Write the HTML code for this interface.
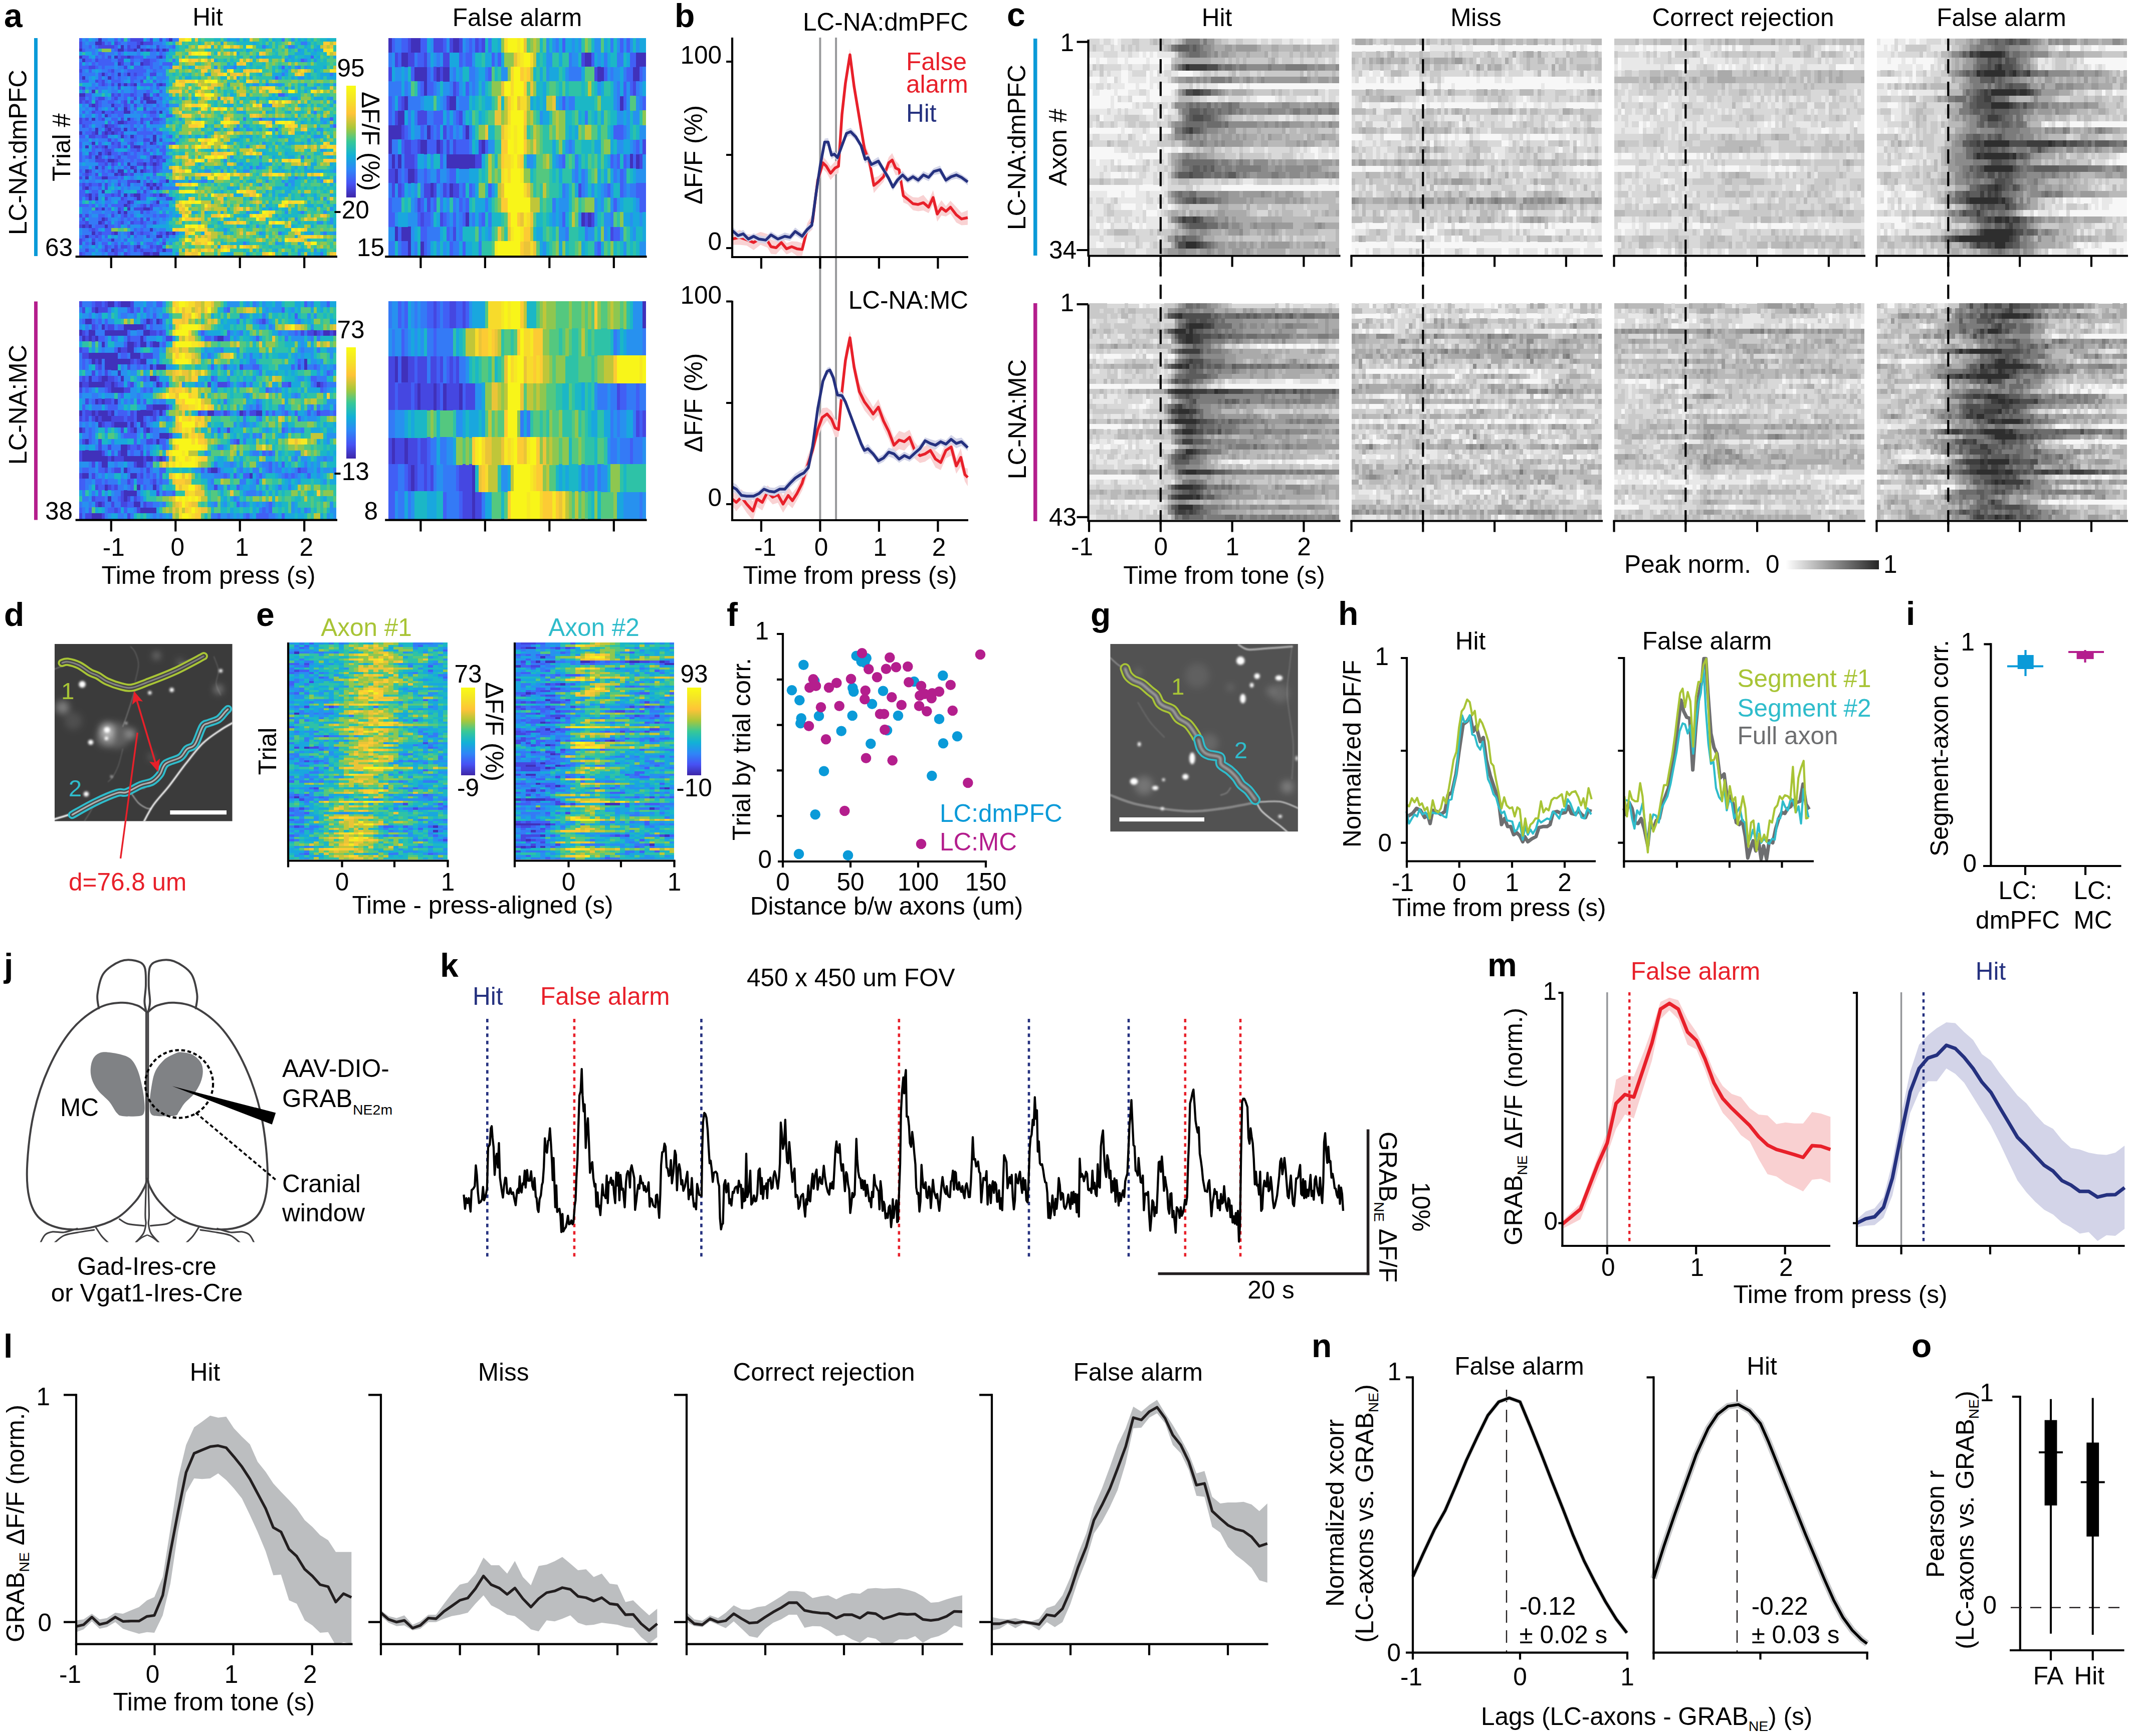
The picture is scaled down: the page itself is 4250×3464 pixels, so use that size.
<!DOCTYPE html><html><head><meta charset="utf-8"><style>html,body{margin:0;padding:0;background:#fff}svg{display:block;font-family:"Liberation Sans",sans-serif;font-size:49.5px}</style></head><body><svg width="4250" height="3464" viewBox="0 0 4250 3464"><rect width="4250" height="3464" fill="#fff"/><text x="8" y="54" font-weight="bold" font-size="66">a</text>
<text x="414.5" y="51" text-anchor="middle">Hit</text>
<text x="1032" y="52" text-anchor="middle">False alarm</text>
<rect x="68" y="76" width="7" height="435" fill="#0a9ad8"/>
<rect x="68" y="601.5" width="7" height="436" fill="#b41e8d"/>
<text text-anchor="middle" transform="translate(52.5,304) rotate(-90)">LC-NA:dmPFC</text>
<text text-anchor="middle" transform="translate(52.5,807.5) rotate(-90)">LC-NA:MC</text>
<text text-anchor="middle" transform="translate(140,294) rotate(-90)">Trial #</text>
<g transform="translate(157.6,79.44) scale(6.4175,6.8889)" shape-rendering="crispEdges" fill="none" stroke-width="1.03">
<rect x="0" y="-0.5" width="80" height="63" fill="#2ec2a7"/>
<path d="M6 0h1M28 0h1M5 1h2M19 1h1M13 2h1M18 2h1M0 3h1M12 3h2M17 3h1M19 3h1M21 3h1M24 3h1M26 3h1M0 5h1M11 5h1M15 5h1M25 5h1M1 6h1M12 7h1M19 7h1M7 10h1M12 10h1M15 10h1M1 11h1M9 11h1M12 13h1M14 13h1M17 13h1M25 13h1M4 15h1M0 16h2M20 16h1M20 17h2M21 18h3M4 19h1M10 19h1M14 20h1M7 21h1M14 21h2M25 21h1M8 22h1M4 23h1M15 23h1M12 24h2M8 25h1M5 26h1M9 26h1M14 26h1M0 27h1M5 27h1M8 27h1M10 27h1M13 28h1M16 28h1M23 28h1M23 29h1M4 30h1M22 30h1M2 31h1M8 31h1M17 31h2M6 33h1M9 33h1M5 34h1M23 34h1M9 35h2M15 36h1M20 36h1M23 36h1M5 37h1M16 37h1M2 38h1M12 38h2M17 38h1M19 38h1M11 39h1M13 39h1M2 40h1M7 40h2M18 41h1M27 41h1M21 42h1M23 42h1M2 43h1M22 43h1M24 43h1M7 44h1M3 45h1M14 45h1M17 45h2M25 45h1M3 46h1M5 46h1M18 46h1M15 47h1M24 47h1M14 48h1M7 49h1M15 49h1M20 49h2M12 50h1M14 50h1M7 52h1M6 53h1M1 54h1M3 54h1M8 54h1M22 55h1M4 56h1M11 56h1M16 56h1M27 56h1M29 56h1M2 57h1M24 57h2M10 58h1M4 59h1M18 60h1M10 61h1M26 61h1M20 62h2M23 62h2" stroke="#4031bb"/>
<path d="M16 0h4M22 0h1M25 0h1M0 1h1M7 1h1M11 1h1M18 1h1M20 1h3M0 2h1M6 2h5M15 2h1M24 2h1M15 3h2M20 3h1M22 3h1M27 3h1M9 5h1M13 5h2M16 5h1M24 5h1M5 6h1M12 6h2M20 6h2M13 7h1M16 7h1M20 7h2M3 8h2M14 8h1M0 9h1M10 9h1M17 10h1M22 10h2M5 12h1M7 12h1M19 12h1M7 13h1M10 13h1M16 13h1M24 13h1M26 13h1M1 14h1M12 14h1M10 16h1M12 16h1M16 16h1M21 16h1M24 16h1M0 17h2M6 17h2M11 17h1M17 17h1M22 17h1M0 18h1M2 18h1M5 18h1M14 18h1M16 18h1M19 18h1M3 19h1M5 19h1M14 19h1M17 19h1M5 20h1M11 20h1M20 20h1M4 21h1M10 21h1M22 21h2M0 23h1M2 23h1M7 23h1M13 23h1M19 23h1M23 23h2M0 24h1M14 24h1M19 24h1M22 24h1M1 25h1M9 25h2M8 26h1M11 26h2M17 26h1M4 27h1M7 27h1M9 27h1M11 27h1M13 27h1M3 28h2M7 28h2M9 29h1M20 29h2M25 29h1M10 30h1M12 30h1M16 30h1M23 30h1M5 31h1M7 31h1M12 31h1M14 31h1M16 31h1M8 32h2M18 32h1M20 32h1M3 33h1M8 33h1M14 33h1M3 34h1M6 34h1M12 34h1M22 34h1M24 34h2M5 35h3M11 35h1M22 35h1M24 35h1M26 35h1M8 36h1M10 36h1M18 36h2M22 36h1M24 36h1M7 37h1M17 37h1M20 37h1M23 37h1M3 38h1M10 38h1M20 38h1M23 38h1M2 39h1M5 39h1M12 39h1M14 39h1M16 39h1M0 40h1M15 41h3M1 42h1M3 42h1M6 42h1M8 42h1M12 42h1M15 42h1M22 42h1M25 42h1M1 43h1M8 43h1M12 44h1M20 44h1M2 45h1M5 45h1M10 45h1M12 45h1M16 45h1M23 45h1M26 45h1M8 46h1M13 46h1M27 46h2M16 47h1M15 48h1M20 48h1M22 48h1M5 49h1M12 49h1M17 49h3M22 49h1M19 50h1M0 51h1M2 51h1M10 51h1M14 51h1M1 52h1M8 52h1M19 52h1M21 52h1M2 53h1M7 53h1M13 53h1M16 53h1M19 53h1M23 53h1M0 54h1M2 54h1M4 55h1M6 56h1M10 56h1M19 56h1M25 56h1M28 56h1M5 57h1M21 57h1M27 57h1M0 58h1M4 58h1M0 59h1M26 59h1M8 60h1M11 60h1M13 60h2M17 60h1M22 60h1M24 60h2M2 61h1M8 61h1M11 61h1M17 61h1M19 61h1M24 61h1M0 62h1M11 62h1M14 62h1M22 62h1" stroke="#4547e1"/>
<path d="M0 0h1M11 0h1M13 0h1M27 0h1M9 1h1M12 1h1M15 1h3M3 2h1M5 2h1M11 2h1M16 2h2M29 2h1M1 3h1M11 3h1M14 3h1M23 3h1M25 3h1M6 4h2M12 4h1M25 4h1M1 5h2M5 5h1M7 5h1M12 5h1M17 5h3M26 5h1M72 5h1M2 6h2M6 6h4M16 6h1M19 6h1M22 6h2M69 6h1M0 7h1M4 7h1M6 7h5M22 7h1M26 7h3M0 8h3M5 8h1M7 8h1M17 8h3M22 8h1M25 8h1M63 8h1M3 9h1M9 9h1M15 9h6M23 9h1M0 10h1M6 10h1M8 10h1M10 10h1M14 10h1M16 10h1M18 10h2M0 11h1M6 11h1M10 11h1M12 11h1M16 11h2M20 11h1M61 11h1M1 12h2M6 12h1M10 12h3M16 12h1M23 12h1M6 13h1M8 13h1M13 13h1M15 13h1M19 13h4M0 14h1M5 14h1M17 14h1M24 14h1M17 15h1M21 15h1M25 15h1M2 16h2M11 16h1M14 16h2M17 16h1M23 16h1M62 16h2M3 17h1M5 17h1M10 17h1M14 17h1M19 17h1M25 17h1M1 18h1M3 18h1M6 18h1M9 18h2M13 18h1M6 19h1M11 19h2M15 19h1M20 19h1M24 19h1M27 19h1M15 20h1M17 20h1M23 20h1M1 21h1M5 21h2M8 21h2M11 21h3M20 21h2M6 22h1M9 22h1M12 22h2M22 22h2M27 22h2M1 23h1M6 23h1M10 23h2M16 23h1M20 23h2M25 23h1M56 23h1M78 23h1M1 24h3M9 24h1M11 24h1M15 24h3M23 24h2M2 25h1M7 25h1M11 25h1M16 25h1M20 25h1M79 25h1M3 26h1M10 26h1M16 26h1M20 26h1M23 26h1M2 27h2M12 27h1M18 27h5M24 27h2M0 28h2M5 28h2M14 28h1M17 28h1M20 28h1M28 28h1M11 29h1M16 29h2M0 30h1M6 30h1M11 30h1M15 30h1M20 30h1M28 30h2M0 31h1M4 31h1M6 31h1M10 31h2M19 31h2M24 31h1M26 31h1M4 32h1M7 32h1M10 32h1M16 32h2M22 32h1M25 32h2M0 33h1M4 33h1M7 33h1M10 33h2M13 33h1M15 33h1M17 33h1M20 33h2M26 33h1M0 34h1M2 34h1M9 34h1M11 34h1M15 34h3M0 35h1M8 35h1M12 35h2M16 35h1M18 35h2M23 35h1M25 35h1M6 36h2M11 36h1M13 36h1M21 36h1M25 36h1M10 37h1M14 37h1M24 37h2M0 38h1M7 38h1M9 38h1M15 38h1M21 38h1M24 38h1M1 39h1M3 39h1M7 39h2M15 39h1M23 39h1M5 40h2M9 40h3M13 40h1M21 40h1M12 41h1M20 41h1M22 41h1M25 41h2M0 42h1M2 42h1M4 42h2M20 42h1M24 42h1M3 43h1M6 43h1M19 43h1M21 43h1M23 43h1M25 43h1M0 44h2M4 44h2M18 44h1M0 45h2M4 45h1M8 45h2M11 45h1M19 45h2M22 45h1M24 45h1M0 46h1M2 46h1M4 46h1M14 46h1M17 46h1M19 46h2M12 47h3M23 47h1M0 48h3M4 48h1M8 48h1M10 48h4M19 48h1M23 48h2M27 48h1M6 49h1M9 49h1M13 49h1M10 50h1M13 50h1M21 50h1M6 51h2M13 51h1M16 51h1M23 51h1M25 51h2M6 52h1M13 52h1M15 52h1M17 52h1M0 53h2M9 53h1M12 53h1M17 53h2M20 53h1M5 54h3M9 54h2M12 54h1M15 54h1M20 54h1M3 55h1M5 55h1M8 55h2M17 55h1M19 55h1M5 56h1M7 56h3M15 56h1M18 56h1M20 56h2M24 56h1M26 56h1M1 57h1M3 57h2M6 57h1M8 57h1M15 57h1M17 57h1M1 58h1M6 58h1M9 58h1M14 58h1M23 58h1M26 58h1M2 59h1M7 59h2M11 59h1M13 59h1M18 59h1M21 59h2M9 60h1M15 60h1M23 60h1M7 61h1M12 61h2M15 61h1M18 61h1M20 61h3M25 61h1M27 61h2M1 62h1M9 62h2M15 62h1M19 62h1" stroke="#415ff5"/>
<path d="M2 0h1M5 0h1M7 0h2M15 0h1M21 0h1M29 0h2M63 0h1M1 1h1M3 1h2M8 1h1M13 1h2M23 1h3M69 1h2M1 2h2M14 2h1M19 2h2M22 2h1M25 2h2M28 2h1M57 2h1M65 2h2M2 3h3M10 3h1M18 3h1M4 4h1M8 4h3M13 4h1M18 4h1M22 4h2M26 4h1M6 5h1M8 5h1M21 5h3M0 6h1M4 6h1M10 6h2M17 6h2M24 6h1M29 6h1M70 6h1M2 7h1M5 7h1M14 7h2M23 7h2M6 8h1M8 8h3M12 8h2M20 8h2M23 8h2M28 8h1M48 8h1M68 8h1M1 9h1M7 9h2M11 9h2M14 9h1M22 9h1M24 9h3M1 10h4M9 10h1M11 10h1M13 10h1M20 10h1M26 10h1M63 10h1M78 10h1M2 11h1M8 11h1M11 11h1M13 11h2M18 11h2M22 11h1M24 11h3M0 12h1M8 12h1M13 12h1M17 12h2M25 12h1M4 13h1M9 13h1M11 13h1M58 13h1M3 14h2M6 14h3M10 14h1M16 14h1M22 14h1M1 15h1M6 15h1M10 15h2M13 15h1M16 15h1M18 15h3M22 15h1M13 16h1M18 16h2M2 17h1M8 17h1M12 17h2M16 17h1M23 17h2M7 18h2M11 18h1M20 18h1M24 18h2M1 19h1M7 19h3M13 19h1M18 19h1M21 19h2M25 19h1M2 20h1M4 20h1M6 20h1M9 20h1M13 20h1M22 20h1M24 20h3M3 21h1M16 21h1M18 21h2M24 21h1M27 21h1M73 21h1M0 22h1M2 22h2M5 22h1M10 22h2M19 22h1M21 22h1M24 22h1M3 23h1M5 23h1M17 23h1M22 23h1M26 23h1M51 23h1M60 23h1M4 24h4M18 24h1M20 24h1M25 24h2M0 25h1M3 25h1M5 25h2M12 25h1M14 25h2M18 25h1M0 26h3M4 26h1M6 26h1M13 26h1M15 26h1M19 26h1M21 26h1M48 26h1M61 26h1M1 27h1M23 27h1M12 28h1M15 28h1M18 28h2M21 28h2M25 28h1M27 28h1M0 29h3M4 29h1M6 29h3M10 29h1M14 29h2M18 29h2M22 29h1M3 30h1M17 30h1M21 30h1M26 30h2M9 31h1M13 31h1M21 31h3M25 31h1M0 32h1M5 32h2M15 32h1M19 32h1M23 32h1M5 33h1M12 33h1M16 33h1M18 33h2M23 33h1M1 34h1M4 34h1M7 34h1M10 34h1M13 34h2M18 34h1M21 34h1M26 34h2M69 34h1M1 35h1M3 35h2M14 35h2M17 35h1M20 35h2M9 36h1M16 36h2M0 37h3M4 37h1M6 37h1M8 37h1M12 37h1M15 37h1M22 37h1M53 37h1M55 37h1M1 38h1M4 38h1M6 38h1M8 38h1M11 38h1M18 38h1M22 38h1M25 38h1M0 39h1M4 39h1M9 39h2M19 39h1M1 40h1M4 40h1M12 40h1M16 40h1M23 40h1M25 40h2M67 40h1M1 41h1M3 41h2M7 41h1M9 41h1M13 41h2M29 41h1M34 41h1M38 41h2M9 42h1M11 42h1M14 42h1M17 42h2M64 42h1M0 43h1M4 43h2M13 43h1M15 43h1M26 43h5M3 44h1M11 44h1M13 44h1M21 44h1M15 45h1M21 45h1M27 45h1M9 46h1M15 46h2M24 46h3M0 47h1M5 47h1M8 47h2M22 47h1M3 48h1M6 48h1M16 48h1M18 48h1M21 48h1M25 48h2M1 49h3M8 49h1M25 49h1M1 50h2M4 50h3M8 50h2M11 50h1M15 50h2M20 50h1M22 50h2M26 50h1M69 50h1M1 51h1M3 51h1M8 51h1M11 51h1M15 51h1M20 51h3M24 51h1M27 51h1M0 52h1M3 52h3M9 52h1M12 52h1M14 52h1M16 52h1M18 52h1M23 52h2M26 52h1M3 53h3M8 53h1M11 53h1M14 53h1M21 53h2M24 53h1M4 54h1M11 54h1M19 54h1M1 55h2M18 55h1M20 55h2M23 55h1M25 55h2M1 56h3M12 56h1M14 56h1M17 56h1M22 56h1M30 56h1M62 56h1M76 56h1M0 57h1M12 57h1M18 57h2M22 57h2M26 57h1M29 57h1M2 58h1M5 58h1M7 58h2M11 58h2M17 58h3M24 58h1M3 59h1M5 59h1M10 59h1M15 59h1M20 59h1M23 59h1M25 59h1M51 59h1M1 60h2M5 60h1M7 60h1M10 60h1M12 60h1M16 60h1M19 60h1M21 60h1M0 61h2M3 61h2M6 61h1M9 61h1M16 61h1M23 61h1M2 62h2M7 62h1M12 62h1M16 62h3M75 62h1" stroke="#347af6"/>
<path d="M1 0h1M4 0h1M9 0h2M12 0h1M24 0h1M26 0h1M46 0h1M49 0h1M66 0h1M2 1h1M26 1h1M4 2h1M12 2h1M21 2h1M23 2h1M27 2h1M5 3h1M29 3h1M68 3h1M73 3h1M5 4h1M11 4h1M15 4h3M24 4h1M3 5h1M10 5h1M55 5h1M65 5h1M25 6h2M64 6h1M73 6h1M3 7h1M11 7h1M17 7h2M25 7h1M11 8h1M15 8h1M26 8h2M42 8h1M45 8h1M47 8h1M65 8h1M67 8h1M70 8h1M2 9h1M4 9h1M6 9h1M13 9h1M21 9h1M64 9h1M5 10h1M21 10h1M24 10h2M3 11h1M5 11h1M7 11h1M15 11h1M27 11h1M62 11h1M68 11h2M3 12h2M9 12h1M14 12h1M21 12h1M24 12h1M26 12h1M5 13h1M18 13h1M23 13h1M54 13h2M61 13h2M70 13h1M79 13h1M2 14h1M9 14h1M11 14h1M14 14h2M20 14h1M23 14h1M25 14h2M73 14h1M3 15h1M9 15h1M14 15h2M26 15h1M4 16h1M25 16h3M64 16h1M4 17h1M9 17h1M18 17h1M26 17h1M28 17h1M32 17h1M43 17h1M66 17h2M78 17h1M12 18h1M17 18h2M27 18h1M79 18h1M2 19h1M16 19h1M19 19h1M23 19h1M26 19h1M28 19h3M57 19h1M59 19h1M0 20h2M3 20h1M7 20h1M10 20h1M12 20h1M16 20h1M21 20h1M27 20h1M0 21h1M2 21h1M17 21h1M26 21h1M7 22h1M14 22h5M8 23h2M12 23h1M14 23h1M18 23h1M31 23h1M57 23h1M59 23h1M75 23h1M10 24h1M76 24h1M13 25h1M17 25h1M19 25h1M22 25h4M49 25h1M51 25h1M78 25h1M7 26h1M18 26h1M22 26h1M24 26h1M42 26h1M49 26h1M52 26h1M59 26h1M74 26h2M6 27h1M14 27h4M26 27h2M2 28h1M9 28h2M24 28h1M31 28h1M39 28h1M62 28h1M73 28h2M5 29h1M12 29h1M24 29h1M26 29h1M30 29h1M71 29h1M1 30h2M7 30h1M9 30h1M13 30h2M18 30h1M24 30h1M57 30h1M1 31h1M52 31h1M2 32h2M11 32h1M21 32h1M27 32h1M75 32h1M1 33h1M25 33h1M8 34h1M28 34h1M47 34h1M56 34h1M2 35h1M45 35h1M0 36h1M2 36h4M14 36h1M50 36h1M56 36h1M11 37h1M13 37h1M18 37h2M21 37h1M27 37h1M56 37h1M70 37h1M5 38h1M16 38h1M26 38h3M39 38h2M44 38h1M51 38h2M79 38h1M17 39h2M3 40h1M15 40h1M17 40h1M19 40h1M22 40h1M24 40h1M74 40h1M0 41h1M2 41h1M5 41h2M10 41h2M19 41h1M21 41h1M24 41h1M30 41h1M37 41h1M41 41h1M58 41h1M63 41h1M65 41h2M75 41h1M79 41h1M7 42h1M13 42h1M16 42h1M19 42h1M26 42h1M28 42h1M56 42h1M66 42h1M11 43h1M14 43h1M16 43h3M20 43h1M6 44h1M10 44h1M19 44h1M22 44h1M24 44h1M6 45h2M13 45h1M69 45h1M1 46h1M6 46h1M10 46h3M29 46h1M53 46h1M76 46h1M3 47h1M6 47h1M10 47h1M17 47h1M19 47h2M26 47h2M7 48h1M9 48h1M17 48h1M11 49h1M16 49h1M23 49h2M26 49h2M59 49h1M78 49h1M3 50h1M7 50h1M17 50h2M24 50h1M28 50h1M52 50h1M55 50h1M64 50h1M76 50h1M4 51h2M9 51h1M12 51h1M17 51h1M19 51h1M28 51h1M30 51h1M10 52h2M20 52h1M22 52h1M25 52h1M27 52h1M67 52h1M78 52h1M15 53h1M25 53h2M74 53h2M78 53h1M14 54h1M16 54h3M21 54h2M55 54h1M0 55h1M6 55h1M16 55h1M24 55h1M45 55h1M0 56h1M13 56h1M23 56h1M56 56h1M72 56h1M79 56h1M7 57h1M10 57h1M13 57h2M20 57h1M28 57h1M3 58h1M13 58h1M16 58h1M20 58h3M27 58h1M1 59h1M6 59h1M12 59h1M14 59h1M17 59h1M28 59h1M61 59h1M3 60h1M20 60h1M14 61h1M73 61h1M5 62h2M8 62h1M13 62h1M25 62h4M30 62h1M68 62h1" stroke="#2791ef"/>
<path d="M3 0h1M20 0h1M23 0h1M47 0h2M51 0h1M58 0h1M60 0h1M68 0h1M70 0h1M77 0h1M10 1h1M29 1h1M44 1h1M54 1h1M71 1h1M58 2h1M67 2h1M70 2h1M74 2h1M28 3h1M47 3h1M52 3h1M69 3h1M71 3h1M74 3h2M0 4h1M2 4h2M14 4h1M19 4h1M27 4h1M49 4h1M67 4h3M72 4h2M4 5h1M20 5h1M28 5h1M40 5h1M53 5h1M57 5h1M66 5h1M70 5h2M74 5h1M79 5h1M14 6h2M42 6h1M66 6h1M68 6h1M71 6h1M1 7h1M30 7h1M46 7h1M48 7h1M53 7h1M34 8h1M46 8h1M50 8h2M62 8h1M71 8h1M76 8h1M5 9h1M63 9h1M73 9h1M40 10h1M56 10h1M60 10h3M64 10h1M71 10h1M75 10h3M79 10h1M4 11h1M23 11h1M33 11h2M49 11h1M53 11h1M60 11h1M66 11h1M71 11h1M75 11h1M77 11h3M15 12h1M27 12h1M1 13h3M27 13h1M46 13h1M52 13h1M59 13h2M63 13h1M74 13h1M76 13h2M13 14h1M19 14h1M21 14h1M64 14h1M66 14h1M72 14h1M0 15h1M7 15h2M12 15h1M23 15h2M70 15h1M5 16h2M8 16h1M22 16h1M47 16h1M60 16h1M15 17h1M27 17h1M35 17h1M55 17h1M59 17h1M61 17h1M73 17h3M77 17h1M15 18h1M26 18h1M0 19h1M46 19h2M58 19h1M69 19h1M78 19h1M8 20h1M49 21h3M58 21h1M65 21h1M72 21h1M1 22h1M4 22h1M20 22h1M26 22h1M29 22h1M37 23h1M54 23h2M58 23h1M61 23h2M64 23h1M67 23h1M72 23h1M76 23h2M21 24h1M28 24h1M60 24h1M69 24h1M75 24h1M4 25h1M21 25h1M26 25h1M39 25h1M52 25h1M53 26h1M56 26h1M69 27h1M71 27h1M75 27h1M11 28h1M26 28h1M34 28h1M36 28h2M50 28h1M52 28h2M63 28h1M75 28h1M3 29h1M27 29h2M48 29h2M53 29h1M65 29h1M5 30h1M8 30h1M19 30h1M25 30h1M46 30h1M61 30h1M65 30h2M69 30h1M71 30h1M3 31h1M15 31h1M58 31h1M1 32h1M12 32h3M24 32h1M28 32h1M41 32h1M43 32h1M46 32h1M76 32h1M2 33h1M22 33h1M24 33h1M57 33h1M64 33h1M19 34h2M53 34h1M60 34h1M65 34h2M71 34h1M78 34h1M27 35h1M48 35h1M1 36h1M12 36h1M26 36h1M28 36h1M37 36h1M49 36h1M52 36h1M58 36h2M63 36h1M72 36h2M78 36h1M3 37h1M9 37h1M26 37h1M42 37h2M46 37h1M48 37h1M51 37h1M57 37h1M62 37h1M67 37h1M72 37h1M79 37h1M14 38h1M37 38h1M46 38h1M49 38h1M61 38h1M63 38h1M66 38h1M70 38h3M74 38h2M78 38h1M6 39h1M20 39h3M14 40h1M18 40h1M20 40h1M35 40h1M38 40h1M65 40h2M68 40h1M70 40h1M72 40h1M79 40h1M8 41h1M23 41h1M28 41h1M31 41h2M35 41h2M53 41h1M10 42h1M27 42h1M29 42h1M78 42h1M7 43h1M9 43h1M12 43h1M36 43h1M46 43h2M49 43h1M61 43h2M65 43h2M2 44h1M14 44h2M44 44h1M58 44h1M60 44h1M64 44h2M48 45h3M57 45h1M60 45h1M62 45h3M73 45h1M78 45h1M21 46h1M23 46h1M73 46h1M7 47h1M11 47h1M18 47h1M21 47h1M25 47h1M29 47h1M77 47h1M5 48h1M58 48h1M71 48h2M75 48h1M79 48h1M0 49h1M28 49h2M57 49h1M61 49h1M64 49h1M0 50h1M29 50h1M35 50h2M39 50h1M44 50h1M54 50h1M68 50h1M18 51h1M29 51h1M31 51h1M51 51h1M61 51h1M2 52h1M28 52h1M46 52h1M62 52h1M64 52h1M10 53h1M27 53h1M37 53h1M43 53h1M68 53h1M77 53h1M13 54h1M23 54h5M49 54h1M52 54h1M60 54h1M66 54h1M72 54h1M79 54h1M7 55h1M27 55h2M31 56h2M38 56h1M45 56h1M57 56h1M63 56h1M70 56h2M75 56h1M78 56h1M11 57h1M16 57h1M30 57h1M67 57h1M15 58h1M25 58h1M28 58h3M71 58h1M79 58h1M9 59h1M24 59h1M52 59h1M62 59h2M68 59h1M0 60h1M4 60h1M6 60h1M26 60h1M43 60h1M5 61h1M56 61h1M61 61h1M68 61h2M75 61h1M4 62h1M46 62h2M52 62h1M64 62h1M71 62h1M73 62h2" stroke="#19a7de"/>
<path d="M42 0h2M45 0h1M52 0h1M57 0h1M61 0h2M69 0h1M72 0h1M75 0h2M78 0h2M27 1h1M37 1h1M49 1h5M55 1h1M57 1h1M59 1h1M61 1h1M67 1h2M73 1h1M30 2h1M33 2h1M41 2h1M51 2h1M55 2h2M59 2h1M61 2h1M64 2h1M71 2h1M73 2h1M30 3h1M40 3h1M48 3h1M50 3h1M53 3h1M60 3h1M65 3h1M72 3h1M20 4h2M28 4h2M42 4h1M55 4h1M61 4h1M74 4h1M76 4h1M27 5h1M32 5h1M49 5h2M56 5h1M58 5h5M64 5h1M68 5h2M73 5h1M77 5h1M27 6h1M30 6h1M45 6h1M47 6h1M54 6h1M65 6h1M67 6h1M74 6h1M76 6h1M29 7h1M57 7h1M74 7h3M16 8h1M32 8h1M35 8h1M49 8h1M53 8h1M55 8h2M60 8h1M64 8h1M72 8h4M45 9h1M50 9h1M60 9h1M74 9h1M29 10h1M32 10h1M34 10h1M39 10h1M55 10h1M70 10h1M74 10h1M21 11h1M31 11h1M37 11h1M44 11h2M51 11h1M64 11h1M67 11h1M70 11h1M72 11h1M74 11h1M20 12h1M22 12h1M29 12h1M48 12h1M51 12h1M58 12h1M28 13h1M53 13h1M57 13h1M68 13h2M73 13h1M18 14h1M43 14h1M68 14h1M70 14h2M76 14h2M45 15h1M47 15h1M68 15h1M9 16h1M45 16h1M48 16h1M52 16h1M65 16h4M72 16h1M29 17h2M36 17h1M50 17h2M53 17h2M58 17h1M60 17h1M63 17h1M65 17h1M68 17h1M4 18h1M42 18h1M49 18h1M55 18h1M71 18h1M42 19h1M45 19h1M50 19h1M68 19h1M70 19h1M72 19h1M74 19h1M18 20h2M36 20h1M60 20h1M76 20h1M28 21h1M59 21h2M64 21h1M68 21h2M75 21h1M25 22h1M44 22h1M68 22h1M79 22h1M28 23h2M36 23h1M63 23h1M65 23h2M70 23h1M79 23h1M8 24h1M27 24h1M32 24h1M42 24h1M70 24h1M72 24h2M77 24h1M79 24h1M31 25h1M41 25h1M55 25h1M62 25h1M74 25h1M26 26h2M30 26h1M38 26h1M43 26h1M45 26h1M50 26h1M55 26h1M60 26h1M72 26h1M77 26h1M28 27h2M40 27h2M60 27h1M62 27h1M67 27h2M73 27h1M29 28h1M32 28h1M51 28h1M55 28h1M60 28h2M64 28h3M72 28h1M78 28h1M13 29h1M47 29h1M50 29h1M66 29h1M73 29h1M76 29h1M30 30h1M47 30h1M50 30h1M55 30h1M58 30h2M62 30h1M64 30h1M67 30h2M74 30h1M78 30h1M27 31h1M50 31h1M60 31h1M63 31h1M39 32h2M56 32h3M60 32h1M64 32h2M71 32h1M78 32h1M27 33h1M29 33h1M31 33h2M49 33h1M58 33h4M65 33h3M73 33h2M51 34h2M54 34h1M61 34h2M64 34h1M77 34h1M28 35h1M47 35h1M50 35h2M56 35h1M69 35h1M73 35h1M27 36h1M29 36h1M31 36h1M45 36h1M51 36h1M53 36h1M57 36h1M79 36h1M36 37h1M39 37h1M49 37h1M52 37h1M54 37h1M66 37h1M78 37h1M35 38h1M38 38h1M50 38h1M60 38h1M62 38h1M64 38h1M68 38h1M73 38h1M76 38h2M26 39h1M55 39h1M33 40h1M57 40h2M69 40h1M73 40h1M76 40h2M33 41h1M40 41h1M50 41h1M52 41h1M54 41h1M64 41h1M67 41h2M71 41h1M74 41h1M42 42h1M55 42h1M65 42h1M67 42h2M76 42h1M10 43h1M48 43h1M60 43h1M63 43h2M68 43h1M70 43h1M73 43h1M75 43h1M77 43h1M79 43h1M8 44h2M16 44h2M23 44h1M25 44h1M28 44h1M42 44h1M76 44h1M28 45h1M30 45h1M33 45h2M58 45h1M66 45h1M70 45h1M72 45h1M79 45h1M7 46h1M22 46h1M30 46h1M33 46h1M45 46h1M51 46h1M60 46h1M62 46h1M66 46h1M70 46h1M74 46h1M1 47h1M4 47h1M28 47h1M41 47h1M59 47h1M71 47h1M28 48h1M45 48h1M50 48h1M53 48h1M56 48h1M59 48h1M61 48h1M67 48h1M70 48h1M74 48h1M10 49h1M14 49h1M46 49h1M58 49h1M60 49h1M63 49h1M66 49h2M73 49h1M79 49h1M25 50h1M27 50h1M30 50h1M40 50h1M53 50h1M66 50h2M70 50h1M77 50h1M48 51h3M52 51h1M63 51h5M79 51h1M41 52h1M45 52h1M48 52h1M58 52h1M79 52h1M32 53h1M44 53h1M53 53h1M58 53h1M70 53h3M79 53h1M28 54h1M40 54h2M44 54h1M50 54h1M57 54h1M61 54h2M67 54h1M43 55h2M46 55h1M64 55h2M47 56h1M64 56h1M77 56h1M9 57h1M31 57h1M57 57h1M76 58h1M16 59h1M19 59h1M27 59h1M44 59h2M47 59h4M57 59h1M59 60h1M63 60h1M65 60h1M69 60h1M29 61h2M32 61h1M51 61h1M54 61h1M60 61h1M66 61h1M70 61h1M76 61h1M29 62h1M45 62h1M63 62h1M76 62h1" stroke="#1bb7c6"/>
<path d="M38 0h1M44 0h1M59 0h1M64 0h1M73 0h1M33 1h1M36 1h1M42 1h1M46 1h2M58 1h1M60 1h1M63 1h1M66 1h1M36 2h1M60 2h1M62 2h1M72 2h1M35 3h2M54 3h2M62 3h1M67 3h1M32 4h1M41 4h1M44 4h1M50 4h2M54 4h1M59 4h1M62 4h2M29 5h1M37 5h3M42 5h5M48 5h1M51 5h2M63 5h1M75 5h1M78 5h1M46 6h1M62 6h1M77 6h3M32 7h1M38 7h1M41 7h1M44 7h2M59 7h1M61 7h1M63 7h2M66 7h1M68 7h3M78 7h1M41 8h1M59 8h1M77 8h1M32 9h1M35 9h1M37 9h1M40 9h1M44 9h1M59 9h1M61 9h1M72 9h1M31 10h1M35 10h1M37 10h1M46 10h1M57 10h1M30 11h1M32 11h1M38 11h2M41 11h1M43 11h1M50 11h1M54 11h1M44 12h1M62 12h4M68 12h1M70 12h2M73 12h1M76 12h2M79 12h1M33 13h1M35 13h1M45 13h1M51 13h1M64 13h1M67 13h1M71 13h2M28 14h1M33 14h1M35 14h1M37 14h1M42 14h1M45 14h1M47 14h1M55 14h1M61 14h1M63 14h1M65 14h1M67 14h1M69 14h1M74 14h1M79 14h1M27 15h1M32 15h1M35 15h1M44 15h1M48 15h1M52 15h1M55 15h1M58 15h1M63 15h2M78 15h1M32 16h2M44 16h1M46 16h1M54 16h3M69 16h1M71 16h1M74 16h1M78 16h2M31 17h1M37 17h1M49 17h1M79 17h1M29 18h1M35 18h1M43 18h1M46 18h1M48 18h1M57 18h1M67 18h1M69 18h1M72 18h3M31 19h1M43 19h1M48 19h1M51 19h1M53 19h1M64 19h1M66 19h1M71 19h1M73 19h1M76 19h1M79 19h1M31 20h1M37 20h1M40 20h1M46 20h1M51 20h1M57 20h3M62 20h1M64 20h1M66 20h1M70 20h1M75 20h1M78 20h1M33 21h3M38 21h2M47 21h1M52 21h4M62 21h2M66 21h1M79 21h1M30 22h1M36 22h2M42 22h1M48 22h3M58 22h1M60 22h1M64 22h2M69 22h1M72 22h1M77 22h1M35 23h1M40 23h2M43 23h1M48 23h1M50 23h1M68 23h1M71 23h1M74 23h1M30 24h1M40 24h2M52 24h1M67 24h1M28 25h1M48 25h1M50 25h1M57 25h1M60 25h2M63 25h1M71 25h2M75 25h3M36 26h1M40 26h1M44 26h1M46 26h1M57 26h1M67 26h2M79 26h1M35 27h3M44 27h1M51 27h1M54 27h1M56 27h1M64 27h1M74 27h1M77 27h1M30 28h1M47 28h2M59 28h1M69 28h1M71 28h1M33 29h1M36 29h1M44 29h1M58 29h1M62 29h2M67 29h2M72 29h1M77 29h1M32 30h4M37 30h1M45 30h1M56 30h1M60 30h1M63 30h1M73 30h1M34 31h1M41 31h1M49 31h1M53 31h1M66 31h1M74 31h1M30 32h1M33 32h2M37 32h1M45 32h1M47 32h2M59 32h1M61 32h1M34 33h2M40 33h1M50 33h1M69 33h1M71 33h2M29 34h1M34 34h1M46 34h1M50 34h1M55 34h1M57 34h2M68 34h1M70 34h1M72 34h1M74 34h1M29 35h2M46 35h1M57 35h2M72 35h1M74 35h2M30 36h1M44 36h1M60 36h1M62 36h1M64 36h2M74 36h1M32 37h1M34 37h1M64 37h2M73 37h4M43 38h1M45 38h1M54 38h1M57 38h2M27 39h1M56 39h1M68 39h1M76 39h1M28 40h1M52 40h1M55 40h1M61 40h1M64 40h1M78 40h1M45 41h2M48 41h2M51 41h1M60 41h1M73 41h1M37 42h1M39 42h1M41 42h1M43 42h1M48 42h1M52 42h1M57 42h1M59 42h2M69 42h1M72 42h3M77 42h1M33 43h3M37 43h2M41 43h2M44 43h1M51 43h1M53 43h2M57 43h1M26 44h1M30 44h1M39 44h1M41 44h1M46 44h1M57 44h1M63 44h1M74 44h1M32 45h1M38 45h1M59 45h1M65 45h1M75 45h3M41 46h1M46 46h1M54 46h1M56 46h1M61 46h1M65 46h1M71 46h2M77 46h1M79 46h1M45 47h1M47 47h2M52 47h1M60 47h3M72 47h1M74 47h2M78 47h2M36 48h2M44 48h1M52 48h1M65 48h1M69 48h1M76 48h1M34 49h1M37 49h1M47 49h1M54 49h1M69 49h1M56 50h1M61 50h2M65 50h1M71 50h1M74 50h1M37 51h1M70 51h1M29 52h1M43 52h1M50 52h1M52 52h3M59 52h1M65 52h1M74 52h2M33 53h1M35 53h2M40 53h1M52 53h1M56 53h2M32 54h1M42 54h1M48 54h1M54 54h1M58 54h1M74 54h3M78 54h1M12 55h2M47 55h2M51 55h1M56 55h1M59 55h3M72 55h3M76 55h2M79 55h1M36 56h2M48 56h1M51 56h1M58 56h1M61 56h1M73 56h2M35 57h1M43 57h1M48 57h1M51 57h1M53 57h1M55 57h1M60 57h1M62 57h1M79 57h1M31 58h1M42 58h2M45 58h1M53 58h2M59 58h1M77 58h2M30 59h1M33 59h2M42 59h1M46 59h1M60 59h1M64 59h1M74 59h1M77 59h1M28 60h1M31 60h1M33 60h1M38 60h1M41 60h1M56 60h1M67 60h2M70 60h1M72 60h1M76 60h1M79 60h1M42 61h1M55 61h1M57 61h1M59 61h1M62 61h1M64 61h2M67 61h1M77 61h2M51 62h1M54 62h1M62 62h1M65 62h1" stroke="#54c87f"/>
<path d="M54 0h2M30 1h1M40 1h1M43 1h1M64 1h1M34 2h1M44 2h1M50 2h1M54 2h1M63 2h1M7 3h3M33 3h2M37 3h2M44 3h1M58 3h2M64 3h1M30 4h2M47 4h1M53 4h1M58 4h1M64 4h1M31 5h1M33 5h1M40 6h1M51 6h1M55 6h1M60 6h2M31 7h1M33 7h1M39 7h1M42 7h2M58 7h1M60 7h1M72 7h1M43 8h1M58 8h1M28 9h2M31 9h1M33 9h1M67 9h1M76 9h2M36 10h1M51 10h1M58 10h2M42 11h1M47 11h1M52 11h1M43 12h1M45 12h1M49 12h1M57 12h1M59 12h1M61 12h1M66 12h2M69 12h1M72 12h1M74 12h2M78 12h1M36 13h1M40 13h1M47 13h3M65 13h1M29 14h2M32 14h1M44 14h1M51 14h1M53 14h1M39 15h2M42 15h1M54 15h1M67 15h1M76 15h1M43 16h1M49 16h1M53 16h1M57 16h2M70 16h1M73 16h1M34 17h1M41 17h1M69 17h3M32 18h1M39 18h1M53 18h1M56 18h1M66 18h1M75 18h1M52 19h1M67 19h1M29 20h1M33 20h1M53 20h3M61 20h1M65 20h1M71 20h1M74 20h1M36 21h1M41 21h1M44 21h1M46 21h1M61 21h1M76 21h1M31 22h1M35 22h1M39 22h1M41 22h1M45 22h1M57 22h1M59 22h1M62 22h1M70 22h1M74 22h1M33 23h2M47 23h1M39 24h1M54 24h2M78 24h1M27 25h1M29 25h1M32 25h2M42 25h2M47 25h1M29 26h1M32 26h4M37 26h1M47 26h1M63 26h2M31 27h3M38 27h1M43 27h1M45 27h1M48 27h1M50 27h1M52 27h1M55 27h1M57 27h1M61 27h1M63 27h1M76 27h1M79 27h1M41 28h1M46 28h1M79 28h1M52 29h1M64 29h1M75 29h1M78 29h1M36 30h1M48 30h1M31 31h2M43 31h1M47 31h1M54 31h1M61 31h1M71 31h1M42 32h1M54 32h1M68 32h1M36 33h1M38 33h2M48 33h1M62 33h1M38 34h1M32 35h1M42 35h2M52 35h1M61 35h1M70 35h2M32 36h1M39 36h3M43 36h1M48 36h1M69 36h1M71 36h1M76 36h1M33 37h1M38 37h1M59 37h1M48 38h1M30 39h1M32 39h4M53 39h1M64 39h1M67 39h1M69 39h1M34 40h1M36 40h2M42 40h1M59 40h1M63 40h1M42 41h3M55 41h2M70 41h1M50 42h1M58 42h1M39 43h2M50 43h1M55 43h2M58 43h1M27 44h1M37 44h1M40 44h1M68 44h1M37 45h1M46 45h1M37 46h1M42 46h1M47 46h4M55 46h1M64 46h1M75 46h1M30 47h1M42 47h2M46 47h1M49 47h2M53 47h1M58 47h1M70 47h1M38 48h1M43 48h1M46 48h1M48 48h1M55 48h1M57 48h1M66 48h1M68 48h1M30 49h1M35 49h2M38 49h1M41 49h1M51 49h1M53 49h1M55 49h1M65 49h1M68 49h1M70 49h1M74 49h1M77 49h1M45 50h1M49 50h1M34 51h1M36 51h1M47 51h1M73 51h2M77 51h1M66 52h1M69 52h1M76 52h1M30 53h1M38 53h2M64 53h1M59 54h1M71 54h1M10 55h2M14 55h1M40 55h2M49 55h1M54 55h2M58 55h1M75 55h1M78 55h1M43 56h2M49 56h1M60 56h1M65 56h2M37 57h1M44 57h2M47 57h1M49 57h2M52 57h1M61 57h1M64 57h3M76 57h1M78 57h1M32 58h1M35 58h1M41 58h1M46 58h2M57 58h1M60 58h1M62 58h1M70 58h1M59 59h1M66 59h2M75 59h2M79 59h1M27 60h1M32 60h1M36 60h2M74 60h1M77 60h1M34 61h1M72 61h1M31 62h2M39 62h3M48 62h3M77 62h1" stroke="#8ec750"/>
<path d="M39 1h1M45 1h1M78 1h1M35 2h1M42 2h1M47 2h1M75 2h1M77 2h1M45 4h1M78 4h1M37 6h1M53 6h1M63 6h1M34 7h2M40 7h1M65 7h1M67 7h1M31 8h1M37 8h2M79 8h1M34 9h1M41 9h1M66 9h1M71 9h1M38 10h1M41 10h2M40 11h1M37 12h2M54 12h2M60 12h1M29 13h1M38 13h2M43 13h2M50 13h1M31 14h1M48 14h1M50 14h1M54 14h1M56 14h1M33 15h1M36 15h1M38 15h1M49 15h3M57 15h1M74 15h1M77 15h1M79 15h1M29 16h1M31 16h1M34 16h1M42 16h1M38 17h1M42 17h1M45 17h1M33 18h2M37 18h2M50 18h1M54 18h1M62 18h1M70 18h1M77 18h1M32 19h1M40 19h1M62 19h2M30 20h1M32 20h1M34 20h1M47 20h1M49 20h1M52 20h1M56 20h1M68 20h1M73 20h1M29 21h2M57 21h1M71 21h1M77 21h1M40 22h1M46 22h2M56 22h1M61 22h1M63 22h1M67 22h1M76 22h1M33 24h2M46 25h1M69 25h2M73 25h1M65 26h1M42 27h1M49 27h1M53 27h1M43 28h1M45 28h1M57 28h1M77 28h1M34 29h2M43 29h1M45 29h2M39 30h1M42 30h3M28 31h1M35 31h1M42 31h1M46 31h1M56 31h2M67 31h3M72 31h1M50 32h3M67 32h1M69 32h1M72 32h2M33 33h1M37 33h1M51 33h1M55 33h1M79 33h1M31 34h1M36 34h1M33 35h1M35 35h1M41 35h1M42 36h1M66 36h2M75 36h1M77 36h1M28 37h1M31 37h1M59 38h1M29 39h1M31 39h1M41 39h1M47 39h1M50 39h2M58 39h1M65 39h1M72 39h1M29 40h1M32 40h1M50 40h1M47 42h1M53 42h1M52 43h1M59 43h1M36 44h1M38 44h1M70 44h2M78 44h1M39 45h1M43 45h2M51 45h2M56 45h1M38 47h3M54 47h1M56 47h1M33 48h2M41 48h2M49 48h1M40 49h1M42 49h4M48 49h1M31 50h1M33 50h1M38 50h1M43 50h1M48 50h1M38 51h1M71 51h1M31 52h1M38 52h1M40 52h1M44 52h1M49 52h1M71 52h2M31 53h1M45 53h1M39 54h1M64 54h1M70 54h1M34 55h2M50 55h1M41 56h2M53 56h2M33 57h1M39 57h1M41 57h2M46 57h1M58 57h1M68 57h1M77 57h1M48 58h1M55 58h1M43 59h1M39 60h2M42 60h1M47 60h1M53 60h1M55 60h1M75 60h1M31 61h1M37 61h1M43 61h1M53 61h1M63 61h1M43 62h1M70 62h1" stroke="#c0c639"/>
<path d="M36 0h1M53 0h1M31 1h1M41 1h1M65 1h1M39 2h1M49 2h1M76 2h1M78 2h1M34 4h1M46 4h1M57 4h1M79 4h1M34 6h1M57 6h2M50 7h1M29 8h2M36 8h1M39 8h2M42 9h2M51 9h1M53 9h1M55 9h1M68 9h1M70 9h1M47 10h2M50 10h1M67 10h1M69 10h1M31 12h2M37 13h1M41 13h2M40 14h2M78 14h1M28 15h3M62 15h1M50 16h2M46 17h1M45 18h1M47 18h1M60 18h1M68 18h1M55 19h1M60 19h2M43 20h1M50 20h1M67 20h1M37 21h1M38 22h1M53 22h1M55 22h1M45 23h1M59 24h1M58 25h1M66 26h1M69 26h1M34 27h1M66 27h1M38 30h1M77 30h1M33 31h1M40 31h1M55 31h1M73 31h1M76 31h1M36 32h1M41 33h1M43 33h2M53 33h1M56 33h1M76 33h2M30 34h1M32 34h1M40 35h1M65 35h1M79 35h1M33 36h3M46 36h2M68 36h1M29 38h1M32 38h1M36 39h2M57 39h1M31 40h1M76 41h1M78 41h1M31 42h1M54 44h1M42 45h1M45 45h1M47 45h1M54 45h1M35 46h1M43 46h2M78 46h1M44 47h1M55 47h1M31 48h1M40 48h1M64 48h1M32 49h1M39 49h1M49 49h1M32 50h1M41 51h2M59 51h1M76 51h1M35 52h1M37 52h1M56 52h2M46 53h1M49 53h1M65 54h1M70 55h1M33 56h1M50 56h1M52 56h1M67 56h1M38 57h1M40 57h1M74 57h1M40 58h1M56 58h1M69 58h1M32 59h1M36 59h2M71 59h1M44 60h1M46 60h1M52 60h1M71 60h1M33 61h1M36 61h1M40 61h1M35 62h2M57 62h1M78 62h1" stroke="#eac438"/>
<path d="M76 1h2M79 1h1M48 2h1M40 4h1M43 4h1M56 4h1M31 6h1M35 6h2M39 6h1M41 6h1M50 6h1M52 6h1M56 6h1M49 7h1M51 7h1M38 9h2M46 9h1M52 9h1M54 9h1M43 10h2M49 10h1M48 11h1M35 12h1M53 12h1M32 13h1M34 14h1M57 14h1M31 15h1M37 15h1M56 15h1M59 15h1M38 16h1M39 17h1M44 17h1M47 17h1M65 18h1M35 19h2M39 20h1M41 20h1M31 21h1M32 22h3M54 22h1M46 23h1M48 24h2M58 24h1M34 25h3M45 25h1M65 25h1M67 25h1M70 26h1M46 27h1M42 28h1M39 29h1M30 31h1M38 31h1M70 31h1M75 31h1M79 31h1M53 32h1M42 33h1M45 33h1M78 33h1M33 34h1M45 34h1M34 35h1M59 35h1M76 35h3M70 36h1M29 37h1M31 38h1M38 39h3M45 39h1M49 39h1M52 39h1M59 39h1M62 39h1M71 39h1M73 39h2M43 40h2M30 42h1M34 42h1M52 44h2M53 45h1M34 46h1M65 47h1M30 48h1M31 49h1M50 49h1M52 49h1M34 50h1M32 51h1M43 51h1M45 51h1M53 51h1M75 51h1M33 52h2M36 52h1M70 52h1M73 52h1M47 53h1M51 53h1M60 53h1M65 53h1M30 55h1M33 55h1M39 55h1M39 56h2M68 56h1M36 57h1M69 57h1M72 57h1M36 58h1M65 58h2M68 58h1M39 59h1M48 60h1M51 60h1M38 61h1M41 61h1M33 62h2M58 62h1M60 62h1M79 62h1" stroke="#fccb34"/>
<path d="M31 0h2M37 2h2M40 2h1M45 2h2M76 3h2M48 4h1M77 4h1M69 9h1M79 9h1M52 10h1M68 10h1M46 11h1M30 12h1M33 12h2M52 12h1M30 13h2M58 14h3M60 15h2M73 15h1M40 17h1M64 18h1M33 19h1M37 19h1M56 19h1M44 20h1M36 24h2M47 24h1M61 24h1M66 24h1M37 25h1M59 25h1M64 25h1M66 25h1M47 27h1M65 27h1M44 28h1M40 29h1M76 30h1M39 31h1M44 31h1M77 31h2M79 32h1M46 33h2M52 33h1M42 34h1M38 35h1M63 35h2M66 35h3M30 37h1M30 38h1M44 39h1M48 39h1M63 39h1M30 40h1M46 40h1M32 42h2M50 44h1M31 47h1M66 47h3M32 48h1M62 48h1M59 50h2M55 51h1M57 51h1M48 53h1M50 53h1M63 53h1M37 54h1M29 55h1M31 55h2M37 55h2M67 55h1M69 55h1M34 56h1M70 57h2M73 57h1M75 57h1M34 58h1M37 58h3M67 58h1M35 59h1M38 59h1M41 59h1M70 59h1M45 60h1M54 60h1M35 61h1M39 61h1M44 61h1M46 61h1" stroke="#f7db2b"/>
<path d="M34 0h1M52 2h2M78 3h1M35 4h1M37 4h1M33 6h1M38 6h1M56 9h1M78 9h1M45 10h1M40 12h1M38 14h1M72 15h1M75 15h1M37 16h1M61 18h1M34 19h1M38 19h1M54 19h1M38 20h1M35 24h1M44 24h1M56 24h2M64 24h1M38 25h1M58 27h2M38 29h1M41 30h1M29 31h1M36 31h1M54 33h1M39 34h2M34 38h1M43 39h1M60 39h2M40 40h2M45 40h1M77 41h1M36 42h1M31 44h2M51 44h1M33 47h1M35 47h1M63 47h1M69 47h1M39 48h1M33 49h1M58 50h1M33 51h1M56 51h1M58 51h1M59 53h1M62 53h1M34 54h1M36 55h1M66 55h1M35 56h1M64 58h1M50 60h1M37 62h1" stroke="#f6e923"/>
<path d="M33 0h1M36 4h1M38 4h2M32 6h1M47 9h1M36 12h1M39 12h1M41 12h2M39 14h1M65 15h2M36 16h1M39 16h3M59 18h1M63 18h1M39 19h1M42 20h1M45 20h1M38 24h1M45 24h2M62 24h2M65 24h1M37 29h1M41 29h2M40 30h1M37 31h1M45 31h1M41 34h1M43 34h2M36 35h2M33 38h1M42 39h1M46 39h1M75 39h1M35 42h1M33 44h3M49 44h1M41 45h1M55 45h1M32 47h1M34 47h1M36 47h2M64 47h1M63 48h1M57 50h1M44 51h1M46 51h1M54 51h1M32 52h1M55 52h1M61 53h1M33 54h1M35 54h2M38 54h1M68 55h1M33 58h1M40 59h1M72 59h2M45 61h1M59 62h1" stroke="#f8f519"/>
</g>
<g transform="translate(775.2,90.47) scale(6.4175,28.9333)" shape-rendering="crispEdges" fill="none" stroke-width="1.03">
<rect x="0" y="-0.5" width="80" height="15" fill="#2791ef"/>
<path d="M0 0h1M7 0h3M20 0h2M4 1h2M61 1h2M77 1h3M8 2h4M15 2h1M17 2h2M65 2h2M76 2h2M11 3h1M5 4h1M19 4h2M72 4h1M3 5h2M0 6h4M12 6h1M24 6h1M0 7h1M10 7h2M15 7h1M29 7h1M1 8h1M3 8h1M18 8h9M75 8h1M77 8h1M2 9h1M6 9h2M13 10h1M19 10h1M24 12h1M60 12h1M62 12h1M2 13h1M4 13h3M6 14h1M10 14h1" stroke="#4031bb"/>
<path d="M6 0h1M14 0h3M19 0h1M22 0h1M27 0h1M29 0h1M2 1h1M6 1h2M11 1h1M17 1h2M60 1h1M0 2h1M14 2h1M16 2h1M64 2h1M20 3h1M76 3h1M4 4h1M18 4h1M2 5h1M9 5h3M22 5h1M4 6h1M17 6h1M5 7h2M9 7h1M16 7h1M18 7h1M20 7h1M28 7h1M79 7h1M5 8h3M27 8h2M78 8h1M0 9h2M8 9h1M1 10h1M3 10h1M11 10h2M14 10h1M17 10h1M20 10h2M59 10h1M9 11h1M12 11h1M10 12h1M16 12h1M61 12h1M63 12h1M20 13h1M69 13h1" stroke="#4547e1"/>
<path d="M1 0h1M4 0h2M10 0h2M17 0h1M25 0h1M28 0h1M54 0h1M72 0h1M74 0h1M3 1h1M9 1h2M22 1h1M24 1h2M32 1h1M34 1h1M63 1h1M75 1h2M7 2h1M12 2h1M31 2h1M67 2h1M74 2h2M78 2h1M10 3h1M12 3h2M21 3h1M24 3h1M73 3h1M75 3h1M0 4h1M3 4h1M54 4h1M73 4h1M79 4h1M0 5h1M14 5h3M21 5h1M5 6h1M10 6h1M13 6h1M15 6h1M19 6h1M23 6h1M70 6h3M4 7h1M7 7h2M12 7h3M21 7h4M30 7h1M77 7h1M0 8h1M2 8h1M8 8h1M16 8h1M54 8h1M69 8h1M71 8h1M73 8h1M76 8h1M3 9h1M5 9h1M11 9h1M15 9h1M19 9h2M72 9h1M4 10h1M18 10h1M23 10h1M25 10h1M31 10h1M68 10h1M72 10h1M77 10h3M0 11h1M10 11h1M14 11h1M22 11h1M24 11h1M70 11h1M78 11h2M0 12h2M9 12h1M11 12h2M17 12h1M20 12h1M23 12h1M29 12h1M54 12h1M3 13h1M10 13h2M18 13h1M70 13h2M4 14h2M11 14h1M19 14h1M23 14h1M65 14h1" stroke="#415ff5"/>
<path d="M2 0h2M24 0h1M26 0h1M31 0h1M52 0h1M69 0h1M0 1h1M8 1h1M12 1h1M15 1h1M23 1h1M56 1h1M67 1h1M71 1h2M13 2h1M20 2h1M25 2h2M30 2h1M56 2h4M69 2h1M73 2h1M79 2h1M0 3h4M5 3h1M9 3h1M14 3h1M19 3h1M26 3h1M71 3h1M77 3h1M1 4h1M6 4h4M17 4h1M22 4h3M56 4h2M71 4h1M78 4h1M1 5h1M6 5h1M8 5h1M12 5h2M18 5h1M20 5h1M61 5h1M6 6h1M11 6h1M14 6h1M18 6h1M21 6h1M25 6h1M73 6h1M1 7h2M17 7h1M19 7h1M25 7h1M56 7h1M76 7h1M4 8h1M53 8h1M58 8h1M70 8h1M74 8h1M4 9h1M9 9h2M12 9h1M18 9h1M58 9h1M60 9h1M70 9h1M73 9h1M0 10h1M10 10h1M16 10h1M22 10h1M26 10h1M54 10h1M60 10h1M67 10h1M73 10h1M75 10h2M1 11h3M8 11h1M13 11h1M16 11h1M20 11h1M23 11h1M30 11h1M51 11h1M13 12h1M18 12h1M22 12h1M26 12h1M28 12h1M31 12h1M69 12h1M12 13h4M19 13h1M22 13h1M55 13h1M61 13h1M0 14h2M3 14h1M8 14h1M12 14h1M20 14h2M28 14h1M64 14h1" stroke="#347af6"/>
<path d="M12 0h1M34 0h1M53 0h1M55 0h2M58 0h1M67 0h1M78 0h2M13 1h1M19 1h3M30 1h2M35 1h1M53 1h1M64 1h1M66 1h1M68 1h1M74 1h1M1 2h1M4 2h1M21 2h1M28 2h2M47 2h1M50 2h3M60 2h1M72 2h1M4 3h1M23 3h1M48 3h1M66 3h1M72 3h1M79 3h1M2 4h1M11 4h3M15 4h1M26 4h1M30 4h2M44 4h1M46 4h1M48 4h1M52 4h1M5 5h1M7 5h1M17 5h1M19 5h1M25 5h1M28 5h1M48 5h2M59 5h1M64 5h1M66 5h1M73 5h1M7 6h1M16 6h1M26 6h1M56 6h1M58 6h1M69 6h1M3 7h1M27 7h1M51 7h1M64 7h2M69 7h1M73 7h2M9 8h2M29 8h1M45 8h1M51 8h1M59 8h1M68 8h1M21 9h1M25 9h3M53 9h1M59 9h1M65 9h1M67 9h1M69 9h1M76 9h1M5 10h1M7 10h1M27 10h1M58 10h1M65 10h1M17 11h1M27 11h3M31 11h1M52 11h1M65 11h1M72 11h1M76 11h1M3 12h3M15 12h1M27 12h1M50 12h1M52 12h1M55 12h1M73 12h2M76 12h2M79 12h1M8 13h1M16 13h1M30 13h1M46 13h2M65 13h1M68 13h1M75 13h1M79 13h1M13 14h1M18 14h1M22 14h1M24 14h2M47 14h1M53 14h1M60 14h1M66 14h1" stroke="#19a7de"/>
<path d="M30 0h1M32 0h2M47 0h1M50 0h1M63 0h1M68 0h1M70 0h1M76 0h1M27 1h2M46 1h1M48 1h1M59 1h1M69 1h2M73 1h1M6 2h1M23 2h2M33 2h1M45 2h1M54 2h1M16 3h1M28 3h1M30 3h1M46 3h2M53 3h1M55 3h1M60 3h1M64 3h1M69 3h1M25 4h1M27 4h1M29 4h1M35 4h1M45 4h1M47 4h1M58 4h6M66 4h4M24 5h1M29 5h1M55 5h2M60 5h1M63 5h1M69 5h2M75 5h1M31 6h2M55 6h1M57 6h1M65 6h1M68 6h1M75 6h1M77 6h1M26 7h1M54 7h1M60 7h3M70 7h1M12 8h1M14 8h2M33 8h1M61 8h1M65 8h1M67 8h1M72 8h1M29 9h1M44 9h1M51 9h1M75 9h1M24 10h1M30 10h1M33 10h1M53 10h1M56 10h1M62 10h1M64 10h1M70 10h2M5 11h1M25 11h1M56 11h1M73 11h3M14 12h1M30 12h1M32 12h3M46 12h2M49 12h1M65 12h1M9 13h1M17 13h1M23 13h4M29 13h1M45 13h1M51 13h1M59 13h2M77 13h2M2 14h1M9 14h1M14 14h1M16 14h1M26 14h2M49 14h1M55 14h1M61 14h1M70 14h1M72 14h1M75 14h1M77 14h1" stroke="#1bb7c6"/>
<path d="M60 0h1M29 1h1M47 1h1M51 1h2M54 1h2M34 2h1M46 2h1M48 2h1M53 2h1M8 3h1M31 3h1M49 3h1M52 3h1M56 3h4M61 3h1M63 3h1M67 3h2M28 4h1M32 4h1M64 4h1M27 5h1M30 5h1M46 5h1M50 5h1M57 5h1M62 5h1M65 5h1M68 5h1M78 5h1M27 6h1M43 6h1M48 6h2M76 6h1M33 7h2M48 7h3M52 7h1M58 7h2M63 7h1M30 8h1M42 8h1M55 8h1M57 8h1M60 8h1M63 8h1M28 9h1M30 9h1M45 9h1M50 9h1M52 9h1M54 9h3M62 9h1M66 9h1M74 9h1M9 10h1M45 10h1M47 10h1M50 10h3M4 11h1M6 11h1M15 11h1M19 11h1M26 11h1M32 11h1M47 11h1M49 11h2M59 11h1M67 11h1M35 12h1M48 12h1M56 12h1M66 12h1M71 12h1M32 13h1M36 13h1M48 13h1M50 13h1M56 13h3M64 13h1M74 13h1M29 14h3M50 14h1M56 14h2M62 14h2M68 14h1M71 14h1M74 14h1M76 14h1" stroke="#2ec2a7"/>
<path d="M43 0h1M48 0h1M62 0h1M66 0h1M32 2h1M61 2h3M7 3h1M43 3h1M50 3h2M54 3h1M14 4h1M33 4h1M75 4h2M26 5h1M31 5h2M45 5h1M58 5h1M67 5h1M33 6h2M44 6h1M47 6h1M51 6h1M60 6h1M63 6h2M66 6h2M47 7h1M66 7h1M32 8h1M46 8h2M50 8h1M56 8h1M62 8h1M64 8h1M66 8h1M32 9h1M34 9h1M46 9h4M63 9h1M68 9h1M46 10h1M49 10h1M57 10h1M33 11h1M48 11h1M57 11h1M60 11h1M68 11h1M36 12h1M45 12h1M58 12h1M70 12h1M27 13h1M33 13h1M49 13h1M52 13h1M73 13h1M32 14h1M46 14h1M51 14h1M58 14h1M67 14h1" stroke="#54c87f"/>
<path d="M35 0h1M44 0h1M46 0h1M61 0h1M36 1h3M37 2h1M32 3h3M45 3h1M65 4h1M35 5h1M43 5h1M51 5h1M53 5h2M79 5h1M28 6h2M46 6h1M50 6h1M53 6h2M59 6h1M44 7h1M46 7h1M53 7h1M67 7h2M34 8h1M48 8h1M33 9h1M42 9h2M64 9h1M28 10h2M44 10h1M34 11h1M58 11h1M61 11h3M72 12h1M35 13h1M66 13h1M52 14h1M54 14h1M59 14h1M69 14h1" stroke="#8ec750"/>
<path d="M45 0h1M45 1h1M44 2h1M62 3h1M36 4h1M43 4h1M49 4h2M36 5h1M44 5h1M52 5h1M45 6h1M52 6h1M61 6h2M43 7h1M31 8h1M49 8h1M31 9h1M34 10h1M48 10h1M44 11h3M57 12h1M44 13h1" stroke="#c0c639"/>
<path d="M42 0h1M39 1h1M35 3h1M44 3h1M34 4h1M40 4h1M51 4h1M33 5h2M30 6h1M35 6h1M42 6h1M45 7h1M35 10h1M43 10h1M41 12h1M44 12h1M34 13h1M37 13h1M42 14h2M45 14h1" stroke="#eac438"/>
<path d="M41 2h1M43 2h1M42 3h1M37 4h1M42 5h1M35 7h2M42 7h1M35 8h1M41 8h1M35 11h2M37 12h1M40 12h1M42 13h2M41 14h1" stroke="#fccb34"/>
<path d="M36 0h1M40 1h1M44 1h1M38 2h1M42 2h1M38 3h1M41 4h2M37 5h1M36 6h1M36 8h2M40 8h1M35 9h1M37 9h1M42 10h1M43 12h1M44 14h1" stroke="#f7db2b"/>
<path d="M40 0h1M41 1h1M38 4h1M37 6h1M39 6h1M39 7h1M38 8h1M36 9h1M41 9h1M42 12h1M38 13h1M41 13h1M33 14h1" stroke="#f6e923"/>
<path d="M37 0h3M41 0h1M42 1h2M39 2h2M36 3h2M39 3h3M39 4h1M38 5h4M38 6h1M40 6h2M37 7h2M40 7h2M39 8h1M38 9h3M36 10h6M37 11h7M38 12h2M39 13h2M34 14h7" stroke="#f8f519"/>
</g>
<g transform="translate(157.6,607.21) scale(6.4175,11.4211)" shape-rendering="crispEdges" fill="none" stroke-width="1.03">
<rect x="0" y="-0.5" width="80" height="38" fill="#2791ef"/>
<path d="M9 0h2M13 0h3M5 1h1M2 3h2M21 3h1M24 3h1M7 4h1M14 4h6M0 5h1M3 5h2M8 5h7M20 5h2M73 5h1M76 5h2M79 5h1M1 6h1M3 6h1M5 6h1M19 6h1M43 6h2M7 7h1M15 7h2M19 7h2M23 7h2M12 8h1M15 8h2M3 9h9M16 9h3M4 10h1M6 10h1M8 10h8M19 10h2M70 10h1M8 11h4M22 11h1M24 11h3M70 11h1M12 12h1M3 13h1M7 13h2M13 13h1M22 13h2M0 14h1M3 14h5M10 14h1M24 14h1M74 14h1M10 15h4M5 17h1M7 17h1M11 17h1M23 18h4M0 19h1M4 19h1M6 19h3M10 19h1M18 19h5M25 19h1M40 19h2M50 19h1M55 19h2M5 20h1M7 20h3M18 20h2M6 21h1M11 21h4M16 21h1M19 21h1M0 22h1M17 22h1M21 22h1M25 23h3M2 24h1M24 24h1M13 25h2M1 26h6M13 26h2M1 27h8M10 27h1M14 27h6M21 27h2M25 27h1M7 28h2M18 28h2M14 29h1M41 29h2M1 30h2M16 30h2M53 30h1M8 32h1M18 32h1M23 32h1M14 33h4M9 34h1M14 34h1M6 35h1M17 35h2M19 36h5M4 37h3" stroke="#4031bb"/>
<path d="M0 0h1M5 0h2M8 0h1M12 0h1M16 0h1M1 1h1M4 1h1M6 1h3M16 1h1M22 3h1M25 3h1M57 3h1M4 4h1M9 4h2M20 4h1M1 5h1M22 5h2M25 5h1M69 5h1M71 5h2M74 5h1M78 5h1M2 6h1M4 6h1M15 6h1M27 6h2M42 6h1M17 7h1M22 7h1M0 8h1M13 8h2M1 9h2M20 9h3M5 10h1M16 10h1M18 10h1M6 11h1M15 11h1M50 11h1M68 11h1M4 12h1M8 12h1M1 13h1M6 13h1M9 13h2M1 14h2M8 14h2M11 14h1M16 14h1M25 14h1M40 14h1M43 14h3M65 14h1M75 14h1M0 15h1M9 15h1M14 15h2M2 17h1M6 17h1M8 17h2M21 18h2M27 18h1M2 19h2M5 19h1M9 19h1M16 19h1M23 19h1M37 19h1M45 19h1M51 19h1M53 19h2M74 19h1M0 20h1M2 20h1M4 20h1M6 20h1M10 20h4M15 20h2M23 20h1M7 21h1M10 21h1M20 21h1M1 22h1M13 22h1M16 22h1M20 22h1M46 22h1M28 23h1M1 24h1M6 24h1M21 24h2M49 24h1M6 25h1M9 25h1M15 25h1M18 25h1M0 26h1M7 26h1M12 26h1M19 26h1M0 27h1M9 27h1M11 27h3M20 27h1M24 27h1M26 27h1M4 28h1M17 28h1M20 28h1M8 29h1M11 29h2M21 29h1M40 29h1M68 29h1M0 30h1M4 30h1M19 30h1M15 31h1M23 31h1M5 32h1M9 32h1M11 32h1M42 32h1M13 33h1M24 33h1M4 34h1M13 34h1M15 34h1M17 34h1M5 35h1M7 35h1M10 35h1M13 35h2M20 35h1M11 36h1M18 36h1M0 37h1M2 37h2M7 37h1M15 37h1" stroke="#4547e1"/>
<path d="M4 0h1M7 0h1M11 0h1M24 0h2M70 0h1M77 0h1M15 1h1M18 1h1M20 1h1M46 1h1M63 1h1M23 2h1M67 2h1M1 3h1M4 3h1M6 3h1M8 3h1M20 3h1M56 3h1M5 4h1M8 4h1M12 4h2M22 4h1M2 5h1M15 5h1M24 5h1M26 5h1M38 5h1M46 5h1M67 5h1M75 5h1M0 6h1M6 6h2M10 6h1M16 6h3M20 6h1M39 6h2M45 6h2M55 6h1M14 7h1M18 7h1M26 7h1M1 8h2M11 8h1M13 9h2M19 9h1M1 10h1M3 10h1M17 10h1M68 10h1M1 11h1M5 11h1M18 11h1M20 11h1M23 11h1M41 11h1M45 11h1M54 11h2M66 11h1M73 11h1M6 12h1M77 12h1M0 13h1M2 13h1M4 13h2M11 13h1M20 13h1M24 13h1M41 13h1M72 13h2M12 14h2M15 14h1M27 14h1M46 14h1M51 14h1M63 14h2M73 14h1M76 14h1M2 15h1M8 15h1M20 15h1M22 15h1M58 15h1M75 15h1M13 16h1M4 17h1M10 17h1M18 17h1M20 17h1M1 18h1M9 18h3M55 18h1M1 19h1M12 19h3M17 19h1M24 19h1M26 19h1M38 19h1M42 19h2M46 19h1M58 19h1M60 19h1M64 19h1M67 19h1M71 19h1M75 19h3M79 19h1M1 20h1M14 20h1M17 20h1M20 20h1M22 20h1M68 20h1M8 21h2M15 21h1M17 21h1M3 22h1M15 22h1M22 22h1M43 22h1M63 22h1M3 23h1M14 23h4M20 23h1M3 24h1M17 24h1M23 24h1M25 24h2M48 24h1M16 25h2M19 25h1M26 25h1M10 26h1M16 26h1M21 26h1M57 26h1M59 26h1M23 27h1M6 28h1M22 28h1M59 28h1M63 28h1M1 29h2M6 29h2M10 29h1M15 29h1M19 29h1M25 29h2M38 29h1M43 29h1M59 29h1M69 29h2M18 30h1M21 30h1M23 30h1M25 30h1M45 30h1M48 30h1M51 30h2M56 30h1M64 30h1M66 30h1M71 30h1M0 31h2M5 31h2M8 31h1M16 31h1M18 31h2M22 31h1M25 31h1M55 31h1M0 32h2M6 32h2M10 32h1M16 32h1M20 32h1M24 32h1M49 32h1M6 33h1M26 33h1M29 33h1M5 34h3M12 34h1M18 34h1M15 35h2M21 35h2M49 35h1M59 35h1M0 36h1M3 36h1M9 36h2M12 36h1M14 36h1M57 36h1M59 36h1M43 37h1M52 37h1M55 37h4M63 37h1" stroke="#415ff5"/>
<path d="M1 0h3M21 0h2M54 0h1M72 0h1M0 1h1M9 1h1M17 1h1M21 1h1M23 1h1M45 1h1M3 2h1M6 2h1M13 2h2M17 2h1M21 2h1M26 2h2M50 2h1M57 2h1M0 3h1M5 3h1M19 3h1M23 3h1M49 3h1M55 3h1M58 3h1M68 3h1M2 4h1M6 4h1M11 4h1M23 4h3M59 4h1M5 5h3M18 5h2M50 5h1M62 5h1M65 5h2M68 5h1M70 5h1M8 6h1M11 6h1M14 6h1M26 6h1M41 6h1M64 6h1M72 6h1M74 6h1M8 7h1M21 7h1M25 7h1M7 8h1M17 8h1M23 8h2M44 8h1M69 8h1M74 8h1M0 9h1M12 9h1M15 9h1M23 9h2M40 9h1M53 9h1M0 10h1M2 10h1M7 10h1M24 10h1M53 10h2M69 10h1M0 11h1M2 11h1M7 11h1M13 11h1M16 11h2M19 11h1M21 11h1M51 11h3M69 11h1M71 11h2M74 11h1M79 11h1M7 12h1M9 12h1M56 12h1M78 12h1M12 13h1M19 13h1M21 13h1M42 13h1M74 13h3M23 14h1M50 14h1M53 14h1M72 14h1M77 14h3M1 15h1M3 15h1M6 15h2M19 15h1M21 15h1M59 15h1M61 15h1M76 15h1M0 16h1M4 16h2M12 16h1M18 16h1M67 16h1M3 17h1M12 17h1M14 17h1M16 17h1M23 17h1M25 17h2M45 17h1M55 17h1M4 18h3M8 18h1M28 18h1M53 18h1M56 18h1M63 18h1M72 18h1M74 18h1M79 18h1M11 19h1M15 19h1M39 19h1M44 19h1M49 19h1M52 19h1M63 19h1M73 19h1M78 19h1M3 20h1M21 20h1M24 20h1M27 20h1M51 20h1M56 20h1M0 21h1M2 21h1M4 21h1M21 21h1M51 21h1M2 22h1M4 22h1M8 22h1M18 22h1M23 22h2M64 22h1M66 22h1M69 22h1M1 23h2M4 23h1M13 23h1M23 23h2M54 23h1M56 23h1M0 24h1M4 24h1M10 24h1M19 24h2M47 24h1M51 24h1M5 25h1M7 25h2M10 25h3M21 25h1M27 25h1M43 25h2M8 26h1M15 26h1M17 26h2M54 26h2M58 26h1M60 26h1M67 27h1M76 27h1M3 28h1M11 28h1M15 28h2M21 28h1M42 28h1M47 28h1M57 28h2M61 28h1M70 28h1M0 29h1M3 29h2M9 29h1M16 29h3M20 29h1M22 29h1M50 29h1M54 29h2M58 29h1M61 29h2M67 29h1M74 29h1M79 29h1M3 30h1M5 30h1M7 30h1M15 30h1M20 30h1M22 30h1M42 30h3M46 30h1M55 30h1M63 30h1M65 30h1M67 30h1M2 31h2M7 31h1M9 31h3M13 31h2M20 31h2M24 31h1M26 31h2M41 31h1M50 31h2M2 32h1M12 32h2M15 32h1M21 32h2M46 32h1M62 32h1M65 32h1M1 33h1M4 33h1M11 33h2M18 33h1M27 33h2M52 33h3M56 33h1M1 34h2M8 34h1M10 34h2M16 34h1M19 34h1M48 34h1M0 35h1M3 35h1M8 35h2M11 35h2M19 35h1M23 35h2M26 35h1M42 35h1M51 35h1M58 35h1M1 36h1M8 36h1M17 36h1M56 36h1M58 36h1M70 36h1M1 37h1M8 37h1M12 37h2M16 37h1M23 37h1M25 37h1M41 37h2M46 37h1M51 37h1M59 37h2" stroke="#347af6"/>
<path d="M20 0h1M51 0h1M58 0h2M67 0h2M78 0h2M2 1h1M10 1h1M19 1h1M57 1h1M59 1h1M65 1h1M68 1h1M72 1h1M75 1h1M0 2h1M4 2h1M20 2h1M25 2h1M41 2h1M52 2h1M54 2h2M58 2h1M65 2h1M17 3h1M44 3h1M46 3h3M51 3h1M59 3h1M69 3h1M71 3h1M78 3h1M1 4h1M45 4h2M40 5h4M48 5h1M52 5h1M60 5h2M9 6h1M12 6h2M24 6h2M38 6h1M49 6h1M53 6h1M56 6h1M0 7h1M27 7h1M68 7h1M70 7h1M72 7h1M22 8h1M25 8h1M40 8h2M79 8h1M39 9h1M49 9h1M52 9h1M54 9h2M58 9h1M62 9h3M66 9h1M68 9h1M70 9h2M50 10h1M52 10h1M74 10h1M3 11h1M29 11h1M40 11h1M42 11h1M47 11h1M62 11h4M75 11h1M77 11h1M15 12h1M20 12h1M55 12h1M58 12h2M61 12h1M64 12h1M66 12h1M25 13h3M39 13h1M51 13h1M67 13h1M71 13h1M14 14h1M22 14h1M37 14h1M41 14h1M52 14h1M57 14h1M60 14h2M66 14h3M18 15h1M23 15h2M41 15h1M64 15h1M69 15h1M71 15h4M78 15h1M7 16h1M14 16h2M20 16h3M51 16h1M64 16h1M0 17h1M13 17h1M22 17h1M43 17h1M52 17h1M54 17h1M64 17h1M0 18h1M3 18h1M7 18h1M15 18h1M18 18h1M51 18h1M36 19h1M48 19h1M57 19h1M66 19h1M68 19h2M25 20h1M70 20h1M74 20h1M23 21h2M40 21h1M44 21h1M53 21h1M63 21h1M76 21h1M79 21h1M11 22h1M27 22h1M42 22h1M44 22h1M47 22h1M57 22h1M59 22h1M65 22h1M72 22h3M77 22h2M0 23h1M8 23h1M12 23h1M30 23h1M41 23h1M43 23h1M48 23h1M62 23h1M9 24h1M11 24h4M18 24h1M54 24h1M58 24h1M74 24h1M76 24h1M0 25h2M3 25h2M23 25h1M45 25h1M9 26h1M20 26h1M22 26h1M40 26h1M49 26h1M56 26h1M62 26h1M77 26h1M79 26h1M43 27h2M50 27h1M58 27h2M71 27h1M14 28h1M43 28h2M55 28h1M62 28h1M65 28h1M69 28h1M71 28h1M73 28h1M35 29h1M45 29h3M51 29h1M63 29h1M65 29h1M73 29h1M75 29h1M78 29h1M8 30h1M14 30h1M54 30h1M61 30h1M69 30h1M72 30h2M75 30h1M79 30h1M12 31h1M17 31h1M53 31h1M64 31h1M67 31h1M75 31h1M78 31h2M51 32h2M56 32h1M61 32h1M63 32h2M66 32h1M0 33h1M3 33h1M5 33h1M19 33h1M22 33h2M44 33h1M57 33h1M59 33h1M61 33h1M20 34h1M45 34h1M47 34h1M76 34h1M40 35h1M44 35h1M54 35h1M56 35h1M62 35h1M67 35h1M5 36h1M7 36h1M13 36h1M24 36h1M47 36h1M54 36h1M67 36h1M10 37h2M21 37h1M27 37h1M48 37h1M50 37h1M54 37h1M62 37h1M64 37h3M68 37h2M75 37h1M78 37h1" stroke="#19a7de"/>
<path d="M45 0h1M53 0h1M56 0h1M60 0h1M63 0h1M69 0h1M73 0h2M11 1h1M26 1h1M43 1h2M64 1h1M67 1h1M74 1h1M77 1h1M7 2h2M11 2h1M18 2h1M28 2h1M43 2h1M45 2h1M56 2h1M60 2h2M63 2h1M66 2h1M68 2h1M76 2h1M78 2h1M11 3h2M18 3h1M28 3h1M45 3h1M53 3h1M60 3h1M62 3h1M65 3h2M70 3h1M72 3h1M79 3h1M27 4h1M43 4h2M48 4h1M51 4h1M54 4h2M58 4h1M27 5h1M44 5h1M51 5h1M47 6h1M51 6h2M62 6h1M65 6h1M70 6h1M75 6h4M9 7h2M28 7h1M54 7h1M64 7h3M3 8h1M19 8h1M38 8h1M45 8h4M52 8h4M60 8h1M65 8h1M73 8h1M75 8h2M25 9h2M42 9h1M60 9h2M73 9h1M23 10h1M25 10h1M41 10h1M47 10h1M51 10h1M55 10h1M65 10h2M71 10h1M78 10h1M4 11h1M12 11h1M30 11h1M36 11h2M49 11h1M57 11h2M0 12h1M21 12h1M23 12h1M41 12h2M45 12h1M48 12h1M50 12h1M54 12h1M60 12h1M62 12h2M65 12h1M67 12h1M72 12h2M75 12h1M79 12h1M17 13h1M37 13h2M40 13h1M43 13h3M49 13h1M52 13h2M64 13h3M70 13h1M77 13h2M18 14h1M34 14h2M48 14h1M54 14h2M71 14h1M5 15h1M25 15h1M45 15h1M47 15h1M49 15h1M56 15h2M63 15h1M66 15h2M79 15h1M38 16h1M47 16h1M53 16h1M63 16h1M65 16h1M70 16h1M76 16h1M17 17h1M21 17h1M27 17h3M46 17h1M53 17h1M57 17h1M59 17h1M14 18h1M44 18h1M46 18h1M49 18h1M57 18h1M59 18h1M64 18h2M69 18h1M75 18h1M78 18h1M35 19h1M29 20h1M49 20h1M52 20h1M27 21h2M42 21h2M49 21h1M55 21h1M65 21h2M74 21h1M77 21h2M6 22h2M9 22h1M14 22h1M38 22h2M48 22h3M53 22h1M61 22h1M75 22h1M79 22h1M5 23h1M19 23h1M21 23h1M31 23h1M44 23h1M47 23h1M50 23h1M53 23h1M61 23h1M64 23h1M69 23h1M76 23h1M7 24h2M15 24h2M46 24h1M50 24h1M52 24h2M61 24h1M24 25h1M28 25h1M42 25h1M46 25h1M60 25h1M76 25h1M78 25h2M23 26h1M26 26h1M51 26h2M63 26h1M65 26h2M75 26h2M78 26h1M42 27h1M45 27h1M48 27h1M55 27h1M60 27h1M62 27h1M64 27h1M73 27h1M79 27h1M41 28h1M49 28h1M64 28h1M68 28h1M77 28h3M27 29h1M29 29h2M32 29h2M53 29h1M11 30h2M27 30h1M36 30h1M47 30h1M50 30h1M58 30h3M76 30h1M38 31h2M52 31h1M56 31h1M63 31h1M66 31h1M69 31h3M73 31h2M4 32h1M27 32h2M47 32h2M60 32h1M67 32h1M7 33h1M9 33h1M20 33h1M50 33h1M63 33h1M71 33h2M44 34h1M51 34h1M60 34h1M67 34h2M75 34h1M46 35h1M48 35h1M53 35h1M61 35h1M63 35h2M6 36h1M41 36h1M44 36h2M48 36h2M51 36h2M55 36h1M62 36h1M64 36h1M69 36h1M73 36h1M77 36h1M17 37h1M19 37h1M39 37h1M67 37h1M70 37h1" stroke="#1bb7c6"/>
<path d="M27 0h1M50 0h1M64 0h3M48 1h1M55 1h1M76 1h1M79 1h1M10 2h1M42 2h1M47 2h3M53 2h1M62 2h1M64 2h1M69 2h2M72 2h1M74 2h2M77 2h1M79 2h1M13 3h1M27 3h1M38 3h1M50 3h1M52 3h1M64 3h1M75 3h1M42 4h1M47 4h1M49 4h2M71 4h1M73 4h3M45 5h1M55 5h1M59 5h1M30 6h1M50 6h1M57 6h1M59 6h1M63 6h1M73 6h1M1 7h2M43 7h1M52 7h1M57 7h1M62 7h2M5 8h1M20 8h2M51 8h1M58 8h1M61 8h4M67 8h1M50 9h1M57 9h1M59 9h1M65 9h1M74 9h1M77 9h1M79 9h1M26 10h2M38 10h1M48 10h2M56 10h4M63 10h1M77 10h1M79 10h1M33 11h2M38 11h2M43 11h1M59 11h2M1 12h1M18 12h1M25 12h1M44 12h1M49 12h1M52 12h1M57 12h1M68 12h2M16 13h1M47 13h2M50 13h1M55 13h2M59 13h1M63 13h1M28 14h1M33 14h1M39 14h1M70 14h1M26 15h1M43 15h2M46 15h1M65 15h1M68 15h1M11 16h1M40 16h1M46 16h1M48 16h3M61 16h1M69 16h1M71 16h3M78 16h1M41 17h2M44 17h1M47 17h1M58 17h1M69 17h1M76 17h1M16 18h2M29 18h1M42 18h1M58 18h1M60 18h2M27 19h1M33 19h1M41 20h3M47 20h2M50 20h1M53 20h2M57 20h1M59 20h1M61 20h1M64 20h1M66 20h1M75 20h2M41 21h1M56 21h1M58 21h1M61 21h1M75 21h1M10 22h1M52 22h1M56 22h1M60 22h1M70 22h2M76 22h1M7 23h1M11 23h1M39 23h2M49 23h1M58 23h2M66 23h1M70 23h2M44 24h2M56 24h1M59 24h2M75 24h1M78 24h1M41 25h1M53 25h2M61 25h1M63 25h1M72 25h1M74 25h2M77 25h1M24 26h1M37 26h2M64 26h1M49 27h1M51 27h1M53 27h2M63 27h1M68 27h1M72 27h1M24 28h1M52 28h1M66 28h1M75 28h1M28 29h1M31 29h1M34 29h1M48 29h1M56 29h1M26 30h1M37 30h1M28 31h1M35 31h3M42 31h2M47 31h1M60 31h2M72 31h1M77 31h1M17 32h1M26 32h1M29 32h1M39 32h1M45 32h1M55 32h1M57 32h1M59 32h1M72 32h1M75 32h2M78 32h2M2 33h1M21 33h1M30 33h3M40 33h1M43 33h1M45 33h1M58 33h1M60 33h1M62 33h1M64 33h2M68 33h1M73 33h1M79 33h1M0 34h1M21 34h3M40 34h1M46 34h1M50 34h1M53 34h1M63 34h1M66 34h1M69 34h1M71 34h1M73 34h2M77 34h2M27 35h1M38 35h1M47 35h1M68 35h4M73 35h1M75 35h1M79 35h1M25 36h1M46 36h1M50 36h1M53 36h1M60 36h2M63 36h1M72 36h1M75 36h1M18 37h1M20 37h1M72 37h1M76 37h1" stroke="#2ec2a7"/>
<path d="M28 0h1M44 0h1M27 1h1M47 1h1M69 1h3M78 1h1M29 2h3M38 2h1M44 2h1M59 2h1M15 3h1M36 3h1M43 3h1M63 3h1M76 3h2M29 4h1M41 4h1M77 4h1M28 5h1M36 5h1M53 5h1M57 5h2M37 6h1M58 6h1M61 6h1M79 6h1M3 7h1M5 7h1M41 7h2M44 7h3M50 7h2M55 7h1M61 7h1M73 7h1M78 7h1M36 8h2M50 8h1M43 9h1M48 9h1M75 9h2M28 10h1M39 10h1M44 10h2M60 10h3M76 10h1M32 11h1M35 11h1M61 11h1M24 12h1M26 12h1M40 12h1M43 12h1M51 12h1M53 12h1M70 12h2M28 13h1M57 13h1M19 14h1M29 14h1M56 14h1M58 14h1M62 14h1M69 14h1M48 15h1M50 15h2M54 15h2M70 15h1M23 16h1M41 16h1M43 16h1M55 16h1M59 16h1M79 16h1M48 17h3M60 17h3M65 17h1M67 17h2M74 17h2M45 18h1M47 18h1M50 18h1M66 18h2M70 18h1M73 18h1M44 20h3M60 20h1M67 20h1M29 21h1M45 21h3M57 21h1M67 21h4M73 21h1M28 22h1M36 22h1M54 22h2M62 22h1M6 23h1M9 23h2M42 23h1M46 23h1M67 23h2M43 24h1M57 24h1M63 24h1M40 25h1M49 25h1M51 25h2M62 25h1M64 25h1M70 25h2M73 25h1M41 26h3M45 26h2M61 26h1M72 26h1M74 26h1M40 27h2M46 27h1M52 27h1M61 27h1M65 27h1M23 28h1M40 28h1M51 28h1M67 28h1M76 28h1M77 30h1M48 31h2M58 31h2M62 31h1M69 32h1M77 32h1M39 33h1M41 33h2M46 33h1M48 33h2M70 33h1M75 33h1M24 34h2M41 34h2M52 34h1M56 34h1M58 34h1M62 34h1M64 34h2M72 34h1M79 34h1M28 35h1M37 35h1M39 35h1M43 35h1M65 35h1M72 35h1M74 35h1M77 35h1M4 36h1M42 36h2M65 36h1M74 36h1M76 36h1M38 37h1M40 37h1M71 37h1" stroke="#54c87f"/>
<path d="M42 0h2M28 1h1M42 1h1M49 1h2M56 1h1M73 1h1M40 2h1M46 2h1M34 3h1M37 3h1M39 3h1M61 3h1M73 3h2M52 4h2M61 4h1M63 4h1M70 4h1M76 4h1M35 5h1M54 5h1M56 5h1M36 6h1M39 7h1M48 7h1M53 7h1M58 7h3M67 7h1M71 7h1M75 7h1M79 7h1M27 8h1M34 8h2M56 8h2M66 8h1M27 9h2M37 9h1M40 10h1M43 10h1M46 10h1M64 10h1M31 11h1M19 12h1M46 12h1M31 13h2M58 13h1M79 13h1M30 14h1M27 15h1M34 15h1M37 15h1M39 15h2M52 15h1M24 16h1M37 16h1M42 16h1M44 16h2M54 16h1M56 16h2M60 16h1M62 16h1M74 16h2M51 17h1M66 17h1M71 17h1M30 18h1M43 18h1M48 18h1M68 18h1M28 19h2M31 19h1M34 19h1M39 20h1M58 20h1M65 20h1M77 20h1M79 20h1M26 21h1M59 21h2M62 21h1M71 21h2M37 22h1M40 22h1M51 22h1M45 23h1M57 23h1M60 23h1M65 23h1M28 24h1M40 24h1M42 24h1M55 24h1M62 24h1M64 24h1M71 24h1M73 24h1M79 24h1M47 25h1M50 25h1M58 25h1M65 25h2M68 25h2M25 26h1M44 26h1M48 26h1M50 26h1M69 26h1M71 26h1M73 26h1M29 27h1M47 27h1M57 27h1M38 28h2M53 28h2M35 30h1M45 31h2M38 32h1M71 32h1M73 32h2M66 33h2M69 33h1M76 33h3M26 34h2M43 34h1M54 34h2M76 35h1M26 36h1M28 36h1M40 36h1M30 37h1" stroke="#8ec750"/>
<path d="M38 0h1M35 1h1M38 1h1M41 1h1M51 1h1M54 1h1M39 2h1M14 3h1M16 3h1M35 3h1M41 3h1M39 4h2M62 4h1M69 4h1M78 4h1M32 6h1M40 7h1M47 7h1M76 7h1M28 8h1M31 8h1M59 8h1M36 9h1M44 9h1M35 10h1M37 10h1M42 10h1M22 12h1M27 12h2M34 12h1M37 12h1M39 12h1M30 13h1M34 13h1M61 13h2M59 14h1M38 15h1M53 15h1M25 16h1M39 16h1M39 17h2M63 17h1M70 17h1M72 17h2M30 19h1M40 20h1M63 20h1M78 20h1M25 21h1M39 21h1M29 22h1M33 23h1M72 23h4M41 24h1M72 24h1M29 25h1M48 25h1M55 25h2M59 25h1M67 25h1M34 26h3M47 26h1M56 27h1M25 28h1M27 28h1M37 28h1M78 30h1M44 31h1M57 31h1M68 32h1M70 32h1M28 34h1M38 34h2M57 34h1M59 34h1M61 34h1M70 34h1M29 35h1M27 36h1M30 36h1M32 36h1M29 37h1M73 37h2" stroke="#c0c639"/>
<path d="M36 0h2M41 0h1M32 1h1M36 1h1M52 1h2M32 2h1M34 2h1M37 2h1M32 3h1M40 3h1M42 3h1M38 4h1M67 4h2M79 4h1M31 6h1M34 6h2M60 6h1M49 7h1M56 7h1M74 7h1M77 7h1M29 8h1M32 8h2M35 9h1M45 9h2M36 10h1M29 12h1M32 12h2M36 12h1M29 13h1M33 13h1M60 13h1M31 14h1M29 15h1M33 15h1M30 16h1M58 16h1M38 17h1M31 18h1M41 18h1M32 19h1M37 20h1M62 20h1M30 21h1M36 21h1M30 22h1M35 22h1M32 23h1M37 23h2M39 24h1M67 24h1M27 26h1M70 26h1M28 27h1M28 30h1M32 30h1M29 31h1M33 31h2M31 32h1M37 32h1M36 33h3M47 33h1M29 34h1M30 35h1M35 35h2M29 36h1M38 36h2" stroke="#eac438"/>
<path d="M29 0h1M30 1h1M37 1h1M39 1h1M33 2h1M29 3h3M33 3h1M30 4h1M64 4h1M34 5h1M29 7h1M38 7h1M30 8h1M30 9h1M30 12h1M35 13h2M28 15h1M30 15h2M26 16h1M34 16h1M77 16h1M30 17h1M32 17h1M32 18h2M38 18h1M40 18h1M30 20h1M34 20h1M36 20h1M38 20h1M31 21h1M38 21h1M31 22h1M35 23h1M37 24h2M30 25h1M38 27h2M26 28h1M34 30h1M30 31h3M36 32h1M33 33h1M74 33h1M31 35h1M34 35h1M33 36h1M37 36h1M36 37h2" stroke="#fccb34"/>
<path d="M30 0h1M34 0h2M39 0h2M33 1h2M36 2h1M65 4h1M29 5h1M33 6h1M37 7h1M33 9h2M47 9h1M29 10h1M31 12h1M35 12h1M38 12h1M32 15h1M35 15h2M28 16h2M35 16h2M31 17h1M34 18h2M32 20h2M37 21h1M33 22h1M34 23h1M36 23h1M35 24h1M65 24h2M68 24h1M39 25h1M57 25h1M33 27h1M37 27h1M29 28h1M29 30h1M30 32h1M32 32h2M34 33h2M37 34h1M33 35h1M31 36h1M34 36h1M36 36h1M31 37h1M35 37h1" stroke="#f7db2b"/>
<path d="M33 0h1M29 1h1M31 1h1M31 4h1M37 4h1M35 7h2M29 9h1M31 9h1M34 10h1M36 17h1M36 18h1M39 18h1M35 20h1M32 22h1M34 22h1M29 24h1M69 24h2M38 25h1M28 26h1M32 26h1M30 27h1M34 27h1M36 27h1M28 28h1M31 28h1M36 28h1M31 30h1M33 30h1M31 34h1M33 34h1M35 34h1M34 37h1" stroke="#f6e923"/>
<path d="M31 0h2M40 1h1M35 2h1M32 4h5M66 4h1M30 5h4M30 7h5M32 9h1M30 10h4M27 16h1M31 16h3M33 17h3M37 17h1M37 18h1M31 20h1M32 21h4M30 24h5M36 24h1M31 25h7M29 26h3M33 26h1M31 27h2M35 27h1M30 28h1M32 28h4M30 30h1M34 32h2M30 34h1M32 34h1M34 34h1M36 34h1M32 35h1M35 36h1M32 37h2" stroke="#f8f519"/>
</g>
<g transform="translate(775.2,628.62) scale(6.4175,54.2500)" shape-rendering="crispEdges" fill="none" stroke-width="1.03">
<rect x="0" y="-0.5" width="80" height="8" fill="#54c87f"/>
<path d="M79 0h1M2 2h1M4 2h2M9 3h1M14 3h1M17 3h1M22 3h1M1 5h1M5 5h1M7 6h1M26 6h1M26 7h1" stroke="#4031bb"/>
<path d="M14 0h1M19 0h2M23 0h1M0 2h2M6 2h2M9 2h3M13 2h2M16 2h1M19 2h1M21 2h1M0 3h2M3 3h4M8 3h1M10 3h4M15 3h1M18 3h4M24 3h3M71 3h1M77 4h1M79 4h1M0 5h1M2 5h3M6 5h3M10 5h2M6 6h1M8 6h1M11 6h1M13 6h1M22 6h4M23 7h3M27 7h2" stroke="#4547e1"/>
<path d="M3 0h1M5 0h1M12 0h2M15 0h1M17 0h2M21 0h2M24 0h1M4 1h1M14 1h1M3 2h1M8 2h1M15 2h1M18 2h1M20 2h1M2 3h1M7 3h1M16 3h1M23 3h1M72 3h2M77 3h1M78 4h1M9 5h1M12 5h1M75 5h1M0 6h3M5 6h1M9 6h2M12 6h1M21 6h1M0 7h2M17 7h1M22 7h1" stroke="#415ff5"/>
<path d="M0 0h1M4 0h1M8 0h1M10 0h2M16 0h1M1 1h1M5 1h1M12 1h2M15 1h5M70 1h1M79 1h1M12 2h1M17 2h1M22 2h2M65 3h3M69 3h2M74 3h3M78 3h2M0 4h2M41 4h1M43 4h1M69 4h1M71 4h1M76 4h1M13 5h2M16 5h2M69 5h2M72 5h3M76 5h3M3 6h2M14 6h1M17 6h4M60 6h1M62 6h2M65 6h1M3 7h2M6 7h1M18 7h4M29 7h1M78 7h1" stroke="#347af6"/>
<path d="M1 0h2M7 0h1M9 0h1M25 0h1M76 0h3M0 1h1M2 1h2M6 1h1M8 1h1M10 1h1M71 1h1M74 1h5M24 2h1M27 3h2M64 3h1M68 3h1M2 4h3M21 4h2M70 4h1M72 4h2M18 5h2M68 5h1M71 5h1M79 5h1M15 6h2M35 6h2M61 6h1M66 6h2M2 7h1M7 7h1M73 7h5M79 7h1" stroke="#2791ef"/>
<path d="M6 0h1M26 0h4M7 1h1M9 1h1M21 1h1M73 1h1M29 3h1M60 3h1M5 4h1M7 4h1M23 4h1M25 4h3M29 4h1M42 4h1M63 4h2M67 4h2M74 4h2M15 5h1M20 5h1M37 6h1M53 6h1M55 6h1M59 6h1M64 6h1M5 7h1M12 7h3M30 7h2M71 7h2" stroke="#19a7de"/>
<path d="M43 0h3M75 0h1M11 1h1M22 1h1M69 1h1M72 1h1M25 2h1M27 2h1M33 2h1M54 3h2M58 3h2M62 3h1M6 4h1M8 4h4M15 4h1M24 4h1M28 4h1M62 4h1M56 5h1M64 5h1M27 6h1M52 6h1M54 6h1M56 6h3M68 6h1M73 6h1M8 7h4M15 7h2M35 7h1M63 7h1M65 7h1" stroke="#1bb7c6"/>
<path d="M74 0h1M20 1h1M23 1h1M35 1h1M38 1h1M53 1h1M57 1h2M62 1h1M64 1h5M26 2h1M28 2h1M31 2h1M34 2h1M55 2h4M63 2h1M52 3h2M57 3h1M61 3h1M63 3h1M20 4h1M44 4h1M47 4h1M49 4h1M54 4h3M59 4h1M61 4h1M65 4h2M61 5h3M67 5h1M34 6h1M72 6h1M74 6h6M62 7h1" stroke="#2ec2a7"/>
<path d="M47 0h1M49 0h3M56 0h1M60 0h1M62 0h1M65 0h1M68 0h1M70 0h2M73 0h1M48 1h2M55 1h1M32 2h1M50 2h1M52 2h3M65 2h2M30 3h2M35 3h1M45 3h1M47 3h2M13 4h1M33 4h1M40 4h1M50 4h1M53 4h1M58 4h1M21 5h2M24 5h1M47 5h1M49 5h1M51 5h2M54 5h2M59 5h1M48 6h1M69 6h3M56 7h1M60 7h1M64 7h1M70 7h1" stroke="#8ec750"/>
<path d="M42 0h1M48 0h1M69 0h1M24 1h3M34 1h1M60 1h1M48 2h2M67 2h3M34 3h1M36 3h1M43 3h2M46 3h1M31 4h1M32 5h3M50 5h1M31 6h3M38 6h1M49 6h1M55 7h1M58 7h1" stroke="#c0c639"/>
<path d="M28 1h1M33 1h1M36 2h1M42 2h1M32 3h2M41 3h1M30 5h2M35 5h1M42 5h1M48 5h1M28 6h1M53 7h1" stroke="#eac438"/>
<path d="M41 0h1M64 0h1M29 1h2M32 1h1M40 1h1M45 1h3M45 2h1M47 2h1M70 2h1M36 4h1M26 5h1M40 5h2M46 5h1M29 6h1M46 6h2M37 7h1M48 7h3M52 7h1" stroke="#fccb34"/>
<path d="M31 0h4M27 1h1M31 1h1M42 1h2M38 2h1M43 2h2M46 2h1M29 5h1M37 5h1M30 6h1M45 6h1M47 7h1M54 7h1" stroke="#f7db2b"/>
<path d="M35 0h1M37 0h1M44 1h1M39 2h1M78 2h1M27 5h1M36 5h1M38 5h1M43 5h1M44 6h1M43 7h1M51 7h1" stroke="#f6e923"/>
<path d="M36 0h1M38 0h3M41 1h1M37 2h1M40 2h2M71 2h7M79 2h1M37 3h4M37 4h3M28 5h1M39 5h1M44 5h2M39 6h5M38 7h5M44 7h3" stroke="#f8f519"/>
</g>
<path d="M150.6 512.1H673" stroke="#000" stroke-width="4.2"/>
<path d="M221.8 512.1v23M350.3 512.1v23M478.7 512.1v23M607.2 512.1v23" stroke="#000" stroke-width="4.2"/>
<path d="M150.6 1037.6H673" stroke="#000" stroke-width="4.2"/>
<path d="M221.8 1037.6v23M350.3 1037.6v23M478.7 1037.6v23M607.2 1037.6v23" stroke="#000" stroke-width="4.2"/>
<path d="M768.2 512.1H1290.6" stroke="#000" stroke-width="4.2"/>
<path d="M839.4 512.1v23M967.9 512.1v23M1096.3 512.1v23M1224.8 512.1v23" stroke="#000" stroke-width="4.2"/>
<path d="M768.2 1037.6H1290.6" stroke="#000" stroke-width="4.2"/>
<path d="M839.4 1037.6v23M967.9 1037.6v23M1096.3 1037.6v23M1224.8 1037.6v23" stroke="#000" stroke-width="4.2"/>
<text x="145" y="511" text-anchor="end">63</text>
<text x="767" y="511" text-anchor="end">15</text>
<text x="145" y="1037" text-anchor="end">38</text>
<text x="754" y="1037" text-anchor="end">8</text>
<text x="226.8" y="1108.5" text-anchor="middle">-1</text>
<text x="354.3" y="1108.5" text-anchor="middle">0</text>
<text x="482.7" y="1108.5" text-anchor="middle">1</text>
<text x="611.2" y="1108.5" text-anchor="middle">2</text>
<text x="416" y="1165" text-anchor="middle">Time from press (s)</text>
<linearGradient id="g97" x1="0" y1="1" x2="0" y2="0"><stop offset="0.000" stop-color="#3e26a8"/><stop offset="0.042" stop-color="#4135c2"/><stop offset="0.083" stop-color="#4444db"/><stop offset="0.125" stop-color="#4752f4"/><stop offset="0.167" stop-color="#3f64f5"/><stop offset="0.208" stop-color="#3675f6"/><stop offset="0.250" stop-color="#2e87f7"/><stop offset="0.292" stop-color="#2495ec"/><stop offset="0.333" stop-color="#1ba3e1"/><stop offset="0.375" stop-color="#12b1d6"/><stop offset="0.417" stop-color="#1eb9c1"/><stop offset="0.458" stop-color="#2bc0ac"/><stop offset="0.500" stop-color="#37c897"/><stop offset="0.542" stop-color="#5ec878"/><stop offset="0.583" stop-color="#85c758"/><stop offset="0.625" stop-color="#abc739"/><stop offset="0.667" stop-color="#c7c639"/><stop offset="0.708" stop-color="#e3c438"/><stop offset="0.750" stop-color="#fec338"/><stop offset="0.792" stop-color="#fbce32"/><stop offset="0.833" stop-color="#f8d82d"/><stop offset="0.875" stop-color="#f5e327"/><stop offset="0.917" stop-color="#f6eb21"/><stop offset="0.958" stop-color="#f8f31b"/><stop offset="1.000" stop-color="#f9fb15"/></linearGradient>
<rect x="691" y="171" width="19" height="223" fill="url(#g97)"/>
<linearGradient id="g99" x1="0" y1="1" x2="0" y2="0"><stop offset="0.000" stop-color="#3e26a8"/><stop offset="0.042" stop-color="#4135c2"/><stop offset="0.083" stop-color="#4444db"/><stop offset="0.125" stop-color="#4752f4"/><stop offset="0.167" stop-color="#3f64f5"/><stop offset="0.208" stop-color="#3675f6"/><stop offset="0.250" stop-color="#2e87f7"/><stop offset="0.292" stop-color="#2495ec"/><stop offset="0.333" stop-color="#1ba3e1"/><stop offset="0.375" stop-color="#12b1d6"/><stop offset="0.417" stop-color="#1eb9c1"/><stop offset="0.458" stop-color="#2bc0ac"/><stop offset="0.500" stop-color="#37c897"/><stop offset="0.542" stop-color="#5ec878"/><stop offset="0.583" stop-color="#85c758"/><stop offset="0.625" stop-color="#abc739"/><stop offset="0.667" stop-color="#c7c639"/><stop offset="0.708" stop-color="#e3c438"/><stop offset="0.750" stop-color="#fec338"/><stop offset="0.792" stop-color="#fbce32"/><stop offset="0.833" stop-color="#f8d82d"/><stop offset="0.875" stop-color="#f5e327"/><stop offset="0.917" stop-color="#f6eb21"/><stop offset="0.958" stop-color="#f8f31b"/><stop offset="1.000" stop-color="#f9fb15"/></linearGradient>
<rect x="691" y="693" width="19" height="222" fill="url(#g99)"/>
<text x="700" y="153" text-anchor="middle">95</text>
<text x="701" y="436" text-anchor="middle">-20</text>
<text x="700" y="675" text-anchor="middle">73</text>
<text x="701" y="958" text-anchor="middle">-13</text>
<text text-anchor="middle" transform="translate(722,282) rotate(90)">&#916;F/F (%)</text>
<text x="1346" y="54" font-weight="bold" font-size="66">b</text>
<path d="M1636.4 75V1038" stroke="#98999b" stroke-width="4"/>
<path d="M1668.1 75V1038" stroke="#98999b" stroke-width="4"/>
<path d="M1460.8 465.5L1476 458.6L1489.9 466.9L1503.7 468.7L1517.5 462.7L1531.4 466.9L1538.3 477.8L1548.6 481.2L1559 472L1569.4 485L1579.7 481.4L1590.1 482.1L1600.5 485.1L1610.9 445.1L1621.2 427.5L1631.6 347.7L1642 312.4L1648.9 319.9L1657.2 332L1666.2 321.9L1673.1 318.3L1680 216.4L1686.9 154L1695.9 97.5L1704.2 160.7L1714.6 223.9L1724.9 286L1735.3 309.5L1743.6 354.5L1752.6 351.6L1762.9 342L1773.3 313.5L1780.2 305.4L1787.1 320.8L1794.1 328.2L1802.4 377.2L1811.3 387.1L1821.7 393.4L1832.1 394.2L1842.4 388.9L1852.8 401.7L1861.8 379.5L1870.1 412.3L1878.4 399.6L1887.4 411.3L1896.4 400.6L1908.1 413.1L1918.5 424.4L1930.9 419.5L1930.9 448.8L1918.5 449.4L1908.1 444.1L1896.4 426.3L1887.4 432.1L1878.4 430L1870.1 442.2L1861.8 408.6L1852.8 425.2L1842.4 419.9L1832.1 421.6L1821.7 419.6L1811.3 407.9L1802.4 404L1794.1 349.3L1787.1 349.7L1780.2 333.4L1773.3 336.4L1762.9 363.1L1752.6 374.3L1743.6 385.3L1735.3 340.3L1724.9 308.5L1714.6 246.2L1704.2 184.9L1695.9 120.9L1686.9 177.8L1680 239.9L1673.1 345.4L1666.2 348.7L1657.2 359.3L1648.9 343.8L1642 337.5L1631.6 371.3L1621.2 457.4L1610.9 467.5L1600.5 510.4L1590.1 510.6L1579.7 503L1569.4 507.7L1559 495.9L1548.6 507.4L1538.3 506.6L1531.4 494.1L1517.5 488.6L1503.7 499.1L1489.9 489.9L1476 488.5L1460.8 488.6Z" fill="#f9d2d3"/>
<path d="M1460.8 477L1476 473.6L1489.9 478.4L1503.7 483.9L1517.5 475.6L1531.4 480.5L1538.3 492.2L1548.6 494.3L1559 483.9L1569.4 496.4L1579.7 492.2L1590.1 496.4L1600.5 497.8L1610.9 456.3L1621.2 442.4L1631.6 359.5L1642 324.9L1648.9 331.8L1657.2 345.7L1666.2 335.3L1673.1 331.8L1680 228.1L1686.9 165.9L1695.9 109.2L1704.2 172.8L1714.6 235.1L1724.9 297.3L1735.3 324.9L1743.6 369.9L1752.6 362.9L1762.9 352.6L1773.3 324.9L1780.2 319.4L1787.1 335.3L1794.1 338.7L1802.4 390.6L1811.3 397.5L1821.7 406.5L1832.1 407.9L1842.4 404.4L1852.8 413.4L1861.8 394.1L1870.1 427.2L1878.4 414.8L1887.4 421.7L1896.4 413.4L1908.1 428.6L1918.5 436.9L1930.9 434.2" fill="none" stroke="#e8202a" stroke-width="5.5" stroke-linejoin="round"/>
<path d="M1460.8 451.6L1472.6 463.6L1483 458.7L1493.3 471.3L1503.7 465.6L1514.1 469.7L1527.9 472L1538.3 461.9L1552.1 470.5L1565.9 464.1L1576.3 466.7L1586.7 454.1L1600.5 464.4L1610.9 450.4L1619.8 442L1628.1 378.8L1636.4 323.9L1645.4 276.7L1652.3 275.4L1659.2 301.8L1664.8 301.9L1671 306.9L1680 282.5L1689 258.5L1697.3 255.1L1707.6 266L1718 284.4L1726.3 309.7L1731.8 307.8L1738.7 322.2L1745.7 317.3L1752.6 313.1L1762.9 332.4L1773.3 348.6L1781.6 366L1790.6 351.9L1801 340.9L1811.3 352.9L1821.7 346.3L1832.1 352.8L1842.4 341.4L1852.8 346.3L1863.2 335.5L1875.6 330.4L1887.4 352.6L1897.8 345.9L1908.1 341.5L1918.5 348.1L1930.9 356.2L1930.9 369.7L1918.5 359.8L1908.1 356.7L1897.8 359.2L1887.4 366.3L1875.6 347.1L1863.2 348.9L1852.8 361.6L1842.4 356.8L1832.1 366.2L1821.7 358.9L1811.3 366.1L1801 357.3L1790.6 367.1L1781.6 380.6L1773.3 363.5L1762.9 345.1L1752.6 329.8L1745.7 332.5L1738.7 334.6L1731.8 321.3L1726.3 326.3L1718 296.3L1707.6 280.2L1697.3 270.3L1689 273.8L1680 298.2L1671 322.2L1664.8 313.4L1659.2 317.6L1652.3 291.5L1645.4 290.2L1636.4 339.7L1628.1 395.5L1619.8 456.8L1610.9 464.9L1600.5 478.5L1586.7 469.5L1576.3 480.4L1565.9 478.8L1552.1 483.6L1538.3 475.5L1527.9 486.2L1514.1 484.3L1503.7 477.4L1493.3 482.7L1483 474.5L1472.6 476.6L1460.8 467.8Z" fill="#d2d4e8"/>
<path d="M1460.8 459.7L1472.6 470.1L1483 466.6L1493.3 477L1503.7 471.5L1514.1 477L1527.9 479.1L1538.3 468.7L1552.1 477L1565.9 471.5L1576.3 473.6L1586.7 461.8L1600.5 471.5L1610.9 457.7L1619.8 449.4L1628.1 387.1L1636.4 331.8L1645.4 283.4L1652.3 283.4L1659.2 309.7L1664.8 307.6L1671 314.6L1680 290.4L1689 266.2L1697.3 262.7L1707.6 273.1L1718 290.4L1726.3 318L1731.8 314.6L1738.7 328.4L1745.7 324.9L1752.6 321.5L1762.9 338.7L1773.3 356L1781.6 373.3L1790.6 359.5L1801 349.1L1811.3 359.5L1821.7 352.6L1832.1 359.5L1842.4 349.1L1852.8 354L1863.2 342.2L1875.6 338.7L1887.4 359.5L1897.8 352.6L1908.1 349.1L1918.5 354L1930.9 362.9" fill="none" stroke="#25317f" stroke-width="5.5" stroke-linejoin="round"/>
<path d="M1460.8 982.2L1469.1 984.6L1479.5 976.4L1489.9 988.4L1502.3 1000.6L1510.6 979.3L1521 986.4L1531.4 968.4L1541.7 977.5L1552.1 971.2L1562.5 988.7L1572.8 970.6L1581.1 983.7L1590.1 971.9L1600.5 949.8L1610.9 911.2L1621.2 884.6L1631.6 841.5L1640.6 814.3L1650.3 813.2L1659.2 819.9L1666.2 834.9L1673.1 843L1680 764.9L1686.9 700.4L1695.9 660.4L1704.2 716.7L1714.6 763.6L1724.9 784.9L1735.3 800L1742.2 812L1752.6 796.4L1762.9 824.8L1773.3 844.8L1783.7 873.2L1794.1 859.8L1804.4 863.7L1814.8 857.6L1825.2 882.3L1835.5 894.5L1845.9 889.9L1856.3 883.7L1866.6 899L1877 907.7L1887.4 883L1897.8 874.4L1908.1 914.4L1917.1 893.9L1925.4 933.2L1930.9 935.1L1930.9 970.2L1925.4 961.1L1917.1 931.1L1908.1 945.3L1897.8 909.2L1887.4 914.5L1877 938.1L1866.6 933L1856.3 913.8L1845.9 921.3L1835.5 923.7L1825.2 915.2L1814.8 887.3L1804.4 899.2L1794.1 896.1L1783.7 903.5L1773.3 876.6L1762.9 855.1L1752.6 828.2L1742.2 840.2L1735.3 831.6L1724.9 819L1714.6 798.8L1704.2 749L1695.9 687.7L1686.9 737.6L1680 797.5L1673.1 871.5L1666.2 872.7L1659.2 853.1L1650.3 839.1L1640.6 851.8L1631.6 872.9L1621.2 912.9L1610.9 948.5L1600.5 979L1590.1 998.4L1581.1 1014.2L1572.8 1006.5L1562.5 1023L1552.1 1003.2L1541.7 1006.6L1531.4 994.9L1521 1018.4L1510.6 1011.8L1502.3 1038.8L1489.9 1023.3L1479.5 1007.7L1469.1 1020.2L1460.8 1008.8Z" fill="#f9d2d3"/>
<path d="M1460.8 995.5L1469.1 1002.4L1479.5 992L1489.9 1005.9L1502.3 1019.7L1510.6 995.5L1521 1002.4L1531.4 981.7L1541.7 992L1552.1 987.2L1562.5 1005.9L1572.8 988.6L1581.1 999L1590.1 985.1L1600.5 964.4L1610.9 929.8L1621.2 898.7L1631.6 857.2L1640.6 833L1650.3 826.1L1659.2 836.5L1666.2 853.8L1673.1 857.2L1680 781.2L1686.9 719L1695.9 674L1704.2 732.8L1714.6 781.2L1724.9 801.9L1735.3 815.8L1742.2 826.1L1752.6 812.3L1762.9 840L1773.3 860.7L1783.7 888.4L1794.1 878L1804.4 881.4L1814.8 872.5L1825.2 898.7L1835.5 909.1L1845.9 905.6L1856.3 898.7L1866.6 916L1877 922.9L1887.4 898.7L1897.8 891.8L1908.1 929.8L1917.1 912.5L1925.4 947.1L1930.9 952.6" fill="none" stroke="#e8202a" stroke-width="5.5" stroke-linejoin="round"/>
<path d="M1460.8 962.1L1469.1 966.6L1479.5 979.4L1489.9 981.9L1503.7 982.8L1514.1 978.7L1524.4 968.4L1534.8 972.6L1545.2 973.6L1555.5 968.2L1565.9 968L1576.3 956.3L1586.7 945.2L1597 938.4L1603.9 935.3L1612.9 925.5L1621.2 884.5L1631.6 806.2L1642 753L1650.3 734L1655.8 731.7L1662.7 744L1671 781.3L1680 782.1L1686.9 795.3L1697.3 822.5L1707.6 849.6L1718 875.6L1724.9 891.2L1731.8 885.7L1742.2 899.1L1752.6 911.9L1762.9 906.3L1773.3 893.3L1783.7 896.2L1794.1 908.6L1804.4 901.3L1814.8 906.7L1825.2 895.3L1835.5 886.8L1845.9 872.7L1856.3 876.6L1866.6 879.4L1877 874.9L1887.4 878.4L1897.8 867.7L1908.1 875.3L1918.5 873.2L1930.9 886.7L1930.9 899.7L1918.5 889.7L1908.1 894.5L1897.8 885.5L1887.4 894.1L1877 887.9L1866.6 897.3L1856.3 893.2L1845.9 886L1835.5 903.7L1825.2 913.2L1814.8 921.2L1804.4 916.9L1794.1 923.4L1783.7 915L1773.3 911L1762.9 921.5L1752.6 927L1742.2 912.1L1731.8 904.8L1724.9 906.2L1718 894.2L1707.6 864.9L1697.3 836.7L1686.9 808.6L1680 796.9L1671 794.9L1662.7 763.1L1655.8 744.9L1650.3 748.2L1642 767.9L1631.6 825.3L1621.2 899.1L1612.9 941.1L1603.9 952L1597 955.8L1586.7 962.9L1576.3 972.5L1565.9 984.3L1555.5 984.1L1545.2 989.8L1534.8 988L1524.4 983.9L1514.1 991.6L1503.7 997.1L1489.9 998.1L1479.5 997.8L1469.1 985.6L1460.8 980.5Z" fill="#d2d4e8"/>
<path d="M1460.8 971.3L1469.1 976.1L1479.5 988.6L1489.9 990L1503.7 990L1514.1 985.1L1524.4 976.1L1534.8 980.3L1545.2 981.7L1555.5 976.1L1565.9 976.1L1576.3 964.4L1586.7 954L1597 947.1L1603.9 943.7L1612.9 933.3L1621.2 891.8L1631.6 815.8L1642 760.5L1650.3 741.1L1655.8 738.3L1662.7 753.5L1671 788.1L1680 789.5L1686.9 801.9L1697.3 829.6L1707.6 857.2L1718 884.9L1724.9 898.7L1731.8 895.3L1742.2 905.6L1752.6 919.5L1762.9 913.9L1773.3 902.2L1783.7 905.6L1794.1 916L1804.4 909.1L1814.8 913.9L1825.2 904.3L1835.5 895.3L1845.9 879.4L1856.3 884.9L1866.6 888.4L1877 881.4L1887.4 886.3L1897.8 876.6L1908.1 884.9L1918.5 881.4L1930.9 893.2" fill="none" stroke="#25317f" stroke-width="5.5" stroke-linejoin="round"/>
<path d="M1461 75V515.1" stroke="#000" stroke-width="4.2"/>
<path d="M1458.9 513H1932" stroke="#000" stroke-width="4.2"/>
<path d="M1461 123h-12M1461 309h-12M1461 495h-12" stroke="#000" stroke-width="4.2"/>
<path d="M1518.9 513v23M1636.4 513v23M1753.9 513v23M1871.4 513v23" stroke="#000" stroke-width="4.2"/>
<text x="1440" y="127" text-anchor="end">100</text>
<text x="1440" y="499" text-anchor="end">0</text>
<text text-anchor="middle" transform="translate(1401,309) rotate(-90)">&#916;F/F (%)</text>
<path d="M1461 600V1040.1" stroke="#000" stroke-width="4.2"/>
<path d="M1458.9 1038H1932" stroke="#000" stroke-width="4.2"/>
<path d="M1461 601.5h-12M1461 804h-12M1461 1006h-12" stroke="#000" stroke-width="4.2"/>
<path d="M1518.9 1038v23M1636.4 1038v23M1753.9 1038v23M1871.4 1038v23" stroke="#000" stroke-width="4.2"/>
<text x="1440" y="605.5" text-anchor="end">100</text>
<text x="1440" y="1010" text-anchor="end">0</text>
<text text-anchor="middle" transform="translate(1401,803.8) rotate(-90)">&#916;F/F (%)</text>
<text x="1526.9" y="1108.5" text-anchor="middle">-1</text>
<text x="1638.4" y="1108.5" text-anchor="middle">0</text>
<text x="1755.9" y="1108.5" text-anchor="middle">1</text>
<text x="1873.4" y="1108.5" text-anchor="middle">2</text>
<text x="1696" y="1165" text-anchor="middle">Time from press (s)</text>
<text x="1932" y="61" text-anchor="end">LC-NA:dmPFC</text>
<text x="1932" y="616" text-anchor="end">LC-NA:MC</text>
<text x="1808" y="140" fill="#e8202a">False</text>
<text x="1808" y="185" fill="#e8202a">alarm</text>
<text x="1808" y="243" fill="#25317f">Hit</text>
<text x="2009" y="52" font-weight="bold" font-size="66">c</text>
<rect x="2062" y="77" width="7.5" height="433" fill="#0a9ad8"/>
<rect x="2062" y="605" width="7.5" height="435" fill="#b41e8d"/>
<text text-anchor="middle" transform="translate(2046,294) rotate(-90)">LC-NA:dmPFC</text>
<text text-anchor="middle" transform="translate(2047,836.5) rotate(-90)">LC-NA:MC</text>
<text text-anchor="middle" transform="translate(2128,294) rotate(-90)">Axon #</text>
<text x="2428" y="52" text-anchor="middle">Hit</text>
<text x="2945" y="52" text-anchor="middle">Miss</text>
<text x="3478" y="52" text-anchor="middle">Correct rejection</text>
<text x="3993.5" y="52" text-anchor="middle">False alarm</text>
<g transform="translate(2173,83.34) scale(7.1357,12.6765)" shape-rendering="crispEdges" fill="none" stroke-width="1.03">
<rect x="0" y="-0.5" width="70" height="34" fill="#e8e8e8"/>
<path d="M7 0h1M60 0h1M62 0h3M14 2h1M16 2h1M18 2h1M0 3h2M3 3h2M8 3h2M11 3h5M17 3h6M20 4h1M9 5h2M16 5h1M18 5h1M25 5h4M0 6h3M5 6h2M9 6h2M16 6h1M10 7h3M14 7h3M18 7h1M20 7h5M36 7h6M43 7h1M45 7h25M0 8h1M3 8h4M8 8h3M17 8h6M0 9h6M7 9h1M12 9h4M17 9h3M47 9h5M61 9h1M0 10h6M7 10h5M15 11h3M21 11h1M3 12h1M0 14h9M10 14h2M17 14h6M15 15h1M0 17h7M19 17h1M21 17h2M25 17h1M62 17h2M0 18h11M13 18h1M15 18h5M63 18h1M67 18h1M2 19h1M7 19h1M9 19h4M6 21h3M10 21h1M12 21h1M0 23h13M14 23h6M37 23h33M5 24h4M10 24h3M9 26h4M15 26h1M19 26h1M22 26h1M16 27h3M2 29h1M4 29h2M12 29h2M15 29h1M2 32h2M9 32h1" stroke="#f7f7f7"/>
<path d="M0 0h3M4 0h2M9 0h3M14 0h3M23 0h1M39 0h2M43 0h4M48 0h2M51 0h3M56 0h1M68 0h2M0 1h1M2 1h2M6 1h1M10 1h1M12 1h1M14 1h6M4 2h4M11 2h1M69 2h1M53 3h1M57 3h2M60 3h3M64 3h2M67 3h1M2 4h1M4 4h5M11 4h1M15 4h2M0 5h1M5 5h1M12 5h4M19 5h1M21 5h2M31 5h1M34 5h1M36 5h3M41 5h1M45 5h2M48 5h1M60 5h1M7 6h1M22 6h1M2 7h2M5 7h1M25 7h3M30 7h1M32 7h1M14 8h2M56 8h1M64 8h2M67 8h3M8 9h1M11 9h1M24 9h1M31 9h2M36 9h2M39 9h4M44 9h1M53 9h1M55 9h3M65 9h1M67 9h2M13 10h1M15 10h3M19 10h3M5 11h1M8 11h1M10 11h1M18 11h1M24 11h1M0 12h2M7 12h3M14 12h2M18 12h1M21 12h1M23 12h2M43 12h1M46 12h1M49 12h4M55 12h1M57 12h1M59 12h4M68 12h1M0 13h1M2 13h1M4 13h2M7 13h1M10 13h1M13 13h1M17 13h2M20 13h2M15 14h1M69 14h1M1 15h2M8 15h1M12 15h1M20 15h1M1 16h4M7 16h1M11 16h3M15 16h1M17 16h2M9 17h2M12 17h7M26 17h3M37 17h1M40 17h2M43 17h2M46 17h3M50 17h6M57 17h2M60 17h1M65 17h2M68 17h1M41 18h1M49 18h1M51 18h3M57 18h1M59 18h1M6 19h1M15 19h1M18 19h3M4 20h1M6 20h2M9 20h2M12 20h3M16 20h1M19 20h2M22 20h1M3 21h1M14 21h2M18 21h1M20 21h1M6 22h1M11 22h4M18 22h3M22 22h1M32 22h3M36 22h1M39 22h2M42 22h1M46 22h1M50 22h1M54 22h2M57 22h2M60 22h2M63 22h1M67 22h1M69 22h1M22 23h5M30 23h1M16 24h1M21 24h1M0 25h1M2 25h2M6 25h1M16 25h2M19 25h2M4 26h1M6 26h1M24 26h1M50 26h1M60 26h1M0 27h1M4 27h1M7 27h5M15 27h1M20 27h1M47 27h3M61 27h1M2 28h2M5 28h1M7 28h2M10 28h1M13 28h1M15 28h1M6 29h1M11 29h1M22 29h2M0 30h3M4 30h1M13 30h4M18 30h1M3 31h1M7 31h6M14 31h5M20 31h1M54 31h1M57 31h1M63 31h1M65 31h1M10 32h1M14 32h1M17 32h1M19 32h4M0 33h5M10 33h3M16 33h4" stroke="#d8d8d8"/>
<path d="M12 0h2M17 0h1M19 0h1M21 0h2M24 0h1M37 0h2M41 0h2M1 1h1M9 1h1M11 1h1M13 1h1M20 1h1M66 1h1M69 1h1M24 2h1M50 2h1M53 2h3M57 2h2M60 2h1M63 2h1M65 2h4M23 3h1M38 3h1M40 3h1M42 3h1M44 3h6M52 3h1M54 3h3M59 3h1M63 3h1M68 3h1M1 4h1M3 4h1M3 5h1M32 5h2M35 5h1M39 5h1M42 5h3M47 5h1M49 5h10M62 5h1M64 5h4M69 5h1M28 7h1M24 8h1M46 8h5M52 8h1M54 8h2M57 8h6M29 9h2M2 12h1M10 12h4M22 12h1M40 12h3M44 12h2M47 12h2M58 12h1M63 12h1M3 13h1M6 13h1M11 13h2M14 13h3M19 13h1M55 14h1M58 14h1M64 14h4M11 15h1M21 15h1M60 15h1M0 16h1M6 16h1M8 16h3M19 16h4M24 16h2M65 16h2M29 17h1M31 17h1M35 17h2M38 17h2M42 17h1M56 17h1M22 18h1M38 18h3M43 18h6M50 18h1M54 18h3M16 19h1M22 19h1M8 20h1M11 20h1M15 20h1M21 20h1M22 21h1M0 22h3M4 22h2M7 22h4M23 22h2M28 22h4M35 22h1M37 22h2M41 22h1M47 22h3M51 22h3M56 22h1M59 22h1M62 22h1M27 23h2M60 24h2M64 24h1M7 25h1M69 25h1M5 26h1M25 26h1M28 26h8M43 26h1M45 26h2M51 26h3M55 26h5M61 26h6M5 27h2M21 27h1M27 27h1M45 27h2M51 27h1M53 27h1M57 27h4M64 27h1M63 28h7M5 30h2M11 30h2M17 30h1M20 30h3M54 30h1M64 30h5M13 31h1M21 31h1M39 31h1M41 31h1M43 31h5M50 31h1M52 31h1M55 31h1M58 31h5M64 31h1M66 31h3M13 32h1M18 32h1M5 33h5M55 33h1M63 33h1M66 33h1" stroke="#c9c9c9"/>
<path d="M18 0h1M20 0h1M25 0h1M35 0h2M21 1h1M48 1h3M53 1h4M59 1h2M62 1h4M67 1h2M41 2h3M45 2h4M51 2h2M56 2h1M59 2h1M61 2h2M64 2h1M24 3h2M34 3h4M39 3h1M41 3h1M43 3h1M50 3h1M40 5h1M59 5h1M61 5h1M63 5h1M68 5h1M23 6h1M39 8h1M44 8h2M51 8h1M53 8h1M63 8h1M25 9h4M23 10h1M25 12h1M39 12h1M22 13h1M23 14h1M41 14h2M44 14h3M48 14h6M56 14h2M59 14h5M68 14h1M22 15h1M47 15h1M49 15h1M54 15h1M56 15h4M62 15h1M69 15h1M5 16h1M23 16h1M46 16h2M50 16h5M63 16h2M67 16h2M30 17h1M32 17h2M35 18h3M42 18h1M23 20h1M67 20h3M3 22h1M25 22h3M62 24h2M65 24h4M22 25h1M62 25h1M64 25h5M26 26h2M39 26h4M47 26h3M54 26h1M67 26h3M22 27h1M25 27h1M29 27h1M31 27h2M34 27h1M44 27h1M50 27h1M52 27h1M54 27h3M62 27h2M65 27h1M67 27h2M22 28h1M47 28h1M54 28h9M24 29h1M57 29h3M7 30h4M19 30h1M23 30h1M25 30h1M37 30h1M45 30h2M48 30h1M53 30h1M55 30h4M60 30h4M69 30h1M35 31h4M40 31h1M42 31h1M48 31h2M51 31h1M53 31h1M56 31h1M69 31h1M47 32h1M57 32h1M59 32h1M66 32h4M20 33h1M46 33h1M56 33h7M64 33h2M67 33h2" stroke="#b9b9b9"/>
<path d="M22 1h1M35 1h3M40 1h1M47 1h1M51 1h2M57 1h2M61 1h1M36 2h1M39 2h2M44 2h1M49 2h1M26 3h8M51 3h1M23 4h1M24 6h1M42 6h1M46 6h1M62 6h2M67 6h1M38 8h1M40 8h4M49 10h1M59 10h1M38 12h1M60 13h2M63 13h2M66 13h1M38 14h1M43 14h1M47 14h1M54 14h1M23 15h1M33 15h1M36 15h1M40 15h1M42 15h1M44 15h3M48 15h1M51 15h3M55 15h1M61 15h1M63 15h2M66 15h3M26 16h1M43 16h3M48 16h2M55 16h3M59 16h1M61 16h2M69 16h1M34 17h1M23 18h2M33 18h2M23 19h1M45 19h1M50 19h1M52 19h1M54 19h1M58 19h2M64 19h1M68 19h1M65 20h2M22 24h1M42 24h1M51 24h1M53 24h2M57 24h3M69 24h1M23 25h1M44 25h1M46 25h6M56 25h1M58 25h1M60 25h2M63 25h1M36 26h3M44 26h1M23 27h2M26 27h1M28 27h1M30 27h1M33 27h1M35 27h1M38 27h6M66 27h1M69 27h1M39 28h1M41 28h6M48 28h6M43 29h2M60 29h3M66 29h4M24 30h1M26 30h1M34 30h3M38 30h1M43 30h2M47 30h1M49 30h2M52 30h1M59 30h1M32 31h3M23 32h1M38 32h1M41 32h1M44 32h1M46 32h1M49 32h1M56 32h1M58 32h1M60 32h3M64 32h1M21 33h1M30 33h1M35 33h1M38 33h2M43 33h1M45 33h1M47 33h8M69 33h1" stroke="#aaaaaa"/>
<path d="M26 0h1M31 0h1M33 0h2M34 1h1M38 1h2M41 1h6M25 2h1M34 2h1M37 2h2M63 4h1M66 4h3M25 6h2M29 6h1M31 6h1M33 6h1M40 6h2M43 6h1M45 6h1M47 6h1M49 6h10M61 6h1M64 6h3M68 6h2M25 8h1M37 8h1M42 10h7M50 10h4M56 10h3M60 10h3M64 10h3M68 10h2M25 11h1M44 11h1M55 11h1M37 12h1M23 13h1M47 13h2M50 13h2M53 13h1M56 13h4M62 13h1M65 13h1M68 13h2M36 14h2M39 14h2M29 15h1M31 15h1M34 15h2M37 15h3M41 15h1M43 15h1M50 15h1M65 15h1M27 16h1M33 16h2M36 16h1M38 16h5M58 16h1M60 16h1M25 18h1M29 18h1M31 18h2M24 19h1M40 19h1M51 19h1M53 19h1M55 19h3M60 19h4M65 19h3M69 19h1M24 20h1M50 20h2M54 20h1M60 20h1M64 20h1M23 21h1M45 21h2M55 21h1M59 21h2M62 21h4M67 21h1M69 21h1M35 24h1M39 24h3M43 24h5M49 24h2M52 24h1M55 24h2M39 25h5M45 25h1M52 25h4M57 25h1M59 25h1M36 27h2M36 28h2M40 28h1M25 29h1M39 29h1M42 29h1M45 29h1M47 29h4M52 29h5M63 29h1M65 29h1M27 30h1M30 30h1M33 30h1M39 30h3M51 30h1M22 31h2M36 32h2M39 32h2M42 32h2M45 32h1M48 32h1M50 32h6M63 32h1M65 32h1M22 33h3M27 33h3M31 33h2M34 33h1M36 33h2M40 33h3M44 33h1" stroke="#9a9a9a"/>
<path d="M32 1h2M26 2h1M33 2h1M35 2h1M24 4h1M41 4h1M44 4h6M51 4h4M61 4h2M64 4h2M69 4h1M27 6h2M30 6h1M32 6h1M38 6h1M44 6h1M48 6h1M59 6h2M36 8h1M24 10h3M34 10h1M36 10h1M54 10h2M63 10h1M67 10h1M41 11h1M43 11h1M45 11h5M51 11h4M56 11h1M59 11h2M62 11h2M65 11h2M69 11h1M26 12h1M36 12h1M24 13h2M39 13h8M49 13h1M52 13h1M54 13h2M67 13h1M33 14h3M24 15h2M27 15h1M30 15h1M32 15h1M28 16h3M32 16h1M35 16h1M37 16h1M26 18h1M28 18h1M30 18h1M25 19h1M36 19h1M39 19h1M41 19h1M43 19h2M46 19h4M25 20h1M37 20h1M40 20h1M48 20h2M52 20h2M55 20h5M61 20h3M42 21h1M44 21h1M47 21h4M53 21h2M56 21h3M61 21h1M66 21h1M68 21h1M23 24h1M30 24h5M36 24h3M48 24h1M24 25h1M37 25h2M23 28h1M35 28h1M38 28h1M36 29h1M40 29h2M46 29h1M51 29h1M64 29h1M28 30h2M31 30h2M42 30h1M31 31h1M35 32h1M25 33h2M33 33h1" stroke="#8b8b8b"/>
<path d="M27 0h4M32 0h1M23 1h1M31 1h1M27 2h1M31 2h2M37 4h1M40 4h1M42 4h2M50 4h1M55 4h6M34 6h4M39 6h1M26 8h1M34 8h2M27 10h1M29 10h1M31 10h2M35 10h1M37 10h2M40 10h2M26 11h2M35 11h1M37 11h2M40 11h1M42 11h1M50 11h1M57 11h2M61 11h1M64 11h1M67 11h2M35 12h1M26 13h1M32 13h1M37 13h1M24 14h2M32 14h1M26 15h1M28 15h1M31 16h1M27 18h1M35 19h1M37 19h2M42 19h1M26 20h2M35 20h2M38 20h2M41 20h7M24 21h1M34 21h1M37 21h1M41 21h1M43 21h1M51 21h2M24 24h1M26 24h2M25 25h1M35 25h2M24 28h1M32 28h3M26 29h1M37 29h2M25 31h1M30 31h1M24 32h1M34 32h1" stroke="#7b7b7b"/>
<path d="M24 1h1M28 1h1M30 1h1M28 2h3M25 4h1M36 4h1M38 4h2M28 10h1M30 10h1M33 10h1M39 10h1M31 11h1M33 11h2M36 11h1M39 11h1M27 12h1M34 12h1M27 13h5M33 13h4M38 13h1M31 14h1M26 19h9M28 20h1M31 20h1M33 20h1M32 21h2M35 21h2M38 21h1M25 24h1M28 24h2M26 25h1M30 25h1M33 25h2M27 29h1M33 29h3M24 31h1M27 31h3M33 32h1" stroke="#6c6c6c"/>
<path d="M25 1h3M29 1h1M32 8h2M28 11h3M32 11h1M28 12h1M32 12h2M26 14h1M29 14h2M29 20h2M32 20h1M34 20h1M25 21h3M29 21h3M39 21h2M27 25h2M31 25h2M25 28h1M31 28h1M28 29h5M26 31h1M32 32h1" stroke="#5c5c5c"/>
<path d="M26 4h1M33 4h3M27 8h2M31 8h1M29 12h3M27 14h1M28 21h1M29 25h1M27 28h2M30 28h1M25 32h2M31 32h1" stroke="#4d4d4d"/>
<path d="M28 4h5M29 8h2M28 14h1M26 28h1M29 28h1M30 32h1" stroke="#3d3d3d"/>
<path d="M27 4h1M27 32h3" stroke="#2e2e2e"/>
</g>
<path d="M2170.9 510.5H2674.5" stroke="#000" stroke-width="4.2"/>
<path d="M2173 510.5v22M2315.8 510.5v22M2458.6 510.5v22M2601.4 510.5v22" stroke="#000" stroke-width="4.2"/>
<g transform="translate(2696.5,83.34) scale(7.1357,12.6765)" shape-rendering="crispEdges" fill="none" stroke-width="1.03">
<rect x="0" y="-0.5" width="70" height="34" fill="#c9c9c9"/>
<path d="M0 1h11M12 1h2M15 1h7M31 1h1M34 1h7M43 1h16M60 1h2M63 1h1M66 1h2M69 1h1M5 5h1M8 5h1M2 6h2M7 6h1M9 6h1M12 6h1M14 6h5M26 6h9M36 6h4M42 6h1M45 6h15M61 6h1M67 6h1M0 7h19M21 7h3M25 7h3M29 7h24M54 7h16M19 9h1M48 9h1M3 10h2M8 10h5M14 10h3M18 10h3M22 10h3M26 10h12M39 10h2M46 10h2M49 10h2M53 10h1M60 10h8M69 10h1M45 12h1M13 13h1M30 13h1M59 13h1M0 15h3M9 15h5M25 15h1M27 15h2M30 15h3M36 15h6M48 15h1M50 15h4M55 15h3M60 15h1M22 16h1M42 16h2M63 16h1M58 17h1M40 18h1M65 18h1M0 20h3M4 20h5M47 20h1M62 20h6M69 20h1M53 23h1M44 27h2M1 29h3M5 29h5M20 29h1M23 29h1M26 29h2M29 29h4M37 29h2M40 29h4M45 29h1M47 29h3M51 29h1M53 29h1M55 29h1M57 29h10M0 30h1M18 30h3M22 30h2M54 30h3M65 30h1M67 30h1M25 31h1M28 31h1M30 31h1M0 32h10M12 32h9M22 32h44M68 32h2M0 33h1M2 33h2M5 33h1M20 33h2M25 33h1M33 33h2M42 33h2M47 33h1M52 33h2M55 33h1M64 33h1" stroke="#f7f7f7"/>
<path d="M11 1h1M14 1h1M22 1h6M29 1h2M32 1h2M41 1h2M59 1h1M62 1h1M65 1h1M68 1h1M41 2h1M35 3h1M45 3h1M12 4h1M30 4h1M46 4h1M3 5h2M6 5h2M16 5h3M33 5h1M43 5h1M48 5h3M53 5h2M62 5h1M65 5h1M0 6h1M4 6h3M10 6h1M13 6h1M20 6h2M25 6h1M35 6h1M40 6h2M43 6h2M60 6h1M62 6h4M68 6h1M19 7h2M28 7h1M53 7h1M62 8h1M0 9h1M18 9h1M20 9h1M23 9h1M27 9h1M29 9h5M46 9h2M49 9h1M0 10h1M5 10h3M13 10h1M17 10h1M21 10h1M25 10h1M38 10h1M43 10h1M45 10h1M48 10h1M51 10h2M54 10h1M56 10h4M68 10h1M7 11h2M1 12h2M4 12h1M12 12h2M24 12h1M26 12h5M32 12h1M36 12h1M41 12h1M43 12h2M46 12h1M48 12h1M55 12h2M61 12h1M63 12h1M3 13h1M6 13h4M11 13h2M33 13h2M43 13h2M54 13h1M57 13h2M60 13h1M64 13h1M67 13h3M38 14h1M3 15h1M6 15h2M18 15h1M20 15h3M24 15h1M26 15h1M29 15h1M34 15h2M42 15h2M45 15h2M49 15h1M54 15h1M58 15h2M61 15h4M66 15h1M69 15h1M1 16h1M3 16h3M7 16h1M14 16h1M17 16h1M20 16h1M25 16h1M27 16h1M29 16h3M44 16h1M47 16h1M54 16h1M61 16h1M64 16h1M66 16h1M69 16h1M6 17h1M8 17h2M39 17h4M57 17h1M61 17h1M3 18h1M6 18h1M8 18h1M10 18h2M16 18h1M22 18h1M24 18h1M27 18h1M30 18h1M36 18h1M38 18h1M41 18h2M54 18h2M63 18h2M66 18h2M69 18h1M3 20h1M10 20h1M12 20h1M16 20h1M18 20h1M26 20h1M30 20h2M33 20h1M35 20h3M41 20h1M44 20h1M48 20h3M54 20h1M59 20h3M68 20h1M37 21h1M48 21h1M52 21h1M63 21h1M65 21h1M67 21h1M45 22h1M1 23h1M4 23h1M6 23h1M11 23h1M21 23h1M23 23h1M26 23h1M30 23h1M35 23h2M49 23h2M52 23h1M58 23h1M63 23h1M67 23h1M6 24h1M42 24h1M61 24h1M8 27h1M11 27h2M15 27h1M31 27h1M48 27h1M57 27h2M63 27h1M66 27h1M69 27h1M45 28h1M62 28h1M0 29h1M4 29h1M11 29h2M15 29h5M24 29h2M33 29h4M39 29h1M44 29h1M46 29h1M50 29h1M52 29h1M56 29h1M67 29h3M1 30h3M11 30h1M15 30h3M21 30h1M33 30h1M35 30h1M45 30h1M47 30h1M50 30h4M57 30h3M61 30h3M66 30h1M68 30h2M10 31h2M23 31h2M29 31h1M48 31h1M10 32h2M21 32h1M66 32h2M1 33h1M4 33h1M8 33h3M12 33h4M17 33h1M19 33h1M22 33h3M26 33h3M31 33h2M37 33h5M44 33h2M48 33h4M56 33h1M58 33h1M62 33h2M65 33h5" stroke="#e8e8e8"/>
<path d="M7 0h1M20 0h1M24 0h1M57 0h2M28 1h1M64 1h1M3 2h1M9 2h1M12 2h1M15 2h1M22 2h4M27 2h1M29 2h1M31 2h3M36 2h1M42 2h2M46 2h1M55 2h1M57 2h3M2 3h1M16 3h1M18 3h1M42 3h1M46 3h1M54 3h3M60 3h1M67 3h1M1 4h2M11 4h1M15 4h3M22 4h1M29 4h1M32 4h1M37 4h1M43 4h1M45 4h1M47 4h1M55 4h1M57 4h1M60 4h1M0 5h2M9 5h2M21 5h1M25 5h7M34 5h1M36 5h1M38 5h2M42 5h1M44 5h4M51 5h1M55 5h1M61 5h1M63 5h1M66 5h4M1 6h1M8 6h1M11 6h1M19 6h1M23 6h1M66 6h1M69 6h1M24 7h1M22 8h1M25 8h1M32 8h1M45 8h2M51 8h1M54 8h3M60 8h2M63 8h1M65 8h1M1 9h1M15 9h3M21 9h2M24 9h3M28 9h1M34 9h1M37 9h1M44 9h2M50 9h2M53 9h4M58 9h3M62 9h1M64 9h2M68 9h1M1 10h2M41 10h2M44 10h1M55 10h1M14 11h2M17 11h1M25 11h1M27 11h1M46 11h1M49 11h1M53 11h1M58 11h1M0 12h1M3 12h1M5 12h4M10 12h2M14 12h3M18 12h1M23 12h1M25 12h1M33 12h2M37 12h4M42 12h1M47 12h1M49 12h1M51 12h2M54 12h1M57 12h1M59 12h2M62 12h1M69 12h1M0 13h1M14 13h3M19 13h1M24 13h1M29 13h1M31 13h2M35 13h1M37 13h2M40 13h3M46 13h1M51 13h2M55 13h2M61 13h3M65 13h1M10 14h1M28 14h1M30 14h1M34 14h1M36 14h2M49 14h1M55 14h1M59 14h3M64 14h1M4 15h2M8 15h1M14 15h2M17 15h1M19 15h1M23 15h1M33 15h1M44 15h1M47 15h1M65 15h1M67 15h2M0 16h1M2 16h1M6 16h1M8 16h2M11 16h3M15 16h2M18 16h2M24 16h1M26 16h1M28 16h1M32 16h1M38 16h4M46 16h1M48 16h1M50 16h4M65 16h1M67 16h2M2 17h1M4 17h2M7 17h1M10 17h3M18 17h1M27 17h3M31 17h2M43 17h1M46 17h1M51 17h1M54 17h3M59 17h2M63 17h3M67 17h1M69 17h1M0 18h2M4 18h2M7 18h1M9 18h1M12 18h1M14 18h2M17 18h1M20 18h1M23 18h1M25 18h2M28 18h2M31 18h1M37 18h1M39 18h1M43 18h3M47 18h1M50 18h1M52 18h2M56 18h1M60 18h2M68 18h1M41 19h1M44 19h1M9 20h1M11 20h1M13 20h1M15 20h1M17 20h1M19 20h1M22 20h2M27 20h3M32 20h1M34 20h1M38 20h1M40 20h1M42 20h2M45 20h2M51 20h1M53 20h1M56 20h3M15 21h2M20 21h1M24 21h1M28 21h2M35 21h1M38 21h1M40 21h1M44 21h1M49 21h3M53 21h3M60 21h3M64 21h1M66 21h1M68 21h1M4 22h1M9 22h1M18 22h1M20 22h1M43 22h2M47 22h3M57 22h1M60 22h1M64 22h4M2 23h1M5 23h1M13 23h2M16 23h1M18 23h1M24 23h2M27 23h2M31 23h2M37 23h5M45 23h3M51 23h1M54 23h2M57 23h1M59 23h3M64 23h1M66 23h1M68 23h2M0 24h2M3 24h1M7 24h2M14 24h2M18 24h2M22 24h1M33 24h2M36 24h3M46 24h3M59 24h2M62 24h5M68 24h1M2 26h1M26 26h1M42 26h1M59 26h1M62 26h2M66 26h2M0 27h1M2 27h1M4 27h2M10 27h1M13 27h2M16 27h1M19 27h2M22 27h1M24 27h1M28 27h1M33 27h3M41 27h1M43 27h1M46 27h1M49 27h2M52 27h5M60 27h1M65 27h1M67 27h2M10 28h1M12 28h2M16 28h1M19 28h3M24 28h1M26 28h1M34 28h1M41 28h1M57 28h1M10 29h1M13 29h2M21 29h2M28 29h1M4 30h1M10 30h1M12 30h2M24 30h2M34 30h1M42 30h3M49 30h1M64 30h1M0 31h1M7 31h1M15 31h1M17 31h1M20 31h2M26 31h2M37 31h4M42 31h2M45 31h3M56 31h1M59 31h3M64 31h1M66 31h3M6 33h2M11 33h1M16 33h1M30 33h1M35 33h2M46 33h1M54 33h1M57 33h1M59 33h3" stroke="#d8d8d8"/>
<path d="M4 0h1M9 0h1M12 0h6M21 0h1M25 0h1M27 0h1M31 0h2M35 0h4M41 0h1M43 0h2M46 0h2M49 0h2M54 0h1M56 0h1M59 0h1M61 0h1M67 0h3M7 2h1M10 2h1M19 2h1M28 2h1M38 2h1M48 2h1M60 2h1M63 2h3M68 2h1M0 3h1M3 3h1M6 3h1M9 3h1M11 3h3M15 3h1M22 3h1M27 3h1M31 3h1M33 3h1M39 3h1M49 3h1M52 3h2M57 3h1M59 3h1M61 3h1M69 3h1M5 4h1M8 4h1M18 4h1M20 4h2M23 4h2M26 4h1M36 4h1M39 4h1M49 4h1M58 4h2M63 4h4M68 4h2M11 5h3M52 5h1M56 5h1M64 5h1M5 8h1M7 8h2M23 8h2M28 8h1M35 8h2M39 8h2M42 8h1M47 8h4M52 8h1M66 8h1M69 8h1M3 9h1M5 9h3M9 9h1M12 9h2M41 9h1M0 11h4M6 11h1M11 11h3M21 11h2M24 11h1M26 11h1M28 11h1M30 11h1M32 11h1M41 11h3M47 11h2M50 11h2M61 11h1M64 11h1M17 12h1M31 12h1M66 12h1M18 13h1M20 13h2M23 13h1M27 13h1M48 13h1M2 14h1M4 14h3M8 14h1M14 14h3M18 14h1M21 14h1M23 14h3M27 14h1M33 14h1M51 14h1M53 14h1M56 14h1M62 14h1M66 14h2M33 16h1M58 16h1M0 17h1M13 17h1M15 17h1M17 17h1M24 17h2M34 17h2M47 17h1M49 17h1M52 17h1M62 17h1M68 17h1M35 18h1M51 18h1M57 18h1M1 19h1M4 19h2M7 19h1M10 19h2M15 19h1M24 19h1M27 19h1M33 19h1M35 19h2M42 19h1M47 19h2M51 19h1M53 19h3M57 19h1M59 19h1M61 19h2M64 19h1M67 19h2M39 20h1M5 21h3M9 21h2M12 21h1M14 21h1M21 21h1M23 21h1M26 21h1M30 21h3M56 21h2M0 22h1M5 22h1M13 22h4M24 22h1M27 22h1M34 22h1M37 22h1M41 22h1M53 22h4M61 22h1M17 23h1M22 23h1M65 23h1M11 24h1M13 24h1M16 24h1M23 24h1M26 24h1M31 24h1M39 24h2M44 24h2M52 24h2M56 24h2M67 24h1M4 25h2M9 25h1M23 25h1M30 25h2M46 25h2M62 25h2M0 26h1M3 26h1M10 26h3M16 26h2M20 26h1M27 26h1M34 26h1M36 26h1M38 26h3M43 26h1M45 26h2M48 26h1M52 26h1M54 26h3M61 26h1M64 26h1M3 27h1M6 27h1M17 27h2M36 27h2M39 27h1M0 28h3M6 28h3M17 28h2M22 28h1M31 28h1M36 28h2M39 28h1M42 28h1M47 28h1M54 28h1M59 28h1M61 28h1M68 28h1M7 30h1M28 30h1M30 30h1M3 31h1M18 31h2M34 31h1M49 31h1M52 31h4M58 31h1" stroke="#b9b9b9"/>
<path d="M1 0h3M5 0h1M19 0h1M34 0h1M39 0h1M42 0h1M51 0h1M11 2h1M45 2h1M49 2h2M52 2h1M5 3h1M7 3h1M10 3h1M14 3h1M19 3h3M23 3h4M28 3h1M43 3h1M38 4h1M40 4h2M56 4h1M4 8h1M18 8h3M27 8h1M37 8h1M67 8h1M8 9h1M10 9h1M29 11h1M39 11h2M44 11h1M59 11h2M3 14h1M20 14h1M22 14h1M26 14h1M32 14h1M16 17h1M19 17h1M21 17h1M23 17h1M0 19h1M6 19h1M8 19h2M12 19h1M14 19h1M16 19h2M19 19h1M21 19h3M25 19h2M32 19h1M34 19h1M52 19h1M56 19h1M66 19h1M4 21h1M13 21h1M43 21h1M23 22h1M25 22h2M31 22h3M36 22h1M51 22h1M27 24h1M30 24h1M51 24h1M54 24h2M2 25h2M6 25h3M10 25h2M13 25h3M18 25h1M25 25h2M29 25h1M34 25h1M37 25h1M56 25h1M60 25h2M65 25h3M69 25h1M32 26h1M41 26h1M49 26h3M53 26h1M27 28h1M30 28h1M35 28h1M38 28h1M48 28h2M51 28h1M53 28h1M67 28h1M2 31h1" stroke="#aaaaaa"/>
<path d="M8 3h1M29 3h2M35 4h1M11 9h1M20 17h1M2 19h2M13 19h1M18 19h1M20 19h1M28 22h3M38 22h1M1 25h1M12 25h1M17 25h1M20 25h3M24 25h1M27 25h2M32 25h1M38 25h1M42 25h4M49 25h1M51 25h1M54 25h1M57 25h1M64 25h1M68 25h1M47 26h1M50 28h1M52 28h1" stroke="#9a9a9a"/>
<path d="M0 25h1M16 25h1M19 25h1M35 25h2M39 25h1M41 25h1M48 25h1M50 25h1M52 25h2M55 25h1M59 25h1" stroke="#8b8b8b"/>
<path d="M33 25h1M40 25h1M58 25h1" stroke="#7b7b7b"/>
</g>
<path d="M2694.4 510.5H3198" stroke="#000" stroke-width="4.2"/>
<path d="M2696.5 510.5v22M2839.3 510.5v22M2982.1 510.5v22M3124.9 510.5v22" stroke="#000" stroke-width="4.2"/>
<g transform="translate(3220.5,83.34) scale(7.1357,12.6765)" shape-rendering="crispEdges" fill="none" stroke-width="1.03">
<rect x="0" y="-0.5" width="70" height="34" fill="#d8d8d8"/>
<path d="M3 1h1M6 1h2M9 1h2M12 1h4M19 1h1M21 1h1M30 1h1M32 1h1M34 1h2M59 1h1M62 1h1M65 1h1M1 3h1M25 3h1M1 4h1M17 4h4M29 4h1M31 4h1M33 4h1M39 4h1M41 4h1M62 4h5M7 9h1M14 10h1M2 11h1M12 11h1M7 13h1M9 13h1M42 13h1M44 13h1M67 13h1M7 14h1M58 14h2M0 18h1M2 18h3M13 18h1M15 18h2M19 18h4M24 18h1M26 18h1M35 18h1M44 18h2M48 18h1M53 18h1M55 18h1M0 20h6M19 20h1M21 20h1M29 20h1M31 20h4M37 20h1M43 20h1M45 20h3M49 20h2M14 22h1M51 23h1M11 25h1M16 25h1M27 26h1M1 29h4M6 29h1M10 29h3M14 29h1M22 29h2M25 29h2M38 29h1M40 29h3M44 29h6M52 29h2M56 29h1M59 29h1M2 30h1M12 33h1M16 33h1M31 33h1M43 33h2M53 33h1M56 33h1" stroke="#f7f7f7"/>
<path d="M0 1h3M4 1h2M8 1h1M11 1h1M16 1h3M20 1h1M22 1h3M27 1h2M31 1h1M38 1h8M49 1h3M58 1h1M60 1h2M63 1h1M67 1h2M7 2h1M12 2h1M16 2h1M24 2h3M56 2h1M66 2h1M2 3h7M10 3h1M21 3h3M26 3h5M32 3h1M35 3h2M38 3h1M41 3h2M44 3h1M47 3h6M58 3h1M60 3h1M65 3h1M67 3h2M0 4h1M2 4h11M14 4h3M21 4h2M28 4h1M30 4h1M32 4h1M34 4h2M38 4h1M40 4h1M42 4h3M46 4h2M50 4h2M54 4h6M67 4h3M1 5h1M1 7h1M4 7h1M3 8h1M16 8h1M67 8h1M2 9h2M5 9h2M8 9h3M15 9h3M19 9h2M23 9h2M39 9h2M42 9h1M44 9h1M46 9h1M49 9h2M52 9h1M58 9h1M60 9h1M68 9h1M1 10h1M12 10h2M15 10h1M26 10h1M28 10h1M36 10h2M43 10h1M45 10h2M54 10h2M59 10h1M0 11h1M5 11h1M8 11h1M15 11h2M19 11h1M29 11h1M31 11h1M33 11h1M54 11h1M56 11h1M59 11h1M64 11h1M1 12h1M4 12h4M10 12h1M13 12h1M15 12h2M19 12h1M24 12h1M27 12h1M44 12h1M49 12h1M69 12h1M0 13h3M4 13h1M8 13h1M10 13h2M18 13h1M20 13h2M23 13h3M40 13h2M43 13h1M46 13h1M51 13h4M57 13h1M64 13h2M68 13h2M0 14h2M3 14h4M9 14h2M15 14h1M18 14h4M23 14h2M26 14h9M37 14h1M39 14h1M41 14h3M54 14h4M60 14h1M62 14h4M68 14h2M15 15h1M17 15h1M8 17h1M12 17h1M14 17h1M1 18h1M5 18h1M7 18h3M11 18h2M17 18h2M23 18h1M28 18h1M30 18h2M33 18h2M36 18h1M38 18h4M43 18h1M46 18h2M49 18h4M54 18h1M56 18h2M60 18h1M65 18h2M68 18h1M0 19h1M11 19h1M25 19h1M7 20h4M13 20h4M18 20h1M20 20h1M23 20h1M25 20h4M30 20h1M35 20h2M38 20h5M44 20h1M48 20h1M51 20h1M53 20h1M67 20h2M8 21h1M10 21h3M19 21h5M43 21h2M49 21h1M56 21h1M3 22h2M7 22h1M13 22h1M15 22h2M0 23h1M2 23h2M5 23h1M8 23h1M17 23h1M20 23h1M47 23h1M4 24h1M15 24h2M19 24h1M22 24h1M62 24h2M66 24h1M68 24h1M0 25h1M2 25h1M5 25h1M8 25h2M12 25h1M17 25h1M19 25h3M37 25h1M40 25h2M45 25h1M69 25h1M7 26h1M24 26h2M28 26h4M33 26h2M66 26h1M2 28h3M6 28h1M16 28h3M21 28h1M57 28h1M5 29h1M7 29h1M9 29h1M13 29h1M15 29h3M19 29h3M24 29h1M28 29h1M34 29h4M39 29h1M43 29h1M50 29h2M54 29h2M57 29h2M60 29h10M0 30h2M3 30h3M7 30h1M9 30h1M24 30h1M30 30h3M52 30h1M58 30h1M60 30h2M63 30h1M0 32h2M0 33h1M6 33h2M10 33h2M13 33h2M22 33h2M25 33h1M27 33h2M30 33h1M37 33h1M40 33h3M45 33h2M54 33h2M59 33h1M64 33h1M66 33h3" stroke="#e8e8e8"/>
<path d="M0 0h6M8 0h3M12 0h1M16 0h2M19 0h4M25 0h2M28 0h1M30 0h1M34 0h1M45 0h1M47 0h1M50 0h1M52 0h5M59 0h2M62 0h1M67 0h1M53 1h1M55 1h1M0 2h1M9 2h1M11 2h1M15 2h1M17 2h5M23 2h1M28 2h1M30 2h1M32 2h4M37 2h3M41 2h3M52 2h1M55 2h1M59 2h1M62 2h2M67 2h1M69 2h1M15 3h1M57 3h1M66 3h1M25 4h1M45 4h1M3 5h2M7 5h3M13 5h1M18 5h1M20 5h4M28 5h1M33 5h3M37 5h1M44 5h1M46 5h1M49 5h1M51 5h1M55 5h1M7 6h1M9 6h1M16 6h1M20 6h1M24 6h2M48 6h1M51 6h1M55 6h1M59 6h1M7 7h3M12 7h2M16 7h1M18 7h3M22 7h2M25 7h5M32 7h1M35 7h2M39 7h1M42 7h3M46 7h1M48 7h5M54 7h1M56 7h9M0 8h1M7 8h1M9 8h3M15 8h1M17 8h1M23 8h6M30 8h1M32 8h3M37 8h2M40 8h1M42 8h2M45 8h2M48 8h2M51 8h4M62 8h1M68 8h1M26 9h2M29 9h1M33 9h3M37 9h1M41 9h1M45 9h1M47 9h1M54 9h1M61 9h1M63 9h2M66 9h1M2 10h1M7 10h1M11 10h1M20 10h2M40 10h1M49 10h1M51 10h3M56 10h3M60 10h3M67 10h1M10 11h2M22 11h3M36 11h3M45 11h1M48 11h1M50 11h1M60 11h1M65 11h1M68 11h2M17 12h1M30 12h3M35 12h1M37 12h1M39 12h3M47 12h1M53 12h2M56 12h1M60 12h2M63 12h2M34 13h1M47 13h1M58 13h1M13 14h1M25 14h1M50 14h2M67 14h1M8 15h5M21 15h3M27 15h1M29 15h1M31 15h1M33 15h1M36 15h1M41 15h3M51 15h3M55 15h1M57 15h2M60 15h3M67 15h3M0 16h1M3 16h4M8 16h3M12 16h2M18 16h1M20 16h2M24 16h7M41 16h1M46 16h5M52 16h1M56 16h3M61 16h2M64 16h3M0 17h2M3 17h1M13 17h1M18 17h2M21 17h6M28 17h1M38 17h1M40 17h1M42 17h2M46 17h6M55 17h3M60 17h1M64 17h1M66 17h2M27 18h1M7 19h2M15 19h2M18 19h1M20 19h1M28 19h1M30 19h1M41 19h2M44 19h2M47 19h4M52 19h3M56 19h7M67 19h3M56 20h1M62 20h1M65 20h1M1 21h1M3 21h2M6 21h1M14 21h1M25 21h2M29 21h1M31 21h1M45 21h1M48 21h1M50 21h1M57 21h6M64 21h1M1 22h1M22 22h6M30 22h1M33 22h4M42 22h2M45 22h2M52 22h1M56 22h3M60 22h2M66 22h4M9 23h1M12 23h1M14 23h1M16 23h1M29 23h2M33 23h2M38 23h1M54 23h1M56 23h4M61 23h1M64 23h1M66 23h2M69 23h1M1 24h3M9 24h4M23 24h1M26 24h2M29 24h2M34 24h1M38 24h1M40 24h2M43 24h1M45 24h1M47 24h2M50 24h3M55 24h1M57 24h1M59 24h2M69 24h1M28 25h1M34 25h1M43 25h1M46 25h2M51 25h1M57 25h2M62 25h1M64 25h1M3 26h2M6 26h1M11 26h4M16 26h2M19 26h2M22 26h2M38 26h1M40 26h3M44 26h4M49 26h2M55 26h1M58 26h2M62 26h2M3 27h6M10 27h1M12 27h3M18 27h4M23 27h1M25 27h1M28 27h1M30 27h2M35 27h9M45 27h1M47 27h4M56 27h2M59 27h2M64 27h1M67 27h3M20 28h1M25 28h1M27 28h1M29 28h2M36 28h3M44 28h2M47 28h1M49 28h1M52 28h2M61 28h1M64 28h5M15 30h3M22 30h1M25 30h2M28 30h1M35 30h2M40 30h1M45 30h1M47 30h1M49 30h1M53 30h1M56 30h1M66 30h3M0 31h1M2 31h1M5 31h2M11 31h3M15 31h2M18 31h3M24 31h3M28 31h1M31 31h2M36 31h1M38 31h2M41 31h4M46 31h2M49 31h1M51 31h1M58 31h1M62 31h1M64 31h2M68 31h2M2 32h1M4 32h1M9 32h2M14 32h2M17 32h1M19 32h2M24 32h2M28 32h4M34 32h2M37 32h3M50 32h1M53 32h3M57 32h1M59 32h3M64 32h2M69 32h1M1 33h1M18 33h1M61 33h2" stroke="#c9c9c9"/>
<path d="M6 0h1M11 0h1M13 0h3M18 0h1M27 0h1M29 0h1M32 0h2M35 0h3M39 0h5M46 0h1M48 0h2M57 0h2M61 0h1M63 0h4M68 0h2M54 1h1M22 2h1M31 2h1M36 2h1M40 2h1M44 2h1M50 2h2M53 2h2M58 2h1M60 2h2M10 5h3M14 5h4M24 5h4M36 5h1M38 5h1M40 5h2M43 5h1M45 5h1M47 5h2M52 5h3M56 5h1M58 5h2M61 5h2M64 5h6M0 6h7M8 6h1M13 6h1M15 6h1M17 6h1M19 6h1M21 6h1M23 6h1M28 6h1M34 6h12M47 6h1M49 6h2M52 6h1M54 6h1M56 6h1M58 6h1M61 6h1M64 6h5M11 7h1M30 7h1M53 7h1M55 7h1M35 8h2M47 8h1M50 8h1M60 8h2M19 10h1M33 10h1M49 11h1M38 12h1M62 12h1M30 15h1M32 15h1M40 15h1M44 15h1M46 15h3M59 15h1M65 15h1M1 16h2M11 16h1M31 16h10M59 16h2M63 16h1M67 16h3M29 17h6M36 17h2M39 17h1M41 17h1M52 17h3M58 17h2M61 17h3M65 17h1M68 17h2M19 19h1M51 19h1M64 19h1M66 19h1M30 21h1M32 21h2M35 21h3M54 21h1M63 21h1M31 22h2M37 22h5M59 22h1M55 23h1M68 23h1M31 24h3M35 24h3M44 24h1M49 24h1M54 24h1M56 24h1M53 25h1M65 25h1M21 26h1M39 26h1M43 26h1M60 26h2M0 27h3M9 27h1M11 27h1M15 27h1M24 27h1M32 27h3M51 27h1M53 27h3M58 27h1M61 27h2M65 27h2M24 28h1M26 28h1M28 28h1M39 28h1M41 28h3M46 28h1M44 30h1M1 31h1M7 31h4M17 31h1M27 31h1M29 31h2M45 31h1M48 31h1M50 31h1M52 31h6M59 31h3M63 31h1M66 31h1M7 32h2M18 32h1M26 32h2M32 32h1M40 32h3M44 32h4M49 32h1M51 32h2M56 32h1M58 32h1M62 32h2M66 32h1M68 32h1" stroke="#b9b9b9"/>
<path d="M31 0h1M38 0h1M44 0h1M51 0h1M29 5h4M39 5h1M42 5h1M57 5h1M60 5h1M63 5h1M10 6h3M14 6h1M18 6h1M22 6h1M26 6h2M29 6h5M46 6h1M57 6h1M60 6h1M62 6h2M69 6h1M45 15h1M35 17h1M65 19h1M34 21h1M52 27h1M63 27h1M48 32h1M67 32h1" stroke="#aaaaaa"/>
</g>
<path d="M3218.4 510.5H3722" stroke="#000" stroke-width="4.2"/>
<path d="M3220.5 510.5v22M3363.3 510.5v22M3506.1 510.5v22M3648.9 510.5v22" stroke="#000" stroke-width="4.2"/>
<g transform="translate(3744.5,83.34) scale(7.1357,12.6765)" shape-rendering="crispEdges" fill="none" stroke-width="1.03">
<rect x="0" y="-0.5" width="70" height="34" fill="#d8d8d8"/>
<path d="M1 0h4M8 0h1M11 0h1M0 1h2M3 1h1M6 1h1M51 1h1M54 1h3M60 1h2M64 1h6M0 3h3M4 3h3M8 3h2M11 3h5M58 3h12M0 4h6M10 4h1M13 4h2M60 4h1M64 4h6M10 5h1M0 6h6M7 6h2M10 6h1M3 8h1M6 8h1M9 8h1M63 8h1M66 8h1M3 10h3M4 12h1M47 13h1M50 13h2M54 13h4M60 13h10M0 14h1M2 14h1M5 14h1M9 17h1M68 18h2M7 19h1M65 19h1M67 19h3M4 20h2M0 23h2M7 23h1M2 24h2M8 24h3M2 25h1M52 25h1M55 25h1M57 25h3M62 25h1M66 25h4M0 26h3M5 26h1M7 26h1M10 26h1M15 26h1M60 26h1M62 26h1M65 26h5M44 27h1M51 27h2M54 27h16M0 28h7M9 28h1M11 28h5M5 29h3M1 30h1M3 30h1M56 32h2M59 32h1M63 32h7M48 33h1M58 33h7M67 33h1M69 33h1" stroke="#f7f7f7"/>
<path d="M0 0h1M6 0h2M9 0h2M12 0h2M18 0h1M2 1h1M4 1h1M7 1h1M15 1h6M50 1h1M58 1h2M62 1h2M0 2h4M5 2h1M13 2h1M3 3h1M7 3h1M10 3h1M16 3h1M45 3h2M48 3h1M56 3h1M6 4h4M11 4h2M16 4h1M18 4h1M45 4h1M47 4h2M56 4h2M59 4h1M61 4h1M63 4h1M7 5h1M14 5h1M6 6h1M9 6h1M11 6h2M2 7h1M0 8h3M4 8h2M7 8h2M10 8h6M17 8h2M59 8h2M67 8h3M11 9h1M0 10h3M6 10h1M8 10h1M4 11h3M8 11h1M0 12h2M5 12h2M17 12h1M0 13h3M9 13h1M46 13h1M48 13h1M52 13h1M59 13h1M1 14h1M3 14h2M6 14h1M8 14h1M18 14h1M7 15h1M10 15h1M2 16h1M0 17h2M8 17h1M10 17h2M13 17h1M2 18h1M4 18h1M13 18h1M67 18h1M8 19h3M12 19h1M14 19h1M60 19h1M64 19h1M66 19h1M0 20h4M6 20h1M0 22h1M2 23h1M5 23h2M63 23h1M0 24h2M4 24h1M6 24h2M11 24h2M0 25h1M5 25h1M7 25h4M14 25h2M50 25h1M53 25h2M56 25h1M60 25h2M63 25h3M3 26h1M9 26h1M13 26h2M16 26h3M49 26h1M52 26h1M59 26h1M61 26h1M63 26h2M4 27h1M41 27h2M45 27h3M49 27h2M8 28h1M10 28h1M16 28h1M18 28h1M0 29h1M2 29h2M8 29h2M18 29h1M61 29h3M65 29h1M69 29h1M0 30h1M4 30h1M6 30h2M9 30h6M56 30h1M58 30h1M60 30h1M55 32h1M58 32h1M60 32h1M62 32h1M1 33h1M5 33h1M7 33h1M11 33h2M16 33h1M49 33h4M57 33h1M65 33h1M68 33h1" stroke="#e8e8e8"/>
<path d="M20 0h2M8 1h6M21 1h2M12 2h1M16 2h1M63 2h6M19 3h2M44 3h1M50 3h3M55 3h1M20 4h1M50 4h3M54 4h1M1 5h2M4 5h1M13 5h1M18 5h2M66 5h1M16 6h2M67 6h1M3 7h1M6 7h1M9 7h1M11 7h1M14 7h1M20 7h3M66 7h2M56 8h2M1 9h3M7 9h2M13 9h3M50 9h1M54 9h4M59 9h2M63 9h2M66 9h2M11 10h2M64 10h3M68 10h1M1 11h3M9 11h2M13 11h3M19 11h1M59 11h1M65 11h2M68 11h2M10 12h1M12 12h1M50 12h1M53 12h1M57 12h1M60 12h2M64 12h1M66 12h2M7 13h2M12 13h2M15 13h2M19 13h1M11 14h1M13 14h1M15 14h2M19 14h3M0 15h5M9 15h1M11 15h1M13 15h3M19 15h1M55 15h2M62 15h2M66 15h3M5 16h1M7 16h1M9 16h1M11 16h1M13 16h3M2 17h1M5 17h1M14 17h2M17 17h1M3 18h1M6 18h1M9 18h1M50 18h1M54 18h2M58 18h1M60 18h1M62 18h3M3 19h1M13 19h1M46 19h1M48 19h1M50 19h1M56 19h3M10 20h2M13 20h3M18 20h2M0 21h2M4 21h3M8 21h3M13 21h1M17 21h1M1 22h1M3 22h2M9 22h1M13 22h2M16 22h1M57 22h1M59 22h2M62 22h1M64 22h1M69 22h1M4 23h1M10 23h3M15 23h2M19 23h3M59 23h1M61 23h1M68 23h2M13 24h1M15 24h2M18 24h1M6 25h1M16 25h1M45 25h2M49 25h1M19 26h2M45 26h1M53 26h3M58 26h1M2 27h1M7 27h2M11 27h4M16 27h1M40 27h1M20 28h1M64 28h2M67 28h1M69 28h1M11 29h2M14 29h1M17 29h1M20 29h1M22 29h1M46 29h5M55 29h2M58 29h2M66 29h1M8 30h1M18 30h1M55 30h1M57 30h1M61 30h2M66 30h1M0 31h1M3 31h1M5 31h2M62 31h2M67 31h2M0 32h2M5 32h3M9 32h1M11 32h1M13 32h1M16 32h3M54 32h1M4 33h1M13 33h1M17 33h3M24 33h1M45 33h1M47 33h1M56 33h1" stroke="#c9c9c9"/>
<path d="M22 0h3M47 0h1M56 0h1M62 0h1M23 1h1M45 1h3M18 2h2M49 2h2M58 2h5M69 2h1M21 3h1M23 3h1M43 3h1M19 4h1M21 4h1M23 4h1M44 4h1M3 5h1M65 5h1M67 5h1M69 5h1M22 6h2M44 6h1M46 6h1M50 6h1M52 6h1M55 6h1M57 6h1M59 6h1M62 6h2M65 6h1M68 6h1M5 7h1M8 7h1M10 7h1M12 7h1M15 7h5M69 7h1M20 8h4M54 8h1M9 9h2M16 9h1M39 9h4M49 9h1M58 9h1M61 9h2M68 9h1M13 10h1M20 10h2M62 10h2M67 10h1M11 11h2M56 11h3M60 11h2M64 11h1M11 12h1M13 12h1M20 12h1M45 12h2M49 12h1M51 12h2M56 12h1M58 12h2M69 12h1M11 13h1M18 13h1M20 13h4M43 13h3M54 14h1M57 14h1M68 14h2M5 15h1M48 15h5M59 15h3M4 16h1M8 16h1M12 16h1M19 16h2M18 17h1M65 17h1M18 18h1M52 18h1M56 18h2M16 19h1M18 19h1M47 19h1M49 19h1M51 19h2M54 19h2M59 19h1M16 20h1M2 21h2M11 21h1M14 21h1M18 21h3M57 21h4M2 22h1M5 22h1M15 22h1M17 22h1M48 22h3M52 22h1M55 22h2M58 22h1M54 23h1M56 23h3M66 23h1M17 24h1M65 24h5M17 25h1M22 26h2M46 26h1M10 27h1M15 27h1M17 27h2M39 27h1M54 28h1M56 28h2M63 28h1M25 29h2M45 29h1M51 29h4M19 30h2M51 30h1M53 30h2M64 30h2M1 31h2M7 31h3M11 31h1M13 31h1M44 31h1M50 31h3M54 31h1M56 31h1M58 31h1M60 31h2M64 31h3M3 32h2M10 32h1M12 32h1M15 32h1M21 32h2M50 32h1M52 32h2M20 33h1M23 33h1M25 33h2M28 33h1M44 33h1" stroke="#b9b9b9"/>
<path d="M25 0h1M27 0h1M46 0h1M57 0h1M59 0h3M63 0h3M69 0h1M24 1h2M44 1h1M20 2h1M48 2h1M51 2h2M54 2h4M22 3h1M24 3h1M22 4h1M43 4h1M20 5h1M63 5h2M21 6h1M24 6h1M42 6h1M45 6h1M49 6h1M51 6h1M53 6h2M56 6h1M60 6h2M64 6h1M66 6h1M69 6h1M13 7h1M23 7h1M45 7h1M47 7h3M58 7h2M62 7h4M68 7h1M51 8h3M18 9h1M37 9h2M43 9h1M45 9h4M22 10h2M20 11h3M44 11h1M49 11h1M54 11h2M62 11h2M21 12h1M23 12h1M41 12h1M43 12h2M47 12h2M24 13h1M42 13h1M22 14h2M46 14h1M55 14h2M58 14h1M60 14h1M66 14h2M20 15h2M44 15h1M46 15h2M57 15h2M6 16h1M19 17h2M52 17h1M55 17h1M60 17h1M63 17h2M69 17h1M19 18h2M46 18h4M51 18h1M19 19h1M43 19h3M53 19h1M21 21h1M54 21h1M56 21h1M61 21h3M66 21h2M18 22h4M47 22h1M51 22h1M53 22h2M22 23h3M45 23h2M49 23h2M52 23h2M55 23h1M19 24h1M41 24h1M55 24h2M61 24h4M18 25h1M41 25h1M43 25h2M24 26h1M43 26h2M19 27h1M21 28h1M47 28h1M50 28h1M52 28h2M55 28h1M58 28h5M27 29h1M44 29h1M21 30h1M23 30h1M52 30h1M10 31h1M12 31h1M14 31h1M17 31h1M46 31h3M53 31h1M55 31h1M57 31h1M59 31h1M19 32h2M23 32h1M45 32h5M51 32h1M21 33h2M27 33h1M40 33h1" stroke="#aaaaaa"/>
<path d="M26 0h1M28 0h1M45 0h1M49 0h1M51 0h1M54 0h2M58 0h1M68 0h1M40 1h4M53 2h1M25 3h2M42 3h1M24 4h3M41 4h1M21 5h1M54 5h2M58 5h3M62 5h1M25 6h1M40 6h2M43 6h1M47 6h2M58 6h1M24 7h2M43 7h2M52 7h1M55 7h3M60 7h2M46 8h5M17 9h1M19 9h1M48 10h1M51 10h1M53 10h1M55 10h3M59 10h3M45 11h4M51 11h3M22 12h1M25 12h1M42 12h1M25 13h1M24 14h2M28 14h1M43 14h3M48 14h1M50 14h2M59 14h1M64 14h2M22 15h1M45 15h1M21 16h1M21 17h3M50 17h2M56 17h2M59 17h1M62 17h1M66 17h3M21 18h1M44 18h2M20 19h2M20 20h3M64 20h2M69 20h1M51 21h2M55 21h1M64 21h2M68 21h2M41 22h1M45 22h2M25 23h1M42 23h1M47 23h2M51 23h1M21 24h1M42 24h1M52 24h3M57 24h4M19 25h1M39 25h1M42 26h1M38 27h1M22 28h4M46 28h1M48 28h2M51 28h1M28 29h1M43 29h1M22 30h1M24 30h2M45 30h1M49 30h2M15 31h2M43 31h1M49 31h1M25 32h1M44 32h1M29 33h2M37 33h1M42 33h2" stroke="#9a9a9a"/>
<path d="M43 0h2M48 0h1M50 0h1M52 0h2M66 0h2M26 1h2M30 1h2M37 1h3M21 2h2M42 2h1M44 2h4M27 3h1M40 3h2M42 4h1M22 5h1M48 5h6M56 5h2M61 5h1M38 6h2M26 7h1M30 7h1M32 7h1M46 7h1M50 7h2M53 7h2M24 8h1M25 9h1M44 9h1M45 10h1M49 10h2M52 10h1M54 10h1M58 10h1M42 11h2M50 11h1M24 12h1M26 12h2M38 12h1M26 13h2M26 14h2M29 14h4M40 14h3M47 14h1M49 14h1M53 14h1M61 14h1M63 14h1M23 15h2M39 15h1M41 15h3M22 16h2M24 17h1M38 17h1M42 17h1M48 17h2M53 17h2M58 17h1M61 17h1M22 18h3M43 18h1M22 19h5M39 19h2M42 19h1M23 20h1M63 20h1M66 20h1M68 20h1M22 21h2M42 21h4M47 21h2M50 21h1M53 21h1M22 22h3M26 22h1M29 22h1M39 22h2M42 22h2M41 23h1M43 23h2M20 24h1M39 24h2M43 24h3M49 24h1M20 25h1M42 25h1M25 26h1M41 26h1M20 27h1M22 27h1M37 27h1M44 28h2M42 29h1M46 30h1M48 30h1M18 31h1M40 31h1M42 31h1M45 31h1M24 32h1M42 32h2M31 33h1M36 33h1M38 33h2M41 33h1" stroke="#8b8b8b"/>
<path d="M29 0h2M28 1h2M32 1h1M36 1h1M23 2h1M37 2h1M40 2h2M43 2h1M39 3h1M27 4h1M40 4h1M23 5h1M45 5h2M26 6h3M36 6h2M27 7h3M42 7h1M26 8h1M45 8h1M20 9h2M36 9h1M24 10h2M44 10h1M46 10h2M23 11h3M40 11h2M28 12h1M40 12h1M30 13h1M38 13h1M41 13h1M33 14h2M36 14h4M52 14h1M62 14h1M30 15h1M36 15h3M40 15h1M60 16h1M67 16h2M37 17h1M39 17h3M47 17h1M27 19h4M41 19h1M24 20h2M41 20h1M59 20h4M67 20h1M24 21h1M26 21h1M40 21h2M46 21h1M49 21h1M25 22h1M27 22h2M30 22h2M38 22h1M44 22h1M40 23h1M37 24h2M46 24h1M48 24h1M50 24h2M21 25h1M38 25h1M40 25h1M26 26h1M39 26h2M21 27h1M31 27h1M33 27h1M36 27h1M26 28h2M42 28h1M29 29h1M32 29h1M26 30h2M47 30h1M41 31h1M40 32h2M32 33h2M35 33h1" stroke="#7b7b7b"/>
<path d="M31 0h2M34 0h2M39 0h1M42 0h1M33 1h3M25 2h1M38 2h2M28 3h3M35 3h1M28 4h1M39 4h1M24 5h1M26 5h1M43 5h2M47 5h1M33 6h1M35 6h1M31 7h1M33 7h1M35 7h1M25 8h1M27 8h1M44 8h1M22 9h3M26 9h1M33 9h3M40 10h1M42 10h2M26 11h1M29 11h1M37 11h3M36 12h2M39 12h1M28 13h1M34 13h1M37 13h1M39 13h2M35 14h1M25 15h2M29 15h1M32 15h1M35 15h1M58 16h1M65 16h2M69 16h1M25 17h2M34 17h1M36 17h1M43 17h2M46 17h1M25 18h2M42 18h1M31 19h1M37 19h2M27 20h1M40 20h1M42 20h2M51 20h8M25 21h1M27 21h1M30 21h1M33 21h1M38 21h2M32 22h1M26 23h2M37 23h1M22 24h2M35 24h2M47 24h1M22 25h1M28 26h1M23 27h1M30 27h1M32 27h1M34 27h2M43 28h1M30 29h2M35 29h1M40 29h2M41 30h1M44 30h1M19 31h1M26 32h1M34 33h1" stroke="#6c6c6c"/>
<path d="M33 0h1M36 0h1M38 0h1M40 0h2M24 2h1M36 2h1M32 3h2M37 3h2M29 4h2M32 4h1M38 4h1M25 5h1M27 5h1M40 5h1M29 6h3M34 6h1M34 7h1M36 7h1M38 7h4M28 8h1M27 9h1M32 9h1M26 10h2M39 10h1M27 11h2M30 11h2M33 11h4M29 12h2M35 12h1M29 13h1M31 13h3M35 13h2M27 15h2M31 15h1M33 15h1M24 16h2M53 16h1M56 16h2M59 16h1M61 16h4M27 17h2M30 17h1M32 17h2M35 17h1M39 18h1M41 18h1M35 19h2M26 20h1M28 20h1M39 20h1M44 20h7M28 21h2M35 21h1M37 21h1M36 22h2M28 23h1M36 23h1M39 23h1M24 24h1M26 24h3M30 24h1M23 25h2M37 25h1M27 26h1M30 26h1M33 26h3M37 26h2M25 27h3M29 27h1M28 28h2M40 28h2M33 29h2M38 29h2M28 30h1M42 30h2M20 31h1M39 31h1M27 32h1M38 32h2" stroke="#5c5c5c"/>
<path d="M37 0h1M27 2h1M31 3h1M34 3h1M36 3h1M31 4h1M35 4h3M36 5h1M39 5h1M41 5h1M32 6h1M37 7h1M29 8h1M31 8h1M43 8h1M28 9h2M28 10h4M38 10h1M41 10h1M32 11h1M34 12h1M34 15h1M26 16h2M29 16h1M37 16h5M50 16h2M54 16h2M29 17h1M31 17h1M45 17h1M27 18h1M40 18h1M32 19h3M29 20h1M38 20h1M31 21h2M34 21h1M36 21h1M33 22h3M29 23h2M35 23h1M38 23h1M25 24h1M32 24h1M34 24h1M36 25h1M29 26h1M31 26h2M24 27h1M30 28h1M32 28h1M37 28h1M36 29h1M39 30h2M21 31h1M38 31h1M29 32h2M32 32h1M36 32h2" stroke="#4d4d4d"/>
<path d="M26 2h1M28 2h1M35 2h1M33 4h1M29 5h1M37 5h1M42 5h1M30 8h1M39 8h1M42 8h1M30 9h2M37 10h1M31 12h3M28 16h1M42 16h6M49 16h1M52 16h1M29 18h1M37 18h1M31 23h2M34 23h1M29 24h1M31 24h1M33 24h1M25 25h1M34 25h1M36 26h1M28 27h1M31 28h1M35 28h1M38 28h2M37 29h1M29 30h1M38 30h1M22 31h1M37 31h1M28 32h1M31 32h1" stroke="#3d3d3d"/>
<path d="M29 2h6M34 4h1M28 5h1M30 5h6M38 5h1M32 8h7M40 8h2M32 10h5M30 16h7M48 16h1M28 18h1M30 18h7M38 18h1M30 20h8M33 23h1M26 25h8M35 25h1M33 28h2M36 28h1M30 30h8M23 31h14M33 32h3" stroke="#2e2e2e"/>
</g>
<path d="M3742.4 510.5H4246" stroke="#000" stroke-width="4.2"/>
<path d="M3744.5 510.5v22M3887.3 510.5v22M4030.1 510.5v22M4172.9 510.5v22" stroke="#000" stroke-width="4.2"/>
<path d="M2171.5 79V512" stroke="#000" stroke-width="4.2"/>
<g transform="translate(2173,610.52) scale(7.1357,10.0349)" shape-rendering="crispEdges" fill="none" stroke-width="1.03">
<rect x="0" y="-0.5" width="70" height="43" fill="#d8d8d8"/>
<path d="M14 0h1M47 8h1M50 8h2M53 8h1M55 8h2M58 8h4M63 8h1M69 8h1M0 10h1M2 10h1M4 10h5M12 10h1M16 10h2M22 10h2M55 15h2M65 15h2M69 15h1M0 16h9M10 16h12M38 16h32M16 19h1M12 20h1M14 20h2M0 24h9M11 24h1M14 24h1M7 27h3M16 27h1M0 28h3M4 28h2M10 28h1M12 28h1M15 31h1M39 31h1M42 31h3M50 31h1M53 31h1M58 31h2M61 31h7M0 34h13M6 39h1M10 39h3M14 39h3" stroke="#f7f7f7"/>
<path d="M15 0h1M17 0h3M53 0h2M56 0h1M60 0h2M69 0h1M1 3h1M8 3h2M4 6h1M8 6h2M5 7h1M18 7h1M22 7h1M42 8h1M45 8h2M48 8h2M52 8h1M54 8h1M57 8h1M62 8h1M64 8h2M67 8h2M13 9h1M15 9h1M1 10h1M3 10h1M9 10h3M14 10h1M18 10h4M2 11h2M5 11h2M20 11h1M1 13h2M8 13h1M20 13h1M22 13h1M8 14h1M19 14h2M38 15h1M45 15h2M51 15h4M57 15h2M64 15h1M67 15h2M9 16h1M22 16h1M34 16h2M37 16h1M0 18h1M3 18h1M5 18h3M15 18h1M1 19h6M8 19h1M15 19h1M17 19h1M22 19h1M11 20h1M13 20h1M16 20h1M14 21h1M0 22h1M4 22h1M6 22h3M10 22h2M14 22h3M18 22h1M9 24h2M12 24h2M17 24h1M19 24h3M1 27h1M3 27h2M6 27h1M10 27h1M12 27h1M14 27h2M18 27h2M3 28h1M6 28h2M9 28h1M14 28h4M20 28h4M9 29h1M0 30h1M2 30h1M4 30h1M8 30h1M17 30h1M2 31h2M5 31h3M10 31h5M17 31h1M19 31h2M37 31h2M40 31h2M46 31h4M51 31h2M55 31h3M60 31h1M68 31h2M7 32h1M18 32h1M13 34h1M17 34h3M0 35h2M4 35h2M8 35h3M12 35h1M14 35h1M18 35h1M23 35h1M58 35h1M60 35h1M15 36h1M0 39h3M4 39h1M7 39h3M13 39h1M17 39h4M8 40h1M10 40h1M14 40h1M17 40h2M8 41h1M17 41h1M19 41h1M0 42h2" stroke="#e8e8e8"/>
<path d="M0 0h5M10 0h1M21 0h3M39 0h1M52 0h1M55 0h1M67 0h1M0 1h3M4 1h3M8 1h1M10 1h1M13 1h6M20 1h2M65 1h1M0 2h5M6 2h2M12 2h1M15 2h1M18 2h1M20 2h1M4 3h1M11 3h2M16 3h1M19 3h1M3 4h3M7 4h5M17 4h3M21 4h3M0 5h1M2 5h2M6 5h1M8 5h4M13 5h2M18 5h1M0 6h1M3 6h1M5 6h1M10 6h2M13 6h1M16 6h5M8 7h1M11 7h1M13 7h4M62 7h2M67 7h1M69 7h1M0 8h2M12 8h1M14 8h1M18 8h1M23 8h1M40 8h1M2 9h2M5 9h1M60 9h1M15 10h1M24 10h1M54 10h1M65 10h2M69 10h1M1 11h1M10 11h2M13 11h4M18 11h2M23 11h1M44 11h1M52 11h1M62 11h1M64 11h1M67 11h1M69 11h1M1 12h1M3 12h1M18 12h1M20 12h1M5 13h1M7 13h1M10 13h2M14 13h2M18 13h1M23 13h1M5 14h3M12 14h1M15 14h1M17 14h1M22 14h1M0 15h2M7 15h3M11 15h1M14 15h5M20 15h1M35 15h1M37 15h1M40 15h1M0 17h3M4 17h1M6 17h1M8 17h1M10 17h1M1 18h1M4 18h1M11 18h1M16 18h1M0 20h2M4 20h1M20 20h1M65 20h1M1 21h9M16 21h5M42 21h1M46 21h3M50 21h6M58 21h1M60 21h6M67 21h1M12 22h1M21 22h1M51 22h1M0 23h1M2 23h3M6 23h1M8 23h1M14 23h1M0 25h1M2 25h2M5 25h1M9 25h1M11 25h1M13 25h1M15 25h1M20 25h2M0 26h1M2 26h1M7 26h1M11 26h2M16 26h2M21 26h2M68 27h1M2 29h1M6 29h2M14 29h1M20 29h1M50 29h2M53 29h1M56 29h1M59 29h2M66 29h1M68 29h1M5 30h2M10 30h1M13 30h1M20 30h1M61 30h2M64 30h3M68 30h1M21 31h1M34 31h1M1 32h1M12 32h3M16 32h1M36 32h1M38 32h1M40 32h1M44 32h1M47 32h4M52 32h4M57 32h2M60 32h3M65 32h2M68 32h2M8 33h1M20 33h1M23 34h1M49 34h1M51 34h1M54 34h1M56 34h1M61 34h1M63 34h1M65 34h1M68 34h1M7 35h1M20 35h1M41 35h1M44 35h1M46 35h4M51 35h1M53 35h2M63 35h2M67 35h3M2 36h1M7 36h2M5 37h1M9 37h1M0 38h2M3 38h3M8 38h2M13 38h2M16 38h3M65 38h1M40 39h1M42 39h1M44 39h2M47 39h3M52 39h2M56 39h2M59 39h6M66 39h1M3 40h1M6 40h1M11 40h1M20 40h1M2 41h6M9 41h1M14 41h1M18 41h1M21 41h1M50 41h1M56 41h1M61 41h1M68 41h1M5 42h1M7 42h1M9 42h2M14 42h1M16 42h6" stroke="#c9c9c9"/>
<path d="M24 0h1M37 0h2M9 1h1M11 1h2M41 1h2M47 1h1M52 1h2M56 1h1M59 1h1M61 1h4M66 1h1M68 1h2M9 2h2M63 3h1M4 5h2M12 5h1M15 5h2M20 5h1M58 5h3M21 6h2M12 7h1M58 7h4M68 7h1M2 8h1M4 8h2M8 8h3M13 8h1M16 8h2M20 8h3M24 8h1M37 8h1M22 9h1M48 9h2M51 9h1M54 9h1M56 9h4M66 9h4M52 10h2M55 10h10M12 11h1M21 11h1M43 11h1M45 11h1M47 11h1M51 11h1M53 11h2M59 11h1M61 11h1M63 11h1M65 11h1M68 11h1M0 12h1M2 12h1M4 12h2M7 12h3M11 12h1M16 12h1M13 13h1M52 13h1M54 13h1M63 13h2M66 13h2M69 13h1M52 14h2M59 14h7M68 14h1M4 15h1M6 15h1M10 15h1M19 15h1M21 15h1M36 15h1M24 16h1M29 16h1M31 16h2M3 17h1M12 17h1M14 17h2M17 17h1M22 18h1M47 20h2M57 20h1M59 20h1M61 20h2M66 20h1M68 20h1M37 21h4M43 21h1M57 21h1M59 21h1M49 22h1M67 22h3M1 23h1M7 23h1M9 23h1M12 23h2M16 23h5M59 24h1M66 24h4M1 25h1M8 25h1M10 25h1M12 25h1M14 25h1M16 25h4M22 25h1M8 26h3M13 26h2M18 26h3M35 26h1M40 26h2M50 26h1M59 26h1M61 26h4M66 26h4M52 27h1M23 29h1M39 29h1M42 29h1M45 29h5M52 29h1M54 29h2M57 29h2M61 29h5M21 30h1M36 30h1M38 30h1M42 30h1M44 30h3M48 30h1M50 30h1M52 30h2M55 30h1M57 30h4M67 30h1M35 31h1M21 32h1M35 32h1M37 32h1M39 32h1M41 32h2M51 32h1M56 32h1M0 33h4M5 33h3M10 33h2M19 33h1M22 33h1M35 34h2M38 34h2M41 34h8M50 34h1M52 34h2M55 34h1M57 34h4M62 34h1M66 34h2M24 35h1M35 35h2M38 35h1M40 35h1M42 35h2M45 35h1M50 35h1M52 35h1M65 35h2M21 36h1M50 36h1M64 36h1M0 37h3M4 37h1M6 37h3M10 37h1M12 37h1M14 37h1M16 37h3M47 37h1M53 37h1M67 37h2M6 38h2M10 38h3M15 38h1M19 38h3M48 38h1M63 38h2M67 38h2M22 39h1M31 39h1M33 39h1M38 39h2M43 39h1M58 39h1M21 40h1M68 40h1M44 41h1M46 41h4M52 41h4M57 41h4M62 41h1M64 41h3M69 41h1" stroke="#b9b9b9"/>
<path d="M36 0h1M35 1h3M39 1h2M44 1h1M46 1h1M48 1h3M54 1h2M57 1h2M60 1h1M67 1h1M50 3h2M53 3h5M59 3h4M64 3h2M67 3h3M64 4h2M67 4h3M1 5h1M17 5h1M19 5h1M48 5h1M51 5h1M61 5h5M67 5h1M45 7h1M48 7h1M50 7h1M53 7h1M55 7h3M64 7h3M3 8h1M6 8h1M11 8h1M15 8h1M19 8h1M25 8h1M35 8h1M40 9h2M43 9h5M50 9h1M52 9h2M55 9h1M61 9h1M63 9h1M41 10h8M50 10h2M41 11h2M46 11h1M48 11h3M55 11h1M58 11h1M60 11h1M6 12h1M10 12h1M12 12h4M17 12h1M24 13h1M44 13h1M47 13h2M50 13h2M53 13h1M55 13h8M65 13h1M68 13h1M23 14h1M40 14h5M46 14h3M50 14h2M54 14h5M66 14h1M69 14h1M34 15h1M25 16h1M30 16h1M11 17h1M13 17h1M16 17h1M18 17h3M23 19h2M69 19h1M41 20h1M44 20h3M49 20h2M52 20h3M56 20h1M58 20h1M60 20h1M63 20h2M67 20h1M69 20h1M41 21h1M44 21h2M22 22h1M48 22h1M50 22h1M52 22h1M57 22h1M60 22h3M64 22h1M5 23h1M10 23h2M15 23h1M24 24h1M47 24h2M50 24h1M52 24h7M60 24h6M65 25h1M67 25h1M23 26h1M33 26h1M36 26h2M39 26h1M42 26h4M49 26h1M51 26h1M54 26h1M56 26h3M65 26h1M23 27h1M48 27h4M53 27h1M56 27h2M59 27h2M64 27h4M69 27h1M25 28h2M65 28h1M40 29h2M43 29h2M33 30h3M37 30h1M39 30h1M41 30h1M43 30h1M47 30h1M49 30h1M51 30h1M54 30h1M56 30h1M69 30h1M33 31h1M33 32h2M4 33h1M9 33h1M12 33h2M16 33h3M21 33h1M23 33h1M24 34h1M26 34h1M31 34h2M34 34h1M37 34h1M40 34h1M25 35h1M33 35h2M39 35h1M47 36h3M51 36h1M54 36h1M60 36h2M63 36h1M66 36h4M3 37h1M11 37h1M13 37h1M15 37h1M19 37h4M43 37h3M48 37h5M54 37h3M63 37h2M66 37h1M69 37h1M47 38h1M50 38h1M52 38h1M55 38h8M66 38h1M69 38h1M23 39h1M28 39h3M32 39h1M34 39h4M41 39h1M66 40h2M69 40h1M37 41h7M45 41h1M51 41h1M63 41h1M67 41h1M23 42h1" stroke="#aaaaaa"/>
<path d="M25 0h1M34 0h2M22 1h2M31 1h1M38 1h1M43 1h1M45 1h1M51 1h1M21 2h1M24 3h1M43 3h7M52 3h1M58 3h1M66 3h1M24 4h1M44 4h1M47 4h1M49 4h3M53 4h1M61 4h3M66 4h1M43 5h5M49 5h2M52 5h1M54 5h4M66 5h1M68 5h2M57 6h1M60 6h1M23 7h1M39 7h1M43 7h2M46 7h2M49 7h1M51 7h2M7 8h1M34 8h1M36 8h1M39 9h1M42 9h1M62 9h1M64 9h2M25 10h1M38 10h3M49 10h1M38 11h3M56 11h1M42 13h2M45 13h2M49 13h1M36 14h4M45 14h1M49 14h1M67 14h1M22 15h1M32 15h2M26 16h1M28 16h1M50 18h1M52 18h2M55 18h4M62 18h1M67 18h1M69 18h1M66 19h3M21 20h1M34 20h2M37 20h1M40 20h1M42 20h2M51 20h1M55 20h1M21 21h1M34 21h3M35 22h1M38 22h6M45 22h1M47 22h1M53 22h4M58 22h2M63 22h1M65 22h2M21 23h1M50 23h5M68 23h1M42 24h5M51 24h1M61 25h1M64 25h1M66 25h1M68 25h1M24 26h1M32 26h1M34 26h1M38 26h1M47 26h2M52 26h2M55 26h1M41 27h1M44 27h4M54 27h2M58 27h1M61 27h3M27 28h1M32 28h1M35 28h1M37 28h1M50 28h2M53 28h1M57 28h1M61 28h4M66 28h4M37 29h2M22 30h1M40 30h1M22 31h1M32 31h1M22 32h2M31 32h2M14 33h2M25 34h1M27 34h4M33 34h1M37 35h1M45 36h2M53 36h1M59 36h1M62 36h1M65 36h1M34 37h1M37 37h2M40 37h1M42 37h1M46 37h1M57 37h1M59 37h4M65 37h1M39 38h8M49 38h1M51 38h1M53 38h2M24 39h1M27 39h1M40 40h1M42 40h3M47 40h1M49 40h4M56 40h5M63 40h3M36 41h1M63 42h1M65 42h1" stroke="#9a9a9a"/>
<path d="M26 0h1M33 0h1M24 1h1M27 1h1M29 1h2M32 1h3M58 2h1M67 2h1M38 3h5M40 4h2M43 4h1M45 4h2M48 4h1M52 4h1M54 4h1M57 4h4M21 5h1M37 5h1M39 5h1M41 5h2M53 5h1M23 6h1M56 6h1M58 6h2M61 6h3M67 6h3M38 7h1M40 7h1M42 7h1M54 7h1M26 8h1M23 9h1M37 9h2M26 10h1M32 10h6M24 11h1M57 11h1M21 12h1M56 12h3M60 12h1M64 12h3M68 12h2M25 13h1M32 13h1M35 13h1M37 13h3M41 13h1M27 16h1M21 17h1M23 18h1M38 18h10M49 18h1M51 18h1M54 18h1M60 18h2M63 18h4M68 18h1M25 19h1M42 19h1M45 19h3M49 19h2M52 19h3M56 19h1M58 19h1M62 19h4M31 20h3M36 20h1M38 20h2M32 21h2M32 22h3M36 22h2M44 22h1M46 22h1M46 23h2M49 23h1M55 23h1M57 23h1M59 23h2M63 23h1M65 23h3M69 23h1M25 24h1M41 24h1M49 24h1M42 25h3M46 25h3M51 25h4M56 25h5M62 25h2M69 25h1M25 26h1M46 26h1M34 27h2M37 27h4M42 27h2M28 28h1M30 28h2M33 28h2M36 28h1M38 28h1M40 28h1M45 28h1M47 28h1M49 28h1M52 28h1M54 28h1M56 28h1M58 28h3M31 30h2M31 31h1M27 32h4M44 33h1M46 33h1M55 33h1M57 33h1M60 33h1M62 33h1M66 33h4M32 35h1M22 36h1M40 36h1M42 36h3M52 36h1M55 36h4M23 37h1M32 37h1M35 37h2M39 37h1M41 37h1M58 37h1M37 38h2M25 39h2M22 40h1M36 40h1M38 40h2M41 40h1M45 40h2M48 40h1M53 40h3M61 40h2M22 41h1M34 41h2M32 42h1M41 42h1M43 42h2M47 42h1M49 42h1M55 42h1M57 42h1M59 42h1M61 42h2M64 42h1M66 42h2M69 42h1" stroke="#8b8b8b"/>
<path d="M29 0h1M31 0h2M25 1h2M28 1h1M37 2h1M48 2h1M51 2h1M54 2h1M57 2h1M59 2h1M63 2h4M68 2h2M25 3h2M36 3h1M42 4h1M55 4h2M34 5h1M36 5h1M38 5h1M40 5h1M43 6h1M47 6h4M52 6h4M64 6h3M24 7h1M34 7h4M41 7h1M27 8h2M32 8h2M32 9h1M34 9h3M27 10h1M31 10h1M34 11h4M38 12h2M44 12h1M46 12h1M48 12h2M51 12h3M55 12h1M59 12h1M62 12h2M67 12h1M26 13h1M33 13h2M36 13h1M40 13h1M24 14h1M34 14h2M30 15h2M69 17h1M31 18h7M48 18h1M59 18h1M26 19h1M30 19h6M37 19h1M43 19h1M48 19h1M51 19h1M55 19h1M57 19h1M59 19h3M22 20h1M30 20h1M23 22h1M30 22h1M36 23h1M38 23h1M42 23h1M44 23h2M48 23h1M56 23h1M58 23h1M61 23h2M64 23h1M35 24h1M37 24h4M23 25h1M37 25h1M40 25h2M45 25h1M49 25h2M55 25h1M26 26h1M29 26h3M24 27h1M36 27h1M29 28h1M39 28h1M41 28h4M48 28h1M55 28h1M24 29h1M34 29h3M30 30h1M23 31h1M28 31h3M24 32h3M24 33h1M40 33h4M45 33h1M47 33h8M56 33h1M58 33h2M61 33h1M63 33h3M26 35h2M30 35h2M33 36h2M36 36h1M38 36h1M41 36h1M24 37h1M33 37h1M22 38h1M35 38h2M32 40h4M37 40h1M23 41h1M33 41h1M25 42h1M33 42h5M45 42h2M48 42h1M50 42h4M56 42h1M58 42h1M60 42h1M68 42h1" stroke="#7b7b7b"/>
<path d="M27 0h2M30 0h1M34 2h1M36 2h1M38 2h3M42 2h2M45 2h1M47 2h1M49 2h2M53 2h1M55 2h1M60 2h3M35 3h1M37 3h1M25 4h1M35 4h5M32 5h2M35 5h1M38 6h1M40 6h3M44 6h3M51 6h1M32 7h2M30 8h2M24 9h1M33 9h1M28 10h3M25 11h1M32 11h2M22 12h1M32 12h1M34 12h1M37 12h1M41 12h3M45 12h1M47 12h1M50 12h1M54 12h1M61 12h1M27 13h1M30 13h2M25 14h2M33 14h1M23 15h1M29 15h1M46 17h3M51 17h1M55 17h2M58 17h1M60 17h1M62 17h6M24 18h1M29 18h2M27 19h1M36 19h1M39 19h1M41 19h1M44 19h1M23 20h1M27 20h1M29 20h1M22 21h1M31 21h1M24 22h1M29 22h1M31 22h1M22 23h1M35 23h1M37 23h1M40 23h2M43 23h1M26 24h1M30 24h1M32 24h3M36 24h1M32 25h1M35 25h1M38 25h2M27 26h2M25 27h1M32 27h2M46 28h1M25 29h1M33 29h1M23 30h1M29 30h1M38 33h2M28 35h2M35 36h1M37 36h1M39 36h1M25 37h1M31 37h1M32 38h1M31 41h2M24 42h1M28 42h4M38 42h3M42 42h1M54 42h1" stroke="#6c6c6c"/>
<path d="M22 2h1M35 2h1M41 2h1M44 2h1M46 2h1M52 2h1M56 2h1M27 3h1M30 3h1M33 3h2M26 4h1M22 5h1M30 5h2M24 6h1M34 6h2M37 6h1M39 6h1M29 8h1M31 9h1M26 11h1M28 12h1M30 12h1M33 12h1M35 12h2M40 12h1M28 13h2M27 14h6M25 15h1M28 15h1M43 17h3M49 17h2M53 17h2M59 17h1M61 17h1M68 17h1M25 18h2M28 18h1M28 19h1M38 19h1M40 19h1M26 20h1M28 20h1M30 21h1M27 22h1M33 23h2M39 23h1M31 24h1M33 25h2M29 27h3M26 29h1M31 29h2M24 30h1M28 30h1M24 31h4M35 33h3M23 36h1M32 36h1M26 37h2M30 37h1M33 38h2M23 40h1M31 40h1M30 41h1M26 42h2" stroke="#5c5c5c"/>
<path d="M23 2h1M26 2h8M28 3h2M31 3h2M34 4h1M23 5h1M27 5h1M29 5h1M31 6h3M36 6h1M25 7h1M31 7h1M25 9h1M27 11h1M29 11h3M23 12h1M29 12h1M31 12h1M24 15h1M26 15h2M22 17h1M33 17h2M39 17h4M52 17h1M57 17h1M27 18h1M29 19h1M24 20h1M25 22h2M28 22h1M23 23h1M31 23h2M27 24h3M24 25h2M30 25h2M36 25h1M30 29h1M25 30h1M27 30h1M25 33h1M34 33h1M31 36h1M28 37h2M23 38h1M31 38h1M24 40h1M29 40h2M24 41h1M27 41h1M29 41h1" stroke="#4d4d4d"/>
<path d="M24 2h1M27 4h1M32 4h2M25 6h2M29 6h2M26 7h1M29 7h2M26 9h5M28 11h1M24 12h1M26 12h1M23 17h1M29 17h4M36 17h3M25 20h1M23 21h2M28 21h2M30 23h1M29 25h1M26 27h3M29 29h1M26 30h1M26 33h1M30 33h4M24 36h1M29 36h2M24 38h1M29 38h1M25 41h2M28 41h1" stroke="#3d3d3d"/>
<path d="M25 2h1M28 4h4M24 5h3M28 5h1M27 6h2M27 7h2M25 12h1M27 12h1M24 17h5M35 17h1M25 21h3M24 23h6M26 25h3M27 29h2M27 33h3M25 36h4M25 38h4M30 38h1M25 40h4" stroke="#2e2e2e"/>
</g>
<path d="M2170.9 1039.5H2674.5" stroke="#000" stroke-width="4.2"/>
<path d="M2173 1039.5v22M2315.8 1039.5v22M2458.6 1039.5v22M2601.4 1039.5v22" stroke="#000" stroke-width="4.2"/>
<g transform="translate(2696.5,610.52) scale(7.1357,10.0349)" shape-rendering="crispEdges" fill="none" stroke-width="1.03">
<rect x="0" y="-0.5" width="70" height="43" fill="#c9c9c9"/>
<path d="M5 0h1M37 0h2M40 0h1M13 1h1M59 1h1M1 2h7M9 2h2M21 2h1M24 2h1M32 2h3M36 2h1M39 2h6M46 2h1M49 2h4M58 2h1M62 2h1M64 2h4M69 2h1M61 3h1M3 5h1M5 5h1M8 5h3M40 5h2M43 5h1M56 5h1M59 5h1M61 5h2M69 5h1M68 10h1M4 13h14M19 13h1M21 13h1M23 13h1M27 13h2M32 13h1M35 13h1M37 13h1M40 13h1M44 13h3M49 13h2M52 13h1M67 13h1M29 14h1M52 14h1M57 14h1M28 15h1M40 15h1M48 15h5M8 18h5M14 18h1M27 18h1M32 18h1M51 18h2M1 20h1M3 20h1M5 20h4M15 20h1M17 20h2M24 20h1M26 20h5M33 20h1M36 20h2M40 20h1M42 20h1M53 20h2M57 20h1M56 22h1M1 23h1M5 23h1M8 23h1M13 23h3M17 23h1M25 23h1M29 23h1M31 23h1M35 23h2M38 23h1M40 23h3M46 23h2M49 23h1M51 23h1M53 23h4M58 23h2M63 23h4M52 25h1M6 26h1M28 26h2M40 26h1M3 27h2M6 27h4M32 27h1M34 27h1M57 27h1M65 27h1M3 30h1M7 30h1M11 30h1M27 30h1M38 30h1M49 30h1M59 30h3M63 30h1M66 30h1M20 31h1M37 33h1M6 37h1M16 37h1M31 37h1M33 37h3M37 37h2M42 37h1M63 37h2M63 38h1M23 39h1M41 42h2" stroke="#f7f7f7"/>
<path d="M7 0h2M18 0h2M23 0h1M25 0h1M29 0h3M33 0h4M39 0h1M42 0h1M46 0h3M55 0h2M60 0h1M62 0h2M14 1h1M17 1h1M19 1h1M33 1h1M41 1h2M54 1h1M56 1h3M60 1h1M0 2h1M8 2h1M11 2h1M13 2h1M15 2h1M22 2h1M26 2h1M30 2h1M37 2h2M45 2h1M47 2h2M53 2h5M59 2h1M61 2h1M63 2h1M68 2h1M9 3h1M12 3h1M18 3h1M21 3h1M51 3h1M54 3h1M57 3h2M60 3h1M62 3h1M2 4h1M12 4h1M15 4h1M18 4h1M50 4h1M1 5h2M6 5h2M11 5h2M17 5h1M26 5h3M51 5h5M57 5h2M60 5h1M64 5h5M21 7h1M25 7h1M27 8h1M3 11h1M12 11h1M16 11h1M57 11h1M9 12h1M32 12h1M62 12h1M1 13h1M18 13h1M22 13h1M24 13h3M30 13h2M34 13h1M36 13h1M38 13h2M42 13h1M47 13h2M54 13h1M30 14h1M50 14h2M2 15h1M5 15h1M8 15h2M20 15h1M24 15h2M27 15h1M29 15h1M38 15h2M41 15h1M45 15h1M47 15h1M53 15h2M34 17h2M4 18h1M6 18h2M22 18h1M25 18h1M28 18h1M30 18h1M34 18h1M46 18h4M54 18h1M59 18h1M65 18h3M0 20h1M2 20h1M13 20h1M19 20h1M21 20h3M25 20h1M31 20h2M35 20h1M38 20h2M41 20h1M43 20h1M45 20h1M49 20h1M52 20h1M55 20h1M62 20h6M12 21h1M20 21h1M22 21h1M25 21h1M29 21h1M44 22h1M68 22h1M0 23h1M2 23h3M6 23h2M9 23h1M11 23h2M16 23h1M18 23h1M20 23h1M22 23h1M24 23h1M26 23h3M30 23h1M33 23h2M37 23h1M43 23h3M48 23h1M50 23h1M52 23h1M57 23h1M60 23h3M9 24h1M22 24h1M37 24h1M4 25h1M10 25h1M12 25h1M25 25h1M30 25h1M36 25h1M39 25h1M54 25h1M56 25h1M2 26h1M5 26h1M24 26h1M41 26h2M44 26h2M47 26h1M50 26h2M59 26h1M1 27h1M10 27h1M12 27h1M23 27h1M31 27h1M53 27h3M58 27h2M16 29h2M20 29h4M30 29h1M40 29h1M43 29h1M48 29h2M51 29h2M56 29h1M69 29h1M4 30h3M8 30h2M16 30h1M19 30h2M22 30h2M26 30h1M31 30h2M37 30h1M40 30h1M47 30h1M50 30h1M54 30h1M64 30h2M67 30h1M4 31h1M21 31h1M33 31h1M45 31h1M36 32h1M55 32h2M58 32h1M36 33h1M67 33h2M2 35h1M21 36h2M26 36h1M32 36h2M39 36h2M50 36h1M52 36h4M63 36h1M2 37h4M8 37h1M12 37h2M21 37h1M23 37h1M28 37h1M32 37h1M50 37h1M56 37h3M0 38h1M5 38h2M8 38h3M21 38h1M26 38h1M28 38h1M30 38h1M36 38h1M41 38h1M43 38h1M60 38h2M64 38h1M67 38h3M10 39h1M24 39h3M29 39h1M41 39h1M48 39h1M65 39h1M3 42h4M8 42h2M23 42h1M39 42h1M46 42h2M68 42h1" stroke="#e8e8e8"/>
<path d="M0 0h1M2 0h3M10 0h1M12 0h1M14 0h1M16 0h2M21 0h2M26 0h1M32 0h1M44 0h1M57 0h1M59 0h1M66 0h1M68 0h1M3 1h4M8 1h1M15 1h1M18 1h1M20 1h2M24 1h2M28 1h1M37 1h2M43 1h1M47 1h2M52 1h2M55 1h1M61 1h1M69 1h1M12 2h1M14 2h1M16 2h2M20 2h1M23 2h1M25 2h1M27 2h3M31 2h1M35 2h1M60 2h1M3 3h1M6 3h1M13 3h4M19 3h1M22 3h1M29 3h1M49 3h2M53 3h1M55 3h2M59 3h1M64 3h1M69 3h1M7 4h1M9 4h2M13 4h2M19 4h1M37 4h1M39 4h3M44 4h1M46 4h2M49 4h1M0 5h1M4 5h1M13 5h2M16 5h1M18 5h1M21 5h3M25 5h1M29 5h2M32 5h1M34 5h1M36 5h4M42 5h1M44 5h7M63 5h1M14 6h1M56 6h1M23 7h2M27 7h3M14 8h3M19 8h1M26 8h1M30 8h2M33 8h1M43 8h1M52 8h1M65 8h1M24 10h1M63 10h1M4 11h1M8 11h1M14 11h2M31 11h1M38 11h1M44 11h1M4 12h1M7 12h1M10 12h1M12 12h1M24 12h2M27 12h3M31 12h1M33 12h1M39 12h2M43 12h2M47 12h1M63 12h2M66 12h1M0 13h1M2 13h1M20 13h1M29 13h1M41 13h1M43 13h1M51 13h1M53 13h1M55 13h6M63 13h2M66 13h1M68 13h2M4 14h1M8 14h1M11 14h1M13 14h1M19 14h1M53 14h4M67 14h3M3 15h2M7 15h1M17 15h1M23 15h1M26 15h1M30 15h2M35 15h3M42 15h1M44 15h1M55 15h1M57 15h1M64 15h2M68 15h1M24 16h1M32 16h1M35 16h1M43 16h1M52 16h1M55 16h1M33 17h1M2 18h1M5 18h1M13 18h1M16 18h2M24 18h1M26 18h1M29 18h1M31 18h1M33 18h1M35 18h1M37 18h4M43 18h1M45 18h1M53 18h1M55 18h1M69 18h1M12 19h1M14 19h1M40 19h1M42 19h1M4 20h1M9 20h1M11 20h2M14 20h1M20 20h1M34 20h1M46 20h1M51 20h1M56 20h1M59 20h3M4 21h3M9 21h2M14 21h1M17 21h1M19 21h1M27 21h2M30 21h2M34 21h1M44 21h2M47 21h1M54 21h1M66 21h4M17 22h2M43 22h1M53 22h1M55 22h1M57 22h4M10 23h1M19 23h1M21 23h1M32 23h1M39 23h1M67 23h1M69 23h1M1 24h1M12 24h1M19 24h1M23 24h1M26 24h1M28 24h1M52 24h1M54 24h1M64 24h1M0 25h4M5 25h2M8 25h1M11 25h1M13 25h1M15 25h1M17 25h1M23 25h1M31 25h1M33 25h1M37 25h2M40 25h1M43 25h1M53 25h1M57 25h2M63 25h3M67 25h3M4 26h1M7 26h1M9 26h1M15 26h1M18 26h1M20 26h3M25 26h3M30 26h2M33 26h1M36 26h1M39 26h1M43 26h1M46 26h1M54 26h1M58 26h1M60 26h1M63 26h1M0 27h1M2 27h1M5 27h1M14 27h1M22 27h1M29 27h1M33 27h1M39 27h1M46 27h4M52 27h1M56 27h1M60 27h3M66 27h1M47 28h1M0 29h2M5 29h1M7 29h6M14 29h2M18 29h2M24 29h3M29 29h1M32 29h1M34 29h1M39 29h1M44 29h1M50 29h1M53 29h3M57 29h1M62 29h4M67 29h1M0 30h3M10 30h1M12 30h1M14 30h1M17 30h2M21 30h1M24 30h2M28 30h1M36 30h1M39 30h1M41 30h1M46 30h1M48 30h1M51 30h3M55 30h1M57 30h1M68 30h1M1 31h1M3 31h1M5 31h2M9 31h4M15 31h1M17 31h2M23 31h1M25 31h2M29 31h3M34 31h2M42 31h2M64 31h1M68 31h2M6 32h1M33 32h1M35 32h1M38 32h1M45 32h2M52 32h3M60 32h4M18 33h1M20 33h1M34 33h2M38 33h1M40 33h1M0 34h1M12 34h1M50 34h1M25 35h3M53 35h1M63 35h1M3 36h1M7 36h1M11 36h2M15 36h1M20 36h1M25 36h1M27 36h1M29 36h2M35 36h1M37 36h1M41 36h2M45 36h1M49 36h1M51 36h1M56 36h1M60 36h1M64 36h4M0 37h2M7 37h1M9 37h2M14 37h1M17 37h4M24 37h4M30 37h1M36 37h1M41 37h1M43 37h1M45 37h5M52 37h1M55 37h1M59 37h4M65 37h1M67 37h1M1 38h4M7 38h1M12 38h1M19 38h1M22 38h1M25 38h1M27 38h1M29 38h1M38 38h2M49 38h3M54 38h3M58 38h1M62 38h1M65 38h2M6 39h1M9 39h1M12 39h1M15 39h1M17 39h1M27 39h2M30 39h2M37 39h1M39 39h2M44 39h2M53 39h1M57 39h1M62 39h3M69 39h1M18 40h1M27 40h1M34 40h1M36 40h1M38 40h2M46 40h2M58 40h1M60 40h3M1 42h2M7 42h1M11 42h2M16 42h1M19 42h3M24 42h3M28 42h1M31 42h1M43 42h1M45 42h1M50 42h1M58 42h1M66 42h1" stroke="#d8d8d8"/>
<path d="M11 0h1M27 0h1M61 0h1M64 0h2M67 0h1M69 0h1M0 1h3M10 1h1M27 1h1M30 1h1M46 1h1M64 1h2M67 1h1M5 3h1M24 3h1M33 3h3M41 3h2M44 3h2M66 3h2M3 4h2M8 4h1M20 4h3M24 4h1M27 4h3M33 4h1M36 4h1M45 4h1M48 4h1M52 4h1M55 4h5M63 4h3M15 5h1M5 6h2M16 6h3M22 6h1M27 6h1M46 6h1M59 6h3M63 6h2M68 6h1M4 7h4M9 7h3M16 7h1M20 7h1M22 7h1M33 7h1M45 7h2M48 7h1M51 7h1M53 7h4M64 7h3M68 7h1M0 8h2M3 8h1M5 8h1M8 8h2M13 8h1M18 8h1M22 8h1M25 8h1M37 8h1M39 8h1M46 8h3M51 8h1M53 8h1M55 8h2M58 8h1M60 8h2M67 8h1M4 9h1M6 9h1M8 9h1M11 9h1M15 9h1M21 9h1M32 9h1M45 9h1M64 9h5M2 10h1M6 10h2M14 10h1M16 10h1M18 10h1M20 10h2M23 10h1M26 10h1M38 10h1M54 10h1M6 11h1M9 11h2M13 11h1M19 11h1M25 11h1M28 11h1M33 11h1M42 11h2M48 11h1M52 11h4M64 11h6M13 12h1M19 12h1M21 12h1M37 12h1M45 12h1M48 12h4M53 12h1M56 12h2M59 12h1M68 12h1M61 13h2M10 14h1M12 14h1M14 14h1M16 14h1M22 14h6M32 14h1M35 14h2M38 14h1M40 14h2M43 14h1M47 14h2M60 14h1M64 14h3M11 15h1M21 15h1M34 15h1M56 15h1M0 16h2M3 16h1M10 16h1M14 16h1M21 16h1M23 16h1M26 16h2M29 16h1M31 16h1M33 16h1M36 16h1M44 16h2M48 16h1M54 16h1M59 16h3M64 16h1M66 16h4M3 17h1M9 17h3M13 17h1M23 17h1M27 17h1M29 17h1M31 17h2M36 17h2M40 17h1M43 17h1M47 17h1M62 17h1M65 17h1M15 18h1M19 18h1M21 18h1M50 18h1M58 18h1M61 18h1M63 18h1M0 19h5M9 19h1M11 19h1M15 19h1M19 19h1M22 19h4M28 19h1M30 19h1M32 19h1M36 19h2M39 19h1M47 19h1M49 19h5M55 19h1M59 19h1M62 19h3M66 19h2M11 21h1M13 21h1M15 21h1M32 21h1M37 21h2M41 21h1M43 21h1M52 21h1M55 21h1M60 21h1M63 21h2M0 22h2M4 22h4M11 22h2M19 22h1M25 22h3M29 22h1M36 22h2M41 22h1M48 22h1M50 22h2M54 22h1M61 22h1M63 22h1M68 23h1M0 24h1M2 24h1M4 24h1M6 24h1M8 24h1M10 24h2M15 24h3M20 24h1M31 24h3M36 24h1M39 24h1M41 24h1M43 24h1M50 24h1M55 24h1M61 24h1M66 24h2M16 25h1M21 25h1M34 25h1M44 25h1M49 25h1M60 25h1M62 25h1M0 26h1M3 26h1M10 26h2M35 26h1M37 26h1M52 26h1M61 26h2M67 26h2M13 27h1M17 27h1M25 27h1M30 27h1M37 27h2M42 27h3M50 27h1M67 27h1M2 28h1M7 28h1M9 28h2M13 28h1M17 28h1M19 28h1M23 28h1M27 28h5M44 28h1M46 28h1M49 28h1M54 28h1M60 28h1M28 29h1M33 29h1M38 29h1M42 29h1M47 29h1M59 29h3M29 30h1M0 31h1M27 31h1M36 31h1M39 31h1M46 31h1M48 31h2M51 31h1M55 31h1M58 31h2M61 31h2M65 31h1M67 31h1M0 32h1M5 32h1M13 32h1M18 32h1M22 32h2M26 32h1M28 32h1M31 32h2M34 32h1M39 32h2M42 32h1M48 32h2M59 32h1M68 32h1M4 33h1M6 33h6M14 33h2M21 33h1M25 33h1M32 33h2M39 33h1M43 33h2M49 33h2M55 33h2M60 33h1M62 33h2M65 33h1M2 34h1M9 34h1M11 34h1M13 34h2M16 34h1M18 34h1M21 34h1M23 34h1M31 34h2M37 34h1M39 34h2M44 34h1M47 34h3M54 34h1M57 34h1M63 34h7M5 35h4M10 35h1M14 35h1M16 35h2M21 35h1M23 35h1M28 35h1M31 35h2M35 35h1M37 35h1M41 35h1M43 35h1M46 35h1M48 35h2M67 35h2M2 36h1M9 36h1M23 36h1M48 36h1M61 36h1M68 36h2M29 37h1M51 37h1M54 37h1M11 38h1M14 38h1M16 38h1M18 38h1M35 38h1M37 38h1M42 38h1M44 38h1M46 38h1M48 38h1M53 38h1M32 39h1M34 39h1M43 39h1M46 39h1M51 39h2M58 39h3M68 39h1M1 40h1M4 40h1M8 40h2M11 40h1M13 40h1M17 40h1M19 40h4M24 40h1M26 40h1M30 40h1M33 40h1M35 40h1M40 40h1M52 40h1M54 40h2M57 40h1M66 40h3M14 41h1M16 41h1M18 41h1M26 41h1M35 41h1M58 41h1M63 41h2M66 41h1M10 42h1M14 42h1M17 42h1M27 42h1M29 42h1M33 42h2M38 42h1M51 42h2M59 42h1M62 42h4" stroke="#b9b9b9"/>
<path d="M50 0h1M52 0h2M4 3h1M25 3h1M27 3h1M30 3h1M36 3h2M0 4h2M16 4h1M23 4h1M32 4h1M61 4h1M67 4h1M1 6h1M4 6h1M21 6h1M26 6h1M28 6h4M34 6h2M37 6h1M48 6h1M66 6h1M1 7h3M15 7h1M17 7h1M34 7h1M36 7h2M39 7h5M57 7h1M61 7h3M67 7h1M23 8h1M29 8h1M35 8h2M41 8h1M44 8h1M57 8h1M59 8h1M63 8h2M69 8h1M1 9h3M5 9h1M10 9h1M12 9h2M16 9h1M20 9h1M23 9h1M27 9h1M30 9h1M36 9h2M41 9h1M44 9h1M55 9h1M58 9h1M61 9h3M69 9h1M1 10h1M3 10h1M9 10h1M11 10h1M13 10h1M15 10h1M25 10h1M27 10h5M36 10h1M39 10h3M45 10h3M51 10h1M53 10h1M55 10h1M57 10h1M61 10h1M0 11h1M17 11h1M20 11h1M39 11h3M61 11h1M63 11h1M16 12h3M22 12h1M41 12h1M46 12h1M52 12h1M67 12h1M69 12h1M0 14h1M3 14h1M6 14h2M45 14h2M61 14h3M58 15h1M60 15h1M5 16h5M11 16h3M15 16h3M19 16h1M38 16h1M40 16h3M46 16h1M49 16h1M65 16h1M1 17h2M4 17h5M14 17h3M20 17h1M24 17h1M30 17h1M42 17h1M45 17h2M52 17h1M55 17h2M63 17h2M66 17h1M68 17h2M57 18h1M5 19h4M18 19h1M20 19h2M26 19h2M29 19h1M31 19h1M33 19h1M44 19h2M56 19h1M69 19h1M16 21h1M33 21h1M35 21h1M3 22h1M10 22h1M20 22h1M22 22h3M30 22h2M33 22h3M45 22h1M47 22h1M7 24h1M13 24h1M29 24h2M38 24h1M44 24h2M47 24h1M49 24h1M57 24h2M65 24h1M19 25h1M22 25h1M32 25h1M48 25h1M12 26h2M69 26h1M18 27h1M21 27h1M26 27h2M1 28h1M3 28h1M6 28h1M21 28h2M24 28h2M35 28h1M38 28h4M50 28h3M56 28h1M59 28h1M61 28h2M66 28h1M3 29h1M16 31h1M50 31h1M52 31h1M1 32h1M3 32h2M7 32h2M17 32h1M20 32h2M24 32h2M27 32h1M29 32h1M47 32h1M64 32h1M66 32h2M69 32h1M1 33h1M3 33h1M13 33h1M28 33h3M42 33h1M45 33h2M48 33h1M51 33h4M57 33h1M59 33h1M64 33h1M3 34h1M8 34h1M17 34h1M22 34h1M25 34h3M29 34h1M33 34h1M36 34h1M38 34h1M41 34h2M46 34h1M51 34h2M0 35h2M22 35h1M34 35h1M39 35h1M44 35h2M47 35h1M50 35h1M54 35h2M66 35h1M69 35h1M16 36h1M46 36h1M58 36h1M7 39h1M42 39h1M50 39h1M0 40h1M2 40h1M5 40h2M10 40h1M14 40h1M29 40h1M41 40h4M50 40h1M3 41h1M5 41h1M7 41h1M9 41h1M11 41h1M22 41h2M28 41h1M31 41h4M38 41h3M42 41h1M48 41h1M57 41h1M60 41h1M62 41h1M67 41h2M36 42h1M53 42h1M56 42h1" stroke="#aaaaaa"/>
<path d="M23 3h1M25 4h1M30 4h2M53 4h1M0 6h1M2 6h2M10 6h2M19 6h2M24 6h2M33 6h1M36 6h1M40 6h2M45 6h1M47 6h1M49 6h6M62 6h1M65 6h1M67 6h1M0 7h1M13 7h1M18 7h1M38 7h1M47 7h1M58 7h1M60 7h1M40 8h1M45 8h1M49 8h1M7 9h1M14 9h1M22 9h1M24 9h1M28 9h1M31 9h1M33 9h3M38 9h3M43 9h1M46 9h3M50 9h1M52 9h1M54 9h1M56 9h2M59 9h2M0 10h1M4 10h2M8 10h1M12 10h1M32 10h3M42 10h1M48 10h1M50 10h1M52 10h1M56 10h1M2 11h1M23 11h1M62 11h1M2 12h1M20 12h1M38 12h1M58 12h1M37 14h1M39 14h1M44 14h1M2 16h1M4 16h1M18 16h1M22 16h1M39 16h1M47 16h1M57 16h1M17 17h3M21 17h2M25 17h1M28 17h1M39 17h1M41 17h1M44 17h1M57 17h1M60 17h1M35 19h1M36 21h1M9 22h1M14 24h1M48 24h1M56 24h1M59 24h1M4 28h1M18 28h1M26 28h1M32 28h1M34 28h1M37 28h1M45 28h1M53 28h1M57 28h1M63 28h3M67 28h2M15 32h1M5 33h1M31 33h1M61 33h1M4 34h1M7 34h1M28 34h1M30 34h1M43 34h1M53 34h1M55 34h2M36 35h1M52 35h1M56 35h1M65 35h1M47 38h1M3 40h1M15 40h1M2 41h1M8 41h1M10 41h1M15 41h1M17 41h1M19 41h1M24 41h1M27 41h1M29 41h1M36 41h1M43 41h3M47 41h1M52 41h1M54 41h1M56 41h1M59 41h1M61 41h1M65 41h1M69 41h1" stroke="#9a9a9a"/>
<path d="M62 4h1M7 6h3M32 6h1M39 6h1M42 6h1M44 6h1M69 6h1M14 7h1M49 7h2M59 7h1M38 8h1M17 9h3M25 9h1M29 9h1M42 9h1M49 9h1M51 9h1M53 9h1M35 10h1M43 10h2M59 10h1M50 11h1M34 12h1M20 16h1M0 17h1M49 17h3M53 17h1M58 17h2M61 17h1M34 26h1M33 28h1M43 28h1M12 33h1M5 34h2M0 41h2M4 41h1M6 41h1M12 41h2M25 41h1M41 41h1M49 41h3M53 41h1M55 41h1" stroke="#8b8b8b"/>
<path d="M23 6h1M38 6h1M43 6h1M26 9h1M49 10h1M60 10h1M54 17h1M5 28h1M36 28h1M47 33h1M46 41h1" stroke="#7b7b7b"/>
</g>
<path d="M2694.4 1039.5H3198" stroke="#000" stroke-width="4.2"/>
<path d="M2696.5 1039.5v22M2839.3 1039.5v22M2982.1 1039.5v22M3124.9 1039.5v22" stroke="#000" stroke-width="4.2"/>
<g transform="translate(3220.5,610.52) scale(7.1357,10.0349)" shape-rendering="crispEdges" fill="none" stroke-width="1.03">
<rect x="0" y="-0.5" width="70" height="43" fill="#c9c9c9"/>
<path d="M16 2h1M60 2h1M1 3h2M6 3h1M20 3h1M22 3h1M50 3h1M52 3h1M60 3h1M66 3h1M16 4h2M34 4h1M54 4h1M66 4h1M69 4h1M6 10h1M3 15h3M7 15h3M15 15h1M17 15h2M47 15h1M58 15h1M69 15h1M9 16h1M13 16h1M65 16h1M18 17h1M50 17h1M18 19h1M53 20h1M2 21h1M18 21h1M29 21h1M20 27h1M42 27h1M1 33h1M4 34h1M7 34h1M9 34h2M13 34h1M21 34h1M29 34h2M37 34h1M40 34h1M44 34h1M52 34h1M56 34h3M60 34h1M63 34h7M0 35h1M2 35h1M8 35h2M11 35h1M15 35h5M37 35h1M47 35h1M62 35h3M67 35h1M20 36h2M23 36h1M3 38h1M15 38h1M66 38h1M0 40h7M32 40h2M41 40h1M59 40h1M62 40h1" stroke="#f7f7f7"/>
<path d="M33 0h1M2 1h1M4 2h4M14 2h1M17 2h1M21 2h2M27 2h2M36 2h5M57 2h1M59 2h1M61 2h2M65 2h3M69 2h1M0 3h1M7 3h2M10 3h1M19 3h1M21 3h1M36 3h6M47 3h1M51 3h1M53 3h4M58 3h1M62 3h1M67 3h3M1 4h1M6 4h1M18 4h3M24 4h1M32 4h1M35 4h4M44 4h1M46 4h2M50 4h1M56 4h4M67 4h2M10 6h1M12 6h1M21 6h1M42 6h1M7 10h1M15 10h3M20 10h1M33 10h1M43 10h2M67 10h1M2 12h1M21 12h1M0 15h1M2 15h1M6 15h1M10 15h2M13 15h2M16 15h1M19 15h2M31 15h1M48 15h1M50 15h2M53 15h1M55 15h2M59 15h1M61 15h1M65 15h3M4 16h1M6 16h1M10 16h2M20 16h1M22 16h2M46 16h1M64 16h1M68 16h1M4 17h1M17 17h1M19 17h1M21 17h2M28 17h1M45 17h2M48 17h2M61 17h1M64 17h1M69 17h1M4 18h1M6 18h2M3 20h1M6 20h1M9 20h1M13 20h1M15 20h1M34 20h1M36 20h1M42 20h1M52 20h1M54 20h1M19 21h2M22 21h1M25 21h1M27 21h1M30 21h2M33 21h1M35 21h1M42 21h1M45 21h2M49 21h1M68 21h1M14 22h1M16 22h1M19 22h1M45 22h1M54 22h1M1 23h2M20 23h1M55 23h1M66 23h1M15 25h1M0 27h2M8 27h1M13 27h1M15 27h2M19 27h1M21 27h3M31 27h4M36 27h2M39 27h3M44 27h1M46 27h4M57 27h1M59 27h1M63 27h2M69 27h1M11 28h2M41 28h1M0 29h1M12 30h1M14 31h1M18 32h1M57 32h1M3 33h2M7 33h2M12 33h1M20 33h2M44 33h3M48 33h2M0 34h4M5 34h1M8 34h1M12 34h1M14 34h2M22 34h2M28 34h1M31 34h1M33 34h1M38 34h2M41 34h3M45 34h1M55 34h1M59 34h1M61 34h2M1 35h1M3 35h5M10 35h1M12 35h1M14 35h1M21 35h5M27 35h10M38 35h1M43 35h3M48 35h2M51 35h2M54 35h1M58 35h1M60 35h2M65 35h1M68 35h1M12 36h1M17 36h1M19 36h1M22 36h1M28 36h1M31 36h1M57 36h2M22 37h1M60 37h1M5 38h1M14 38h1M16 38h1M21 38h1M33 38h1M35 38h1M44 38h1M59 38h1M62 38h1M64 38h2M67 38h2M1 39h1M3 39h2M7 39h3M60 39h1M67 39h1M10 40h5M16 40h1M28 40h1M31 40h1M34 40h5M44 40h4M54 40h1M57 40h1M60 40h2M63 40h7M12 41h1M60 42h1" stroke="#e8e8e8"/>
<path d="M16 0h1M35 0h2M69 0h1M0 1h1M3 1h1M5 1h1M7 1h1M12 1h1M17 1h2M20 1h1M28 1h1M41 1h1M43 1h1M65 1h1M67 1h1M69 1h1M0 2h4M8 2h3M12 2h1M15 2h1M19 2h2M23 2h3M29 2h2M32 2h2M35 2h1M42 2h2M49 2h1M51 2h1M53 2h1M63 2h2M68 2h1M3 3h3M9 3h1M11 3h2M15 3h1M18 3h1M23 3h1M28 3h1M33 3h3M42 3h4M48 3h2M59 3h1M61 3h1M63 3h3M0 4h1M2 4h3M8 4h1M10 4h1M15 4h1M21 4h3M25 4h2M28 4h2M33 4h1M39 4h2M42 4h2M45 4h1M48 4h1M51 4h2M55 4h1M60 4h4M65 4h1M4 6h4M9 6h1M14 6h1M40 6h1M50 6h3M27 7h1M51 7h1M4 8h1M6 8h1M10 8h1M12 8h3M22 8h1M45 8h1M68 8h2M15 9h1M2 10h4M8 10h3M12 10h3M18 10h2M21 10h1M24 10h1M28 10h2M36 10h1M39 10h4M45 10h2M49 10h1M56 10h1M59 10h1M65 10h2M68 10h2M46 11h1M4 12h1M7 12h1M13 12h3M18 12h1M20 12h1M29 12h1M41 12h1M43 12h3M52 12h1M69 12h1M3 13h1M5 13h1M7 13h1M47 14h1M57 14h1M61 14h1M69 14h1M1 15h1M21 15h4M28 15h1M32 15h2M43 15h4M49 15h1M52 15h1M57 15h1M62 15h1M64 15h1M68 15h1M1 16h3M5 16h1M7 16h2M12 16h1M18 16h2M21 16h1M24 16h1M26 16h2M38 16h1M41 16h1M43 16h3M47 16h2M50 16h1M56 16h2M61 16h1M63 16h1M66 16h2M69 16h1M0 17h2M3 17h1M5 17h2M11 17h1M13 17h1M15 17h1M20 17h1M24 17h1M29 17h2M35 17h1M37 17h7M47 17h1M51 17h5M58 17h1M60 17h1M62 17h2M65 17h1M67 17h1M0 18h1M3 18h1M5 18h1M8 18h2M18 18h1M31 18h1M38 18h1M50 18h1M52 18h1M54 18h3M65 18h1M68 18h2M3 19h4M8 19h2M14 19h2M17 19h1M19 19h4M28 19h2M36 19h1M41 19h1M45 19h4M52 19h1M56 19h1M60 19h5M67 19h1M69 19h1M0 20h3M5 20h1M8 20h1M10 20h3M14 20h1M19 20h1M25 20h3M31 20h2M35 20h1M37 20h1M39 20h1M41 20h1M47 20h1M49 20h3M55 20h2M58 20h1M60 20h2M63 20h1M65 20h2M0 21h2M3 21h2M6 21h6M16 21h2M21 21h1M23 21h1M26 21h1M28 21h1M32 21h1M34 21h1M36 21h1M38 21h4M44 21h1M47 21h2M50 21h1M55 21h1M57 21h3M64 21h4M69 21h1M0 22h2M3 22h1M8 22h3M12 22h2M15 22h1M17 22h2M44 22h1M52 22h2M68 22h2M3 23h1M6 23h1M11 23h1M19 23h1M22 23h1M26 23h2M29 23h2M35 23h3M39 23h4M44 23h2M49 23h1M53 23h2M57 23h1M62 23h1M6 24h1M13 25h1M17 25h6M39 25h1M42 25h1M48 25h1M50 25h1M66 25h4M5 27h2M9 27h3M14 27h1M17 27h2M24 27h1M28 27h1M30 27h1M35 27h1M43 27h1M45 27h1M50 27h4M55 27h1M58 27h1M61 27h1M65 27h1M67 27h2M7 28h1M9 28h2M15 28h1M40 28h1M44 28h2M57 28h1M1 29h2M5 29h1M8 29h3M14 29h1M38 29h1M11 30h1M13 30h1M67 30h1M8 31h1M10 31h1M13 31h1M15 31h3M15 32h1M17 32h1M19 32h1M22 32h1M31 32h1M54 32h1M59 32h1M0 33h1M2 33h1M5 33h2M9 33h3M13 33h1M16 33h3M22 33h1M31 33h2M35 33h4M42 33h1M47 33h1M50 33h3M55 33h2M59 33h1M61 33h2M65 33h5M6 34h1M11 34h1M16 34h1M18 34h3M24 34h3M34 34h3M46 34h6M53 34h2M13 35h1M26 35h1M39 35h2M46 35h1M50 35h1M53 35h1M55 35h3M59 35h1M66 35h1M0 36h2M4 36h1M6 36h2M9 36h2M13 36h4M18 36h1M24 36h1M26 36h2M29 36h1M35 36h1M37 36h1M43 36h1M46 36h1M55 36h2M60 36h1M62 36h1M65 36h3M69 36h1M4 37h1M9 37h1M11 37h1M51 37h1M58 37h2M69 37h1M0 38h1M2 38h1M4 38h1M6 38h2M9 38h4M17 38h2M20 38h1M22 38h2M27 38h1M30 38h2M37 38h2M41 38h1M43 38h1M46 38h1M48 38h2M51 38h3M56 38h2M60 38h1M63 38h1M69 38h1M5 39h2M10 39h1M12 39h1M20 39h2M41 39h1M45 39h2M50 39h1M62 39h2M66 39h1M7 40h3M15 40h1M17 40h1M19 40h4M26 40h1M29 40h2M39 40h2M43 40h1M48 40h4M53 40h1M56 40h1M58 40h1M2 41h2M8 41h2M11 41h1M17 41h1M19 41h2M41 41h1M50 41h1M54 41h1M58 41h1M64 41h1M5 42h1M8 42h2M25 42h1M27 42h1M58 42h2" stroke="#d8d8d8"/>
<path d="M0 0h3M4 0h10M22 0h3M26 0h3M30 0h1M40 0h2M47 0h1M51 0h1M53 0h2M62 0h2M66 0h1M68 0h1M9 1h1M11 1h1M13 1h1M15 1h1M23 1h1M31 1h3M36 1h2M40 1h1M45 1h4M51 1h1M56 1h1M61 1h1M63 1h1M66 1h1M44 2h1M14 3h1M25 3h2M12 4h1M28 5h1M31 5h1M65 5h1M0 6h2M3 6h1M11 6h1M23 6h2M27 6h1M29 6h1M31 6h3M43 6h1M46 6h1M48 6h1M53 6h5M59 6h4M67 6h1M0 7h4M12 7h5M18 7h1M21 7h2M29 7h2M34 7h1M41 7h2M44 7h1M46 7h2M49 7h2M52 7h1M55 7h1M58 7h1M65 7h1M68 7h1M1 8h1M5 8h1M7 8h1M15 8h3M19 8h1M25 8h3M30 8h2M34 8h1M40 8h1M43 8h1M50 8h1M52 8h1M54 8h1M58 8h1M60 8h2M64 8h2M0 9h1M3 9h1M5 9h7M13 9h2M16 9h2M21 9h4M29 9h2M34 9h1M42 9h1M45 9h1M47 9h1M51 9h2M54 9h3M60 9h1M62 9h2M65 9h3M69 9h1M1 10h1M26 10h2M30 10h2M34 10h1M50 10h4M62 10h1M0 11h1M2 11h2M5 11h3M9 11h6M16 11h1M19 11h1M21 11h1M28 11h1M35 11h1M42 11h1M44 11h1M47 11h3M53 11h1M55 11h4M61 11h1M65 11h1M68 11h1M8 12h1M12 12h1M26 12h1M28 12h1M31 12h2M34 12h4M40 12h1M47 12h1M49 12h2M55 12h1M58 12h2M63 12h1M1 13h2M11 13h3M15 13h1M17 13h1M20 13h2M23 13h1M29 13h2M34 13h1M36 13h1M41 13h4M46 13h6M53 13h2M57 13h1M59 13h1M65 13h3M4 14h2M8 14h1M10 14h1M12 14h1M15 14h1M18 14h1M21 14h2M24 14h1M27 14h1M29 14h6M36 14h3M40 14h1M42 14h3M46 14h1M48 14h2M51 14h1M53 14h2M59 14h2M62 14h4M68 14h1M37 15h1M40 15h1M16 16h2M31 16h2M35 16h1M39 16h1M49 16h1M53 16h1M60 16h1M14 17h1M32 17h1M57 17h1M12 18h2M15 18h1M29 18h2M36 18h2M40 18h1M43 18h1M45 18h1M53 18h1M58 18h1M61 18h2M64 18h1M66 18h2M11 19h2M23 19h1M25 19h1M37 19h1M43 19h2M58 19h2M66 19h1M68 19h1M20 20h1M29 20h1M12 21h1M14 21h1M20 22h1M22 22h1M24 22h1M26 22h1M28 22h1M30 22h1M32 22h1M34 22h1M37 22h1M39 22h1M42 22h1M57 22h3M62 22h1M64 22h2M67 22h1M9 23h1M12 23h1M15 23h1M24 23h1M33 23h2M47 23h1M58 23h1M1 24h1M7 24h1M9 24h1M12 24h3M16 24h1M21 24h2M24 24h1M38 24h4M47 24h1M60 24h2M64 24h1M68 24h2M1 25h4M7 25h3M11 25h1M23 25h2M27 25h1M30 25h1M32 25h1M41 25h1M51 25h2M54 25h1M56 25h1M58 25h3M62 25h2M1 26h2M4 26h1M8 26h1M10 26h1M15 26h1M19 26h1M21 26h1M29 26h2M32 26h3M39 26h1M53 26h1M56 26h1M60 26h1M3 27h2M25 27h3M62 27h1M18 28h1M25 28h1M27 28h2M31 28h1M35 28h3M42 28h2M52 28h1M54 28h3M62 28h3M66 28h2M7 29h1M19 29h1M21 29h1M24 29h1M27 29h1M40 29h2M44 29h2M47 29h1M50 29h3M54 29h2M59 29h1M61 29h1M68 29h2M6 30h1M10 30h1M17 30h6M24 30h1M31 30h1M36 30h2M41 30h2M48 30h1M50 30h8M59 30h1M64 30h1M2 31h1M6 31h1M18 31h1M20 31h1M23 31h1M34 31h1M41 31h2M50 31h1M60 31h4M65 31h3M3 32h1M6 32h2M9 32h1M11 32h3M16 32h1M20 32h1M27 32h2M30 32h1M35 32h2M39 32h3M45 32h1M49 32h5M55 32h1M61 32h4M66 32h4M14 33h1M25 33h4M5 36h1M25 36h1M30 36h1M38 36h1M40 36h3M48 36h1M51 36h1M54 36h1M64 36h1M0 37h1M3 37h1M10 37h1M15 37h4M20 37h1M24 37h2M30 37h3M38 37h5M44 37h7M52 37h2M62 37h1M65 37h3M25 38h1M14 39h1M18 39h1M24 39h1M29 39h3M36 39h2M40 39h1M51 39h1M57 39h1M69 39h1M6 41h2M14 41h1M21 41h1M24 41h1M31 41h2M34 41h1M38 41h1M45 41h1M48 41h1M57 41h1M60 41h2M66 41h1M0 42h1M4 42h1M11 42h3M15 42h1M20 42h1M22 42h2M26 42h1M30 42h1M35 42h1M39 42h1M42 42h1M44 42h1M46 42h1M50 42h1M64 42h4" stroke="#b9b9b9"/>
<path d="M3 0h1M21 0h1M25 0h1M29 0h1M42 0h1M48 0h2M55 0h1M24 1h4M34 1h1M52 1h1M54 1h1M1 5h1M12 5h1M14 5h1M21 5h2M30 5h1M32 5h2M42 5h1M45 5h1M52 5h1M54 5h1M56 5h1M58 5h1M60 5h1M64 5h1M66 5h3M25 6h1M28 6h1M30 6h1M34 6h2M45 6h1M47 6h1M64 6h1M69 6h1M4 7h1M6 7h4M11 7h1M17 7h1M31 7h3M45 7h1M53 7h1M56 7h2M61 7h1M66 7h2M69 7h1M0 8h1M32 8h2M35 8h1M37 8h3M41 8h1M49 8h1M51 8h1M53 8h1M55 8h1M57 8h1M62 8h1M2 9h1M12 9h1M20 9h1M26 9h1M28 9h1M36 9h1M38 9h1M41 9h1M43 9h1M46 9h1M48 9h2M53 9h1M61 9h1M64 9h1M68 9h1M38 10h1M1 11h1M15 11h1M18 11h1M22 11h1M24 11h4M29 11h1M34 11h1M36 11h1M38 11h3M45 11h1M50 11h2M54 11h1M60 11h1M69 11h1M33 12h1M39 12h1M42 12h1M60 12h1M14 13h1M19 13h1M22 13h1M25 13h1M27 13h2M35 13h1M37 13h4M45 13h1M55 13h2M60 13h1M62 13h2M7 14h1M9 14h1M19 14h1M23 14h1M25 14h2M28 14h1M35 14h1M41 14h1M45 14h1M52 14h1M66 14h2M26 15h1M54 16h2M22 18h2M28 18h1M32 18h1M47 18h1M21 20h1M23 22h1M25 22h1M33 22h1M35 22h2M56 22h1M25 23h1M50 23h1M60 23h1M0 24h1M10 24h2M15 24h1M23 24h1M30 24h2M34 24h4M43 24h1M45 24h2M50 24h2M54 24h3M58 24h1M63 24h1M65 24h3M25 25h1M28 25h2M33 25h1M35 25h2M55 25h1M5 26h3M12 26h3M16 26h1M18 26h1M22 26h3M28 26h1M31 26h1M35 26h4M40 26h3M48 26h4M54 26h2M57 26h3M64 26h1M67 26h1M69 26h1M20 28h1M22 28h3M26 28h1M29 28h2M51 28h1M18 29h1M20 29h1M22 29h1M26 29h1M30 29h1M33 29h1M35 29h1M42 29h1M46 29h1M56 29h3M60 29h1M62 29h1M66 29h2M0 30h3M4 30h2M8 30h1M23 30h1M27 30h1M29 30h2M38 30h1M43 30h1M46 30h1M49 30h1M58 30h1M60 30h1M62 30h1M65 30h2M68 30h2M1 31h1M21 31h1M24 31h1M26 31h1M30 31h1M33 31h1M37 31h4M43 31h1M48 31h2M51 31h9M68 31h1M24 32h2M34 32h1M37 32h2M42 32h3M46 32h1M48 32h1M19 37h1M26 37h1M28 37h2M35 37h1M43 37h1M25 39h1M27 39h2M38 39h2M23 41h1M28 41h2M35 41h1M37 41h1M65 41h1M2 42h1M33 42h1M36 42h3M40 42h2M43 42h1M45 42h1M47 42h3M51 42h4M63 42h1" stroke="#aaaaaa"/>
<path d="M43 0h4M52 0h1M10 1h1M49 1h2M53 1h1M0 5h1M3 5h1M5 5h1M7 5h4M13 5h1M20 5h1M23 5h3M27 5h1M29 5h1M34 5h4M44 5h1M46 5h2M50 5h2M53 5h1M55 5h1M59 5h1M61 5h3M69 5h1M26 6h1M5 7h1M59 7h2M36 8h1M48 8h1M25 9h1M27 9h1M37 9h1M39 9h2M44 9h1M20 11h1M23 11h1M30 11h1M41 11h1M52 11h1M30 12h1M24 13h1M26 13h1M52 13h1M58 13h1M61 13h1M24 18h1M27 18h1M25 24h5M32 24h2M42 24h1M44 24h1M48 24h2M52 24h2M57 24h1M59 24h1M62 24h1M26 25h1M31 25h1M34 25h1M17 26h1M26 26h1M47 26h1M52 26h1M66 26h1M68 26h1M19 28h1M21 28h1M28 29h2M3 30h1M26 30h1M28 30h1M32 30h2M35 30h1M44 30h2M47 30h1M27 31h1M29 31h1M31 31h2M35 31h2M64 31h1M26 32h1M47 32h1M26 39h1M25 41h3" stroke="#9a9a9a"/>
<path d="M2 5h1M4 5h1M6 5h1M11 5h1M15 5h5M39 5h2M43 5h1M49 5h1M57 5h1M25 18h2M25 26h1M27 26h1M43 26h2M46 26h1M31 29h2M25 30h1M34 30h1M25 31h1M28 31h1" stroke="#8b8b8b"/>
<path d="M26 5h1M38 5h1M41 5h1M48 5h1M45 26h1" stroke="#7b7b7b"/>
</g>
<path d="M3218.4 1039.5H3722" stroke="#000" stroke-width="4.2"/>
<path d="M3220.5 1039.5v22M3363.3 1039.5v22M3506.1 1039.5v22M3648.9 1039.5v22" stroke="#000" stroke-width="4.2"/>
<g transform="translate(3744.5,610.52) scale(7.1357,10.0349)" shape-rendering="crispEdges" fill="none" stroke-width="1.03">
<rect x="0" y="-0.5" width="70" height="43" fill="#b9b9b9"/>
<path d="M3 0h2M13 4h1M64 4h1M49 6h2M58 6h12M1 11h2M7 11h4M12 11h1M9 16h1M11 16h1M15 16h1M54 16h1M59 16h1M61 16h1M66 16h1M69 16h1M54 17h1M57 17h2M60 17h3M65 17h5M52 21h1M59 21h1M3 24h1M50 24h4M62 24h8M52 27h6M61 27h1M63 27h7M7 30h4M15 30h1M18 30h1M0 34h1M2 34h1M60 34h1M63 34h2M1 36h1M14 36h2M18 36h4M12 37h3M16 37h1M48 39h3M52 39h1M54 39h1M56 39h14" stroke="#f7f7f7"/>
<path d="M8 0h1M17 0h2M1 1h1M14 1h1M12 4h1M15 4h1M57 4h1M61 4h1M63 4h1M65 4h1M0 5h1M51 6h2M54 6h1M57 6h1M5 7h1M12 7h1M64 9h3M16 10h1M3 11h1M6 11h1M11 11h1M13 11h2M56 11h1M7 12h1M10 16h1M12 16h2M16 16h2M52 16h1M55 16h2M58 16h1M60 16h1M62 16h2M67 16h1M50 17h1M52 17h1M55 17h1M63 17h2M4 18h1M17 19h1M49 21h1M53 21h1M55 21h1M57 21h1M60 21h2M63 21h1M67 21h3M13 22h1M1 23h1M9 23h2M0 24h3M4 24h4M16 24h1M18 24h2M54 24h1M56 24h1M60 24h2M1 27h1M50 27h1M58 27h3M62 27h1M55 28h2M58 28h1M66 28h1M6 29h1M8 29h2M14 29h1M5 30h2M11 30h4M16 30h1M0 31h1M7 31h2M1 34h1M3 34h1M5 34h1M10 34h1M17 34h2M50 34h1M53 34h1M55 34h1M57 34h2M61 34h2M65 34h1M68 34h2M2 36h5M16 36h1M52 36h1M54 36h1M56 36h1M67 36h1M69 36h1M11 37h1M15 37h1M0 38h1M46 39h1M51 39h1M53 39h1M55 39h1M66 40h3M2 42h1" stroke="#e8e8e8"/>
<path d="M2 0h1M5 0h1M7 0h1M12 0h2M16 0h1M19 0h1M0 1h1M3 1h3M12 1h1M15 1h1M17 1h1M56 1h2M60 1h2M0 2h3M3 3h1M53 3h1M69 3h1M1 4h2M11 4h1M14 4h1M50 4h1M53 4h1M58 4h1M62 4h1M66 4h2M69 4h1M1 5h1M3 5h1M47 5h1M49 5h1M61 5h1M63 5h2M67 5h1M69 5h1M7 6h2M48 6h1M56 6h1M0 7h3M4 7h1M6 7h3M13 7h1M15 7h2M19 7h1M14 8h1M17 8h1M7 9h1M62 9h2M67 9h1M1 10h1M3 10h1M8 10h1M14 10h1M19 10h1M0 11h1M4 11h2M16 11h2M20 11h1M58 11h1M65 11h1M67 11h1M8 13h1M0 14h1M6 14h1M8 14h2M55 14h1M67 14h2M15 15h3M52 15h1M55 15h1M0 16h3M5 16h4M14 16h1M18 16h1M50 16h2M53 16h1M64 16h2M68 16h1M7 17h1M9 17h2M16 17h1M48 17h1M51 17h1M53 17h1M56 17h1M59 17h1M5 18h1M7 18h1M15 18h1M0 19h4M11 19h1M14 19h3M8 20h1M10 20h2M3 21h1M5 21h1M8 21h2M45 21h2M48 21h1M51 21h1M58 21h1M66 21h1M10 22h3M0 23h1M2 23h1M4 23h2M7 23h2M66 23h1M8 24h1M14 24h2M17 24h1M49 24h1M55 24h1M58 24h2M0 25h1M2 25h1M62 26h1M10 27h1M47 27h1M49 27h1M51 27h1M53 28h1M57 28h1M0 29h1M4 29h1M7 29h1M10 29h1M12 29h2M0 30h1M4 30h1M17 30h1M19 30h1M57 30h1M61 30h1M63 30h2M3 31h1M6 31h1M15 31h1M18 31h1M0 32h1M2 32h1M4 34h1M6 34h2M11 34h1M14 34h1M16 34h1M19 34h1M49 34h1M51 34h2M54 34h1M56 34h1M59 34h1M66 34h2M0 36h1M8 36h1M11 36h2M22 36h1M53 36h1M57 36h1M60 36h1M66 36h1M68 36h1M2 37h1M4 37h1M6 37h1M9 37h1M18 37h1M1 38h1M15 38h1M56 38h1M1 39h1M11 39h1M47 39h1M1 40h1M4 40h1M56 40h1M58 40h1M64 40h2M69 40h1M3 42h1M66 42h1" stroke="#d8d8d8"/>
<path d="M1 0h1M6 0h1M9 0h1M11 0h1M15 0h1M20 0h3M61 0h1M2 1h1M7 1h2M10 1h2M13 1h1M58 1h2M62 1h1M65 1h2M3 2h1M17 2h4M62 2h1M2 3h1M5 3h1M10 3h2M13 3h1M48 3h3M52 3h1M55 3h1M57 3h1M65 3h1M68 3h1M0 4h1M3 4h3M7 4h3M16 4h1M51 4h2M54 4h1M56 4h1M59 4h1M68 4h1M2 5h1M7 5h1M9 5h3M48 5h1M50 5h1M53 5h1M55 5h2M60 5h1M65 5h2M68 5h1M5 6h1M46 6h2M53 6h1M55 6h1M3 7h1M14 7h1M17 7h1M20 7h3M1 8h5M7 8h1M9 8h1M15 8h1M24 8h1M27 8h1M5 9h2M8 9h2M59 9h2M69 9h1M0 10h1M2 10h1M4 10h1M10 10h3M15 10h1M17 10h1M20 10h1M53 10h2M15 11h1M53 11h1M55 11h1M57 11h1M60 11h1M63 11h2M66 11h1M68 11h2M5 12h1M8 12h5M1 13h2M7 13h1M9 13h2M12 13h1M57 13h1M69 13h1M1 14h2M5 14h1M7 14h1M58 14h1M62 14h1M66 14h1M69 14h1M1 15h1M4 15h1M10 15h1M12 15h3M48 15h1M50 15h2M56 15h5M62 15h4M19 16h1M49 16h1M57 16h1M3 17h1M8 17h1M14 17h2M18 17h1M45 17h1M0 18h4M6 18h1M8 18h1M13 18h2M65 18h4M4 19h2M9 19h1M13 19h1M18 19h1M0 20h3M4 20h2M9 20h1M12 20h3M16 20h3M56 20h1M58 20h1M64 20h1M66 20h4M0 21h1M4 21h1M6 21h1M10 21h1M47 21h1M50 21h1M54 21h1M56 21h1M62 21h1M64 21h2M0 22h1M8 22h1M3 23h1M6 23h1M11 23h1M14 23h1M59 23h1M63 23h2M67 23h1M69 23h1M9 24h5M20 24h1M47 24h1M57 24h1M1 25h1M0 26h1M5 26h2M8 26h1M10 26h1M15 26h1M17 26h1M19 26h1M0 27h1M2 27h4M7 27h1M9 27h1M48 27h1M10 28h2M49 28h2M59 28h1M61 28h1M63 28h1M65 28h1M67 28h1M2 29h1M5 29h1M65 29h1M1 30h2M20 30h1M22 30h1M56 30h1M59 30h1M65 30h3M1 31h2M5 31h1M10 31h2M13 31h1M16 31h2M68 31h2M1 32h1M3 32h2M57 32h2M60 32h1M64 32h3M68 32h1M12 34h1M15 34h1M20 34h1M47 34h2M4 35h4M18 35h1M20 35h2M7 36h1M9 36h2M17 36h1M23 36h2M49 36h1M51 36h1M55 36h1M58 36h2M62 36h1M64 36h2M0 37h2M3 37h1M5 37h1M7 37h2M10 37h1M17 37h1M68 37h1M2 38h1M6 38h1M12 38h3M41 38h1M51 38h2M55 38h1M59 38h1M67 38h2M0 39h1M9 39h2M16 39h1M18 39h1M45 39h1M2 40h1M5 40h3M10 40h3M17 40h1M50 40h1M53 40h3M57 40h1M62 40h2M2 41h2M11 41h1M14 41h2M57 41h1M59 41h2M62 41h3M68 41h1M1 42h1M4 42h2M7 42h1M57 42h1M67 42h1" stroke="#c9c9c9"/>
<path d="M58 0h1M60 0h1M66 0h2M69 0h1M19 1h1M48 1h1M52 1h1M64 1h1M68 1h2M9 2h2M12 2h3M16 2h1M48 2h1M53 2h1M59 2h2M63 2h3M68 2h2M14 3h1M20 3h1M44 3h2M47 3h1M59 3h1M6 4h1M47 4h1M14 5h1M18 5h1M58 5h1M2 6h1M9 6h3M19 6h1M23 6h1M43 6h3M18 7h1M24 7h3M47 7h2M65 7h1M67 7h1M8 8h1M10 8h1M12 8h1M19 8h2M22 8h1M25 8h2M28 8h1M50 8h1M53 8h2M58 8h3M67 8h1M69 8h1M1 9h2M11 9h3M47 9h3M55 9h4M5 10h1M24 10h2M27 10h1M55 10h1M57 10h1M64 10h1M23 11h1M45 11h2M49 11h2M52 11h1M1 12h2M4 12h1M15 12h2M21 12h3M67 12h1M4 13h2M14 13h2M58 13h1M61 13h1M64 13h2M67 13h1M3 14h1M11 14h1M48 14h1M50 14h1M60 14h1M65 14h1M5 15h1M19 15h1M66 15h1M68 15h1M21 16h1M23 16h1M25 16h1M28 16h1M1 17h2M4 17h1M19 17h2M17 18h2M62 18h1M69 18h1M8 19h1M19 19h4M61 19h1M63 19h3M67 19h1M69 19h1M19 20h1M50 20h1M53 20h3M57 20h1M59 20h1M13 21h1M16 21h1M2 22h2M6 22h1M16 22h1M48 22h2M53 22h2M58 22h2M61 22h2M64 22h3M18 23h1M20 23h1M22 23h1M51 23h1M53 23h1M55 23h1M58 23h1M60 23h2M65 23h1M21 24h1M44 24h2M6 25h1M8 25h3M58 26h1M60 26h1M63 26h3M69 26h1M12 27h2M16 27h1M3 28h1M6 28h1M9 28h1M13 28h1M15 28h1M17 28h1M46 28h1M60 28h1M62 28h1M15 29h1M17 29h1M50 29h3M54 29h1M57 29h1M60 29h1M63 29h1M66 29h3M55 30h1M20 31h1M51 31h1M54 31h1M56 31h1M59 31h2M65 31h1M13 32h1M16 32h1M18 32h2M47 32h2M52 32h1M55 32h1M59 32h1M0 33h3M7 33h3M13 33h2M22 34h1M45 34h2M1 35h1M8 35h2M11 35h1M13 35h2M16 35h1M22 35h1M48 35h2M56 35h1M59 35h1M67 35h2M26 36h1M50 36h1M61 36h1M19 37h1M64 37h1M66 37h2M5 38h1M18 38h1M37 38h2M42 38h4M50 38h1M53 38h1M57 38h2M3 39h1M5 39h1M7 39h2M14 39h2M26 39h1M37 39h2M0 40h1M3 40h1M8 40h1M18 40h2M21 40h1M24 40h1M45 40h4M51 40h1M6 41h1M8 41h1M17 41h3M54 41h2M67 41h1M8 42h1M12 42h3M17 42h1M19 42h1M49 42h1M62 42h2M65 42h1" stroke="#aaaaaa"/>
<path d="M51 0h1M54 0h1M59 0h1M25 1h1M46 1h1M51 1h1M53 1h1M6 2h1M15 2h1M21 2h1M49 2h1M51 2h1M54 2h2M57 2h2M66 2h1M4 3h1M21 3h1M42 3h2M19 4h1M44 4h1M46 4h1M17 5h1M19 5h1M44 5h3M14 6h1M18 6h1M20 6h1M25 6h1M37 6h1M27 7h1M44 7h2M54 7h3M58 7h2M61 7h2M66 7h1M68 7h1M21 8h1M31 8h1M49 8h1M51 8h2M56 8h1M62 8h1M65 8h1M14 9h2M22 10h1M26 10h1M28 10h1M48 10h1M59 10h2M62 10h1M66 10h3M24 11h3M47 11h2M51 11h1M0 12h1M19 12h2M24 12h1M50 12h3M55 12h4M68 12h2M16 13h3M51 13h1M54 13h2M59 13h2M63 13h1M66 13h1M68 13h1M15 14h2M47 14h1M49 14h1M21 15h1M23 15h1M46 15h1M24 16h1M27 16h1M31 16h1M44 16h2M23 17h1M41 17h2M19 18h1M46 18h1M20 20h1M46 20h2M49 20h1M51 20h2M61 20h1M17 21h2M22 21h1M42 21h1M5 22h1M45 22h2M50 22h2M55 22h3M63 22h1M19 23h1M21 23h1M25 23h1M50 23h1M22 24h2M25 24h1M27 24h1M37 24h1M42 24h1M12 25h2M15 25h1M69 25h1M16 26h1M22 26h1M53 26h4M59 26h1M66 26h2M14 27h2M17 27h1M44 27h2M2 28h1M5 28h1M43 28h1M48 29h2M53 29h1M58 29h2M52 30h1M54 30h1M53 31h1M61 31h4M6 32h2M9 32h1M11 32h2M14 32h1M17 32h1M20 32h1M44 32h2M49 32h2M53 32h1M56 32h1M5 33h1M10 33h2M15 33h1M23 34h1M42 34h2M12 35h1M23 35h1M25 35h1M51 35h3M60 35h1M62 35h1M65 35h2M69 35h1M25 36h1M27 36h1M46 36h3M21 37h1M44 37h1M61 37h3M34 38h1M39 38h2M47 38h1M49 38h1M61 38h2M4 39h1M20 39h1M22 39h1M24 39h1M39 39h1M41 39h2M25 40h1M9 41h1M48 41h1M51 41h1M53 41h1M9 42h3M21 42h1M23 42h2M50 42h4M59 42h3" stroke="#9a9a9a"/>
<path d="M23 0h2M55 0h3M20 1h1M22 1h1M24 1h1M44 1h2M7 2h2M11 2h1M46 2h1M50 2h1M52 2h1M22 3h1M24 3h2M37 3h1M41 3h1M20 4h3M45 4h1M20 5h3M26 5h1M43 5h1M13 6h1M16 6h2M21 6h1M24 6h1M31 6h1M36 6h1M38 6h5M28 7h1M30 7h1M43 7h1M46 7h1M50 7h1M53 7h1M57 7h1M60 7h1M64 7h1M69 7h1M29 8h2M32 8h1M45 8h1M48 8h1M55 8h1M57 8h1M63 8h1M17 9h1M45 9h2M54 9h1M47 10h1M58 10h1M69 10h1M27 11h1M42 11h1M44 11h1M17 12h2M46 12h1M48 12h1M53 12h1M59 12h3M66 12h1M19 13h1M52 13h1M41 14h3M46 14h1M22 15h1M24 15h2M36 15h3M40 15h1M43 15h3M30 16h1M32 16h2M36 16h1M41 16h1M43 16h1M21 17h2M24 17h1M32 17h1M35 17h2M39 17h1M20 18h1M47 18h2M50 18h1M53 18h2M57 18h1M59 18h3M63 18h1M23 19h2M27 19h1M50 19h3M55 19h1M57 19h1M59 19h2M62 19h1M21 20h2M44 20h2M48 20h1M15 21h1M19 21h3M41 21h1M4 22h1M17 22h1M19 22h1M21 22h1M44 22h1M52 22h1M23 23h2M26 23h1M48 23h2M24 24h1M26 24h1M31 24h2M36 24h1M38 24h4M43 24h1M16 25h1M63 25h1M66 25h2M24 26h1M52 26h1M68 26h1M18 27h3M42 27h1M16 28h1M18 28h2M22 28h1M18 29h1M20 29h2M46 29h2M55 29h2M24 30h1M26 30h1M43 30h1M45 30h1M49 30h1M53 30h1M21 31h1M45 31h1M49 31h2M52 31h1M8 32h1M10 32h1M21 32h2M24 32h1M51 32h1M12 33h1M16 33h1M68 33h1M24 34h2M40 34h2M44 34h1M24 35h1M44 35h2M47 35h1M50 35h1M54 35h2M57 35h2M61 35h1M44 36h2M22 37h1M38 37h2M41 37h1M43 37h1M45 37h1M47 37h1M49 37h1M53 37h2M56 37h2M60 37h1M21 38h2M33 38h1M36 38h1M46 38h1M63 38h1M21 39h1M25 39h1M27 39h1M36 39h1M40 39h1M23 40h1M21 41h1M42 41h1M46 41h2M50 41h1M22 42h1M25 42h1M46 42h2" stroke="#8b8b8b"/>
<path d="M25 0h1M27 0h2M45 0h1M48 0h3M52 0h2M23 1h1M26 1h2M29 1h1M31 1h1M40 1h3M22 2h1M24 2h1M28 2h1M47 2h1M56 2h1M26 3h2M33 3h1M38 3h3M25 4h5M31 4h1M39 4h1M43 4h1M25 5h1M38 5h2M26 6h1M28 6h1M30 6h1M32 6h1M34 6h2M29 7h1M32 7h1M40 7h3M49 7h1M52 7h1M63 7h1M34 8h4M41 8h1M46 8h1M18 9h2M43 9h2M30 10h1M40 10h1M43 10h2M61 10h1M28 11h1M41 11h1M43 11h1M25 12h1M49 12h1M54 12h1M62 12h4M20 13h4M47 13h4M53 13h1M18 14h1M40 14h1M44 14h2M29 16h1M42 16h1M25 17h1M30 17h1M33 17h2M38 17h1M40 17h1M21 18h1M41 18h2M45 18h1M49 18h1M52 18h1M55 18h2M58 18h1M28 19h2M47 19h3M53 19h2M56 19h1M58 19h1M42 20h2M23 21h1M40 21h1M18 22h1M22 22h1M41 22h2M47 22h1M44 23h1M46 23h2M28 24h1M30 24h1M17 25h1M58 25h1M61 25h2M64 25h1M68 25h1M25 26h5M48 26h1M50 26h2M21 27h1M30 27h2M43 27h1M20 28h2M38 28h2M41 28h2M44 28h1M19 29h1M22 29h1M24 29h1M35 29h4M41 29h3M25 30h1M27 30h2M41 30h2M44 30h1M46 30h1M48 30h1M50 30h1M46 31h3M23 32h1M38 32h1M41 32h1M54 32h1M17 33h1M19 33h1M21 33h1M62 33h1M65 33h1M67 33h1M69 33h1M26 34h1M26 35h1M43 35h1M46 35h1M28 36h2M31 36h1M40 36h1M43 36h1M40 37h1M42 37h1M46 37h1M48 37h1M50 37h3M55 37h1M58 37h2M19 38h2M23 38h1M25 38h4M31 38h2M35 38h1M23 39h1M30 39h1M35 39h1M26 40h2M42 40h3M20 41h1M22 41h1M31 41h1M33 41h1M35 41h1M44 41h1M49 41h1M45 42h1M48 42h1" stroke="#7b7b7b"/>
<path d="M29 0h1M35 0h2M43 0h2M46 0h2M28 1h1M32 1h3M38 1h2M43 1h1M23 2h1M25 2h1M27 2h1M44 2h1M34 3h1M36 3h1M23 4h2M30 4h1M35 4h1M40 4h3M23 5h1M27 5h1M37 5h1M40 5h3M33 6h1M31 7h1M33 7h1M35 7h1M51 7h1M33 8h1M38 8h1M40 8h1M42 8h1M44 8h1M20 9h2M41 9h1M29 10h1M31 10h1M33 10h1M38 10h2M41 10h2M45 10h2M29 11h3M40 11h1M28 12h1M47 12h1M24 13h2M40 13h1M42 13h2M45 13h1M17 14h1M19 14h1M39 14h1M26 15h2M29 15h1M35 15h1M39 15h1M41 15h2M34 16h2M37 16h4M26 17h4M31 17h1M37 17h1M22 18h2M40 18h1M43 18h2M51 18h1M25 19h2M45 19h2M23 20h1M37 21h1M20 22h1M23 22h1M34 22h1M36 22h1M38 22h3M43 22h1M27 23h1M29 23h1M43 23h1M45 23h1M29 24h1M33 24h3M18 25h1M40 25h4M45 25h5M51 25h1M53 25h4M59 25h2M65 25h1M30 26h1M44 26h1M46 26h2M49 26h1M28 27h2M32 27h2M39 27h1M41 27h1M24 28h2M34 28h1M36 28h1M40 28h1M25 29h1M33 29h1M39 29h2M45 29h1M31 30h1M37 30h1M40 30h1M47 30h1M51 30h1M22 31h1M25 32h1M36 32h1M39 32h2M42 32h1M18 33h1M20 33h1M22 33h1M43 33h1M52 33h2M64 33h1M66 33h1M27 34h2M39 34h1M29 35h1M30 36h1M32 36h1M34 36h2M38 36h1M41 36h2M23 37h5M30 37h2M36 37h2M24 38h1M30 38h1M28 39h2M28 40h1M31 40h1M41 40h1M26 41h1M29 41h1M32 41h1M34 41h1M36 41h1M38 41h2M41 41h1M43 41h1M45 41h1M26 42h1M39 42h1M44 42h1" stroke="#6c6c6c"/>
<path d="M31 0h2M40 0h3M30 1h1M35 1h1M26 2h1M31 2h1M45 2h1M23 3h1M28 3h3M32 3h1M35 3h1M32 4h1M36 4h3M24 5h1M28 5h1M30 5h1M35 5h1M29 6h1M34 7h1M36 7h2M39 7h1M39 8h1M43 8h1M47 8h1M40 9h1M42 9h1M32 10h1M34 10h2M37 10h1M32 11h1M37 11h1M26 12h2M45 12h1M26 13h1M28 13h1M32 13h1M39 13h1M41 13h1M44 13h1M46 13h1M38 14h1M28 15h1M30 15h1M24 18h1M37 18h3M30 19h2M24 20h1M29 20h1M38 20h4M24 21h2M35 21h1M39 21h1M24 22h1M33 22h1M35 22h1M37 22h1M28 23h1M30 23h1M41 23h1M20 25h1M24 25h1M27 25h1M39 25h1M44 25h1M50 25h1M52 25h1M31 26h1M42 26h1M45 26h1M22 27h2M34 27h1M36 27h3M40 27h1M23 28h1M26 28h3M31 28h3M35 28h1M37 28h1M23 29h1M32 29h1M34 29h1M44 29h1M29 30h1M32 30h4M38 30h2M23 31h1M37 31h1M40 31h3M31 32h1M37 32h1M43 32h1M23 33h1M40 33h1M42 33h1M61 33h1M63 33h1M29 34h3M35 34h1M37 34h1M27 35h2M41 35h1M33 36h1M36 36h2M28 37h2M32 37h1M34 37h1M29 38h1M31 39h1M33 39h2M29 40h2M32 40h1M35 40h1M40 40h1M23 41h1M25 41h1M27 41h1M30 41h1M37 41h1M40 41h1M30 42h1M40 42h2M43 42h1" stroke="#5c5c5c"/>
<path d="M26 0h1M33 0h2M38 0h2M36 1h1M29 2h2M33 2h1M43 2h1M31 3h1M33 4h1M36 5h1M27 6h1M38 7h1M22 9h1M24 9h1M35 9h5M36 10h1M36 11h1M39 11h1M30 12h1M43 12h2M27 13h1M31 13h1M33 13h1M36 13h2M20 14h2M24 14h1M37 14h1M32 15h3M25 18h2M29 18h1M36 18h1M40 19h4M25 20h4M30 20h5M37 20h1M27 21h3M36 21h1M38 21h1M27 22h1M30 22h3M42 23h1M19 25h1M23 25h1M25 25h2M28 25h1M38 25h1M57 25h1M32 26h1M39 26h1M41 26h1M43 26h1M25 27h2M26 29h5M30 30h1M36 30h1M24 31h1M38 31h2M43 31h2M26 32h3M34 32h2M24 33h2M38 33h2M41 33h1M44 33h2M48 33h2M51 33h1M58 33h3M32 34h3M36 34h1M38 34h1M30 35h2M42 35h1M39 36h1M33 37h1M35 37h1M33 40h2M36 40h4M24 41h1M28 41h1M27 42h1M31 42h2M35 42h1M38 42h1M42 42h1" stroke="#4d4d4d"/>
<path d="M30 0h1M37 0h1M37 1h1M32 2h1M34 2h1M40 2h1M42 2h1M34 4h1M29 5h1M34 5h1M25 9h1M33 11h1M38 11h1M31 12h2M41 12h2M29 13h2M35 13h1M38 13h1M22 14h1M26 14h2M27 18h2M30 18h1M34 18h2M32 19h2M36 19h1M38 19h2M44 19h1M35 20h2M26 21h1M30 21h4M25 22h2M31 23h1M33 23h2M40 23h1M21 25h2M29 25h1M36 25h1M40 26h1M24 27h1M27 27h1M35 27h1M29 28h2M31 29h1M25 31h4M30 31h1M29 32h2M32 32h2M26 33h2M34 33h2M46 33h2M50 33h1M54 33h4M32 35h1M34 35h1M36 35h5M32 39h1M28 42h2M34 42h1M37 42h1" stroke="#3d3d3d"/>
<path d="M35 2h5M41 2h1M31 5h3M23 9h1M26 9h9M34 11h2M29 12h1M33 12h8M34 13h1M23 14h1M25 14h1M28 14h9M31 15h1M31 18h3M34 19h2M37 19h1M34 21h1M28 22h2M32 23h1M35 23h5M30 25h6M37 25h1M33 26h6M29 31h1M31 31h6M28 33h6M36 33h2M33 35h1M35 35h1M33 42h1M36 42h1" stroke="#2e2e2e"/>
</g>
<path d="M3742.4 1039.5H4246" stroke="#000" stroke-width="4.2"/>
<path d="M3744.5 1039.5v22M3887.3 1039.5v22M4030.1 1039.5v22M4172.9 1039.5v22" stroke="#000" stroke-width="4.2"/>
<path d="M2171.5 607.5V1041" stroke="#000" stroke-width="4.2"/>
<path d="M2315.8 77V1060" stroke="#000" stroke-width="4.2" stroke-dasharray="28.5 16.5" stroke-dashoffset="4"/>
<path d="M2839.3 77V1060" stroke="#000" stroke-width="4.2" stroke-dasharray="28.5 16.5" stroke-dashoffset="4"/>
<path d="M3363.3 77V1060" stroke="#000" stroke-width="4.2" stroke-dasharray="28.5 16.5" stroke-dashoffset="4"/>
<path d="M3887.3 77V1060" stroke="#000" stroke-width="4.2" stroke-dasharray="28.5 16.5" stroke-dashoffset="4"/>
<path d="M2171.5 83.7h-23M2171.5 499h-23M2171.5 607.2h-23M2171.5 1031.8h-23" stroke="#000" stroke-width="4.2"/>
<text x="2143" y="101.5" text-anchor="end">1</text>
<text x="2148" y="516" text-anchor="end">34</text>
<text x="2143" y="621" text-anchor="end">1</text>
<text x="2148" y="1049" text-anchor="end">43</text>
<text x="2159" y="1108" text-anchor="middle">-1</text>
<text x="2316.3" y="1108" text-anchor="middle">0</text>
<text x="2459.1" y="1108" text-anchor="middle">1</text>
<text x="2601.9" y="1108" text-anchor="middle">2</text>
<text x="2442.5" y="1165" text-anchor="middle">Time from tone (s)</text>
<text x="3241" y="1143">Peak norm.</text>
<text x="3523" y="1143">0</text>
<linearGradient id="g290" x1="0" y1="0" x2="1" y2="0"><stop offset="0.000" stop-color="#ffffff"/><stop offset="0.125" stop-color="#e4e4e4"/><stop offset="0.250" stop-color="#c9c9c9"/><stop offset="0.375" stop-color="#aeaeae"/><stop offset="0.500" stop-color="#929292"/><stop offset="0.625" stop-color="#777777"/><stop offset="0.750" stop-color="#5c5c5c"/><stop offset="0.875" stop-color="#414141"/><stop offset="1.000" stop-color="#262626"/></linearGradient>
<rect x="3563" y="1118" width="186" height="18" fill="url(#g290)"/>
<text x="3758" y="1143">1</text>
<text x="8" y="1249" font-weight="bold" font-size="66">d</text>
<defs><filter id="bl3" x="-100%" y="-100%" width="300%" height="300%"><feGaussianBlur stdDeviation="2.2"/></filter><filter id="bl1" x="-50%" y="-50%" width="200%" height="200%"><feGaussianBlur stdDeviation="1.1"/></filter><filter id="bl8" x="-200%" y="-200%" width="500%" height="500%"><feGaussianBlur stdDeviation="7"/></filter><clipPath id="cpd"><rect x="109" y="1285" width="354.5" height="353.5"/></clipPath><clipPath id="cpg"><rect x="2215.4" y="1285" width="374.4" height="374.2"/></clipPath></defs>
<rect x="109" y="1285" width="354.5" height="353.5" fill="#3b3b3b"/>
<g clip-path="url(#cpd)">
<circle cx="124.8" cy="1411.5" r="13.1" fill="#fff" fill-opacity="0.35" filter="url(#bl8)"/>
<circle cx="213.5" cy="1456.4" r="14.6" fill="#fff" fill-opacity="0.5" filter="url(#bl8)"/>
<circle cx="211.3" cy="1472.1" r="17.5" fill="#fff" fill-opacity="0.3" filter="url(#bl8)"/>
<circle cx="260.7" cy="1464.3" r="10.2" fill="#fff" fill-opacity="0.4" filter="url(#bl8)"/>
<circle cx="233.7" cy="1467.6" r="26.3" fill="#fff" fill-opacity="0.18" filter="url(#bl8)"/>
<circle cx="435.9" cy="1375.6" r="8.8" fill="#fff" fill-opacity="0.35" filter="url(#bl8)"/>
<circle cx="312.3" cy="1308.2" r="6.4" fill="#fff" fill-opacity="0.4" filter="url(#bl8)"/>
<circle cx="359.5" cy="1321.7" r="7.3" fill="#fff" fill-opacity="0.2" filter="url(#bl8)"/>
<circle cx="302.2" cy="1510.3" r="5.3" fill="#fff" fill-opacity="0.3" filter="url(#bl8)"/>
<circle cx="146.1" cy="1438.4" r="17.5" fill="#fff" fill-opacity="0.1" filter="url(#bl8)"/>
<path d="M269.7 1375.6C268.2 1380.4 263.7 1395.4 260.7 1404.8C257.7 1414.1 254.3 1424.2 251.7 1431.7C249.1 1439.2 246.1 1446.7 245 1449.7" fill="none" stroke="#fff" stroke-width="1.6" stroke-linecap="round" stroke-linejoin="round" stroke-opacity="0.35" filter="url(#bl1)"/>
<path d="M260.7 1290.2C262.2 1292.1 267.1 1295.5 269.7 1301.4C272.3 1307.4 276.4 1316.4 276.4 1326.1C276.4 1335.9 270.8 1354.2 269.7 1359.8" fill="none" stroke="#fff" stroke-width="1.6" stroke-linecap="round" stroke-linejoin="round" stroke-opacity="0.2" filter="url(#bl1)"/>
<path d="M245 1494.6C243.5 1500.2 239.4 1518.9 236 1528.3C232.6 1537.6 228.1 1545.5 224.8 1550.7C221.4 1556 217.3 1558.2 215.8 1559.7" fill="none" stroke="#fff" stroke-width="1.6" stroke-linecap="round" stroke-linejoin="round" stroke-opacity="0.2" filter="url(#bl1)"/>
<path d="M262.9 1584.4C265.2 1587.4 271.5 1597.7 276.4 1602.4C281.3 1607.1 288 1610.6 292.1 1612.5C296.3 1614.4 299.6 1613.4 301.1 1613.6" fill="none" stroke="#fff" stroke-width="2.2" stroke-linecap="round" stroke-linejoin="round" stroke-opacity="0.55" filter="url(#bl1)"/>
<path d="M426.9 1310.4C428.4 1314.9 435.1 1328.4 435.9 1337.4C436.6 1346.4 430.6 1356.1 431.4 1364.3C432.1 1372.6 438.9 1383 440.4 1386.8" fill="none" stroke="#fff" stroke-width="2" stroke-linecap="round" stroke-linejoin="round" stroke-opacity="0.15" filter="url(#bl1)"/>
<path d="M357.3 1323.9C361.4 1322.4 374.1 1317.2 382 1314.9C389.8 1312.7 400.7 1311.2 404.4 1310.4" fill="none" stroke="#fff" stroke-width="2" stroke-linecap="round" stroke-linejoin="round" stroke-opacity="0.18" filter="url(#bl1)"/>
<path d="M109.1 1335.1L125.9 1328.4" fill="none" stroke="#fff" stroke-width="2" stroke-linecap="round" stroke-linejoin="round" stroke-opacity="0.3" filter="url(#bl1)"/>
<path d="M168.6 1638.3C170.5 1635.3 176.5 1626.4 179.8 1620.4C183.2 1614.4 187.3 1605.4 188.8 1602.4" fill="none" stroke="#fff" stroke-width="1.6" stroke-linecap="round" stroke-linejoin="round" stroke-opacity="0.25" filter="url(#bl1)"/>
<path d="M285.4 1642.8C288.8 1636.8 297 1619.2 305.6 1606.9C314.2 1594.5 326.2 1582.6 337.1 1568.7C347.9 1554.9 359.5 1538 370.7 1523.8C382 1509.6 392.8 1494.6 404.4 1483.4C416 1472.1 429.9 1463.5 440.4 1456.4C450.8 1449.3 462.8 1443.3 467.3 1440.7" fill="none" stroke="#fff" stroke-width="3.2" stroke-linecap="round" stroke-linejoin="round" filter="url(#bl1)"/>
<path d="M103.5 1636.1C107.2 1635 119.2 1631.4 125.9 1629.3C132.7 1627.3 140.9 1624.7 143.9 1623.7" fill="none" stroke="#fff" stroke-width="3.4" stroke-linecap="round" stroke-linejoin="round" filter="url(#bl1)"/>
<circle cx="164.1" cy="1365.5" r="6.7" fill="#fff" filter="url(#bl3)"/>
<circle cx="342.7" cy="1376.7" r="4.4" fill="#fff" filter="url(#bl3)"/>
<circle cx="298.9" cy="1382.3" r="3.6" fill="#fff" filter="url(#bl3)"/>
<circle cx="440.4" cy="1338.5" r="3.6" fill="#fff" filter="url(#bl3)"/>
<circle cx="181" cy="1481.1" r="5.2" fill="#fff" filter="url(#bl3)"/>
<circle cx="172" cy="1584.4" r="5.2" fill="#fff" filter="url(#bl3)"/>
<circle cx="285.4" cy="1568.7" r="3.6" fill="#fff" filter="url(#bl3)"/>
<circle cx="251.7" cy="1442.9" r="2.1" fill="#fff" filter="url(#bl3)"/>
<circle cx="213.5" cy="1456.4" r="5.7" fill="#fff" filter="url(#bl3)"/>
<circle cx="222.5" cy="1549.6" r="2.1" fill="#fff" filter="url(#bl3)"/>
<circle cx="212.4" cy="1473.3" r="3.6" fill="#fff" filter="url(#bl3)"/>
</g>
<path d="M123.7 1322.8C125.6 1322.4 129.3 1319.8 134.9 1320.5C140.5 1321.3 149.9 1323.7 157.4 1327.3C164.9 1330.8 173.5 1338.3 179.8 1341.9C186.2 1345.4 189.9 1345.6 195.6 1348.6C201.2 1351.6 205.7 1356.3 213.5 1359.8C221.4 1363.4 234.5 1367.9 242.7 1369.9C251 1372 254.7 1373.5 262.9 1372.2C271.2 1370.9 277.9 1367.5 292.1 1362.1C306.4 1356.7 329.2 1348.4 348.3 1339.6C367.4 1330.8 396.9 1314.4 406.7 1309.3" fill="none" stroke="#a8c436" stroke-width="16.5" stroke-linecap="round" stroke-linejoin="round"/>
<path d="M123.7 1322.8C125.6 1322.4 129.3 1319.8 134.9 1320.5C140.5 1321.3 149.9 1323.7 157.4 1327.3C164.9 1330.8 173.5 1338.3 179.8 1341.9C186.2 1345.4 189.9 1345.6 195.6 1348.6C201.2 1351.6 205.7 1356.3 213.5 1359.8C221.4 1363.4 234.5 1367.9 242.7 1369.9C251 1372 254.7 1373.5 262.9 1372.2C271.2 1370.9 277.9 1367.5 292.1 1362.1C306.4 1356.7 329.2 1348.4 348.3 1339.6C367.4 1330.8 396.9 1314.4 406.7 1309.3" fill="none" stroke="#3d3d3d" stroke-width="8.5" stroke-linecap="round" stroke-linejoin="round"/>
<path d="M123.7 1322.8C125.6 1322.4 129.3 1319.8 134.9 1320.5C140.5 1321.3 149.9 1323.7 157.4 1327.3C164.9 1330.8 173.5 1338.3 179.8 1341.9C186.2 1345.4 189.9 1345.6 195.6 1348.6C201.2 1351.6 205.7 1356.3 213.5 1359.8C221.4 1363.4 234.5 1367.9 242.7 1369.9C251 1372 254.7 1373.5 262.9 1372.2C271.2 1370.9 277.9 1367.5 292.1 1362.1C306.4 1356.7 329.2 1348.4 348.3 1339.6C367.4 1330.8 396.9 1314.4 406.7 1309.3" fill="none" stroke="#fff" stroke-width="2.2" stroke-linecap="round" stroke-linejoin="round" stroke-opacity="0.6" filter="url(#bl1)"/>
<path d="M143.9 1626C151.4 1621.9 173.8 1608.6 188.8 1601.3C203.8 1594 223.3 1585.6 233.7 1582.2C244.2 1578.8 243.8 1583.7 251.7 1581.1C259.6 1578.4 272.3 1570 280.9 1566.5C289.5 1562.9 297 1563.3 303.4 1559.7C309.7 1556.2 314.6 1551.1 319.1 1545.1C323.6 1539.1 323.6 1529.4 330.3 1523.8C337.1 1518.2 352.4 1516.3 359.5 1511.4C366.6 1506.6 368.1 1498.9 373 1494.6C377.9 1490.3 383.5 1493.1 388.7 1485.6C393.9 1478.1 399.9 1456.8 404.4 1449.7C408.9 1442.6 410.4 1445.4 415.7 1442.9C420.9 1440.5 430.3 1438.8 435.9 1435.1C441.5 1431.3 446.2 1423.8 449.3 1420.5C452.5 1417.1 454 1415.8 455 1414.9" fill="none" stroke="#2fbccb" stroke-width="16.5" stroke-linecap="round" stroke-linejoin="round"/>
<path d="M143.9 1626C151.4 1621.9 173.8 1608.6 188.8 1601.3C203.8 1594 223.3 1585.6 233.7 1582.2C244.2 1578.8 243.8 1583.7 251.7 1581.1C259.6 1578.4 272.3 1570 280.9 1566.5C289.5 1562.9 297 1563.3 303.4 1559.7C309.7 1556.2 314.6 1551.1 319.1 1545.1C323.6 1539.1 323.6 1529.4 330.3 1523.8C337.1 1518.2 352.4 1516.3 359.5 1511.4C366.6 1506.6 368.1 1498.9 373 1494.6C377.9 1490.3 383.5 1493.1 388.7 1485.6C393.9 1478.1 399.9 1456.8 404.4 1449.7C408.9 1442.6 410.4 1445.4 415.7 1442.9C420.9 1440.5 430.3 1438.8 435.9 1435.1C441.5 1431.3 446.2 1423.8 449.3 1420.5C452.5 1417.1 454 1415.8 455 1414.9" fill="none" stroke="#3d3d3d" stroke-width="8.5" stroke-linecap="round" stroke-linejoin="round"/>
<path d="M143.9 1626C151.4 1621.9 173.8 1608.6 188.8 1601.3C203.8 1594 223.3 1585.6 233.7 1582.2C244.2 1578.8 243.8 1583.7 251.7 1581.1C259.6 1578.4 272.3 1570 280.9 1566.5C289.5 1562.9 297 1563.3 303.4 1559.7C309.7 1556.2 314.6 1551.1 319.1 1545.1C323.6 1539.1 323.6 1529.4 330.3 1523.8C337.1 1518.2 352.4 1516.3 359.5 1511.4C366.6 1506.6 368.1 1498.9 373 1494.6C377.9 1490.3 383.5 1493.1 388.7 1485.6C393.9 1478.1 399.9 1456.8 404.4 1449.7C408.9 1442.6 410.4 1445.4 415.7 1442.9C420.9 1440.5 430.3 1438.8 435.9 1435.1C441.5 1431.3 446.2 1423.8 449.3 1420.5C452.5 1417.1 454 1415.8 455 1414.9" fill="none" stroke="#fff" stroke-width="2.2" stroke-linecap="round" stroke-linejoin="round" stroke-opacity="1" filter="url(#bl1)"/>
<rect x="339.3" y="1617" width="112.7" height="8.3" fill="#fff"/>
<text x="122" y="1394.6" fill="#a8c436" font-size="47">1</text>
<text x="137" y="1589" fill="#2fbccb" font-size="47">2</text>
<path d="M271.7 1393.3L311.4 1526.3" stroke="#e8202a" stroke-width="3.6"/>
<path d="M267.4 1378.9L285.1 1399.7L273.2 1398.1L264 1406Z" fill="#e8202a"/>
<path d="M315.7 1540.6L298 1519.8L310 1521.5L319.1 1513.5Z" fill="#e8202a"/>
<path d="M274.2 1462L240.5 1713" stroke="#e8202a" stroke-width="3.4"/>
<text x="137" y="1777" fill="#e8202a">d=76.8 um</text>
<text x="511" y="1249" font-weight="bold" font-size="66">e</text>
<text x="731" y="1269" text-anchor="middle" fill="#a8c436">Axon #1</text>
<text x="1185" y="1269" text-anchor="middle" fill="#2fbccb">Axon #2</text>
<g transform="translate(577,1284.26) scale(9.8906,4.5104)" shape-rendering="crispEdges" fill="none" stroke-width="1.03">
<rect x="0" y="-0.5" width="32" height="96" fill="#1bb7c6"/>
<path d="M1 4h1M1 31h1M3 46h1M1 68h1M29 81h1M29 83h1" stroke="#4031bb"/>
<path d="M3 9h1M1 12h1M4 17h1M3 28h1M8 28h1M7 41h1M27 44h1M1 46h1M4 46h2M3 52h1M5 64h1M2 69h1M23 71h1M2 73h1M25 73h1M1 81h1M31 87h1" stroke="#4547e1"/>
<path d="M4 0h1M3 1h1M26 1h1M2 2h1M31 3h1M0 9h2M3 10h1M28 10h1M2 12h2M28 12h1M0 13h1M4 13h1M6 15h1M31 15h1M0 17h1M0 18h1M1 22h1M27 25h1M25 34h1M0 37h1M28 46h1M6 47h1M5 52h1M27 56h1M0 61h1M4 64h1M25 64h1M1 67h1M3 67h1M27 67h1M0 68h1M6 68h1M30 71h1M31 72h1M0 73h1M30 73h1M0 74h1M3 75h1M0 76h1M0 78h1M2 81h1M19 81h2M23 81h1M28 81h1M26 82h1M0 85h1M29 85h1M0 87h1M3 93h1M28 93h1" stroke="#415ff5"/>
<path d="M2 0h1M8 0h1M10 0h1M25 0h4M1 1h1M25 1h1M3 2h1M1 3h1M0 4h1M2 4h2M5 4h2M9 4h1M2 7h1M3 8h2M29 9h1M1 10h2M24 10h1M0 11h1M0 12h1M1 13h1M6 13h1M25 13h1M30 14h2M7 15h1M1 16h1M4 16h1M1 17h1M3 18h1M0 19h1M2 20h1M2 21h1M0 22h1M3 22h1M29 25h1M4 26h1M1 28h1M7 28h1M9 28h1M17 28h1M28 28h1M2 30h1M2 31h2M5 31h1M7 31h2M12 32h1M0 33h1M6 33h1M3 34h1M1 35h1M1 39h1M5 39h1M26 39h1M27 40h1M29 40h1M5 41h2M8 41h2M28 41h2M3 42h1M3 43h1M0 44h1M29 44h1M25 45h1M28 45h1M6 46h2M9 46h1M29 46h1M0 49h2M23 49h2M1 50h1M4 50h1M30 50h1M0 51h1M2 51h1M30 51h1M2 52h1M4 52h1M6 52h1M22 52h1M24 52h2M1 53h1M5 53h1M7 53h1M27 53h1M2 54h2M5 55h1M7 55h1M4 57h2M22 57h1M3 58h1M0 59h1M3 59h1M4 60h1M2 61h2M6 61h1M22 61h1M27 61h3M23 64h1M31 64h1M5 65h1M0 67h1M24 67h1M28 67h1M2 68h1M4 68h2M7 68h1M27 68h2M3 69h2M7 69h1M17 69h1M28 69h1M31 69h1M3 70h1M1 73h1M3 73h1M21 73h1M23 73h2M26 73h4M31 73h1M1 74h1M1 75h2M1 76h2M2 78h1M26 78h1M31 78h1M1 79h2M0 81h1M4 81h2M30 81h1M3 82h2M19 82h1M24 82h1M31 82h1M2 83h1M20 83h1M23 83h1M30 83h1M28 84h1M1 85h1M19 85h1M21 85h1M31 86h1M1 87h1M25 87h1M27 87h1M30 87h1M3 90h1M26 90h1M28 90h1M3 92h1M2 93h1M20 93h2M29 93h1" stroke="#347af6"/>
<path d="M0 0h1M6 0h1M11 0h1M29 0h2M5 1h1M22 1h1M28 1h2M1 2h1M25 2h1M31 2h1M0 3h1M3 3h2M29 3h1M4 4h1M7 4h2M23 4h1M27 4h1M6 5h1M30 5h1M28 6h1M31 7h1M1 8h1M29 8h1M2 9h1M4 9h1M8 9h1M22 9h1M24 9h1M28 9h1M30 9h1M6 10h1M11 11h1M26 11h1M5 12h1M2 13h2M7 13h1M24 13h1M28 13h1M1 14h1M3 14h1M5 14h1M9 14h1M3 15h2M2 16h1M7 16h2M27 16h1M31 16h1M11 19h1M0 20h2M9 20h1M23 20h1M28 20h3M1 21h1M7 21h1M24 21h2M6 22h1M28 22h2M1 23h2M26 23h1M28 23h1M1 24h2M5 25h4M0 26h1M3 26h1M7 26h1M22 26h1M0 28h1M2 28h1M29 28h1M1 29h1M6 29h1M26 29h1M29 29h1M4 30h1M6 30h1M8 30h1M0 31h1M4 31h1M6 31h1M4 32h1M6 32h2M2 33h1M1 34h1M21 34h1M23 34h1M1 37h1M25 37h1M26 38h2M3 39h2M1 40h1M4 40h1M26 40h1M10 41h2M13 41h1M0 42h1M30 42h1M7 43h1M9 43h1M11 43h1M27 43h1M19 44h1M28 44h1M30 44h2M1 45h1M6 45h1M26 45h1M27 46h1M7 47h1M30 47h1M2 48h1M4 48h1M8 48h1M27 48h1M8 49h1M22 49h1M31 49h1M0 50h1M9 50h1M3 51h1M5 51h1M7 51h1M7 52h1M23 52h1M26 52h2M29 52h3M2 53h1M20 53h2M29 53h1M31 54h1M1 56h1M5 56h1M6 57h1M26 57h1M30 57h2M20 58h1M28 58h2M2 59h1M4 59h2M7 59h1M9 59h2M24 59h1M0 60h3M6 60h1M4 61h2M8 61h1M20 61h1M23 61h1M26 63h1M0 64h1M2 64h2M19 64h1M22 64h1M24 64h1M26 64h2M30 64h1M3 65h1M24 65h1M0 66h1M4 66h1M2 67h1M4 67h1M20 67h1M25 67h2M29 67h1M3 68h1M8 68h1M11 68h1M21 68h1M26 68h1M30 68h2M0 69h1M6 69h1M13 69h1M22 69h6M30 69h1M5 70h1M3 71h1M21 71h2M29 71h1M28 72h1M30 72h1M19 73h1M2 74h1M24 74h1M0 75h1M10 75h2M2 77h1M5 77h1M1 78h1M3 78h1M5 78h1M27 78h1M29 78h2M0 79h1M28 79h1M31 79h1M28 80h2M6 81h1M18 81h1M21 81h1M24 81h1M26 81h2M31 81h1M1 82h2M29 82h2M0 83h1M4 83h1M21 83h1M28 83h1M1 84h2M24 84h1M24 85h1M28 85h1M30 85h1M0 86h1M5 86h1M25 86h1M29 86h1M29 87h1M31 88h1M26 89h1M1 90h1M4 90h1M25 90h1M22 91h1M31 91h1M23 92h3M28 92h1M27 93h1M30 93h2M1 94h1M5 94h1M3 95h1M30 95h1" stroke="#2791ef"/>
<path d="M1 0h1M3 0h1M5 0h1M7 0h1M16 0h1M4 1h1M10 1h1M27 1h1M5 2h1M10 2h1M20 2h1M30 2h1M2 3h1M5 3h1M19 3h1M21 3h1M27 3h1M30 3h1M12 4h1M24 4h1M31 4h1M1 6h1M3 6h1M23 6h1M0 7h1M7 7h1M2 8h1M7 8h1M9 8h1M28 8h1M5 9h1M7 9h1M10 9h1M15 9h1M23 9h1M25 9h3M0 10h1M4 10h2M27 10h1M30 10h1M2 11h1M4 11h1M10 11h1M31 11h1M4 12h1M9 12h1M27 12h1M29 12h2M13 13h1M23 13h1M27 13h1M31 13h1M10 14h1M24 14h1M29 14h1M0 15h2M5 15h1M11 15h1M30 15h1M0 16h1M6 16h1M26 16h1M28 16h1M2 17h1M5 17h2M9 17h2M2 18h1M28 18h4M6 19h2M10 19h1M5 20h1M22 20h1M25 20h2M31 20h1M0 21h1M3 21h1M6 21h1M8 21h1M23 21h1M31 21h1M5 22h1M8 22h1M25 22h1M0 23h1M6 23h1M8 23h1M27 23h1M30 23h1M0 24h1M8 24h1M31 24h1M0 25h1M3 25h1M25 25h1M28 25h1M1 26h2M5 26h2M24 26h1M28 26h2M2 27h2M29 27h1M4 28h2M31 28h1M0 29h1M3 29h1M5 29h1M14 29h1M24 29h2M27 29h2M31 29h1M1 30h1M3 30h1M5 30h1M7 30h1M30 30h1M9 31h1M22 31h2M28 31h1M30 31h1M5 32h1M9 32h2M23 32h1M30 32h1M1 33h1M8 33h1M22 33h1M26 33h1M4 34h1M26 34h1M30 34h1M7 35h3M31 35h1M0 36h1M6 36h1M21 37h1M23 37h1M28 37h1M30 37h2M4 38h1M6 38h1M24 38h1M28 38h2M0 39h1M2 39h1M29 39h1M31 39h1M0 40h1M2 40h1M8 40h1M28 40h1M30 40h1M4 41h1M22 41h1M27 41h1M4 42h1M27 42h1M29 42h1M5 43h1M10 43h1M29 43h1M2 44h2M6 44h1M21 44h1M26 44h1M2 45h2M22 45h3M27 45h1M29 45h1M31 45h1M2 46h1M8 46h1M21 46h1M23 46h2M26 46h1M30 46h2M0 47h1M4 47h2M8 47h2M27 47h1M1 48h1M3 48h1M22 48h2M25 48h1M28 48h1M6 49h1M9 49h3M30 49h1M2 50h2M7 50h1M25 50h1M1 51h1M4 51h1M31 51h1M0 52h1M21 52h1M0 53h1M3 53h2M6 53h1M22 53h1M25 53h2M30 53h2M8 54h1M25 54h1M30 54h1M9 55h1M2 56h2M6 56h1M25 56h2M28 56h1M30 56h2M0 57h4M24 57h2M2 58h1M27 58h1M31 58h1M29 59h1M27 60h2M30 60h1M7 61h1M9 61h1M21 61h1M26 61h1M24 62h1M26 62h1M3 63h4M27 63h2M31 63h1M1 64h1M14 64h1M4 65h1M6 65h1M30 65h1M8 67h4M22 67h2M30 67h1M22 68h1M1 69h1M16 69h1M18 69h1M20 69h2M29 69h1M0 70h1M2 70h1M27 70h1M4 71h1M16 71h1M31 71h1M2 72h1M4 72h1M21 72h1M25 72h1M27 72h1M4 73h1M6 73h2M22 73h1M26 74h1M31 74h1M4 75h1M7 75h1M9 75h1M12 75h1M14 75h3M28 75h2M31 75h1M3 76h3M26 76h4M24 77h1M4 78h1M21 78h1M25 78h1M3 79h1M30 79h1M4 80h2M26 80h2M22 81h1M0 82h1M5 82h1M18 82h1M21 82h1M23 82h1M25 82h1M28 82h1M6 83h1M8 83h1M22 83h1M24 83h1M26 83h1M31 83h1M4 84h1M29 84h1M2 85h2M17 85h2M20 85h1M22 85h2M25 85h1M31 85h1M4 86h1M30 86h1M3 87h3M26 87h1M29 88h2M2 90h1M6 90h1M21 90h1M24 90h1M27 90h1M29 90h2M0 91h1M24 91h1M28 91h1M0 92h3M18 92h1M20 92h1M26 92h1M31 92h1M1 93h1M15 93h1M17 93h1M2 94h1M4 94h1M6 94h1M20 94h1M22 94h1M2 95h1M27 95h1M29 95h1" stroke="#19a7de"/>
<path d="M12 0h1M14 0h1M0 1h1M6 1h2M9 1h1M21 1h1M30 1h1M4 2h1M7 2h1M12 2h1M28 2h2M11 3h1M13 3h1M11 4h1M21 4h1M25 4h1M29 4h1M4 5h2M7 5h1M22 5h1M25 5h2M29 5h1M2 6h1M5 6h2M8 6h2M24 6h1M30 6h1M4 7h2M23 7h3M28 7h3M8 8h1M11 8h1M24 8h2M31 8h1M14 9h1M16 9h1M8 10h2M22 10h2M25 10h2M31 10h1M3 11h1M8 11h1M25 11h1M8 12h1M11 12h1M22 12h1M26 12h1M16 13h1M18 13h1M30 13h1M6 14h1M8 14h1M11 14h1M20 14h1M26 14h2M8 15h1M12 15h1M18 15h1M25 15h2M23 16h1M7 17h1M13 17h1M6 18h4M16 18h1M21 18h1M23 18h1M25 18h2M4 19h1M8 19h1M13 19h1M21 19h2M26 19h1M29 19h1M31 19h1M3 20h1M10 20h1M21 20h1M4 21h2M9 21h1M22 21h1M26 21h2M30 21h1M2 22h1M7 22h1M9 23h1M13 23h1M20 23h3M3 24h1M7 24h1M9 24h1M25 24h2M30 24h1M12 25h1M24 25h1M10 26h1M16 26h1M19 26h1M23 26h1M25 26h2M1 27h1M28 27h1M31 27h1M12 28h1M16 28h1M18 28h1M21 28h1M2 29h1M9 29h1M11 29h3M16 29h1M22 29h1M0 30h1M25 30h1M27 30h1M31 30h1M25 31h3M29 31h1M31 31h1M1 32h1M21 32h1M28 32h2M7 33h1M9 33h1M23 33h1M25 33h1M28 33h1M31 33h1M8 34h1M14 34h2M19 34h1M29 34h1M3 35h2M10 35h1M23 35h1M26 35h1M29 35h1M1 36h2M4 36h2M12 36h2M30 36h2M4 37h2M9 37h2M15 37h2M22 37h1M24 37h1M29 37h1M3 38h1M5 38h1M8 38h1M23 38h1M6 39h1M8 39h2M12 39h1M22 39h1M5 40h1M7 40h1M20 40h1M22 40h1M25 40h1M31 40h1M15 41h1M23 41h2M30 41h1M2 42h1M10 42h1M24 42h1M0 43h2M4 43h1M12 43h1M24 43h2M31 43h1M4 44h2M7 44h1M11 44h1M7 45h1M10 46h2M19 46h1M25 46h1M1 47h1M11 47h1M25 47h1M6 48h1M17 48h1M20 48h2M2 49h2M7 49h1M26 49h1M29 49h1M10 50h1M22 50h1M28 50h1M8 51h1M23 51h1M27 51h1M8 52h1M9 53h1M23 53h2M0 54h1M5 54h2M9 54h1M11 54h1M20 54h1M26 54h2M0 55h1M2 55h2M27 55h1M22 56h1M24 56h1M12 57h2M19 57h1M21 57h1M29 57h1M7 58h1M10 58h1M18 58h1M23 58h1M25 58h1M1 59h1M6 59h1M8 59h1M11 59h2M23 59h1M27 59h2M31 59h1M3 60h1M26 60h1M1 61h1M10 61h2M19 61h1M24 61h1M30 61h2M0 62h2M7 62h1M21 63h2M24 63h1M7 64h1M10 64h1M15 64h1M17 64h1M1 65h1M21 65h1M23 65h1M29 65h1M1 66h1M5 66h2M18 66h1M23 66h1M29 66h1M5 67h1M13 67h1M10 68h1M20 68h1M23 68h1M25 68h1M29 68h1M8 69h2M11 69h1M14 69h1M19 69h1M1 70h1M4 70h1M25 70h1M29 70h1M0 71h1M5 71h1M10 71h1M14 71h1M19 71h2M24 71h1M0 72h2M3 72h1M6 72h1M8 72h1M22 72h2M26 72h1M29 72h1M14 73h1M16 73h1M20 73h1M3 74h1M6 74h1M25 74h1M28 74h2M6 75h1M17 75h1M19 75h1M22 75h2M26 75h1M30 75h1M15 76h1M22 76h4M31 76h1M1 77h1M7 77h1M18 77h1M21 77h1M23 77h1M28 77h1M30 77h2M10 78h1M16 78h1M19 78h2M22 78h2M4 79h1M7 79h1M0 80h1M9 80h1M21 80h2M30 80h2M8 81h1M6 82h2M14 82h1M22 82h1M7 83h1M9 83h1M18 83h1M25 83h1M27 83h1M6 84h1M19 84h1M25 84h2M5 85h1M7 85h1M27 85h1M2 86h1M24 86h1M26 86h1M28 86h1M6 87h1M9 87h1M23 87h1M2 88h1M6 88h1M23 88h1M0 89h1M17 89h1M20 89h1M23 89h3M27 89h2M7 90h2M15 90h1M17 90h1M26 91h2M29 91h2M4 92h2M22 92h1M14 93h1M19 93h1M22 93h1M24 93h1M0 94h1M3 94h1M7 94h1M27 94h2M31 94h1M1 95h1M7 95h3M17 95h1M26 95h1M28 95h1" stroke="#2ec2a7"/>
<path d="M13 0h1M18 0h1M8 1h1M11 1h1M14 1h1M9 2h1M11 2h1M19 2h1M23 2h2M7 3h1M12 3h1M28 3h1M16 4h1M22 4h1M30 4h1M2 5h2M9 5h1M11 5h1M23 5h2M28 5h1M7 6h1M12 6h2M25 6h3M31 6h1M10 7h1M0 8h1M13 8h1M23 8h1M27 8h1M30 8h1M11 9h1M13 9h1M20 9h1M11 10h3M21 10h1M5 11h1M7 11h1M9 11h1M12 11h1M12 12h1M16 12h1M18 12h1M10 13h1M17 13h1M19 13h1M21 13h1M12 14h1M19 14h1M23 14h1M13 15h1M24 15h1M11 17h1M24 17h1M26 17h1M11 18h1M2 19h1M18 19h1M25 19h1M28 19h1M8 20h1M11 20h2M12 21h1M28 21h2M9 22h1M24 22h1M26 22h2M11 23h1M23 23h2M5 24h2M12 24h1M22 24h2M29 24h1M11 25h1M23 25h1M9 26h1M17 26h1M27 26h1M4 27h1M20 27h2M24 27h3M30 27h1M13 28h1M15 28h1M20 28h1M22 28h1M27 28h1M15 29h1M18 29h1M20 29h1M23 29h1M20 30h1M26 30h1M3 32h1M13 32h2M24 32h1M26 32h1M31 32h1M11 33h3M27 33h1M0 34h1M2 34h1M7 34h1M9 34h1M20 34h1M31 34h1M2 35h1M25 35h1M27 35h1M7 36h1M28 36h2M6 37h3M11 37h1M17 37h1M22 38h1M10 39h1M23 39h1M17 40h1M1 41h1M12 41h1M16 41h1M19 41h1M25 41h1M31 41h1M1 42h1M5 42h1M8 42h2M14 42h1M20 42h1M25 42h1M13 43h1M23 43h1M26 43h1M28 43h1M30 43h1M22 44h1M4 45h1M12 45h1M18 46h1M10 47h1M12 47h2M22 47h1M26 47h1M28 47h1M0 48h1M15 48h1M18 48h2M24 48h1M30 48h1M4 49h2M18 49h1M28 49h1M6 50h1M11 50h3M16 50h1M24 50h1M27 50h1M29 50h1M14 51h1M17 51h1M21 51h1M25 51h1M29 51h1M10 53h1M16 53h1M19 53h1M7 54h1M10 54h1M12 54h1M17 54h1M19 54h1M28 54h2M4 55h1M8 55h1M28 55h1M8 56h1M12 56h1M23 56h1M15 57h1M27 57h1M6 58h1M8 58h1M18 59h1M20 59h1M25 59h2M7 60h3M18 60h1M22 60h3M5 62h1M9 62h1M13 62h1M20 62h3M31 62h1M11 63h1M14 63h1M16 63h2M29 63h1M6 64h1M8 64h1M16 64h1M18 64h1M7 65h1M9 65h2M20 65h1M22 65h1M25 65h2M3 66h1M7 66h2M13 66h1M19 66h1M22 66h1M24 66h1M26 66h1M28 66h1M30 66h1M7 67h1M16 67h2M13 68h2M16 68h1M19 68h1M12 69h1M24 70h1M30 70h1M1 71h1M7 71h1M9 71h1M13 71h1M27 71h1M7 72h1M17 72h2M8 73h1M12 73h2M15 73h1M17 73h1M4 74h1M7 74h1M10 74h1M17 74h3M20 75h1M25 75h1M8 76h1M12 76h1M20 76h1M30 76h1M3 77h2M19 77h1M22 77h1M26 77h1M14 78h1M17 78h1M6 79h1M8 79h2M20 79h1M24 79h2M27 79h1M3 80h1M23 80h2M7 81h1M9 81h2M17 81h1M12 82h1M12 83h1M5 84h1M8 84h1M18 84h1M22 84h2M4 85h1M6 85h1M9 85h1M15 85h2M1 86h1M17 86h1M19 86h1M23 86h1M19 87h1M1 88h1M20 88h1M27 88h1M1 89h1M3 89h1M6 89h1M9 89h1M18 89h1M13 90h1M18 90h2M22 90h2M2 91h1M5 91h1M15 91h2M25 91h1M7 92h1M12 92h1M16 92h2M8 93h1M11 93h1M18 94h1M24 94h2" stroke="#54c87f"/>
<path d="M17 0h1M21 0h1M13 1h1M18 1h1M8 2h1M16 2h1M21 2h2M6 3h1M14 3h2M18 3h1M22 3h3M15 4h1M20 4h1M8 5h1M16 5h3M21 5h1M14 6h2M17 6h1M21 6h1M11 7h1M15 7h1M19 7h1M21 7h2M26 7h1M6 8h1M15 8h2M20 8h1M26 8h1M15 10h1M17 10h1M19 10h2M13 11h1M24 11h1M13 12h1M21 12h1M31 12h1M15 13h1M14 14h1M25 14h1M9 15h1M15 15h1M17 15h1M21 15h1M23 15h1M9 16h1M11 16h1M14 16h2M24 16h1M12 17h1M14 17h1M16 17h1M25 17h1M12 18h2M15 18h1M19 18h1M22 18h1M12 19h1M15 19h1M20 19h1M14 20h1M20 20h1M11 21h1M13 21h1M20 21h1M11 22h1M13 22h1M19 22h3M4 23h1M10 23h1M15 23h1M4 24h1M11 24h1M16 24h1M24 24h1M13 25h1M21 25h2M11 26h1M13 26h2M5 27h1M11 27h1M19 27h1M23 27h1M27 27h1M11 28h1M14 28h1M23 28h1M7 29h1M21 29h1M19 30h1M22 30h1M24 30h1M10 31h1M14 31h1M20 31h1M0 32h1M15 32h1M17 32h2M10 33h1M14 33h1M20 33h2M6 34h1M10 34h2M18 34h1M11 35h2M22 35h1M10 36h2M14 36h1M25 36h3M3 37h1M0 38h1M9 38h1M16 38h1M21 38h1M11 39h1M18 39h1M20 39h2M10 40h2M16 40h1M19 40h1M21 40h1M23 40h1M18 41h1M20 41h2M26 41h1M6 42h2M11 42h1M21 42h1M23 42h1M17 43h1M20 43h1M22 43h1M10 44h1M12 44h2M18 44h1M9 45h3M13 45h1M21 45h1M16 46h2M21 47h1M7 48h1M11 48h2M14 48h1M19 49h3M15 50h1M21 50h1M13 51h1M15 51h1M19 51h1M28 51h1M10 52h3M11 53h1M14 53h2M17 53h2M18 54h1M26 55h1M30 55h2M11 56h1M15 56h1M19 56h2M11 57h1M16 57h3M28 57h1M9 58h1M19 58h1M19 59h1M22 59h1M17 60h1M19 60h3M15 61h1M3 62h1M6 62h1M14 62h1M17 62h1M10 63h1M15 63h1M20 63h1M23 63h1M20 64h1M8 65h1M12 65h2M28 65h1M14 66h1M20 66h2M27 66h1M24 68h1M10 69h1M8 70h2M19 70h2M23 70h1M11 71h1M15 71h1M17 71h1M9 72h1M11 72h1M16 72h1M11 73h1M16 74h1M13 76h2M16 76h1M17 77h1M27 77h1M7 78h2M15 78h1M18 78h1M24 78h1M17 79h1M23 79h1M10 80h1M19 80h1M13 81h1M10 82h1M10 83h1M17 83h1M20 84h2M8 85h1M10 85h1M13 85h1M6 86h1M20 86h3M7 87h1M10 87h1M18 87h1M21 87h1M8 88h1M15 88h1M17 88h1M19 88h1M21 88h1M25 88h1M2 89h1M5 89h1M16 89h1M21 89h1M9 90h1M14 90h1M19 91h2M15 92h1M5 93h1M9 93h2M12 93h1M18 93h1M8 94h1M14 94h1M16 94h1M30 94h1M11 95h1M15 95h1M18 95h1M24 95h2" stroke="#8ec750"/>
<path d="M19 0h2M12 1h1M16 1h1M19 1h1M13 2h1M17 3h1M17 4h1M10 5h1M12 5h1M20 5h1M27 5h1M19 6h1M22 6h1M20 7h1M14 8h1M12 9h1M18 9h2M21 11h3M20 12h1M11 13h1M13 14h1M14 15h1M16 15h1M20 15h1M10 16h1M16 16h3M20 16h3M15 17h1M20 17h1M22 17h2M14 18h1M18 18h1M20 18h1M17 19h1M27 19h1M13 20h1M19 20h1M19 21h1M16 22h1M14 23h1M13 24h1M27 24h2M14 25h2M12 26h1M15 26h1M7 27h2M10 27h1M18 27h1M17 29h1M19 29h1M11 30h1M15 30h1M17 30h1M21 30h1M11 31h1M13 31h1M15 31h1M18 31h2M16 32h1M19 32h2M25 32h1M27 32h1M15 33h1M13 34h1M16 34h1M13 35h1M8 36h1M15 36h1M17 36h1M21 36h1M23 36h2M13 37h2M10 38h1M15 38h1M20 38h1M13 39h1M12 40h1M15 40h1M24 40h1M17 41h1M12 42h2M15 42h1M17 42h2M22 42h1M14 43h2M19 43h1M17 45h2M12 46h1M14 46h1M14 47h1M20 47h1M16 48h1M12 49h1M14 49h2M17 49h1M14 50h1M17 50h1M11 51h2M16 51h1M18 51h1M20 52h1M21 54h1M10 55h1M21 55h3M13 56h1M16 56h1M17 58h1M13 59h4M10 60h2M13 60h1M16 60h1M12 61h1M16 61h2M4 62h1M11 62h2M18 62h1M12 63h1M18 63h1M11 65h1M9 66h2M18 67h1M18 68h1M6 70h1M14 72h1M8 74h2M11 74h3M7 76h1M9 76h2M13 78h1M5 79h1M11 79h1M13 79h1M15 79h2M21 79h2M8 80h1M11 80h1M11 81h1M14 81h3M8 82h1M11 82h1M15 82h1M13 83h1M15 83h2M7 84h1M17 84h1M12 85h1M14 85h1M7 86h1M16 86h1M8 87h1M5 88h1M9 88h2M12 88h1M16 88h1M26 88h1M8 89h1M14 89h2M10 90h3M3 91h1M14 91h1M6 92h1M8 92h1M10 92h2M13 92h1M10 94h1M15 94h1M19 94h1M5 95h1M10 95h1M12 95h1M16 95h1" stroke="#c0c639"/>
<path d="M14 2h2M17 2h2M16 3h1M18 4h2M13 5h1M16 6h1M18 6h1M12 7h1M27 7h1M19 8h1M21 8h1M17 9h1M14 10h1M16 10h1M18 10h1M14 11h6M14 12h1M17 12h1M19 12h1M16 14h1M18 14h1M21 14h1M12 16h1M18 17h1M17 18h1M24 18h1M16 19h1M19 19h1M15 20h1M18 20h1M21 21h1M12 22h1M16 23h1M18 24h4M17 25h1M12 30h1M14 30h1M16 30h1M16 31h1M17 33h1M15 35h3M9 36h1M22 36h1M12 37h1M13 38h1M19 38h1M14 39h1M19 39h1M13 40h1M19 42h1M16 43h1M18 43h1M21 43h1M14 44h2M17 44h1M16 45h1M20 45h1M15 46h1M19 47h1M13 48h1M18 50h1M20 50h1M20 51h1M13 52h3M18 52h2M12 53h2M13 54h4M13 55h2M24 55h1M29 55h1M14 56h1M11 58h1M12 60h1M14 60h2M13 61h1M10 62h1M15 62h2M19 62h1M14 65h1M17 65h1M19 65h1M11 66h1M17 66h1M25 66h1M15 68h1M17 68h1M14 70h1M21 70h2M10 72h1M13 72h1M10 73h1M15 74h1M21 75h1M11 76h1M8 77h2M13 77h4M11 78h2M10 79h1M12 79h1M18 79h1M12 80h1M14 80h1M17 80h2M12 81h1M9 82h1M13 82h1M14 83h1M9 84h1M11 85h1M8 86h2M11 86h1M11 87h1M15 87h1M17 87h1M11 88h1M13 88h2M4 89h1M10 89h1M22 89h1M16 90h1M20 90h1M4 91h1M6 91h1M13 91h1M9 92h1M14 92h1M7 93h1M9 94h1M11 94h1M17 94h1M13 95h2" stroke="#eac438"/>
<path d="M15 1h1M17 1h1M20 6h1M13 7h1M17 8h1M22 8h1M20 11h1M15 12h1M20 13h1M15 14h1M17 14h1M19 16h1M17 17h1M19 17h1M16 20h2M14 21h1M17 21h2M15 22h1M18 22h1M17 23h2M14 24h2M17 24h1M18 25h3M9 27h1M12 27h2M16 27h1M18 30h1M12 31h1M17 31h1M16 33h1M12 34h1M17 34h1M19 35h1M21 35h1M20 36h1M11 38h1M14 38h1M17 38h2M16 39h1M14 40h1M18 40h1M16 42h1M16 44h1M14 45h2M13 46h1M15 47h1M17 47h2M13 49h1M16 49h1M16 52h1M11 55h2M17 56h2M14 58h3M14 61h1M15 65h2M12 66h1M15 66h1M7 70h1M11 70h1M12 72h1M15 72h1M9 73h1M14 74h1M12 77h1M13 84h1M15 84h2M16 87h1M11 89h1M13 89h1M7 91h1M10 91h3M13 94h1" stroke="#fccb34"/>
<path d="M14 5h2M19 5h1M14 7h1M16 7h2M18 8h1M13 16h1M21 17h1M15 21h1M14 22h1M16 25h1M14 27h2M17 27h1M13 30h1M18 33h2M14 35h1M18 35h1M20 35h1M16 36h1M18 36h2M12 38h1M19 45h1M19 50h1M19 55h1M13 58h1M16 66h1M10 70h1M13 70h1M17 70h2M10 77h2M13 80h1M10 84h2M12 86h1M14 86h1M14 87h1M8 91h2M12 94h1" stroke="#f7db2b"/>
<path d="M18 7h1M17 22h1M15 39h1M17 39h1M16 47h1M17 52h1M18 55h1M20 55h1M12 58h1M18 65h1M12 70h1M16 70h1M14 79h1M15 80h1M12 84h1M10 86h1M15 86h1M12 87h2M12 89h1" stroke="#f6e923"/>
<path d="M16 21h1M15 55h3M15 70h1M16 80h1M14 84h1M13 86h1" stroke="#f8f519"/>
</g>
<g transform="translate(1029,1284.26) scale(9.8906,4.5104)" shape-rendering="crispEdges" fill="none" stroke-width="1.03">
<rect x="0" y="-0.5" width="32" height="96" fill="#19a7de"/>
<path d="M2 2h2M5 6h1M4 8h1M6 8h2M13 8h2M23 8h2M29 8h1M30 9h2M0 10h1M9 18h1M2 22h1M6 25h1M8 33h1M5 35h1M6 38h1M19 43h1M6 45h1M7 49h1M5 53h1M2 54h2M8 54h1M6 55h1M2 58h2M4 62h1M8 63h1M30 64h1M3 65h1M0 69h1M2 69h4M18 71h3M27 73h1M0 80h5M6 80h1M3 83h1M5 85h1M30 85h1M2 87h1M27 89h1M1 90h1M3 90h1M5 90h1" stroke="#4031bb"/>
<path d="M1 0h3M1 2h1M8 2h1M10 2h1M1 8h1M15 8h1M22 8h1M25 8h2M30 8h1M3 10h2M0 16h1M6 18h1M8 18h1M7 20h2M5 21h2M3 22h1M1 23h1M6 23h2M10 25h1M1 26h1M3 26h1M7 26h2M26 26h1M0 28h1M6 28h1M11 28h1M23 28h1M26 28h1M29 28h1M1 29h1M7 29h1M8 30h1M20 30h2M4 31h1M7 32h3M24 32h1M28 32h1M6 35h1M28 35h1M8 38h1M27 38h2M0 39h1M2 39h3M7 39h1M21 39h1M26 39h1M0 40h2M1 42h1M0 43h2M8 43h1M18 43h1M0 44h1M2 44h1M3 45h1M7 45h1M9 47h1M3 48h1M6 48h2M8 49h1M0 53h4M0 54h2M9 54h1M1 55h4M7 55h1M1 56h4M0 58h1M8 59h1M6 63h1M29 64h1M2 65h1M5 65h1M2 67h1M27 68h1M1 69h1M6 69h2M8 70h1M8 71h2M11 71h1M4 73h1M10 75h1M0 79h1M2 79h1M5 80h1M7 80h1M1 81h2M5 82h1M1 85h4M20 85h1M22 85h1M29 85h1M1 86h1M1 87h1M3 87h1M5 88h1M3 89h1M8 89h1M0 90h1M2 90h1M0 92h1" stroke="#4547e1"/>
<path d="M0 0h1M4 0h2M11 0h1M0 1h3M0 2h1M7 2h1M11 2h1M9 4h1M23 4h1M0 5h1M2 5h1M4 5h1M6 5h1M2 7h1M3 8h1M16 8h1M18 8h1M21 8h1M27 8h2M1 9h1M5 9h1M13 9h1M15 9h1M23 9h1M29 9h1M1 10h2M3 11h1M20 11h1M6 12h1M28 12h1M1 13h2M5 14h1M8 14h1M10 14h3M7 18h1M11 18h1M23 19h1M4 20h2M2 21h1M4 21h1M0 22h2M25 22h2M31 22h1M2 23h1M5 23h1M7 25h1M0 26h1M2 26h1M4 26h2M9 26h1M1 28h1M3 28h2M7 28h1M25 28h1M27 28h1M0 29h1M4 29h3M5 30h1M9 30h2M19 30h1M23 30h1M25 30h1M2 31h2M6 32h1M25 32h1M5 33h3M10 33h1M23 33h1M27 33h1M1 34h1M3 34h3M2 35h3M7 35h2M26 35h1M30 35h1M5 37h1M0 38h1M4 38h2M9 38h2M1 39h1M5 39h2M9 39h1M18 39h1M23 39h1M2 40h1M5 40h2M2 42h2M22 42h1M27 42h1M29 42h2M4 43h2M10 43h1M16 43h1M20 43h1M27 43h1M4 44h1M4 45h1M17 47h1M25 47h1M4 48h1M9 48h1M1 50h1M6 50h1M29 50h1M7 51h1M3 52h1M6 52h1M4 53h1M6 53h2M4 54h2M10 54h1M28 54h1M5 55h1M26 55h1M0 56h1M24 57h2M22 58h1M24 58h1M3 59h1M10 59h1M13 59h1M25 59h2M4 60h2M0 62h2M5 62h3M29 62h1M7 63h1M9 63h1M3 64h1M7 64h1M16 64h1M19 64h1M0 66h1M19 66h3M4 67h1M6 68h1M24 68h1M29 68h1M31 68h1M2 70h1M4 70h1M0 71h3M22 71h1M26 71h3M22 72h1M28 73h1M6 75h1M1 79h1M3 79h4M26 79h1M26 80h1M0 81h1M3 81h1M6 81h1M1 82h1M4 83h2M7 85h1M19 85h1M21 85h1M31 85h1M2 86h1M0 87h1M4 87h2M25 87h1M2 88h1M26 89h1M7 90h1M24 90h1M27 90h1M25 92h1M28 92h1M2 94h1M6 95h1M18 95h1" stroke="#415ff5"/>
<path d="M31 0h1M5 1h1M4 2h3M9 2h1M24 2h1M31 2h1M1 3h1M10 4h1M1 5h1M5 5h1M0 6h1M4 6h1M6 6h2M0 8h1M5 8h1M8 8h2M11 8h1M17 8h1M19 8h2M31 8h1M3 9h2M6 9h1M11 9h1M14 9h1M16 9h3M6 10h2M5 11h1M25 11h1M5 12h1M0 13h1M29 13h1M0 14h1M7 14h1M7 15h1M6 16h1M1 18h2M5 18h1M10 18h1M1 19h1M7 19h1M20 19h1M22 19h1M24 19h3M9 20h1M11 20h2M3 21h1M7 21h4M4 22h1M24 22h1M0 23h1M8 23h1M7 24h1M0 25h1M8 25h2M6 26h1M10 26h1M25 26h1M28 26h1M2 28h1M5 28h1M8 28h2M12 28h2M17 28h1M22 28h1M24 28h1M28 28h1M30 28h2M2 29h2M27 29h1M6 30h1M11 30h1M18 30h1M22 30h1M27 30h3M0 31h2M5 31h2M8 31h1M1 32h1M10 32h1M12 32h1M22 32h2M26 32h2M30 32h1M2 33h1M17 33h1M25 33h2M28 33h1M0 34h1M2 34h1M7 34h1M10 34h1M0 35h1M9 35h2M19 35h1M27 35h1M29 35h1M31 35h1M3 36h1M6 37h2M1 38h1M21 38h2M29 38h2M8 39h1M17 39h1M22 39h1M24 39h2M7 40h1M4 41h3M8 41h3M0 42h1M8 42h1M19 42h1M25 42h2M31 42h1M2 43h1M6 43h2M13 43h1M17 43h1M21 43h1M25 43h1M28 43h1M6 44h2M2 45h1M5 45h1M8 45h1M7 46h1M10 47h1M12 47h1M18 47h1M30 47h2M0 48h3M1 49h1M3 49h4M10 49h1M0 50h1M7 50h2M20 50h2M24 50h1M31 50h1M0 51h1M3 51h2M8 51h2M5 52h1M7 52h3M26 52h2M8 53h1M11 53h1M20 53h1M27 53h3M11 54h1M16 54h2M25 54h1M0 55h1M31 55h1M5 56h2M1 58h1M6 58h1M10 58h2M23 58h1M31 58h1M1 59h2M5 59h1M11 59h1M23 59h2M29 59h1M1 61h1M13 61h1M16 61h1M18 61h2M2 62h2M1 63h2M5 63h1M20 63h1M0 64h1M4 64h1M15 64h1M27 64h1M31 64h1M4 65h1M7 65h3M2 66h2M7 66h1M28 66h1M30 66h1M4 68h2M19 68h2M22 68h2M26 68h1M30 68h1M8 69h1M1 70h1M3 70h1M7 70h1M3 71h1M5 71h3M10 71h1M24 71h1M29 71h3M29 72h1M0 73h2M3 73h1M5 73h1M25 73h2M30 73h1M1 75h4M8 75h1M24 75h1M29 75h1M3 76h1M6 76h1M23 76h2M3 77h1M30 77h1M4 78h1M19 79h1M23 79h1M13 80h1M29 80h1M31 80h1M4 81h1M9 81h1M27 81h1M3 82h2M6 82h1M1 83h2M0 84h2M3 84h2M17 85h2M26 85h3M3 86h2M15 87h1M4 88h1M23 88h1M0 89h2M4 89h3M14 89h4M24 89h2M4 90h1M25 90h1M2 92h4M22 92h2M22 93h1M0 95h1M3 95h2M8 95h1M19 95h2" stroke="#347af6"/>
<path d="M6 0h3M26 0h2M29 0h1M3 1h1M6 1h1M8 1h1M29 2h1M2 3h2M5 3h1M7 3h1M10 3h1M25 3h1M2 4h3M7 4h2M21 4h2M3 5h1M7 5h1M10 5h1M12 5h1M26 5h1M3 6h1M1 7h1M3 7h2M7 7h1M9 7h1M31 7h1M10 8h1M12 8h1M0 9h1M12 9h1M21 9h1M28 9h1M5 10h1M29 10h1M2 11h1M6 11h1M26 11h1M1 12h1M22 12h1M29 12h1M8 13h1M26 13h1M1 14h4M6 14h1M9 14h1M13 14h1M24 14h1M31 14h1M5 15h1M8 17h1M12 17h1M22 17h1M24 17h2M27 17h1M4 18h1M3 19h2M6 19h1M1 20h1M6 20h1M10 20h1M0 21h1M25 21h1M5 22h1M23 22h1M4 23h1M6 24h1M8 24h1M13 24h1M21 24h1M30 24h2M1 25h1M4 25h1M12 25h2M25 25h1M20 26h1M27 26h1M5 27h1M15 27h1M17 27h1M21 27h3M10 28h1M19 28h3M8 29h1M26 29h1M29 29h3M7 30h1M12 30h2M24 30h1M27 31h2M0 32h1M11 32h1M18 32h1M29 32h1M31 32h1M0 33h1M3 33h2M9 33h1M15 33h1M18 33h1M20 33h2M29 33h1M8 34h1M27 34h1M29 34h1M1 35h1M16 35h1M21 35h1M1 36h1M24 36h3M4 37h1M2 38h1M7 38h1M11 38h2M20 38h1M19 39h2M27 39h2M4 40h1M8 40h2M2 41h1M21 41h1M29 41h1M9 42h2M17 42h2M21 42h1M23 42h2M28 42h1M9 43h1M14 43h1M29 43h1M1 44h1M8 44h1M27 44h1M1 45h1M1 47h1M3 47h1M7 47h1M11 47h1M14 47h2M23 47h1M26 47h2M29 47h1M5 48h1M11 48h1M9 49h1M11 49h1M21 49h1M4 50h1M19 50h1M23 50h1M26 50h3M2 51h1M6 51h1M10 51h2M14 51h1M18 51h1M22 51h3M26 51h1M0 52h3M4 52h1M10 52h1M24 52h1M31 52h1M12 53h2M18 53h1M22 53h1M7 54h1M18 54h1M24 54h1M26 54h2M29 54h1M31 54h1M9 55h2M25 55h1M30 55h1M29 56h1M0 57h1M2 57h3M21 57h1M4 58h2M8 58h2M12 58h1M27 58h4M0 59h1M4 59h1M6 59h2M15 59h1M18 59h1M27 59h2M30 59h1M2 60h2M25 60h2M0 61h1M3 61h1M6 61h3M11 61h1M17 61h1M8 62h1M26 62h1M0 63h1M4 63h1M10 63h1M22 63h2M26 63h1M31 63h1M1 64h2M6 64h1M8 64h1M10 64h1M18 64h1M20 64h1M23 64h3M6 65h1M21 65h1M1 66h1M5 66h1M10 66h1M14 66h2M18 66h1M27 66h1M29 66h1M0 67h2M3 67h1M5 67h1M24 67h1M31 67h1M1 68h1M10 68h1M25 68h1M28 68h1M9 70h1M4 71h1M12 71h1M17 71h1M21 71h1M25 71h1M1 72h1M3 72h1M5 72h1M31 72h1M2 73h1M6 73h1M20 73h1M24 73h1M29 73h1M1 74h1M5 74h1M18 74h1M20 74h1M5 75h1M20 75h1M22 75h2M27 75h1M0 76h3M4 76h2M25 76h1M1 77h1M7 77h1M3 78h1M8 79h1M11 79h1M17 79h1M21 79h1M24 79h2M29 79h1M8 80h1M10 80h1M18 80h1M27 80h2M30 80h1M23 81h1M26 81h1M0 82h1M2 82h1M7 82h1M9 82h1M28 82h1M0 83h1M23 83h1M13 84h1M16 84h1M19 84h2M22 84h1M26 84h1M6 85h1M8 85h1M15 85h1M0 86h1M21 86h2M30 86h2M6 87h2M22 87h2M22 88h1M24 88h1M31 88h1M2 89h1M7 89h1M13 89h1M19 89h3M6 90h1M8 90h1M21 90h1M23 90h1M28 90h2M1 92h1M6 92h1M5 93h1M7 93h1M21 93h1M0 94h2M5 94h1M26 94h1M30 94h1M5 95h1M7 95h1M11 95h1M17 95h1M25 95h3" stroke="#2791ef"/>
<path d="M9 0h2M21 0h2M25 0h1M28 0h1M30 0h1M4 1h1M21 1h1M24 1h1M26 1h1M31 1h1M16 2h1M27 2h2M4 3h1M6 3h1M9 3h1M13 3h1M26 3h1M29 3h1M0 4h1M11 4h2M24 4h1M26 4h2M30 4h1M20 5h1M23 5h1M25 5h1M27 5h1M30 5h2M23 6h2M5 7h1M10 7h2M29 7h1M2 9h1M7 9h1M9 9h2M20 9h1M25 9h1M27 9h1M9 10h2M12 10h1M1 11h1M18 11h1M24 11h1M2 12h1M4 12h1M9 12h1M18 12h3M26 12h1M30 12h1M3 13h1M5 13h2M28 13h1M14 14h1M21 14h1M28 14h1M30 14h1M0 15h5M9 15h2M18 16h1M20 16h1M23 16h1M25 16h1M28 16h1M2 17h2M5 17h1M11 17h1M16 17h1M18 17h1M26 17h1M29 17h1M13 18h2M21 18h1M23 18h2M2 19h1M29 19h1M13 20h1M26 20h1M29 20h3M11 21h2M24 21h1M27 21h2M18 22h1M30 22h1M11 23h1M26 23h3M2 24h1M5 24h1M11 24h2M17 24h1M20 24h1M23 24h1M28 24h1M3 25h1M21 25h1M24 25h1M27 25h1M11 26h1M15 26h1M22 26h1M29 26h1M0 27h1M2 27h2M6 27h1M18 27h3M30 27h2M15 28h1M11 29h1M19 29h3M24 29h1M0 30h1M4 30h1M15 30h1M26 30h1M12 31h2M29 31h1M4 32h1M13 32h1M15 32h1M21 32h1M12 33h1M22 33h1M9 34h1M11 34h1M30 34h1M2 36h1M4 36h2M10 36h1M12 36h2M30 36h2M1 37h1M29 37h3M3 38h1M16 38h1M19 38h1M24 38h1M26 38h1M31 38h1M11 39h1M10 40h1M29 40h1M31 40h1M25 41h1M27 41h1M31 41h1M14 42h1M16 42h1M3 43h1M22 43h2M31 43h1M25 44h2M21 45h1M23 45h1M25 45h1M0 46h1M4 46h1M6 46h1M8 46h2M28 46h1M30 46h1M2 47h1M4 47h1M8 47h1M13 47h1M16 47h1M21 47h2M20 48h1M23 48h1M25 48h1M30 48h1M0 49h1M12 49h1M20 49h1M24 49h1M31 49h1M14 50h1M18 50h1M25 50h1M5 51h1M12 51h2M17 51h1M20 51h2M27 51h2M20 52h1M22 52h2M25 52h1M9 53h1M19 53h1M23 53h1M25 53h1M20 54h2M11 55h1M22 55h1M28 55h2M10 56h2M22 56h1M24 56h2M28 56h1M30 56h2M17 57h3M27 57h1M29 57h1M7 58h1M13 58h1M16 58h3M21 58h1M26 58h1M16 59h2M21 59h2M31 59h1M0 60h1M7 60h1M19 60h1M22 60h1M24 60h1M9 61h1M14 61h2M21 61h2M26 61h2M10 62h1M27 62h1M31 62h1M17 63h1M19 63h1M25 63h1M28 63h1M30 63h1M5 64h1M21 64h1M28 64h1M0 65h1M11 65h1M13 65h1M22 65h2M27 65h1M29 65h1M31 65h1M6 66h1M8 66h1M13 66h1M23 66h1M26 66h1M31 66h1M18 67h1M0 68h1M8 68h1M14 68h1M16 68h1M9 69h1M20 69h2M23 69h2M28 69h1M30 69h2M0 70h1M10 70h2M14 71h3M0 72h1M8 72h1M21 72h1M23 72h2M26 72h1M9 73h1M12 73h1M19 73h1M23 73h1M2 74h1M10 74h1M16 74h1M24 74h1M30 74h2M0 75h1M7 75h1M11 75h2M28 75h1M31 75h1M7 76h1M9 76h1M16 76h2M19 76h1M22 76h1M28 76h1M30 76h1M5 77h1M8 77h1M18 77h1M20 77h1M0 78h2M7 79h1M20 79h1M27 79h1M16 80h1M8 81h1M10 81h1M18 81h1M29 81h1M31 81h1M8 82h1M18 82h1M20 82h2M26 82h2M6 83h1M25 83h1M30 83h2M7 84h1M9 84h1M21 84h1M23 84h1M25 84h1M30 84h1M24 85h1M8 86h1M16 86h2M23 86h1M25 86h1M28 86h1M9 87h1M11 87h1M14 87h1M18 87h1M21 87h1M1 88h1M19 88h1M21 88h1M10 89h1M22 89h1M31 89h1M10 90h1M19 90h1M3 91h2M26 91h1M8 92h1M21 92h1M26 92h1M29 92h2M0 93h1M4 93h1M6 93h1M3 94h2M7 94h1M22 94h1M25 94h1M28 94h1M2 95h1M14 95h3M21 95h3" stroke="#1bb7c6"/>
<path d="M13 0h2M9 1h1M19 1h2M22 1h2M28 1h3M15 2h1M17 2h1M21 2h1M25 2h2M11 3h1M16 3h1M24 3h1M31 3h1M13 4h1M20 4h1M11 5h1M24 5h1M29 5h1M20 6h1M8 7h1M21 7h1M22 9h1M11 10h1M14 10h1M16 10h2M20 10h1M22 10h3M26 10h1M9 11h1M27 11h2M31 11h1M7 12h1M14 12h1M7 13h1M10 13h1M20 13h2M25 13h1M31 13h1M22 14h2M25 14h2M29 14h1M23 15h1M8 16h1M22 16h1M31 16h1M1 17h1M6 17h1M10 17h1M13 17h1M20 17h1M30 17h1M30 18h1M11 19h2M15 19h1M19 19h1M28 19h1M19 20h1M19 21h2M22 21h1M29 21h2M10 22h1M21 22h1M28 22h1M10 23h1M17 23h2M29 23h1M0 24h2M10 24h1M26 24h1M29 25h1M16 26h1M19 26h1M23 26h1M1 27h1M7 27h2M11 27h2M24 27h1M29 27h1M16 28h1M13 29h1M1 30h1M14 30h1M10 31h1M14 31h1M24 31h3M16 32h1M20 32h1M13 33h2M19 33h1M31 33h1M12 34h2M23 34h1M28 34h1M12 35h1M15 35h1M22 35h3M8 36h2M18 36h1M20 36h2M27 36h3M14 38h2M17 38h1M23 38h1M13 39h1M29 39h1M22 40h1M24 40h1M14 41h1M20 41h1M22 41h3M6 42h1M11 42h3M15 42h1M29 44h1M0 45h1M10 45h1M19 45h1M24 45h1M29 45h2M1 46h1M10 46h1M27 46h1M31 46h1M20 47h1M13 48h1M29 48h1M16 49h2M19 49h1M15 50h3M22 50h1M29 52h1M15 53h1M22 54h1M27 55h1M8 56h1M14 56h1M19 56h1M7 57h1M15 57h1M20 57h1M28 57h1M14 58h1M19 58h2M14 59h1M19 59h1M1 60h1M6 60h1M21 60h1M23 60h1M28 60h2M31 60h1M25 61h1M30 61h1M11 62h2M23 62h1M28 62h1M12 63h1M15 63h1M21 63h1M12 64h2M12 65h1M14 65h1M18 65h3M26 65h1M11 66h1M16 66h1M24 66h2M7 67h1M15 67h1M17 67h1M21 67h3M26 67h1M28 67h1M30 67h1M2 68h1M17 68h1M19 69h1M22 69h1M25 69h1M27 70h2M30 70h1M19 72h2M25 72h1M11 73h1M13 73h1M8 74h2M12 74h1M17 74h1M23 74h1M27 74h2M13 75h1M16 75h4M8 76h1M11 76h1M14 76h1M21 76h1M0 77h1M9 77h1M15 77h1M17 77h1M22 77h1M27 77h3M7 78h1M9 78h1M20 78h1M9 79h1M12 79h1M16 79h1M22 79h1M14 80h1M19 80h1M12 81h1M21 81h1M25 81h1M19 82h1M25 82h1M29 82h1M31 82h1M22 83h1M26 83h1M8 84h1M11 84h1M27 84h1M29 84h1M12 85h2M10 86h1M15 86h1M19 86h2M10 87h1M20 87h1M24 87h1M27 87h1M29 87h1M31 87h1M7 88h1M16 88h3M26 88h1M12 89h1M30 89h1M11 90h1M14 90h1M18 90h1M20 90h1M26 90h1M0 91h1M5 91h2M21 91h1M10 92h1M19 92h1M1 93h3M9 93h1M11 93h1M26 93h3M30 93h2M8 94h1M21 94h1M29 94h1" stroke="#2ec2a7"/>
<path d="M20 0h1M18 1h1M27 1h1M19 2h2M20 3h2M23 3h1M5 4h2M15 4h1M18 4h1M29 4h1M21 5h2M8 6h1M26 6h1M29 6h1M12 7h1M23 7h1M13 10h1M8 11h1M11 11h1M10 12h2M17 12h1M24 12h1M27 12h1M11 13h1M19 13h1M22 13h1M17 14h3M6 15h1M8 15h1M11 15h1M26 15h1M4 16h1M7 16h1M9 16h1M17 16h1M30 16h1M17 17h1M23 17h1M31 17h1M26 18h2M29 18h1M31 18h1M13 19h1M18 19h1M21 20h5M26 21h1M8 22h1M17 22h1M19 22h2M29 22h1M23 23h1M25 23h1M31 23h1M9 24h1M15 24h1M19 24h1M24 24h1M16 25h1M23 25h1M13 26h2M18 26h1M31 26h1M14 27h1M25 27h1M14 29h5M22 29h2M2 30h1M16 30h1M16 31h1M22 31h2M30 31h1M19 32h1M18 34h2M31 34h1M25 35h1M14 36h1M16 36h2M9 37h1M22 37h1M14 39h1M30 39h1M26 40h1M30 40h1M12 41h1M16 41h1M5 42h1M10 44h1M16 44h1M24 44h1M30 44h2M11 45h1M24 46h1M5 47h1M12 48h1M16 48h1M18 48h2M21 48h1M28 48h1M13 49h3M18 49h1M9 50h1M12 50h1M16 51h1M19 52h1M28 52h1M14 53h1M17 53h1M31 53h1M13 54h1M12 55h1M18 55h1M21 55h1M16 56h2M20 56h1M11 57h1M16 57h1M30 57h2M15 58h1M9 60h1M20 60h1M27 60h1M12 61h1M14 63h1M15 65h1M25 65h1M28 65h1M12 67h1M18 69h1M27 69h1M29 69h1M23 70h1M25 70h2M29 70h1M17 72h2M11 74h1M13 74h1M25 74h2M14 75h1M10 76h1M12 76h1M18 76h1M21 77h1M24 77h1M6 78h1M8 78h1M22 78h2M12 80h1M11 81h1M15 81h2M22 81h1M10 82h2M17 82h1M22 82h1M30 82h1M7 83h1M20 83h1M24 83h1M10 84h1M9 85h3M6 86h1M12 86h3M29 86h1M12 87h2M19 87h1M28 87h1M10 88h1M25 88h1M28 88h2M17 90h1M8 91h1M23 91h1M25 91h1M9 92h1M12 92h2M16 92h1M18 92h1M20 92h1M10 93h1M14 93h1M17 93h1M15 94h1M17 94h1M19 94h1M24 94h1" stroke="#54c87f"/>
<path d="M15 0h1M19 0h1M10 1h2M17 1h1M13 2h2M18 2h1M17 3h3M14 4h1M17 4h1M19 4h1M13 5h1M19 5h1M9 6h3M19 6h1M22 6h1M19 7h1M24 7h1M26 7h3M15 10h1M18 10h2M28 10h1M10 11h1M17 11h1M29 11h2M13 12h1M15 12h2M14 13h1M16 13h1M15 14h1M20 14h1M14 15h1M16 15h1M24 15h2M27 15h1M24 16h1M19 17h1M21 17h1M25 18h1M28 18h1M14 19h1M14 20h1M18 20h1M20 20h1M13 21h1M9 22h1M11 22h1M13 22h1M16 23h1M19 23h1M14 25h2M17 25h1M19 25h2M9 27h1M27 27h2M12 29h1M25 29h1M11 31h1M15 31h1M18 31h2M21 31h1M31 31h1M20 34h3M11 36h1M15 36h1M21 37h1M23 37h2M27 37h1M11 40h2M20 40h2M23 40h1M25 40h1M17 41h1M9 44h1M17 44h1M20 44h1M22 44h2M27 45h1M18 46h5M25 46h2M14 48h1M26 48h2M13 50h1M11 52h2M17 52h2M16 53h1M24 53h1M15 55h1M19 55h2M12 56h2M18 56h1M14 57h1M30 60h1M18 62h2M21 62h2M13 63h1M16 63h1M11 64h1M8 67h1M16 67h1M10 69h1M17 69h1M26 69h1M12 70h1M19 70h1M4 72h1M11 72h1M14 72h1M16 72h1M14 73h1M17 73h1M15 74h1M13 76h1M15 76h1M19 77h1M23 77h1M25 77h2M10 78h1M18 78h1M21 78h1M24 78h1M27 78h1M13 79h3M17 81h1M19 81h2M16 82h1M23 82h2M8 83h1M15 83h1M18 83h2M21 83h1M26 86h2M30 88h1M12 90h1M15 90h1M7 91h1M9 91h1M22 91h1M24 91h1M29 91h1M14 92h1M17 92h1M12 93h1M15 93h2M18 93h2M9 94h1M20 94h1M12 95h2" stroke="#8ec750"/>
<path d="M17 0h2M16 1h1M25 1h1M13 6h1M18 6h1M25 6h1M27 6h2M30 6h2M20 7h1M22 7h1M25 7h1M21 10h1M27 10h1M12 12h1M12 13h2M17 13h2M16 14h1M19 15h1M22 15h1M31 15h1M14 16h1M21 16h1M28 17h1M15 18h1M19 18h2M17 19h1M21 21h1M31 21h1M16 22h1M20 23h3M25 24h1M18 25h1M12 26h1M17 26h1M26 27h1M17 31h1M20 31h1M15 34h2M13 35h2M22 36h1M19 37h1M25 37h1M28 37h1M13 40h2M16 40h2M27 40h2M15 41h1M18 41h1M18 44h2M21 44h1M18 45h1M26 45h1M28 45h1M15 48h1M17 48h1M11 50h1M14 52h2M13 55h1M15 56h1M10 57h1M12 57h1M15 62h1M17 62h1M20 62h1M17 65h1M9 67h2M14 67h1M11 69h1M13 69h2M22 70h1M9 72h1M15 73h1M14 74h1M15 75h1M10 77h1M13 77h2M16 77h1M29 78h1M31 78h1M13 81h2M13 82h1M16 83h2M28 84h1M11 86h1M8 88h1M15 88h1M27 88h1M13 90h1M15 91h1M18 91h2M31 91h1M11 92h1M31 92h1M13 93h1M29 93h1M16 94h1" stroke="#c0c639"/>
<path d="M16 0h1M14 1h2M22 3h1M16 5h1M18 5h1M13 7h1M15 7h1M18 7h1M16 11h1M15 13h1M12 15h1M17 15h1M20 15h2M28 15h3M10 16h1M15 16h1M16 18h3M16 19h1M15 20h1M16 21h2M15 22h1M12 23h2M15 23h1M30 23h1M14 34h1M17 34h1M10 37h1M17 37h1M20 37h1M26 37h1M15 40h1M18 40h2M13 41h1M12 45h1M14 45h1M10 50h1M13 52h1M16 52h1M17 55h1M15 60h1M14 62h1M16 62h1M16 65h1M11 67h1M13 67h1M15 69h2M24 70h1M12 72h1M15 72h1M16 73h1M17 78h1M19 78h1M26 78h1M28 78h1M14 82h2M13 83h1M9 88h1M13 88h1M16 91h2M20 91h1M27 91h2M30 91h1M15 92h1M10 94h1" stroke="#eac438"/>
<path d="M14 5h1M17 5h1M12 6h1M14 7h1M16 7h2M12 11h1M14 11h1M13 15h1M18 15h1M12 16h1M17 20h1M14 21h2M18 21h1M12 22h1M14 22h1M14 23h1M15 37h1M11 44h1M15 44h1M15 45h1M17 45h1M11 46h1M17 46h1M23 46h1M14 55h1M13 57h1M10 60h2M13 60h2M13 62h1M12 69h1M13 70h1M15 70h3M20 70h1M10 72h1M13 72h1M12 77h1M25 78h1M30 78h1M12 82h1M9 83h4M14 83h1M11 88h2M14 88h1M10 91h1M11 94h1M13 94h1" stroke="#fccb34"/>
<path d="M13 1h1M15 5h1M14 6h1M15 11h1M11 16h1M16 37h1M18 37h1M14 44h1M13 45h1M16 45h1M13 46h1M16 55h1M14 70h1M11 78h1M16 78h1M13 91h2M12 94h1" stroke="#f7db2b"/>
<path d="M12 1h1M15 6h1M17 6h1M13 11h1M15 15h1M13 16h1M11 37h4M12 46h1M15 46h2M12 60h1M18 70h1M21 70h1M11 77h1M11 91h2M14 94h1" stroke="#f6e923"/>
<path d="M16 6h1M16 20h1M12 44h2M14 46h1M12 78h4" stroke="#f8f519"/>
</g>
<path d="M575 1282V1719" stroke="#000" stroke-width="4.2"/>
<path d="M573 1717.5H895.5" stroke="#000" stroke-width="4.2"/>
<path d="M575 1717.5v13M682.5 1717.5v13M787 1717.5v13M893.5 1717.5v13" stroke="#000" stroke-width="4.2"/>
<text x="682.5" y="1777" text-anchor="middle">0</text>
<text x="893.5" y="1777" text-anchor="middle">1</text>
<path d="M1027 1282V1719" stroke="#000" stroke-width="4.2"/>
<path d="M1025 1717.5H1347.5" stroke="#000" stroke-width="4.2"/>
<path d="M1027 1717.5v13M1134.5 1717.5v13M1239 1717.5v13M1345.5 1717.5v13" stroke="#000" stroke-width="4.2"/>
<text x="1134.5" y="1777" text-anchor="middle">0</text>
<text x="1345.5" y="1777" text-anchor="middle">1</text>
<linearGradient id="g392" x1="0" y1="1" x2="0" y2="0"><stop offset="0.000" stop-color="#3e26a8"/><stop offset="0.042" stop-color="#4135c2"/><stop offset="0.083" stop-color="#4444db"/><stop offset="0.125" stop-color="#4752f4"/><stop offset="0.167" stop-color="#3f64f5"/><stop offset="0.208" stop-color="#3675f6"/><stop offset="0.250" stop-color="#2e87f7"/><stop offset="0.292" stop-color="#2495ec"/><stop offset="0.333" stop-color="#1ba3e1"/><stop offset="0.375" stop-color="#12b1d6"/><stop offset="0.417" stop-color="#1eb9c1"/><stop offset="0.458" stop-color="#2bc0ac"/><stop offset="0.500" stop-color="#37c897"/><stop offset="0.542" stop-color="#5ec878"/><stop offset="0.583" stop-color="#85c758"/><stop offset="0.625" stop-color="#abc739"/><stop offset="0.667" stop-color="#c7c639"/><stop offset="0.708" stop-color="#e3c438"/><stop offset="0.750" stop-color="#fec338"/><stop offset="0.792" stop-color="#fbce32"/><stop offset="0.833" stop-color="#f8d82d"/><stop offset="0.875" stop-color="#f5e327"/><stop offset="0.917" stop-color="#f6eb21"/><stop offset="0.958" stop-color="#f8f31b"/><stop offset="1.000" stop-color="#f9fb15"/></linearGradient>
<rect x="920" y="1372" width="28" height="175" fill="url(#g392)"/>
<linearGradient id="g394" x1="0" y1="1" x2="0" y2="0"><stop offset="0.000" stop-color="#3e26a8"/><stop offset="0.042" stop-color="#4135c2"/><stop offset="0.083" stop-color="#4444db"/><stop offset="0.125" stop-color="#4752f4"/><stop offset="0.167" stop-color="#3f64f5"/><stop offset="0.208" stop-color="#3675f6"/><stop offset="0.250" stop-color="#2e87f7"/><stop offset="0.292" stop-color="#2495ec"/><stop offset="0.333" stop-color="#1ba3e1"/><stop offset="0.375" stop-color="#12b1d6"/><stop offset="0.417" stop-color="#1eb9c1"/><stop offset="0.458" stop-color="#2bc0ac"/><stop offset="0.500" stop-color="#37c897"/><stop offset="0.542" stop-color="#5ec878"/><stop offset="0.583" stop-color="#85c758"/><stop offset="0.625" stop-color="#abc739"/><stop offset="0.667" stop-color="#c7c639"/><stop offset="0.708" stop-color="#e3c438"/><stop offset="0.750" stop-color="#fec338"/><stop offset="0.792" stop-color="#fbce32"/><stop offset="0.833" stop-color="#f8d82d"/><stop offset="0.875" stop-color="#f5e327"/><stop offset="0.917" stop-color="#f6eb21"/><stop offset="0.958" stop-color="#f8f31b"/><stop offset="1.000" stop-color="#f9fb15"/></linearGradient>
<rect x="1371" y="1372" width="28" height="175" fill="url(#g394)"/>
<text x="934" y="1362" text-anchor="middle">73</text>
<text x="934" y="1589" text-anchor="middle">-9</text>
<text x="1385" y="1362" text-anchor="middle">93</text>
<text x="1385" y="1589" text-anchor="middle">-10</text>
<text text-anchor="middle" transform="translate(969,1460) rotate(90)">&#916;F/F (%)</text>
<text text-anchor="middle" transform="translate(551,1499) rotate(-90)">Trial</text>
<text x="963" y="1823" text-anchor="middle">Time - press-aligned (s)</text>
<text x="1450" y="1249" font-weight="bold" font-size="66">f</text>
<path d="M1562 1262.9V1721.1" stroke="#000" stroke-width="4.2"/>
<path d="M1552 1719H1969.1" stroke="#000" stroke-width="4.2"/>
<path d="M1562 1265h-12M1562 1355.8h-12M1562 1446.6h-12M1562 1537.4h-12M1562 1628.2h-12" stroke="#000" stroke-width="4.2"/>
<path d="M1562 1719v12M1697 1719v12M1832 1719v12M1967 1719v12" stroke="#000" stroke-width="4.2"/>
<text x="1534" y="1276" text-anchor="end">1</text>
<text x="1540" y="1731.5" text-anchor="end">0</text>
<text x="1562" y="1777" text-anchor="middle">0</text>
<text x="1697" y="1777" text-anchor="middle">50</text>
<text x="1832" y="1777" text-anchor="middle">100</text>
<text x="1967" y="1777" text-anchor="middle">150</text>
<text x="1769" y="1825" text-anchor="middle">Distance b/w axons (um)</text>
<text text-anchor="middle" transform="translate(1496.5,1495) rotate(-90)">Trial by trial corr.</text>
<text x="1875" y="1640" fill="#0a9ad8">LC:dmPFC</text>
<text x="1875" y="1697" fill="#b41e8d">LC:MC</text>
<g fill="#0a9ad8"><circle cx="1603.3" cy="1326.7" r="10.3"/><circle cx="1580" cy="1377.3" r="10.3"/><circle cx="1595.3" cy="1397.3" r="10.3"/><circle cx="1598.7" cy="1433.3" r="10.3"/><circle cx="1597.3" cy="1443.3" r="10.3"/><circle cx="1625.3" cy="1358.7" r="10.3"/><circle cx="1634" cy="1428.7" r="10.3"/><circle cx="1678.7" cy="1458.7" r="10.3"/><circle cx="1644" cy="1538.7" r="10.3"/><circle cx="1626.7" cy="1625.3" r="10.3"/><circle cx="1594" cy="1704" r="10.3"/><circle cx="1692" cy="1706.7" r="10.3"/><circle cx="1701.3" cy="1372.7" r="10.3"/><circle cx="1703.3" cy="1380" r="10.3"/><circle cx="1700.7" cy="1428" r="10.3"/><circle cx="1708.7" cy="1308.7" r="10.3"/><circle cx="1718.7" cy="1320" r="10.3"/><circle cx="1728.7" cy="1313.3" r="10.3"/><circle cx="1725.3" cy="1322" r="10.3"/><circle cx="1740" cy="1404.7" r="10.3"/><circle cx="1737.3" cy="1484" r="10.3"/><circle cx="1762" cy="1378.7" r="10.3"/><circle cx="1770" cy="1457.3" r="10.3"/><circle cx="1792" cy="1428" r="10.3"/><circle cx="1824" cy="1360" r="10.3"/><circle cx="1881.3" cy="1348" r="10.3"/><circle cx="1874" cy="1434.7" r="10.3"/><circle cx="1882" cy="1483.3" r="10.3"/><circle cx="1910" cy="1469.3" r="10.3"/><circle cx="1859.3" cy="1548" r="10.3"/></g>
<g fill="#b41e8d"><circle cx="1720" cy="1303.3" r="10.3"/><circle cx="1775.3" cy="1312" r="10.3"/><circle cx="1733.3" cy="1335.3" r="10.3"/><circle cx="1768" cy="1334.7" r="10.3"/><circle cx="1788" cy="1331.3" r="10.3"/><circle cx="1811.3" cy="1330" r="10.3"/><circle cx="1956" cy="1306" r="10.3"/><circle cx="1750" cy="1351.3" r="10.3"/><circle cx="1698" cy="1354.7" r="10.3"/><circle cx="1622.7" cy="1355.3" r="10.3"/><circle cx="1628" cy="1368.7" r="10.3"/><circle cx="1615.3" cy="1372" r="10.3"/><circle cx="1669.3" cy="1362.7" r="10.3"/><circle cx="1654" cy="1372" r="10.3"/><circle cx="1813.3" cy="1361.3" r="10.3"/><circle cx="1838" cy="1368.7" r="10.3"/><circle cx="1896.7" cy="1366.7" r="10.3"/><circle cx="1874" cy="1380" r="10.3"/><circle cx="1860" cy="1383.3" r="10.3"/><circle cx="1845.3" cy="1384.7" r="10.3"/><circle cx="1835.3" cy="1388" r="10.3"/><circle cx="1858.7" cy="1393.3" r="10.3"/><circle cx="1726.7" cy="1378" r="10.3"/><circle cx="1725.3" cy="1395.3" r="10.3"/><circle cx="1779.3" cy="1391.3" r="10.3"/><circle cx="1798.7" cy="1406.7" r="10.3"/><circle cx="1834" cy="1408.7" r="10.3"/><circle cx="1849.3" cy="1419.3" r="10.3"/><circle cx="1900.7" cy="1418" r="10.3"/><circle cx="1638" cy="1411.3" r="10.3"/><circle cx="1674.7" cy="1408.7" r="10.3"/><circle cx="1756" cy="1424.7" r="10.3"/><circle cx="1764" cy="1424.7" r="10.3"/><circle cx="1614" cy="1448.7" r="10.3"/><circle cx="1765.3" cy="1456" r="10.3"/><circle cx="1648" cy="1475.3" r="10.3"/><circle cx="1728" cy="1512.7" r="10.3"/><circle cx="1780.7" cy="1517.3" r="10.3"/><circle cx="1931.3" cy="1562" r="10.3"/><circle cx="1685.3" cy="1618" r="10.3"/><circle cx="1838" cy="1684" r="10.3"/></g>
<text x="2176" y="1249" font-weight="bold" font-size="66">g</text>
<rect x="2215.4" y="1285" width="374.4" height="374.2" fill="#525252"/>
<g clip-path="url(#cpg)">
<circle cx="2568.4" cy="1570" r="12.3" fill="#fff" fill-opacity="0.25" filter="url(#bl8)"/>
<circle cx="2412.6" cy="1482.6" r="18.4" fill="#fff" fill-opacity="0.12" filter="url(#bl8)"/>
<circle cx="2388.9" cy="1347.9" r="24.6" fill="#fff" fill-opacity="0.08" filter="url(#bl8)"/>
<circle cx="2554.3" cy="1383.4" r="18.4" fill="#fff" fill-opacity="0.12" filter="url(#bl8)"/>
<circle cx="2282.7" cy="1567.6" r="18.4" fill="#fff" fill-opacity="0.2" filter="url(#bl8)"/>
<circle cx="2535.4" cy="1378.6" r="9.2" fill="#fff" fill-opacity="0.15" filter="url(#bl8)"/>
<circle cx="2270.9" cy="1340.9" r="4.6" fill="#fff" fill-opacity="0.3" filter="url(#bl8)"/>
<circle cx="2455.1" cy="1371.6" r="4.6" fill="#fff" fill-opacity="0.3" filter="url(#bl8)"/>
<path d="M2215.4 1586.5C2224.6 1589.6 2245.9 1600.1 2270.9 1605.4C2295.9 1610.7 2337.8 1617 2365.3 1618.4C2392.9 1619.7 2412.6 1616.6 2436.2 1613.6C2459.8 1610.7 2495.2 1602.8 2507 1600.7" fill="none" stroke="#fff" stroke-width="5" stroke-linecap="round" stroke-linejoin="round" stroke-opacity="0.3" filter="url(#bl1)"/>
<path d="M2507 1600.7C2514.9 1600.5 2540.5 1597.5 2554.3 1599.5C2568.1 1601.4 2583.8 1610.3 2589.7 1612.5" fill="none" stroke="#fff" stroke-width="3" stroke-linecap="round" stroke-linejoin="round" stroke-opacity="0.6" filter="url(#bl1)"/>
<path d="M2507 1600.7C2508.6 1603.4 2511.8 1611.7 2516.5 1617.2C2521.2 1622.7 2529.1 1628.6 2535.4 1633.7C2541.7 1638.8 2548.4 1643.2 2554.3 1647.9C2560.2 1652.6 2568.1 1659.7 2570.8 1662.1" fill="none" stroke="#fff" stroke-width="3" stroke-linecap="round" stroke-linejoin="round" stroke-opacity="0.75" filter="url(#bl1)"/>
<path d="M2471.6 1286.5C2474.8 1288.1 2480.7 1294.8 2490.5 1296C2500.3 1297.2 2516.1 1294.6 2530.7 1293.6C2545.2 1292.6 2570 1290.7 2577.9 1290.1" fill="none" stroke="#fff" stroke-width="4" stroke-linecap="round" stroke-linejoin="round" stroke-opacity="0.5" filter="url(#bl1)"/>
<path d="M2577.9 1290.1C2577.1 1296.6 2574.7 1312.7 2573.2 1329C2571.6 1345.4 2567.3 1362.5 2568.4 1388.1C2569.6 1413.7 2578.7 1455 2580.3 1482.6C2581.8 1510.1 2578.3 1541.6 2577.9 1553.4" fill="none" stroke="#fff" stroke-width="3" stroke-linecap="round" stroke-linejoin="round" stroke-opacity="0.12" filter="url(#bl1)"/>
<path d="M2215.4 1312.5C2217.5 1314.5 2223.4 1320.4 2228.3 1324.3C2233.3 1328.3 2242.1 1334.2 2244.9 1336.1" fill="none" stroke="#fff" stroke-width="3" stroke-linecap="round" stroke-linejoin="round" stroke-opacity="0.3" filter="url(#bl1)"/>
<path d="M2270.9 1402.3C2274.8 1408.6 2285.8 1428.6 2294.5 1440.1C2303.1 1451.5 2318.1 1465.6 2322.8 1470.8" fill="none" stroke="#fff" stroke-width="3" stroke-linecap="round" stroke-linejoin="round" stroke-opacity="0.1" filter="url(#bl1)"/>
<path d="M2455.1 1572.3C2453.9 1573.9 2451.1 1579.4 2448 1581.8C2444.8 1584.1 2438.2 1585.7 2436.2 1586.5" fill="none" stroke="#fff" stroke-width="3" stroke-linecap="round" stroke-linejoin="round" stroke-opacity="0.2" filter="url(#bl1)"/>
<ellipse cx="2475.2" cy="1318.4" rx="8.3" ry="8.3" fill="#fff" filter="url(#bl3)"/>
<ellipse cx="2508.2" cy="1349.1" rx="5.7" ry="5.7" fill="#fff" filter="url(#bl3)"/>
<ellipse cx="2551.9" cy="1352.7" rx="7.3" ry="5.2" fill="#fff" filter="url(#bl3)"/>
<ellipse cx="2497.6" cy="1367.3" rx="3.9" ry="4.7" fill="#fff" filter="url(#bl3)"/>
<ellipse cx="2479.9" cy="1394" rx="5.7" ry="9.4" fill="#fff" filter="url(#bl3)"/>
<ellipse cx="2378.8" cy="1513.3" rx="5.7" ry="11.7" fill="#fff" filter="url(#bl3)"/>
<ellipse cx="2365.3" cy="1549.9" rx="6.2" ry="5.7" fill="#fff" filter="url(#bl3)"/>
<ellipse cx="2262.6" cy="1559.3" rx="7.8" ry="6.8" fill="#fff" filter="url(#bl3)"/>
<ellipse cx="2305.1" cy="1572.3" rx="6.2" ry="4.2" fill="#fff" filter="url(#bl3)"/>
<ellipse cx="2321.6" cy="1555.8" rx="2.9" ry="2.9" fill="#fff" filter="url(#bl3)"/>
<ellipse cx="2273.2" cy="1484.9" rx="3.1" ry="4.2" fill="#fff" filter="url(#bl3)"/>
<ellipse cx="2319.3" cy="1613.6" rx="3.4" ry="3.1" fill="#fff" filter="url(#bl3)"/>
<ellipse cx="2554.3" cy="1629" rx="3.6" ry="3.1" fill="#fff" filter="url(#bl3)"/>
<ellipse cx="2587.3" cy="1513.3" rx="2.1" ry="4.7" fill="#fff" filter="url(#bl3)"/>
</g>
<path d="M2244.9 1333.8C2245.9 1336.1 2248 1344 2250.8 1347.9C2253.5 1351.9 2256.9 1354.6 2261.4 1357.4C2265.9 1360.1 2272.4 1360.9 2277.9 1364.5C2283.5 1368 2289.7 1374.7 2294.5 1378.6C2299.2 1382.6 2303.1 1384.2 2306.3 1388.1C2309.4 1392 2310.6 1398.7 2313.4 1402.3C2316.1 1405.8 2318.5 1407 2322.8 1409.3C2327.1 1411.7 2334.6 1412.5 2339.3 1416.4C2344.1 1420.4 2346 1428.2 2351.2 1433C2356.3 1437.7 2364.5 1439.7 2370.1 1444.8C2375.6 1449.9 2381.3 1459.3 2384.2 1463.7C2387.2 1468 2387.2 1469.6 2387.8 1470.8" fill="none" stroke="#a8c436" stroke-width="21" stroke-linecap="round" stroke-linejoin="round"/>
<path d="M2244.9 1333.8C2245.9 1336.1 2248 1344 2250.8 1347.9C2253.5 1351.9 2256.9 1354.6 2261.4 1357.4C2265.9 1360.1 2272.4 1360.9 2277.9 1364.5C2283.5 1368 2289.7 1374.7 2294.5 1378.6C2299.2 1382.6 2303.1 1384.2 2306.3 1388.1C2309.4 1392 2310.6 1398.7 2313.4 1402.3C2316.1 1405.8 2318.5 1407 2322.8 1409.3C2327.1 1411.7 2334.6 1412.5 2339.3 1416.4C2344.1 1420.4 2346 1428.2 2351.2 1433C2356.3 1437.7 2364.5 1439.7 2370.1 1444.8C2375.6 1449.9 2381.3 1459.3 2384.2 1463.7C2387.2 1468 2387.2 1469.6 2387.8 1470.8" fill="none" stroke="#565656" stroke-width="13.5" stroke-linecap="round" stroke-linejoin="round"/>
<path d="M2244.9 1333.8C2245.9 1336.1 2248 1344 2250.8 1347.9C2253.5 1351.9 2256.9 1354.6 2261.4 1357.4C2265.9 1360.1 2272.4 1360.9 2277.9 1364.5C2283.5 1368 2289.7 1374.7 2294.5 1378.6C2299.2 1382.6 2303.1 1384.2 2306.3 1388.1C2309.4 1392 2310.6 1398.7 2313.4 1402.3C2316.1 1405.8 2318.5 1407 2322.8 1409.3C2327.1 1411.7 2334.6 1412.5 2339.3 1416.4C2344.1 1420.4 2346 1428.2 2351.2 1433C2356.3 1437.7 2364.5 1439.7 2370.1 1444.8C2375.6 1449.9 2381.3 1459.3 2384.2 1463.7C2387.2 1468 2387.2 1469.6 2387.8 1470.8" fill="none" stroke="#fff" stroke-width="4" stroke-linecap="round" stroke-linejoin="round" stroke-opacity="0.6" filter="url(#bl3)"/>
<path d="M2391.3 1475.5C2392.1 1478.2 2394.1 1487.7 2396 1492C2398 1496.3 2400.4 1499.1 2403.1 1501.5C2405.9 1503.8 2407.4 1504.6 2412.6 1506.2C2417.7 1507.8 2429.9 1507.8 2433.8 1510.9C2437.8 1514.1 2433 1520.7 2436.2 1525.1C2439.3 1529.4 2447.6 1532.6 2452.7 1536.9C2457.8 1541.2 2463 1546.3 2466.9 1551.1C2470.8 1555.8 2472.4 1560.9 2476.3 1565.2C2480.3 1569.6 2485.8 1571.9 2490.5 1577C2495.2 1582.2 2502.3 1592.8 2504.7 1595.9" fill="none" stroke="#2fbccb" stroke-width="21" stroke-linecap="round" stroke-linejoin="round"/>
<path d="M2391.3 1475.5C2392.1 1478.2 2394.1 1487.7 2396 1492C2398 1496.3 2400.4 1499.1 2403.1 1501.5C2405.9 1503.8 2407.4 1504.6 2412.6 1506.2C2417.7 1507.8 2429.9 1507.8 2433.8 1510.9C2437.8 1514.1 2433 1520.7 2436.2 1525.1C2439.3 1529.4 2447.6 1532.6 2452.7 1536.9C2457.8 1541.2 2463 1546.3 2466.9 1551.1C2470.8 1555.8 2472.4 1560.9 2476.3 1565.2C2480.3 1569.6 2485.8 1571.9 2490.5 1577C2495.2 1582.2 2502.3 1592.8 2504.7 1595.9" fill="none" stroke="#565656" stroke-width="13.5" stroke-linecap="round" stroke-linejoin="round"/>
<path d="M2391.3 1475.5C2392.1 1478.2 2394.1 1487.7 2396 1492C2398 1496.3 2400.4 1499.1 2403.1 1501.5C2405.9 1503.8 2407.4 1504.6 2412.6 1506.2C2417.7 1507.8 2429.9 1507.8 2433.8 1510.9C2437.8 1514.1 2433 1520.7 2436.2 1525.1C2439.3 1529.4 2447.6 1532.6 2452.7 1536.9C2457.8 1541.2 2463 1546.3 2466.9 1551.1C2470.8 1555.8 2472.4 1560.9 2476.3 1565.2C2480.3 1569.6 2485.8 1571.9 2490.5 1577C2495.2 1582.2 2502.3 1592.8 2504.7 1595.9" fill="none" stroke="#fff" stroke-width="4" stroke-linecap="round" stroke-linejoin="round" stroke-opacity="0.6" filter="url(#bl3)"/>
<rect x="2233.5" y="1631" width="169.5" height="8.2" fill="#fff"/>
<text x="2337" y="1385.7" fill="#a8c436" font-size="47">1</text>
<text x="2463" y="1513" fill="#2fbccb" font-size="47">2</text>
<text x="2670" y="1247" font-weight="bold" font-size="66">h</text>
<text x="2934" y="1296" text-anchor="middle">Hit</text>
<text x="3406" y="1296" text-anchor="middle">False alarm</text>
<path d="M2808.3 1629.2L2818.4 1623.1L2826.4 1613L2834.5 1617L2842.6 1631.2L2848.6 1625.1L2853.5 1643.3L2858.7 1617L2866.8 1619.1L2874.9 1625.1L2883 1619.1L2889 1586.8L2897.1 1580.7L2905.2 1544.4L2911.2 1500L2919.3 1445.4L2927.4 1439.4L2933.4 1429.3L2939.5 1459.6L2945.5 1449.5L2953.6 1479.8L2959.7 1471.7L2965.7 1516.1L2973.8 1548.4L2981.9 1572.6L2990 1596.9L2996 1645.3L3002.1 1633.2L3008.1 1649.3L3014.2 1649.3L3020.2 1665.5L3026.3 1661.5L3032.4 1667.5L3038.4 1679.6L3042.4 1669.5L3048.5 1679.6L3056.6 1673.6L3064.7 1669.5L3070.7 1651.4L3078.8 1649.3L3086.9 1649.3L3092.9 1645.3L3099 1621.1L3107 1619.1L3115.1 1623.1L3123.2 1621.1L3129.3 1609L3135.3 1623.1L3143.4 1625.1L3149.4 1617L3155.5 1625.1L3163.6 1631.2L3169.6 1617L3175.7 1619.1" fill="none" stroke="#6d6e70" stroke-width="7" stroke-linejoin="round"/>
<path d="M2806.2 1619.1L2811.5 1643.3L2817.1 1633.2L2822.4 1625.1L2827.6 1629.2L2832.5 1615L2838.5 1625.1L2844.6 1621.1L2850.7 1633.2L2856.7 1621.1L2864.8 1623.1L2872.9 1623.1L2880.9 1629.2L2885.8 1631.2L2891 1596.9L2896.3 1594.8L2901.1 1564.6L2906 1544.4L2911.2 1479.8L2917.3 1427.3L2922.1 1441.4L2927.4 1439.4L2932.6 1427.3L2937.5 1465.6L2942.7 1467.7L2948 1487.8L2953.6 1495.9L2958.5 1479.8L2963.7 1516.1L2969 1554.5L2973.8 1564.6L2979.9 1584.7L2985.1 1590.8L2990 1609L2996 1623.1L3001.3 1619.1L3006.9 1637.2L3012.2 1638L3017.4 1639.3L3022.3 1659.4L3027.1 1655.4L3032.4 1641.3L3038.4 1675.6L3043.3 1649.3L3048.5 1665.5L3053.8 1655.4L3058.6 1663.5L3064.7 1653.4L3069.9 1635.2L3074.7 1641.3L3080.8 1637.2L3086.9 1633.2L3092.9 1635.2L3099 1619.1L3105 1625.1L3111.1 1633.2L3117.1 1615L3123.2 1617L3128 1594.8L3133.3 1602.9L3139.3 1619.1L3144.2 1627.1L3149.4 1611L3155.5 1631.2L3161.6 1633.2L3167.6 1613L3174.9 1625.1" fill="none" stroke="#2fbccb" stroke-width="4.2" stroke-linejoin="round"/>
<path d="M2806.2 1604.9L2811.5 1609L2817.1 1592.8L2822.4 1600.9L2827.6 1592L2832.5 1607L2837.3 1602.9L2842.6 1617L2847.8 1611L2852.7 1633.2L2858.7 1596.9L2864 1617L2869.6 1621.1L2874.9 1613L2880.1 1590.8L2885 1602.9L2891 1572.6L2895.1 1548.4L2900.3 1516.1L2906 1500L2911.2 1451.5L2916.5 1419.2L2921.3 1413.1L2927.4 1395.8L2932.6 1401L2937.5 1427.3L2942.7 1418.4L2947.6 1457.6L2952.8 1435.4L2957.7 1443.4L2963.7 1459.6L2969.8 1479.8L2975 1522.2L2979.9 1528.2L2985.1 1556.5L2990 1580.7L2996 1613L3001.3 1590.8L3006.1 1607L3012.2 1613L3017.4 1611L3022.3 1629.2L3027.5 1611L3032.4 1615L3038.4 1667.5L3043.3 1633.2L3048.5 1661.5L3053.8 1645.3L3058.6 1641.3L3063.8 1633.2L3069.1 1633.2L3074.7 1598.9L3079.6 1621.1L3084.8 1613L3090.1 1617L3095.7 1596.9L3101 1592L3106.2 1592.8L3111.1 1588.8L3116.3 1584.7L3121.2 1609L3126.4 1579.9L3131.3 1586.8L3136.5 1580.7L3143.4 1578.7L3149.4 1590.8L3154.7 1607L3159.5 1592.8L3163.6 1613L3169.6 1572.6L3175.7 1594.8" fill="none" stroke="#a8c436" stroke-width="4.2" stroke-linejoin="round"/>
<path d="M3240.3 1613L3244.3 1625.1L3250.4 1600.9L3256.4 1613L3262.5 1641.3L3268.6 1643.3L3274.6 1633.2L3280.7 1653.4L3287.9 1687.7L3292.8 1641.3L3298.8 1653.4L3304.9 1637.2L3310.9 1633.2L3317 1604.9L3323.1 1588.8L3329.1 1572.6L3335.2 1536.3L3341.2 1500L3347.3 1451.5L3354.2 1397L3359.4 1419.2L3365.5 1431.3L3371.5 1433.3L3377.6 1536.3L3383.6 1451.5L3389.7 1386.9L3395.7 1358.6L3399.8 1314.2L3403.8 1314.2L3407.9 1382.9L3413.9 1463.6L3420 1491.9L3426 1504L3432.1 1552.4L3440.2 1544.4L3446.2 1592.8L3452.3 1588.8L3458.3 1604.9L3464.4 1641.3L3470.4 1645.3L3476.5 1637.2L3482.5 1669.5L3487.4 1711.9L3492.6 1693.8L3497.9 1677.6L3503.5 1697.8L3508.8 1677.6L3514 1714L3518.9 1687.7L3524.9 1714L3530.2 1677.6L3537.1 1681.7L3543.1 1653.4L3549.2 1633.2L3555.2 1621.1L3561.3 1623.1L3567.3 1613L3573.4 1609L3579.5 1596.9L3585.5 1600.9L3591.6 1598.9L3597.6 1564.6L3603.7 1604.9L3609.7 1615" fill="none" stroke="#6d6e70" stroke-width="7" stroke-linejoin="round"/>
<path d="M3241.1 1596.9L3246.3 1596.9L3251.6 1600.9L3256.4 1633.2L3261.3 1653.4L3266.5 1617L3271.8 1625.1L3277.4 1602.9L3282.7 1645.3L3287.9 1693.8L3292.8 1645.3L3298.8 1625.1L3304.1 1627.1L3309.7 1641.3L3315 1613L3321 1600.9L3327.1 1588.8L3333.2 1564.6L3339.2 1532.3L3345.3 1500L3351.3 1459.6L3357.4 1443.4L3362.2 1445.4L3367.5 1463.6L3372.7 1447.5L3378.4 1504L3383.6 1443.4L3388.9 1403.1L3393.7 1382.9L3399 1330.4L3403.8 1419.2L3408.7 1483.8L3413.9 1524.2L3418.8 1520.1L3424 1572.6L3430.1 1590.8L3434.9 1596.9L3440.2 1572.6L3445.4 1617L3450.2 1596.9L3455.1 1600.9L3460.3 1633.2L3465.6 1621.1L3471.2 1611L3476.5 1637.2L3481.7 1641.3L3487.4 1681.7L3492.6 1673.6L3497.9 1655.4L3503.5 1677.6L3508.8 1643.3L3514 1681.7L3519.7 1673.6L3524.9 1679.6L3530.2 1683.7L3535.8 1673.6L3541.1 1675.6L3547.1 1633.2L3552 1633.2L3557.2 1598.9L3562.5 1611L3567.3 1617L3573.4 1592.8L3578.6 1600.9L3583.5 1621.1L3588.7 1609L3593.6 1643.3L3598.4 1574.7L3603.7 1609L3608.5 1631.2" fill="none" stroke="#2fbccb" stroke-width="4.2" stroke-linejoin="round"/>
<path d="M3241.1 1588.8L3246.3 1629.2L3251.6 1578.7L3256.4 1594.8L3262.5 1598.9L3267.7 1598.9L3272.6 1562.5L3277.4 1588.8L3282.7 1653.4L3287.9 1701L3292.8 1625.1L3298.8 1659.4L3304.1 1645.3L3309.7 1625.1L3315 1592.8L3320.2 1566.6L3325.9 1566.6L3331.1 1536.3L3336.4 1508L3342 1467.7L3347.3 1423.2L3352.5 1382.9L3357.4 1374L3362.2 1411.1L3367.5 1380.8L3372.7 1399L3378.4 1489.9L3383.6 1390.9L3388.9 1360.7L3393.7 1360.7L3399 1326.3L3404.6 1314.2L3409.1 1423.2L3413.9 1518.1L3420 1516.1L3425.2 1502L3430.9 1552.4L3436.1 1598.9L3441.4 1556.5L3446.2 1613L3451.5 1568.6L3457.1 1598.9L3462.4 1590.8L3467.2 1645.3L3472.5 1617L3477.7 1588.8L3482.5 1613L3488.6 1689.7L3493.9 1641.3L3498.7 1637.2L3504.8 1697.8L3510 1663.5L3514.8 1679.6L3520.1 1665.5L3524.9 1679.6L3531 1637.2L3535.8 1641.3L3541.1 1613L3546.3 1607L3551.2 1588.8L3556 1594.8L3561.3 1586.8L3567.3 1588.8L3572.2 1594.8L3577.4 1530.2L3582.7 1621.1L3588.3 1552.4L3593.6 1532.3L3598.8 1518.1L3603.7 1633.2L3608.5 1631.2" fill="none" stroke="#a8c436" stroke-width="4.2" stroke-linejoin="round"/>
<path d="M2807 1310.9V1720.6" stroke="#000" stroke-width="4.2"/>
<path d="M2804.9 1718.5H3184" stroke="#000" stroke-width="4.2"/>
<path d="M2807 1313h-12M2807 1498h-12M2807 1681.6h-12" stroke="#000" stroke-width="4.2"/>
<path d="M2807 1718.5v13M2911.7 1718.5v13M3017 1718.5v13M3122 1718.5v13" stroke="#000" stroke-width="4.2"/>
<path d="M3240.3 1310.9V1720.6" stroke="#000" stroke-width="4.2"/>
<path d="M3238.2 1718.5H3619" stroke="#000" stroke-width="4.2"/>
<path d="M3240.3 1313h-12M3240.3 1498h-12M3240.3 1681.6h-12" stroke="#000" stroke-width="4.2"/>
<path d="M3240.3 1718.5v13M3346 1718.5v13M3451 1718.5v13M3555.5 1718.5v13" stroke="#000" stroke-width="4.2"/>
<text x="2771" y="1327" text-anchor="end">1</text>
<text x="2777" y="1698.5" text-anchor="end">0</text>
<text x="2799" y="1777.5" text-anchor="middle">-1</text>
<text x="2911.7" y="1777.5" text-anchor="middle">0</text>
<text x="3017" y="1777.5" text-anchor="middle">1</text>
<text x="3122" y="1777.5" text-anchor="middle">2</text>
<text x="2991" y="1828" text-anchor="middle">Time from press (s)</text>
<text text-anchor="middle" transform="translate(2715,1504) rotate(-90)">Normalized DF/F</text>
<text x="3466.6" y="1370.6" fill="#a8c436">Segment #1</text>
<text x="3466.6" y="1430" fill="#2fbccb">Segment #2</text>
<text x="3466.6" y="1484.6" fill="#6d6e70">Full axon</text>
<text x="3803" y="1247" font-weight="bold" font-size="66">i</text>
<path d="M3972.4 1283.3V1730.1" stroke="#000" stroke-width="4.2"/>
<path d="M3957 1728H4232.5" stroke="#000" stroke-width="4.2"/>
<path d="M3972.4 1285.4h-14" stroke="#000" stroke-width="4.2"/>
<path d="M4041 1728v18M4161 1728v18" stroke="#000" stroke-width="4.2"/>
<text x="3940" y="1297.5" text-anchor="end">1</text>
<text x="3944" y="1740" text-anchor="end">0</text>
<path d="M4041.5 1297V1349" stroke="#0a9ad8" stroke-width="4.2"/>
<path d="M4005 1329.5H4077" stroke="#0a9ad8" stroke-width="4.2"/>
<rect x="4025.7" y="1307" width="32" height="28" fill="#0a9ad8"/>
<path d="M4160.5 1297V1322" stroke="#b41e8d" stroke-width="4.2"/>
<path d="M4127 1301H4198" stroke="#b41e8d" stroke-width="4.2"/>
<rect x="4143.6" y="1300.6" width="34" height="14.5" fill="#b41e8d"/>
<text x="4026" y="1794" text-anchor="middle">LC:</text>
<text x="4026" y="1853" text-anchor="middle">dmPFC</text>
<text x="4176" y="1794" text-anchor="middle">LC:</text>
<text x="4176" y="1853" text-anchor="middle">MC</text>
<text text-anchor="middle" transform="translate(3887,1493) rotate(-90)">Segment-axon corr.</text>
<text x="8" y="1949" font-weight="bold" font-size="66">j</text>
<clipPath id="cpj"><rect x="40" y="1890" width="560" height="588.5"/></clipPath>
<g clip-path="url(#cpj)">
<path d="M197.1 2012.1C196.7 2007.4 192.9 1995.5 194.5 1983.9C196.1 1972.3 198.9 1953.5 206.5 1942.6C214.2 1931.6 229.7 1922.4 240.3 1918.2C251 1913.9 262.4 1915.2 270.4 1917C278.4 1918.9 285 1921.4 288.4 1929.4C291.8 1937.4 291 1953.5 291 1965.1C291 1976.7 288.2 1989.8 288.4 1998.9C288.6 2008 291.5 2016.1 292.2 2019.6" fill="none" stroke="#414042" stroke-width="4" stroke-linecap="round" stroke-linejoin="round"/>
<path d="M390.6 2012.1C391 2007.4 394.8 1995.5 393.2 1983.9C391.6 1972.3 388.8 1953.5 381.2 1942.6C373.5 1931.6 358 1922.4 347.4 1918.2C336.7 1913.9 325.3 1915.2 317.3 1917C309.3 1918.9 302.7 1921.4 299.3 1929.4C295.9 1937.4 296.7 1953.5 296.7 1965.1C296.7 1976.7 299.5 1989.8 299.3 1998.9C299.1 2008 296.2 2016.1 295.5 2019.6" fill="none" stroke="#414042" stroke-width="4" stroke-linecap="round" stroke-linejoin="round"/>
<path d="M292.9 2019.6C289.8 2017.4 282.9 2009.6 274.1 2006.4C265.4 2003.3 253.5 1999.9 240.3 2000.8C227.2 2001.7 211.5 2003 195.3 2012.1C179 2021.1 159 2035.5 142.7 2055.3C126.4 2075 110.1 2102.8 97.6 2130.4C85.1 2157.9 74.8 2188.6 67.6 2220.5C60.4 2252.4 56 2293.8 54.4 2321.9C52.8 2350.1 54.1 2371.4 58.2 2389.5C62.2 2407.7 67.9 2420.5 78.8 2430.8C89.8 2441.2 107 2448.4 123.9 2451.5C140.8 2454.6 162.1 2453.1 180.2 2449.6C198.4 2446.2 217.8 2439.6 232.8 2430.8C247.8 2422.1 261 2407.7 270.4 2397C279.8 2386.4 285.4 2374.5 289.2 2367C292.9 2359.5 292.3 2354.5 292.9 2352" fill="none" stroke="#414042" stroke-width="4" stroke-linecap="round" stroke-linejoin="round"/>
<path d="M294.8 2019.6C297.9 2017.4 304.8 2009.6 313.6 2006.4C322.3 2003.3 334.2 1999.9 347.4 2000.8C360.5 2001.7 376.2 2003 392.4 2012.1C408.7 2021.1 428.7 2035.5 445 2055.3C461.3 2075 477.6 2102.8 490.1 2130.4C502.6 2157.9 512.9 2188.6 520.1 2220.5C527.3 2252.4 531.7 2293.8 533.3 2321.9C534.9 2350.1 533.6 2371.4 529.5 2389.5C525.5 2407.7 519.8 2420.5 508.9 2430.8C497.9 2441.2 480.7 2448.4 463.8 2451.5C446.9 2454.6 425.6 2453.1 407.5 2449.6C389.3 2446.2 369.9 2439.6 354.9 2430.8C339.9 2422.1 326.7 2407.7 317.3 2397C307.9 2386.4 302.3 2374.5 298.5 2367C294.8 2359.5 295.4 2354.5 294.8 2352" fill="none" stroke="#414042" stroke-width="4" stroke-linecap="round" stroke-linejoin="round"/>
<path d="M291.8 2019.6L291.8 2352" fill="none" stroke="#414042" stroke-width="3.6" stroke-linecap="round" stroke-linejoin="round"/>
<path d="M295.5 2019.6L295.5 2352" fill="none" stroke="#414042" stroke-width="3.6" stroke-linecap="round" stroke-linejoin="round"/>
<path d="M291.8 2352C291.5 2363.9 290 2408.3 289.9 2423.3C289.8 2438.4 291.7 2435.9 291 2442.1C290.4 2448.4 289.6 2454.6 286.2 2460.9C282.7 2467.2 273 2476.5 270.4 2479.7" fill="none" stroke="#414042" stroke-width="3.2" stroke-linecap="round" stroke-linejoin="round"/>
<path d="M295.5 2352C295.9 2363.9 297.3 2408.3 297.4 2423.3C297.5 2438.4 295.7 2435.9 296.3 2442.1C296.9 2448.4 297.7 2454.6 301.2 2460.9C304.7 2467.2 314.6 2476.5 317.3 2479.7" fill="none" stroke="#414042" stroke-width="3.2" stroke-linecap="round" stroke-linejoin="round"/>
<path d="M238.5 2432.7C241.3 2434.3 247.2 2439.9 255.4 2442.1C263.5 2444.3 282 2445.2 287.3 2445.9" fill="none" stroke="#414042" stroke-width="3.2" stroke-linecap="round" stroke-linejoin="round"/>
<path d="M349.2 2432.7C346.4 2434.3 340.5 2439.9 332.3 2442.1C324.2 2444.3 305.7 2445.2 300.4 2445.9" fill="none" stroke="#414042" stroke-width="3.2" stroke-linecap="round" stroke-linejoin="round"/>
<path d="M80.7 2479.7C82.3 2477 86 2467.5 90.1 2463.9C94.2 2460.3 98.9 2458.7 105.1 2457.9C111.4 2457.1 119.5 2460.1 127.7 2459C135.8 2457.9 149.6 2452.8 153.9 2451.5" fill="none" stroke="#414042" stroke-width="3.2" stroke-linecap="round" stroke-linejoin="round"/>
<path d="M108.9 2479.7C112 2477.3 120.1 2468.8 127.7 2465.4C135.2 2462 143.9 2461.3 153.9 2459.4C164 2457.5 182.1 2455 187.7 2454.1" fill="none" stroke="#414042" stroke-width="3.2" stroke-linecap="round" stroke-linejoin="round"/>
<path d="M191.5 2449.6C193.4 2452.4 198.7 2461.5 202.8 2466.5C206.8 2471.5 213.7 2477.5 215.9 2479.7" fill="none" stroke="#414042" stroke-width="3.2" stroke-linecap="round" stroke-linejoin="round"/>
<path d="M270.4 2479.7C272.3 2478.1 277.9 2472.8 281.6 2470.3C285.4 2467.8 291 2465.6 292.9 2464.6" fill="none" stroke="#414042" stroke-width="2.6" stroke-linecap="round" stroke-linejoin="round"/>
<path d="M507 2479.7C505.4 2477 501.7 2467.5 497.6 2463.9C493.5 2460.3 488.8 2458.7 482.6 2457.9C476.3 2457.1 468.2 2460.1 460 2459C451.9 2457.9 438.1 2452.8 433.8 2451.5" fill="none" stroke="#414042" stroke-width="3.2" stroke-linecap="round" stroke-linejoin="round"/>
<path d="M478.8 2479.7C475.7 2477.3 467.6 2468.8 460 2465.4C452.5 2462 443.8 2461.3 433.8 2459.4C423.7 2457.5 405.6 2455 400 2454.1" fill="none" stroke="#414042" stroke-width="3.2" stroke-linecap="round" stroke-linejoin="round"/>
<path d="M396.2 2449.6C394.3 2452.4 389 2461.5 384.9 2466.5C380.9 2471.5 374 2477.5 371.8 2479.7" fill="none" stroke="#414042" stroke-width="3.2" stroke-linecap="round" stroke-linejoin="round"/>
<path d="M317.3 2479.7C315.4 2478.1 309.8 2472.8 306.1 2470.3C302.3 2467.8 296.7 2465.6 294.8 2464.6" fill="none" stroke="#414042" stroke-width="2.6" stroke-linecap="round" stroke-linejoin="round"/>
</g>
<path d="M204.6 2099.6C209.3 2100 223.7 2100.2 232.8 2102.2C241.9 2104.2 252.2 2106.3 259.1 2111.6C266 2116.9 270.1 2124.7 274.1 2134.1C278.2 2143.5 281.1 2156.7 283.5 2167.9C285.9 2179.2 287.8 2193 288.4 2201.7C289 2210.5 289 2216.3 287.3 2220.5C285.5 2224.7 285.1 2225.8 277.9 2226.9C270.7 2228 251.6 2228 244.1 2226.9C236.6 2225.8 237.2 2225.3 232.8 2220.5C228.4 2215.7 224.1 2205.5 217.8 2198C211.5 2190.5 201 2183 195.3 2175.4C189.5 2167.9 185.6 2160.4 183.2 2152.9C180.9 2145.4 180.2 2137.6 181 2130.4C181.7 2123.2 183.8 2114.9 187.7 2109.7C191.7 2104.6 197.1 2100.8 204.6 2099.6C212.2 2098.3 228.1 2101.8 232.8 2102.2" fill="#808285"/>
<path d="M360.5 2099.6C364.3 2100.3 376.5 2100.8 383.1 2104.1C389.6 2107.3 396.3 2113.5 400 2119.1C403.6 2124.7 404.8 2131 404.8 2137.9C404.8 2144.8 403 2152.9 400 2160.4C396.9 2167.9 392.1 2176.1 386.8 2183C381.5 2189.8 373 2195.8 368 2201.7C363 2207.7 359.9 2214.6 356.8 2218.6C353.6 2222.7 356.1 2224.8 349.2 2226.2C342.4 2227.5 323.5 2227.5 315.4 2226.9C307.4 2226.3 304 2226.6 301.2 2222.4C298.4 2218.2 298.4 2210.8 298.5 2201.7C298.7 2192.7 300.4 2178.6 302.3 2167.9C304.2 2157.3 305.7 2146.7 309.8 2137.9C313.9 2129.1 320.8 2121 326.7 2115.4C332.7 2109.7 339.9 2106.7 345.5 2104.1C351.1 2101.5 354.3 2099.6 360.5 2099.6C366.8 2099.6 379.3 2103.3 383.1 2104.1" fill="#808285"/>
<circle cx="357.5" cy="2163" r="67.6" fill="none" stroke="#000" stroke-width="4.2" stroke-dasharray="7.4 5"/>
<path d="M390.6 2220.5L552 2355.7" stroke="#000" stroke-width="3.8" stroke-dasharray="7.5 5"/>
<path d="M343.6 2167.2L550.2 2220.5L542.7 2243.8Z" fill="#000"/>
<text x="120" y="2227">MC</text>
<text x="563" y="2149">AAV-DIO-</text>
<text x="563" y="2209">GRAB</text>
<text x="704" y="2224" font-size="28.5">NE2m</text>
<text x="563" y="2378.5">Cranial</text>
<text x="563" y="2436.5">window</text>
<text x="293" y="2544" text-anchor="middle">Gad-Ires-cre</text>
<text x="293" y="2597" text-anchor="middle">or Vgat1-Ires-Cre</text>
<text x="878" y="1949" font-weight="bold" font-size="66">k</text>
<text x="943" y="2005" fill="#25317f">Hit</text>
<text x="1078" y="2005" fill="#e8202a">False alarm</text>
<text x="1490" y="1968">450 x 450 um FOV</text>
<path d="M972.3 2033V2507.5" stroke="#25317f" stroke-width="4.6" stroke-dasharray="7 7.6"/>
<path d="M1145.9 2033V2507.5" stroke="#e8202a" stroke-width="4.6" stroke-dasharray="7 7.6"/>
<path d="M1399.4 2033V2507.5" stroke="#25317f" stroke-width="4.6" stroke-dasharray="7 7.6"/>
<path d="M1793.8 2033V2507.5" stroke="#e8202a" stroke-width="4.6" stroke-dasharray="7 7.6"/>
<path d="M2053 2033V2507.5" stroke="#25317f" stroke-width="4.6" stroke-dasharray="7 7.6"/>
<path d="M2252 2033V2507.5" stroke="#25317f" stroke-width="4.6" stroke-dasharray="7 7.6"/>
<path d="M2364.8 2033V2507.5" stroke="#e8202a" stroke-width="4.6" stroke-dasharray="7 7.6"/>
<path d="M2475 2033V2507.5" stroke="#e8202a" stroke-width="4.6" stroke-dasharray="7 7.6"/>
<path d="M925.4 2383.7L927.9 2412L930.4 2390.8L933 2400.6L935.5 2390.8L938.9 2417.5L941 2374.8L944.4 2371.8L947.3 2366.8L949.4 2325.3L951.5 2344.4L953.7 2380.3L955.8 2400.6L959.2 2398L961.7 2393L963.8 2368.4L965.9 2395.1L968.9 2386.6L971.8 2371.8L973.9 2289.4L977.3 2283.9L979.4 2251.4L981.1 2247.2L982.8 2270.4L984.9 2289.4L987 2344.4L989.6 2308.4L991.3 2302.1L993.4 2329.6L995.5 2281L997.6 2349.9L1000.6 2371.8L1003.5 2389.6L1005.6 2367.6L1008.2 2349.9L1009.9 2350.7L1012 2380.3L1015.4 2382.4L1018.3 2371L1020.8 2382.4L1023.8 2379.4L1025.9 2390.8L1028.9 2404.8L1031.8 2375.2L1033.9 2371.8L1035.2 2380.3L1036.9 2347.3L1038.6 2373.9L1040.7 2379.4L1042.8 2361.3L1044.9 2363.4L1047 2335.9L1048.7 2369.7L1051.7 2334.6L1053.8 2355.8L1057.2 2355.8L1059.7 2337.2L1062.3 2366.8L1064.4 2373.9L1066.5 2350.7L1069 2387.9L1070.7 2390.8L1072.8 2413.2L1074.5 2418.3L1076.6 2393L1079.2 2385.3L1081.3 2364.2L1083 2359.1L1085.1 2329.6L1087.2 2271.3L1089.3 2295.8L1091.4 2300L1093.5 2276.8L1095.2 2274.6L1097.3 2251.4L1099.4 2283.1L1101.5 2321.1L1102.8 2354.9L1104.5 2310.6L1106.2 2359.1L1107.9 2409L1110 2365.5L1111.7 2418.3L1114.2 2414.1L1116.3 2412L1118.4 2426.8L1120.1 2458.4L1122.3 2422.5L1123.9 2457.2L1126.5 2452.1L1129 2448.7L1131.5 2437.3L1133.2 2425.9L1135.3 2442.8L1137.9 2441.5L1140 2435.2L1142.5 2442.8L1144.2 2439.4L1146.8 2405.6L1148.4 2395.1L1150.1 2350.7L1152.2 2312.7L1153.9 2253.5L1156.1 2185.9L1158.6 2177.5L1160.7 2133.1L1162.4 2185.9L1164.5 2217.6L1166.6 2203.7L1168.7 2290.7L1170.8 2253.5L1173 2231.5L1175.1 2278.9L1177.2 2340.1L1179.7 2323.2L1181.8 2319L1183.9 2350.7L1186.5 2367.6L1188.2 2362.5L1189.9 2407.7L1192.4 2379.4L1194.1 2409L1195.8 2405.6L1197.9 2424.6L1200 2395.1L1202.1 2363.4L1204.2 2384.5L1206.8 2386.6L1208.4 2390.8L1210.6 2345.6L1212.7 2400.6L1214.4 2359.1L1216.9 2360L1219 2349.9L1221.1 2364.2L1223.2 2355.8L1225.3 2382.4L1227.5 2400.6L1229.6 2339.3L1231.7 2365.5L1233.8 2340.1L1235.9 2395.1L1238 2344.4L1240.6 2373.9L1243.1 2371.8L1246.5 2409L1249 2359.1L1250.7 2343.1L1252.8 2336.8L1254.9 2341.4L1257 2369.7L1258.3 2333.8L1260.4 2325.3L1262.5 2335.9L1265.5 2350.7L1267.2 2414.1L1269.7 2395.1L1271.8 2376.1L1273.5 2364.2L1275.6 2371.8L1277.7 2346.5L1280.3 2361.3L1282.8 2360L1284.9 2375.2L1287 2366.8L1289.1 2378.2L1292.1 2373.9L1294.2 2359.1L1296.3 2407.7L1298 2390.8L1300.6 2393L1303.1 2404.8L1305.6 2407.7L1307.7 2409L1309 2385.3L1311.1 2383.7L1313.2 2405.6L1315.3 2430.1L1317.5 2382.4L1319.1 2325.3L1321.3 2299.2L1323.8 2297.9L1325.9 2281.8L1328 2288.2L1330.1 2329.6L1332.2 2331.7L1334.4 2346.5L1336.5 2344.4L1338.6 2314.8L1340.7 2361.3L1343.7 2338L1346.6 2295.8L1348.7 2304.2L1350.8 2375.2L1353 2333.8L1355.1 2323.2L1357.2 2333.8L1359.3 2363.4L1361.4 2354.9L1363.5 2376.1L1366.5 2367.6L1369 2352.8L1371.5 2338L1374.1 2393L1376.2 2373.9L1378.3 2383.7L1380.4 2350.7L1382.5 2387.9L1384.6 2407.7L1386.8 2401.4L1388.9 2413.2L1391 2362.5L1393.1 2372.7L1395.2 2384.5L1397.7 2385.3L1399.9 2386.6L1401.1 2295.8L1402.8 2238.7L1405.3 2220.6L1407.5 2223.1L1409.6 2230.3L1412.1 2255.6L1413.8 2287.3L1415.9 2321.1L1418 2316.1L1420.1 2333.8L1422.2 2358.3L1424.4 2340.1L1428.2 2338L1430.7 2341.4L1432.8 2359.1L1434.9 2366.8L1436.6 2431L1438.7 2453L1440.8 2442.8L1442.5 2441.5L1444.6 2364.2L1447.2 2354.9L1449.3 2379.4L1451.4 2371.8L1453.1 2361.3L1455.2 2401.4L1457.3 2393L1459.4 2405.6L1462 2378.2L1464.1 2380.3L1466.2 2371L1468.3 2368.4L1470.4 2367.6L1472.1 2380.3L1474.2 2355.8L1476.3 2367.6L1478.4 2364.2L1480.6 2410.7L1482.2 2371.8L1484.4 2397.2L1486.9 2395.1L1489 2302.1L1491.1 2388.7L1494.1 2378.2L1497 2335.9L1499.1 2403.5L1501.7 2399.3L1504.2 2385.3L1506.8 2397.2L1508.9 2396.3L1511 2382.4L1513.5 2335.9L1516 2331.7L1518.2 2382.4L1519.9 2350.7L1522.4 2392.1L1524.9 2366.8L1527 2371.8L1529.1 2361.3L1530.8 2390.8L1532.9 2354.1L1535.1 2355.8L1537.2 2349.9L1539.3 2371.8L1541.4 2369.7L1543.5 2346.5L1545.6 2337.2L1547.7 2344.4L1549.9 2359.1L1552 2371.8L1554.5 2348.6L1556.2 2321.1L1557.9 2240L1560 2262L1562.1 2292.4L1564.6 2281L1566.8 2234.5L1568.9 2291.5L1570.6 2319L1572.7 2321.1L1574.8 2278.9L1576.9 2304.2L1579 2335.9L1581.1 2358.3L1583.2 2342.2L1585.3 2331.7L1587.5 2388.7L1590 2384.5L1591.7 2388.7L1593.4 2412L1595.9 2405.6L1598 2387.9L1600.1 2384.5L1602.2 2382.4L1604.4 2407.7L1606.5 2427.6L1608.6 2393L1610.3 2403.5L1612.8 2365.5L1614.9 2395.1L1616.6 2397.2L1619.1 2363.4L1621.3 2342.2L1623.4 2371.8L1625.9 2346.5L1629.3 2333.8L1631.4 2373.9L1633.9 2354.9L1636 2348.6L1638.2 2361.3L1640.3 2362.5L1643.7 2326.2L1645.8 2346.5L1648.7 2365.5L1651.7 2378.2L1654.6 2383.7L1656.7 2361.3L1658.9 2371L1661 2358.3L1662.7 2371.8L1664.8 2333.8L1666.9 2295.8L1669 2277.6L1671.1 2299.2L1673.2 2300L1675.3 2283.1L1677.5 2319L1679.6 2335.9L1682.1 2323.2L1684.2 2354.9L1685.9 2376.9L1688.4 2338.9L1690.1 2343.1L1692.2 2363.4L1694.4 2373.9L1696.5 2420.4L1698.6 2403.5L1700.7 2380.3L1702.8 2388.7L1705.3 2383.7L1707 2327.5L1708.7 2272.5L1710.4 2312.7L1712.5 2338L1714.6 2349.9L1716.7 2351.5L1718.9 2371L1721 2354.9L1723.1 2373.9L1725.6 2355.8L1727.7 2386.6L1730.3 2364.2L1732.4 2380.3L1734.5 2397.2L1736.2 2390.8L1738.3 2409L1740 2378.2L1742.1 2388.7L1744.2 2344.4L1746.3 2363.4L1748.4 2367.6L1751 2373.9L1753.1 2376.9L1754.8 2413.2L1756.9 2357L1759 2376.1L1761.1 2416.2L1763.2 2398L1764.9 2403.5L1767 2431L1769.1 2421.7L1771.3 2430.1L1773.4 2409L1775.5 2405.6L1778 2448.7L1779.7 2431L1781.4 2393L1783.1 2430.1L1785.2 2409.9L1787.3 2404.8L1788.6 2395.1L1790.1 2438.6L1791.8 2437.3L1793.9 2380.3L1796.1 2321.1L1797.7 2219.7L1799.9 2177.5L1802.4 2150L1804.1 2181.7L1805.8 2150L1807.5 2135.2L1809.2 2228.2L1811.7 2228.2L1813.8 2247.2L1815.5 2281L1818 2288.2L1820.1 2258.6L1822.3 2276.8L1824.4 2302.1L1826.5 2323.2L1828.2 2369.7L1830.3 2382.4L1832.4 2380.3L1834.5 2417.5L1836.6 2397.2L1838.7 2324.5L1840.4 2348.6L1842.5 2369.7L1844.6 2371L1846.8 2359.1L1848.9 2388.7L1851 2390.8L1853.5 2367.6L1855.2 2371.8L1857.3 2410.7L1859.4 2382.4L1861.5 2354.1L1863.7 2376.9L1865.8 2384.5L1867.9 2390.8L1870 2382.4L1872.1 2401.4L1874.2 2416.2L1876.3 2393L1878.4 2367.6L1880.6 2348.6L1883.1 2367.6L1885.2 2378.2L1887.3 2382.4L1889 2366.8L1891.1 2384.5L1893.2 2387.9L1895.4 2388.7L1897.5 2357L1899.2 2355.8L1901.3 2335.9L1903.4 2373.9L1905.5 2338L1907.2 2340.1L1909.3 2371.8L1911.4 2373.9L1913.5 2359.1L1916.1 2373.9L1918.2 2378.2L1920.3 2366.8L1922.4 2382.4L1924.5 2390.8L1926.6 2367.6L1928.7 2361.3L1930.8 2371.8L1933 2388.7L1935.1 2388.7L1937.2 2359.1L1939.3 2312.7L1941 2269.2L1943.1 2313.5L1945.6 2312.7L1947.7 2327.5L1949.9 2325.3L1951.5 2317.7L1953.7 2338L1955.8 2341.4L1957.9 2399.3L1960 2373.9L1962.1 2350.7L1964.2 2350.7L1966.3 2354.9L1968.4 2336.8L1970.6 2403.5L1972.7 2369.7L1974.8 2364.2L1976.9 2400.6L1979 2367.6L1981.1 2357L1983.2 2380.3L1985.3 2359.1L1987.5 2363.4L1989.6 2398L1991.7 2397.2L1993.4 2375.2L1995.5 2412L1997.6 2390.8L1999.7 2414.9L2001.8 2350.7L2003.5 2305.1L2005.6 2310.6L2008.2 2319L2010.3 2371L2012.4 2359.1L2014.5 2348.6L2016.6 2361.3L2018.7 2344.4L2020.8 2388.7L2023 2413.2L2025.1 2395.1L2026.8 2343.1L2029.3 2359.1L2031.4 2361.3L2033.5 2344.4L2035.2 2338L2037.3 2362.5L2039.4 2380.3L2041.5 2350.7L2043.7 2373.9L2045.8 2354.9L2047.9 2395.1L2050.4 2399.3L2052.5 2350.7L2054.6 2291.5L2056.3 2270.4L2058.4 2264.1L2060.6 2234.5L2062.7 2245.1L2064.8 2189.3L2066.9 2232.4L2069 2215.5L2070.7 2297.9L2072.8 2277.6L2074.9 2321.1L2077 2324.5L2079.2 2323.2L2081.3 2333.8L2083.4 2348.6L2085.5 2359.1L2087.6 2360L2089.7 2380.3L2091.8 2430.1L2093.5 2400.6L2095.6 2431L2097.7 2416.2L2099.9 2385.3L2102 2405.6L2104.1 2424.6L2106.2 2392.1L2108.3 2412L2110.4 2390.8L2112.5 2350.7L2114.6 2364.2L2116.8 2393.8L2118.9 2380.3L2121 2382.4L2123.1 2407.7L2125.2 2412L2127.3 2407.7L2129.4 2399.3L2131.5 2383.7L2133.7 2399.3L2135.8 2412L2137.9 2379.4L2140 2402.2L2142.1 2378.2L2144.2 2399.3L2146.3 2382.4L2148.4 2419.1L2150.6 2383.7L2152.7 2427.6L2154.4 2311.8L2156.5 2348.6L2158.6 2342.2L2160.7 2346.5L2162.8 2357L2164.9 2348.6L2167 2338L2169.1 2342.2L2171.3 2373.9L2173.4 2375.2L2175.5 2371.8L2177.6 2380.3L2179.7 2335.9L2181.8 2371.8L2183.9 2360L2186.1 2382.4L2188.2 2386.6L2190.3 2323.2L2192.4 2366.8L2194.5 2369.7L2196.6 2287.3L2198.7 2268.3L2200.8 2255.6L2203 2304.2L2205.1 2335.9L2207.2 2348.6L2209.3 2305.1L2211.4 2314.8L2213.5 2350.7L2215.6 2335.9L2217.7 2379.4L2219.9 2357L2222 2376.1L2223.7 2351.5L2225.8 2398L2227.9 2354.9L2230 2378.2L2232.1 2405.6L2234.2 2380.3L2236.3 2396.3L2238.9 2382.4L2241 2375.2L2243.1 2388.7L2245.2 2357L2247.3 2348.6L2249.4 2342.2L2251.5 2295.8L2253.7 2245.1L2255.3 2228.2L2257.5 2195.2L2259.6 2240.8L2261.7 2285.2L2263.8 2287.3L2265.9 2335.9L2268 2338L2270.1 2345.6L2271.8 2310.6L2273.9 2335.9L2276 2359.1L2278.2 2360L2280.3 2345.6L2282.4 2414.9L2284.5 2382.4L2286.6 2381.1L2288.7 2384.5L2290.8 2378.2L2293 2424.6L2295.1 2455.5L2297.2 2431L2299.3 2395.1L2301.4 2399.3L2303.5 2426.8L2305.6 2409L2307.7 2420.4L2309.9 2371.8L2312 2319L2314.1 2317.7L2316.2 2338L2318.3 2307.6L2320.4 2335.9L2322.5 2376.1L2324.6 2348.6L2326.8 2364.2L2328.9 2376.1L2331 2412L2333.1 2421.7L2335.2 2382.4L2337.3 2381.1L2339.4 2428.9L2341.5 2416.2L2343.7 2437.3L2345.8 2459.7L2347.9 2409L2350 2412L2352.1 2417.5L2353.8 2430.1L2355.9 2409L2358 2425.9L2360.1 2420.4L2362.2 2412L2364.4 2393.8L2366.5 2403.5L2368.6 2388.7L2370.7 2316.9L2372.4 2278.9L2374.5 2202L2377 2192.3L2379.1 2181.7L2381.3 2174.1L2383.4 2202.8L2385.5 2236.6L2387.6 2249.3L2389.7 2259.9L2391.8 2249.3L2393.9 2302.1L2396 2314.8L2398.2 2331.7L2400.3 2354.1L2402.4 2365.5L2404.5 2376.9L2406.6 2376.1L2408.7 2378.2L2410.8 2361.3L2412.9 2354.9L2415.1 2392.1L2417.2 2426.8L2419.3 2401.4L2421.4 2388.7L2423.5 2372.7L2425.6 2382.4L2427.7 2378.2L2429.9 2410.7L2432 2395.1L2434.1 2414.9L2436.2 2382.4L2438.3 2401.4L2440.4 2399.3L2442.5 2366.8L2444.6 2393L2446.8 2409L2448.9 2416.2L2451 2390.8L2453.1 2395.1L2455.2 2428.9L2457.3 2405.6L2459.4 2439.4L2461.5 2426.8L2463.7 2441.5L2465.8 2420.4L2467.9 2443.7L2470 2416.2L2472.1 2477.5L2474.2 2443.7L2476.3 2304.2L2478.4 2198.6L2480.6 2192.3L2482.7 2192.3L2484.8 2196.5L2486.9 2202.8L2489 2209.2L2491.1 2270.4L2493.2 2282.2L2495.3 2251.4L2497.5 2268.3L2499.6 2281L2501.7 2312.7L2503.8 2363.4L2505.9 2338L2508 2365.5L2510.1 2364.2L2512.2 2383.7L2514.4 2338L2516.5 2416.2L2518.6 2412L2520.7 2371L2522.8 2355.8L2524.9 2366.8L2527 2367.6L2529.1 2340.1L2531.3 2376.9L2533.4 2373.9L2535.5 2348.6L2537.6 2367.6L2539.7 2395.1L2541.8 2410.7L2543.9 2405.6L2548.2 2385.3L2552.4 2346.5L2554.5 2317.7L2556.6 2311.8L2558.7 2343.1L2560.8 2329.6L2562.9 2310.6L2565.1 2331.7L2567.2 2359.1L2569.3 2386.6L2571.4 2390.8L2573.5 2367.6L2575.6 2345.6L2577.7 2373.9L2579.8 2402.2L2582 2406.5L2584.1 2382.4L2586.2 2351.5L2588.3 2351.5L2590.4 2348.6L2592.5 2333.8L2594.2 2324.5L2596.3 2382.4L2598.4 2385.3L2600.1 2352.8L2602.2 2390.8L2604.4 2357L2606.5 2389.6L2608.6 2373.9L2610.7 2386.6L2612.8 2366.8L2614.9 2344.4L2617 2386.6L2619.1 2376.1L2621.3 2393.8L2623.4 2354.1L2625.5 2347.3L2627.6 2366.8L2629.7 2378.2L2631.8 2385.3L2633.9 2349.9L2636 2380.3L2638.2 2400.6L2640.3 2359.1L2642 2278.9L2644.1 2261.1L2646.2 2295.8L2648.3 2320.3L2650.4 2288.2L2652.5 2319L2654.6 2316.9L2656.7 2349.9L2658.9 2342.2L2661 2354.1L2663.1 2371L2665.2 2371.8L2667.3 2384.5L2669.4 2389.6L2671.5 2365.5L2673.6 2402.2L2675.8 2369.7L2677.9 2382.4L2680 2416.2" fill="none" stroke="#000" stroke-width="4.3" stroke-linejoin="round"/>
<path d="M2729.6 2253.5V2544.3" stroke="#231f20" stroke-width="5.6"/>
<path d="M2310.6 2541.5H2732.4" stroke="#231f20" stroke-width="5.6"/>
<text x="2536" y="2591" text-anchor="middle">20 s</text>
<text transform="translate(2752,2258) rotate(90)">GRAB<tspan font-size="28.5" dy="10">NE</tspan><tspan dy="-10"> &#916;F/F</tspan></text>
<text text-anchor="middle" transform="translate(2818,2408) rotate(90)">10%</text>
<text x="2968" y="1948" font-weight="bold" font-size="66">m</text>
<text x="3383" y="1954.6" text-anchor="middle" fill="#e8202a">False alarm</text>
<text x="3972" y="1954.6" text-anchor="middle" fill="#25317f">Hit</text>
<path d="M3117.4 2436.3L3153.5 2401.4L3188.4 2306.3L3206.8 2258.8L3224.5 2154.2L3242.2 2144.7L3260 2147.9L3280.3 2097.2L3296.1 2052.8L3313.2 1998.9L3331 1990.7L3348.7 1995.8L3367.1 2033.8L3384.9 2059.2L3402 2094L3419.7 2138.4L3437.5 2166.9L3455.2 2182.7L3473.6 2189.1L3491.3 2211.3L3509.1 2223.9L3526.8 2225.8L3544.6 2243L3562.3 2239.8L3580.1 2241.7L3597.8 2241.7L3615.6 2218.9L3633.3 2222L3652.3 2228.4L3652.3 2360.2L3633.3 2352L3615.6 2353.9L3597.8 2377.3L3580.1 2368.4L3562.3 2360.2L3544.6 2347.5L3526.8 2343.1L3509.1 2312.7L3491.3 2277.8L3473.6 2265.1L3455.2 2239.8L3437.5 2220.8L3419.7 2185.9L3402 2135.2L3384.9 2094L3367.1 2084.5L3348.7 2033.8L3331 2016.1L3313.2 2033.8L3296.1 2116.2L3280.3 2166.9L3260 2231.5L3242.2 2223.9L3224.5 2252.5L3206.8 2303.2L3188.4 2344.4L3153.5 2433.1L3117.4 2452.1Z" fill="#f9d0d1"/>
<path d="M3206.8 1980V2486" stroke="#939598" stroke-width="3.4"/>
<path d="M3251.2 1980V2486" stroke="#e8202a" stroke-width="4.4" stroke-dasharray="6.6 7.4"/>
<path d="M3117.4 2442.6L3153.5 2412.8L3188.4 2322.2L3206.8 2281L3224.5 2201.8L3242.2 2184L3260 2189.1L3280.3 2128.9L3296.1 2081.3L3313.2 2013.5L3331 2002.1L3348.7 2013.5L3367.1 2059.2L3384.9 2076.3L3402 2113L3419.7 2160.6L3437.5 2192.2L3455.2 2211.3L3473.6 2229L3491.3 2246.1L3509.1 2268.3L3526.8 2284.8L3544.6 2293.7L3562.3 2298.7L3580.1 2303.8L3597.8 2309.5L3615.6 2286.1L3633.3 2287.3L3652.3 2293.7" fill="none" stroke="#e8202a" stroke-width="7" stroke-linejoin="round"/>
<path d="M3117.4 1978.9V2488.1" stroke="#000" stroke-width="4.2"/>
<path d="M3115.3 2486H3652" stroke="#000" stroke-width="4.2"/>
<path d="M3117.4 1981h-8M3117.4 2440.7h-8" stroke="#000" stroke-width="4.2"/>
<path d="M3206.8 2486v17M3384.2 2486v17M3561.7 2486v17" stroke="#000" stroke-width="4.2"/>
<path d="M3704.9 2433.1L3722.7 2417.2L3740.4 2410.9L3758.2 2388.7L3775.9 2319L3793.6 2223.9L3811.4 2138.4L3829.1 2084.5L3846.9 2065.5L3864.6 2051.5L3883.6 2040.1L3901.4 2041.4L3919.1 2059.2L3936.9 2075L3954.6 2103.5L3972.4 2116.2L3990.1 2141.5L4007.9 2163.7L4025.6 2185.9L4043.4 2201.8L4061.1 2223.9L4078.9 2243L4096.6 2252.5L4114.3 2274.6L4132.1 2290.5L4149.8 2293.7L4167.6 2300L4185.3 2303.2L4203.1 2304.4L4220.8 2300L4239.2 2286.1L4239.2 2452.1L4220.8 2466L4203.1 2464.8L4185.3 2476.2L4167.6 2458.4L4149.8 2461.6L4132.1 2448.9L4114.3 2439.4L4096.6 2423.6L4078.9 2414.1L4061.1 2398.2L4043.4 2379.2L4025.6 2355.8L4007.9 2319L3990.1 2281L3972.4 2246.1L3954.6 2217.6L3936.9 2189.1L3919.1 2160.6L3901.4 2142.8L3883.6 2132L3864.6 2157.4L3846.9 2157.4L3829.1 2179.6L3811.4 2220.8L3793.6 2303.2L3775.9 2385.6L3758.2 2429.9L3740.4 2444.5L3722.7 2445.8L3704.9 2448.9Z" fill="#d3d4e8"/>
<path d="M3793.6 1980V2486" stroke="#939598" stroke-width="3.4"/>
<path d="M3838 1980V2486" stroke="#25317f" stroke-width="4.4" stroke-dasharray="6.6 7.4"/>
<path d="M3704.9 2440.7L3722.7 2431.8L3740.4 2428L3758.2 2409L3775.9 2350.7L3793.6 2262L3811.4 2178.3L3829.1 2132L3846.9 2111.1L3864.6 2105.4L3883.6 2085.8L3901.4 2092.1L3919.1 2109.9L3936.9 2132L3954.6 2159.3L3972.4 2179.6L3990.1 2210L4007.9 2239.8L4025.6 2269.6L4043.4 2287.3L4061.1 2306.3L4078.9 2325.3L4096.6 2336.8L4114.3 2355.8L4132.1 2364.6L4149.8 2377.3L4167.6 2377.3L4185.3 2388.7L4203.1 2384.3L4220.8 2383.7L4239.2 2369.7" fill="none" stroke="#25317f" stroke-width="7" stroke-linejoin="round"/>
<path d="M3705 1978.9V2488.1" stroke="#000" stroke-width="4.2"/>
<path d="M3702.9 2486H4239.5" stroke="#000" stroke-width="4.2"/>
<path d="M3705 1981h-8M3705 2440.7h-8" stroke="#000" stroke-width="4.2"/>
<path d="M3793.6 2486v17M3971 2486v17M4148.6 2486v17" stroke="#000" stroke-width="4.2"/>
<text x="3106" y="1995" text-anchor="end">1</text>
<text x="3108" y="2454" text-anchor="end">0</text>
<text x="3208.8" y="2546" text-anchor="middle">0</text>
<text x="3386.2" y="2546" text-anchor="middle">1</text>
<text x="3563.7" y="2546" text-anchor="middle">2</text>
<text x="3672" y="2600" text-anchor="middle">Time from press (s)</text>
<text transform="translate(3037,2248) rotate(-90)" text-anchor="middle">GRAB<tspan font-size="28.5" dy="10">NE</tspan><tspan dy="-10"> &#916;F/F (norm.)</tspan></text>
<text x="7" y="2709" font-weight="bold" font-size="66">l</text>
<clipPath id="cpl"><rect x="0" y="2700" width="2600" height="580.7"/></clipPath><g clip-path="url(#cpl)">
<path d="M152 3233.3L166.7 3231.3L183.3 3220L198.7 3231.3L213.3 3228.7L230 3218L245.3 3220L261.3 3213.3L277.3 3206.7L293.3 3193.3L308 3186.7L324.7 3146.7L340 3050L355.3 2950L371.3 2883.3L387.3 2848L403.3 2836.7L419.3 2824.7L435.3 2828.7L451.3 2826.7L466.7 2850L482.7 2866.7L498.7 2882L514 2916.7L530 2936.7L545.3 2960L560.7 2976.7L576.7 2993.3L592 3010L608 3033.3L623.3 3046.7L638.7 3063.3L654.7 3073.3L670 3096.7L685.3 3096.7L701.3 3096.7L701.3 3280L685.3 3276.7L670 3283.3L654.7 3256.7L638.7 3258L623.3 3243.3L608 3233.3L592 3200L576.7 3193.3L560.7 3142L545.3 3143.3L530 3095.3L514 3056.7L498.7 3023.3L482.7 2990L466.7 2970L451.3 2953.3L435.3 2940L419.3 2950L403.3 2951.3L387.3 2950L371.3 2978L355.3 3056.7L340 3160L324.7 3223.3L308 3258L293.3 3256.7L277.3 3260L261.3 3255.3L245.3 3250L230 3236.7L213.3 3246.7L198.7 3250L183.3 3235.3L166.7 3251.3L152 3256.7Z" fill="#bcbec0"/>
<path d="M152 3245.3L166.7 3242L183.3 3226.7L198.7 3241.3L213.3 3238L230 3226.7L245.3 3235.3L261.3 3234.7L277.3 3234.7L293.3 3225.3L308 3223.3L324.7 3183.3L340 3096.7L355.3 3016.7L371.3 2938L387.3 2900L403.3 2893.3L419.3 2886.7L435.3 2884.7L451.3 2888.7L466.7 2906.7L482.7 2926.7L498.7 2951.3L514 2980L530 3010L545.3 3048L560.7 3056.7L576.7 3091.3L592 3105.3L608 3131.3L623.3 3144.7L638.7 3162L654.7 3166L670 3196.7L685.3 3180L701.3 3187.3" fill="none" stroke="#231f20" stroke-width="5.3" stroke-linejoin="round"/>
<path d="M760 3213.3L775.3 3224.7L791.3 3228.7L806.7 3223.3L823.3 3242L838.7 3235.3L854.7 3222L870 3222L886 3200L901.3 3180L917.3 3162L933.3 3158L948.7 3140L964.7 3108L980 3123.3L996 3123.3L1012 3140L1027.3 3114.7L1043.3 3146.7L1059.3 3163.3L1074.7 3124.7L1090.7 3122L1106.7 3115.3L1122 3106.7L1138 3120L1153.3 3133.3L1169.3 3131.3L1184.7 3146.7L1200.7 3140L1216.7 3160L1232 3162L1248 3196.7L1263.3 3193.3L1279.3 3208.7L1295.3 3223.3L1311.3 3210L1311.3 3266.7L1295.3 3280L1279.3 3266.7L1263.3 3248.7L1248 3246.7L1232 3242L1216.7 3240L1200.7 3238L1184.7 3242L1169.3 3243.3L1153.3 3238L1138 3223.3L1122 3230L1106.7 3235.3L1090.7 3233.3L1074.7 3255.3L1059.3 3251.3L1043.3 3236.7L1027.3 3224.7L1012 3222L996 3211.3L980 3203.3L964.7 3183.3L948.7 3200L933.3 3218L917.3 3222L901.3 3224.7L886 3230L870 3236.7L854.7 3236.7L838.7 3250L823.3 3253.3L806.7 3243.3L791.3 3244.7L775.3 3238L760 3224.7Z" fill="#bcbec0"/>
<path d="M760 3218L775.3 3231.3L791.3 3236.7L806.7 3233.3L823.3 3248.7L838.7 3243.3L854.7 3228.7L870 3230L886 3215.3L901.3 3204.7L917.3 3193.3L933.3 3188.7L948.7 3170L964.7 3144.7L980 3162L996 3168.7L1012 3181.3L1027.3 3168.7L1043.3 3190L1059.3 3206.7L1074.7 3190L1090.7 3178L1106.7 3174.7L1122 3168L1138 3171.3L1153.3 3185.3L1169.3 3188L1184.7 3194.7L1200.7 3188L1216.7 3200L1232 3202L1248 3222L1263.3 3221.3L1279.3 3240L1295.3 3253.3L1311.3 3240" fill="none" stroke="#231f20" stroke-width="5.3" stroke-linejoin="round"/>
<path d="M1370 3216.7L1385.3 3231.3L1401.3 3234L1416.7 3223.3L1432.7 3228.7L1448 3218L1464 3203.3L1480 3211.3L1495.3 3212L1511.3 3206.7L1526.7 3204.7L1542.7 3195.3L1558.7 3185.3L1574 3174.7L1590 3174.7L1605.3 3176.7L1621.3 3188.7L1637.3 3185.3L1652.7 3183.3L1668.7 3191.3L1684 3183.3L1700 3178.7L1716 3180L1731.3 3170L1747.3 3168.7L1762.7 3170L1778.7 3169.3L1794 3168.7L1810 3172L1826 3176.7L1841.3 3185.3L1857.3 3198L1872.7 3196.7L1888.7 3191.3L1904 3186.7L1920 3183.3L1920 3248L1904 3243.3L1888.7 3256.7L1872.7 3264.7L1857.3 3268.7L1841.3 3278L1826 3264.7L1810 3271.3L1794 3271.3L1778.7 3280L1762.7 3282L1747.3 3270L1731.3 3266.7L1716 3278L1700 3271.3L1684 3262L1668.7 3264.7L1652.7 3253.3L1637.3 3245.3L1621.3 3244.7L1605.3 3248L1590 3222L1574 3222L1558.7 3231.3L1542.7 3238L1526.7 3250L1511.3 3268L1495.3 3264.7L1480 3250L1464 3235.3L1448 3248.7L1432.7 3242L1416.7 3235.3L1401.3 3246.7L1385.3 3244.7L1370 3236.7Z" fill="#bcbec0"/>
<path d="M1370 3226.7L1385.3 3240L1401.3 3242L1416.7 3230L1432.7 3236.7L1448 3234L1464 3220L1480 3230L1495.3 3238.7L1511.3 3237.3L1526.7 3226.7L1542.7 3216.7L1558.7 3208L1574 3198L1590 3198L1605.3 3213.3L1621.3 3216.7L1637.3 3218.7L1652.7 3219.3L1668.7 3228.7L1684 3222L1700 3222L1716 3228.7L1731.3 3218L1747.3 3220L1762.7 3230L1778.7 3225.3L1794 3220L1810 3221.3L1826 3220.7L1841.3 3231.3L1857.3 3233.3L1872.7 3231.3L1888.7 3225.3L1904 3215.3L1920 3216" fill="none" stroke="#231f20" stroke-width="5.3" stroke-linejoin="round"/>
<path d="M1979.3 3226.7L1994.7 3230L2010.7 3231.3L2026 3228.7L2042 3233.3L2057.3 3235.3L2073.3 3230L2088.7 3208.7L2104.7 3203.3L2120 3183.3L2136 3146.7L2151.3 3100L2167.3 3060L2182.7 3006.7L2198.7 2970L2214.7 2926.7L2230 2883.3L2246 2850L2261.3 2806.7L2277.3 2816.7L2293.3 2803.3L2308.7 2793.3L2324.7 2820L2340 2843.3L2356 2870L2372 2900L2387.3 2940L2403.3 2935.3L2418.7 2986.7L2434.7 3000L2450 2998L2466 2998L2481.3 2996.7L2497.3 3002L2512.7 3015.3L2528.7 3000L2528.7 3158L2512.7 3153.3L2497.3 3128.7L2481.3 3114.7L2466 3103.3L2450 3086.7L2434.7 3058L2418.7 3046.7L2403.3 2986.7L2387.3 2984.7L2372 2933.3L2356 2900L2340 2883.3L2324.7 2840L2308.7 2820L2293.3 2828.7L2277.3 2848.7L2261.3 2850L2246 2920L2230 2973.3L2214.7 3006.7L2198.7 3036.7L2182.7 3060L2167.3 3113.3L2151.3 3153.3L2136 3200L2120 3236.7L2104.7 3246.7L2088.7 3236.7L2073.3 3253.3L2057.3 3243.3L2042 3240L2026 3248.7L2010.7 3240L1994.7 3250L1979.3 3253.3Z" fill="#bcbec0"/>
<path d="M1979.3 3240L1994.7 3240L2010.7 3235.3L2026 3238.7L2042 3236L2057.3 3238.7L2073.3 3241.3L2088.7 3222L2104.7 3224.7L2120 3210L2136 3173.3L2151.3 3126.7L2167.3 3086.7L2182.7 3033.3L2198.7 3003.3L2214.7 2970L2230 2930L2246 2886.7L2261.3 2828.7L2277.3 2833.3L2293.3 2816.7L2308.7 2808L2324.7 2830L2340 2863.3L2356 2883.3L2372 2916.7L2387.3 2963.3L2403.3 2960L2418.7 3015.3L2434.7 3030L2450 3043.3L2466 3051.3L2481.3 3055.3L2497.3 3066.7L2512.7 3085.3L2528.7 3080" fill="none" stroke="#231f20" stroke-width="5.3" stroke-linejoin="round"/>
</g>
<path d="M152 2781.2V3282.8" stroke="#000" stroke-width="4.2"/>
<path d="M149.9 3280.7H703.5" stroke="#000" stroke-width="4.2"/>
<path d="M152 2783.3h-25M152 3236.7h-25" stroke="#000" stroke-width="4.2"/>
<path d="M152 3280.7v22M308.5 3280.7v22M465.5 3280.7v22M622.7 3280.7v22" stroke="#000" stroke-width="4.2"/>
<path d="M760 2781.2V3282.8" stroke="#000" stroke-width="4.2"/>
<path d="M757.9 3280.7H1312" stroke="#000" stroke-width="4.2"/>
<path d="M760 2783.3h-25M760 3236.7h-25" stroke="#000" stroke-width="4.2"/>
<path d="M760 3280.7v22M917.7 3280.7v22M1074.7 3280.7v22M1232 3280.7v22" stroke="#000" stroke-width="4.2"/>
<path d="M1370 2781.2V3282.8" stroke="#000" stroke-width="4.2"/>
<path d="M1367.9 3280.7H1921.5" stroke="#000" stroke-width="4.2"/>
<path d="M1370 2783.3h-25M1370 3236.7h-25" stroke="#000" stroke-width="4.2"/>
<path d="M1370 3280.7v22M1527 3280.7v22M1684 3280.7v22M1841 3280.7v22" stroke="#000" stroke-width="4.2"/>
<path d="M1979 2781.2V3282.8" stroke="#000" stroke-width="4.2"/>
<path d="M1976.9 3280.7H2530.5" stroke="#000" stroke-width="4.2"/>
<path d="M1979 2783.3h-25M1979 3236.7h-25" stroke="#000" stroke-width="4.2"/>
<path d="M1979 3280.7v22M2136 3280.7v22M2293 3280.7v22M2450 3280.7v22" stroke="#000" stroke-width="4.2"/>
<text x="409" y="2755" text-anchor="middle">Hit</text>
<text x="1004.7" y="2755" text-anchor="middle">Miss</text>
<text x="1644" y="2755" text-anchor="middle">Correct rejection</text>
<text x="2270.7" y="2755" text-anchor="middle">False alarm</text>
<text x="100" y="2803.5" text-anchor="end">1</text>
<text x="103" y="3254.5" text-anchor="end">0</text>
<text x="140" y="3357.5" text-anchor="middle">-1</text>
<text x="304.5" y="3357.5" text-anchor="middle">0</text>
<text x="461.5" y="3357.5" text-anchor="middle">1</text>
<text x="618.7" y="3357.5" text-anchor="middle">2</text>
<text x="426.7" y="3413" text-anchor="middle">Time from tone (s)</text>
<text transform="translate(48,3040) rotate(-90)" text-anchor="middle">GRAB<tspan font-size="28.5" dy="10">NE</tspan><tspan dy="-10"> &#916;F/F (norm.)</tspan></text>
<text x="2617" y="2708" font-weight="bold" font-size="66">n</text>
<path d="M3006 2773V3298" stroke="#231f20" stroke-width="2.4" stroke-dasharray="25 15"/>
<path d="M2819.2 3145.8L2840.1 3099.3L2861.8 3052.8L2883.5 3014.1L2905.2 2963.7L2926.1 2913.4L2947.8 2866.9L2968.7 2824.3L2990.4 2797.2L3011.3 2789.4L3033 2797.2L3053.9 2847.5L3075.6 2901.8L3096.6 2956L3118.2 3010.2L3139.2 3064.4L3160.8 3114.8L3182.5 3157.4L3203.5 3196.1L3225.1 3231L3246.1 3258.1" fill="none" stroke="#c8c9cb" stroke-width="8" stroke-linejoin="round"/>
<path d="M2819.2 3145.8L2840.1 3099.3L2861.8 3052.8L2883.5 3014.1L2905.2 2963.7L2926.1 2913.4L2947.8 2866.9L2968.7 2824.3L2990.4 2797.2L3011.3 2789.4L3033 2797.2L3053.9 2847.5L3075.6 2901.8L3096.6 2956L3118.2 3010.2L3139.2 3064.4L3160.8 3114.8L3182.5 3157.4L3203.5 3196.1L3225.1 3231L3246.1 3258.1" fill="none" stroke="#000" stroke-width="5.4" stroke-linejoin="round"/>
<path d="M2819 2746.3V3299.7" stroke="#000" stroke-width="4.2"/>
<path d="M2816.9 3297.6H3249.1" stroke="#000" stroke-width="4.2"/>
<path d="M2819 2748.4h-14" stroke="#000" stroke-width="4.2"/>
<path d="M2819 3297.6v14M3033 3297.6v14M3247 3297.6v14" stroke="#000" stroke-width="4.2"/>
<path d="M3466 2773V3298" stroke="#231f20" stroke-width="2.4" stroke-dasharray="25 15"/>
<path d="M3299.5 3149.7L3320.4 3083.8L3342.1 3020.3L3363.8 2959.9L3384.7 2901.8L3408.5 2849.9L3427.1 2822.1L3447.9 2805.9L3468.7 2802.7L3491 2815.2L3512.7 2840.6L3529 2877.7L3547.5 2924L3566 2970.3L3584.5 3016.6L3603.1 3063L3621.6 3107L3640.1 3151L3658.6 3192.7L3677.2 3227.4L3695.7 3252.9L3714.2 3271.4L3725.3 3279.7" fill="none" stroke="#c8c9cb" stroke-width="13" stroke-linejoin="round"/>
<path d="M3299.5 3149.7L3320.4 3083.8L3342.1 3020.3L3363.8 2959.9L3384.7 2901.8L3408.5 2849.9L3427.1 2822.1L3447.9 2805.9L3468.7 2802.7L3491 2815.2L3512.7 2840.6L3529 2877.7L3547.5 2924L3566 2970.3L3584.5 3016.6L3603.1 3063L3621.6 3107L3640.1 3151L3658.6 3192.7L3677.2 3227.4L3695.7 3252.9L3714.2 3271.4L3725.3 3279.7" fill="none" stroke="#000" stroke-width="5.4" stroke-linejoin="round"/>
<path d="M3299.5 2746.3V3299.7" stroke="#000" stroke-width="4.2"/>
<path d="M3297.4 3297.6H3727.7" stroke="#000" stroke-width="4.2"/>
<path d="M3299.5 2748.4h-14" stroke="#000" stroke-width="4.2"/>
<path d="M3299.5 3297.6v14M3512.5 3297.6v14M3725.6 3297.6v14" stroke="#000" stroke-width="4.2"/>
<path d="M2819 3297.6h-14" stroke="#000" stroke-width="4.2"/>
<text x="3031.5" y="2743" text-anchor="middle">False alarm</text>
<text x="3515.6" y="2743" text-anchor="middle">Hit</text>
<text x="2796" y="2753.5" text-anchor="end">1</text>
<text x="2795" y="3315" text-anchor="end">0</text>
<text x="2816" y="3362.7" text-anchor="middle">-1</text>
<text x="3033" y="3362.7" text-anchor="middle">0</text>
<text x="3247" y="3362.7" text-anchor="middle">1</text>
<text x="3031.5" y="3221.7">-0.12</text>
<text x="3031.5" y="3279">&#177; 0.02 s</text>
<text x="3494.7" y="3221.7">-0.22</text>
<text x="3494.7" y="3279">&#177; 0.03 s</text>
<text x="3285.6" y="3441.7" text-anchor="middle">Lags (LC-axons - GRAB<tspan font-size="28.5" dy="12">NE</tspan><tspan dy="-12">) (s)</tspan></text>
<text text-anchor="middle" transform="translate(2681,3019) rotate(-90)">Normalized xcorr</text>
<text transform="translate(2740,3020) rotate(-90)" text-anchor="middle">(LC-axons vs. GRAB<tspan font-size="28.5" dy="10">NE</tspan><tspan dy="-10">)</tspan></text>
<text x="3814" y="2708" font-weight="bold" font-size="66">o</text>
<path d="M4030.8 2784.9V3295.1" stroke="#000" stroke-width="4.2"/>
<path d="M4010 3293H4238.5" stroke="#000" stroke-width="4.2"/>
<path d="M4030.8 2787h-16" stroke="#000" stroke-width="4.2"/>
<path d="M4012 3207.7H4240" stroke="#231f20" stroke-width="2.4" stroke-dasharray="22 17"/>
<path d="M4092 3293v20M4175.7 3293v20" stroke="#000" stroke-width="4.2"/>
<path d="M4092 2791.8V3259.7" stroke="#000" stroke-width="4"/>
<rect x="4079.6" y="2833.6" width="24.8" height="170.4" fill="#000"/>
<path d="M4068 2898H4116" stroke="#000" stroke-width="4"/>
<path d="M4175.7 2789.4V3262" stroke="#000" stroke-width="4"/>
<rect x="4163.3" y="2878.5" width="24.8" height="187.5" fill="#000"/>
<path d="M4151.7 2957.5H4199.7" stroke="#000" stroke-width="4"/>
<text x="3978" y="2796" text-anchor="end">1</text>
<text x="3984" y="3220" text-anchor="end">0</text>
<text x="4087" y="3361" text-anchor="middle">FA</text>
<text x="4168.7" y="3361" text-anchor="middle">Hit</text>
<text text-anchor="middle" transform="translate(3879,3041) rotate(-90)">Pearson r</text>
<text transform="translate(3938,3033) rotate(-90)" text-anchor="middle">(LC-axons vs. GRAB<tspan font-size="28.5" dy="10">NE</tspan><tspan dy="-10">)</tspan></text></svg></body></html>
